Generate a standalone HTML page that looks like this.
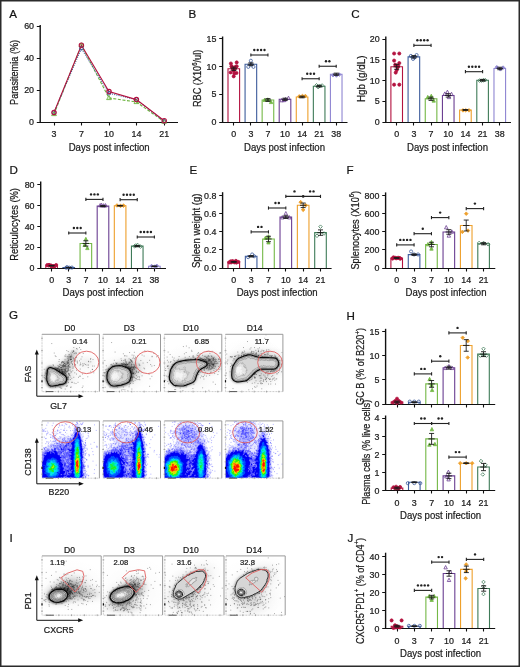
<!DOCTYPE html>
<html><head><meta charset="utf-8"><style>
html,body{margin:0;padding:0;background:#fff;width:520px;height:667px;overflow:hidden}
svg{display:block;font-family:"Liberation Sans",sans-serif;will-change:transform}
text{stroke:#1a1a1a;stroke-width:0.22px}
</style></head><body>
<svg width="520" height="667" viewBox="0 0 520 667">
<rect x='0.75' y='0.75' width='518.5' height='665.5' fill='#fff' stroke='#2b2b2b' stroke-width='1.5'/>
<text x='9.2' y='18.2' font-size='11.6' text-anchor='start' fill='#111'>A</text>
<text x='188.6' y='18.2' font-size='11.6' text-anchor='start' fill='#111'>B</text>
<text x='351.3' y='18.2' font-size='11.6' text-anchor='start' fill='#111'>C</text>
<text x='9.4' y='173.5' font-size='11.6' text-anchor='start' fill='#111'>D</text>
<text x='189.6' y='173.5' font-size='11.6' text-anchor='start' fill='#111'>E</text>
<text x='346.6' y='173.5' font-size='11.6' text-anchor='start' fill='#111'>F</text>
<text x='9.1' y='319.3' font-size='11.6' text-anchor='start' fill='#111'>G</text>
<text x='346.4' y='319.5' font-size='11.6' text-anchor='start' fill='#111'>H</text>
<text x='9.4' y='541.6' font-size='11.6' text-anchor='start' fill='#111'>I</text>
<text x='347.4' y='541.6' font-size='11.6' text-anchor='start' fill='#111'>J</text>
<line x1='40.2' y1='25' x2='40.2' y2='122.5' stroke='#111' stroke-width='1.4' />
<line x1='36.800000000000004' y1='122.5' x2='178' y2='122.5' stroke='#111' stroke-width='1.15' />
<text x='34.0' y='125.2' font-size='8.9' text-anchor='end' fill='#1a1a1a'>0</text>
<line x1='36.800000000000004' y1='90.5' x2='40.2' y2='90.5' stroke='#111' stroke-width='1.0' />
<text x='34.0' y='93.2' font-size='8.9' text-anchor='end' fill='#1a1a1a'>20</text>
<line x1='36.800000000000004' y1='58.5' x2='40.2' y2='58.5' stroke='#111' stroke-width='1.0' />
<text x='34.0' y='61.2' font-size='8.9' text-anchor='end' fill='#1a1a1a'>40</text>
<line x1='36.800000000000004' y1='26.5' x2='40.2' y2='26.5' stroke='#111' stroke-width='1.0' />
<text x='34.0' y='29.2' font-size='8.9' text-anchor='end' fill='#1a1a1a'>60</text>
<line x1='54.5' y1='122.5' x2='54.5' y2='125.5' stroke='#111' stroke-width='1.1' />
<text x='54' y='137.2' font-size='8.9' text-anchor='middle' fill='#1a1a1a'>3</text>
<line x1='81.5' y1='122.5' x2='81.5' y2='125.5' stroke='#111' stroke-width='1.1' />
<text x='81.4' y='137.2' font-size='8.9' text-anchor='middle' fill='#1a1a1a'>7</text>
<line x1='109.5' y1='122.5' x2='109.5' y2='125.5' stroke='#111' stroke-width='1.1' />
<text x='109' y='137.2' font-size='8.9' text-anchor='middle' fill='#1a1a1a'>10</text>
<line x1='136.5' y1='122.5' x2='136.5' y2='125.5' stroke='#111' stroke-width='1.1' />
<text x='136.4' y='137.2' font-size='8.9' text-anchor='middle' fill='#1a1a1a'>14</text>
<line x1='164.5' y1='122.5' x2='164.5' y2='125.5' stroke='#111' stroke-width='1.1' />
<text x='164.2' y='137.2' font-size='8.9' text-anchor='middle' fill='#1a1a1a'>21</text>
<path d='M54.00,114.00 L81.40,45.20 L109.00,98.00 L136.40,102.00 L164.20,121.68' fill='none' stroke='#6db33f' stroke-width='1.1' stroke-dasharray='3,1.6'/>
<path d='M54.00,112.40 L81.40,48.40 L109.00,93.20 L136.40,99.60 L164.20,121.36' fill='none' stroke='#3d5c9c' stroke-width='1.1' stroke-dasharray='1,1.2'/>
<path d='M54.00,112.40 L81.40,45.20 L109.00,91.60 L136.40,99.60 L164.20,120.72' fill='none' stroke='#b3123f' stroke-width='1.1' stroke-dasharray=''/>
<path d='M54,111.6 L56.4,115.6 L51.6,115.6 Z' fill='none' stroke='#6db33f' stroke-width='0.9'/>
<path d='M81.4,42.79999999999999 L83.80000000000001,46.79999999999999 L79.0,46.79999999999999 Z' fill='none' stroke='#6db33f' stroke-width='0.9'/>
<path d='M109,95.6 L111.4,99.6 L106.6,99.6 Z' fill='none' stroke='#6db33f' stroke-width='0.9'/>
<path d='M136.4,99.6 L138.8,103.6 L134.0,103.6 Z' fill='none' stroke='#6db33f' stroke-width='0.9'/>
<path d='M164.2,119.28 L166.6,123.28 L161.79999999999998,123.28 Z' fill='none' stroke='#6db33f' stroke-width='0.9'/>
<circle cx='54' cy='112.4' r='1.8' fill='none' stroke='#3d5c9c' stroke-width='0.9'/>
<circle cx='81.4' cy='48.39999999999999' r='1.8' fill='none' stroke='#3d5c9c' stroke-width='0.9'/>
<circle cx='109' cy='93.2' r='1.8' fill='none' stroke='#3d5c9c' stroke-width='0.9'/>
<circle cx='136.4' cy='99.6' r='1.8' fill='none' stroke='#3d5c9c' stroke-width='0.9'/>
<circle cx='164.2' cy='121.36' r='1.8' fill='none' stroke='#3d5c9c' stroke-width='0.9'/>
<circle cx='54' cy='112.4' r='2.2' fill='none' stroke='#b3123f' stroke-width='1.1'/>
<circle cx='81.4' cy='45.19999999999999' r='2.2' fill='none' stroke='#b3123f' stroke-width='1.1'/>
<circle cx='109' cy='91.6' r='2.2' fill='none' stroke='#b3123f' stroke-width='1.1'/>
<circle cx='136.4' cy='99.6' r='2.2' fill='none' stroke='#b3123f' stroke-width='1.1'/>
<circle cx='164.2' cy='120.72' r='2.2' fill='none' stroke='#b3123f' stroke-width='1.1'/>
<text transform='translate(14.4,72.4) rotate(-90)' x='0' y='0' font-size='10' text-anchor='middle' dominant-baseline='central' fill='#1a1a1a' textLength='65' lengthAdjust='spacingAndGlyphs'>Parasitemia (%)</text>
<text x='109.2' y='151' font-size='10.5' text-anchor='middle' fill='#1a1a1a' textLength='81' lengthAdjust='spacingAndGlyphs'>Days post infection</text>
<path d='M228.00,122.00 L228.00,68.75 L239.60,68.75 L239.60,122.00' fill='none' stroke='#b3123f' stroke-width='1.1'/>
<path d='M245.07,122.00 L245.07,64.24 L256.67,64.24 L256.67,122.00' fill='none' stroke='#3d5c9c' stroke-width='1.1'/>
<path d='M262.14,122.00 L262.14,100.00 L273.74,100.00 L273.74,122.00' fill='none' stroke='#74b846' stroke-width='1.1'/>
<path d='M279.21,122.00 L279.21,99.27 L290.81,99.27 L290.81,122.00' fill='none' stroke='#6b3f92' stroke-width='1.1'/>
<path d='M296.28,122.00 L296.28,96.99 L307.88,96.99 L307.88,122.00' fill='none' stroke='#eea02c' stroke-width='1.1'/>
<path d='M313.35,122.00 L313.35,86.24 L324.95,86.24 L324.95,122.00' fill='none' stroke='#3f7b58' stroke-width='1.1'/>
<path d='M330.42,122.00 L330.42,74.27 L342.02,74.27 L342.02,122.00' fill='none' stroke='#8f86d2' stroke-width='1.1'/>
<line x1='222.6' y1='36.5' x2='222.6' y2='122.5' stroke='#111' stroke-width='1.4' />
<line x1='219.2' y1='122.5' x2='347.5' y2='122.5' stroke='#111' stroke-width='1.15' />
<text x='216.4' y='125.2' font-size='8.9' text-anchor='end' fill='#1a1a1a'>0</text>
<line x1='219.2' y1='94.5' x2='222.6' y2='94.5' stroke='#111' stroke-width='1.0' />
<text x='216.4' y='97.35000000000001' font-size='8.9' text-anchor='end' fill='#1a1a1a'>5</text>
<line x1='219.2' y1='66.5' x2='222.6' y2='66.5' stroke='#111' stroke-width='1.0' />
<text x='216.4' y='69.5' font-size='8.9' text-anchor='end' fill='#1a1a1a'>10</text>
<line x1='219.2' y1='38.5' x2='222.6' y2='38.5' stroke='#111' stroke-width='1.0' />
<text x='216.4' y='41.64999999999999' font-size='8.9' text-anchor='end' fill='#1a1a1a'>15</text>
<line x1='233.5' y1='122.5' x2='233.5' y2='125.5' stroke='#111' stroke-width='1.1' />
<text x='233.8' y='137.2' font-size='8.9' text-anchor='middle' fill='#1a1a1a'>0</text>
<line x1='250.5' y1='122.5' x2='250.5' y2='125.5' stroke='#111' stroke-width='1.1' />
<text x='250.87' y='137.2' font-size='8.9' text-anchor='middle' fill='#1a1a1a'>3</text>
<line x1='267.5' y1='122.5' x2='267.5' y2='125.5' stroke='#111' stroke-width='1.1' />
<text x='267.94' y='137.2' font-size='8.9' text-anchor='middle' fill='#1a1a1a'>7</text>
<line x1='285.5' y1='122.5' x2='285.5' y2='125.5' stroke='#111' stroke-width='1.1' />
<text x='285.01' y='137.2' font-size='8.9' text-anchor='middle' fill='#1a1a1a'>10</text>
<line x1='302.5' y1='122.5' x2='302.5' y2='125.5' stroke='#111' stroke-width='1.1' />
<text x='302.08000000000004' y='137.2' font-size='8.9' text-anchor='middle' fill='#1a1a1a'>14</text>
<line x1='319.5' y1='122.5' x2='319.5' y2='125.5' stroke='#111' stroke-width='1.1' />
<text x='319.15' y='137.2' font-size='8.9' text-anchor='middle' fill='#1a1a1a'>21</text>
<line x1='336.5' y1='122.5' x2='336.5' y2='125.5' stroke='#111' stroke-width='1.1' />
<text x='336.22' y='137.2' font-size='8.9' text-anchor='middle' fill='#1a1a1a'>38</text>
<circle cx='230.90' cy='63.52' r='1.55' fill='#b3123f' stroke='#b3123f' stroke-width='0.8'/>
<circle cx='236.70' cy='62.40' r='1.55' fill='#b3123f' stroke='#b3123f' stroke-width='0.8'/>
<circle cx='231.50' cy='66.30' r='1.55' fill='#b3123f' stroke='#b3123f' stroke-width='0.8'/>
<circle cx='236.70' cy='66.30' r='1.55' fill='#b3123f' stroke='#b3123f' stroke-width='0.8'/>
<circle cx='233.00' cy='69.08' r='1.55' fill='#b3123f' stroke='#b3123f' stroke-width='0.8'/>
<circle cx='235.00' cy='68.53' r='1.55' fill='#b3123f' stroke='#b3123f' stroke-width='0.8'/>
<circle cx='233.80' cy='70.76' r='1.55' fill='#b3123f' stroke='#b3123f' stroke-width='0.8'/>
<circle cx='230.60' cy='72.43' r='1.55' fill='#b3123f' stroke='#b3123f' stroke-width='0.8'/>
<circle cx='236.50' cy='72.98' r='1.55' fill='#b3123f' stroke='#b3123f' stroke-width='0.8'/>
<circle cx='233.70' cy='76.33' r='1.55' fill='#b3123f' stroke='#b3123f' stroke-width='0.8'/>
<circle cx='232.00' cy='66.86' r='1.55' fill='#b3123f' stroke='#b3123f' stroke-width='0.8'/>
<circle cx='235.60' cy='66.86' r='1.55' fill='#b3123f' stroke='#b3123f' stroke-width='0.8'/>
<circle cx='234.30' cy='73.54' r='1.55' fill='#b3123f' stroke='#b3123f' stroke-width='0.8'/>
<line x1='233.8' y1='67.07979999999999' x2='233.8' y2='70.42179999999999' stroke='#1a1a1a' stroke-width='0.9' />
<line x1='231.3' y1='67.07979999999999' x2='236.3' y2='67.07979999999999' stroke='#1a1a1a' stroke-width='0.9' />
<line x1='231.3' y1='70.42179999999999' x2='236.3' y2='70.42179999999999' stroke='#1a1a1a' stroke-width='0.9' />
<line x1='230.60000000000002' y1='68.7508' x2='237.0' y2='68.7508' stroke='#1a1a1a' stroke-width='0.9' />
<circle cx='250.87' cy='60.73' r='1.55' fill='none' stroke='#3d5c9c' stroke-width='0.8'/>
<circle cx='248.27' cy='66.86' r='1.55' fill='none' stroke='#3d5c9c' stroke-width='0.8'/>
<circle cx='253.47' cy='66.86' r='1.55' fill='none' stroke='#3d5c9c' stroke-width='0.8'/>
<circle cx='251.07' cy='64.63' r='1.55' fill='none' stroke='#3d5c9c' stroke-width='0.8'/>
<line x1='250.87' y1='62.8466' x2='250.87' y2='65.63159999999999' stroke='#1a1a1a' stroke-width='0.9' />
<line x1='248.37' y1='62.8466' x2='253.37' y2='62.8466' stroke='#1a1a1a' stroke-width='0.9' />
<line x1='248.37' y1='65.63159999999999' x2='253.37' y2='65.63159999999999' stroke='#1a1a1a' stroke-width='0.9' />
<line x1='247.67000000000002' y1='64.23910000000001' x2='254.07' y2='64.23910000000001' stroke='#1a1a1a' stroke-width='0.9' />
<path d='M264.63,98.07 L266.33,101.44 L262.92,101.44 Z' fill='#74b846' stroke='#74b846' stroke-width='0.8'/>
<path d='M267.78,97.81 L269.49,101.18 L266.08,101.18 Z' fill='#74b846' stroke='#74b846' stroke-width='0.8'/>
<path d='M271.09,100.21 L272.80,103.58 L269.39,103.58 Z' fill='#74b846' stroke='#74b846' stroke-width='0.8'/>
<line x1='267.94' y1='98.606' x2='267.94' y2='101.39099999999999' stroke='#1a1a1a' stroke-width='0.9' />
<line x1='265.44' y1='98.606' x2='270.44' y2='98.606' stroke='#1a1a1a' stroke-width='0.9' />
<line x1='265.44' y1='101.39099999999999' x2='270.44' y2='101.39099999999999' stroke='#1a1a1a' stroke-width='0.9' />
<line x1='264.74' y1='99.99849999999999' x2='271.14' y2='99.99849999999999' stroke='#1a1a1a' stroke-width='0.9' />
<path d='M281.69,98.48 L283.40,101.85 L279.99,101.85 Z' fill='none' stroke='#6b3f92' stroke-width='0.8'/>
<path d='M283.89,98.31 L285.59,101.68 L282.18,101.68 Z' fill='none' stroke='#6b3f92' stroke-width='0.8'/>
<path d='M285.49,97.49 L287.19,100.86 L283.78,100.86 Z' fill='none' stroke='#6b3f92' stroke-width='0.8'/>
<path d='M288.51,96.15 L290.22,99.52 L286.81,99.52 Z' fill='none' stroke='#6b3f92' stroke-width='0.8'/>
<line x1='285.01' y1='98.1604' x2='285.01' y2='100.3884' stroke='#1a1a1a' stroke-width='0.9' />
<line x1='282.51' y1='98.1604' x2='287.51' y2='98.1604' stroke='#1a1a1a' stroke-width='0.9' />
<line x1='282.51' y1='100.3884' x2='287.51' y2='100.3884' stroke='#1a1a1a' stroke-width='0.9' />
<line x1='281.81' y1='99.2744' x2='288.21' y2='99.2744' stroke='#1a1a1a' stroke-width='0.9' />
<path d='M299.23,94.61 L301.01,96.40 L299.23,98.18 L297.44,96.40 Z' fill='#eea02c' stroke='#eea02c' stroke-width='0.8'/>
<path d='M302.43,94.17 L304.22,95.95 L302.43,97.73 L300.65,95.95 Z' fill='#eea02c' stroke='#eea02c' stroke-width='0.8'/>
<path d='M305.37,94.21 L307.15,95.99 L305.37,97.78 L303.59,95.99 Z' fill='#eea02c' stroke='#eea02c' stroke-width='0.8'/>
<line x1='302.08000000000004' y1='96.1552' x2='302.08000000000004' y2='97.8262' stroke='#1a1a1a' stroke-width='0.9' />
<line x1='299.58000000000004' y1='96.1552' x2='304.58000000000004' y2='96.1552' stroke='#1a1a1a' stroke-width='0.9' />
<line x1='299.58000000000004' y1='97.8262' x2='304.58000000000004' y2='97.8262' stroke='#1a1a1a' stroke-width='0.9' />
<line x1='298.88000000000005' y1='96.9907' x2='305.28000000000003' y2='96.9907' stroke='#1a1a1a' stroke-width='0.9' />
<path d='M316.50,83.49 L318.28,85.28 L316.50,87.06 L314.72,85.28 Z' fill='none' stroke='#3f7b58' stroke-width='0.8'/>
<path d='M318.13,85.37 L319.91,87.15 L318.13,88.93 L316.35,87.15 Z' fill='none' stroke='#3f7b58' stroke-width='0.8'/>
<path d='M319.55,84.03 L321.33,85.81 L319.55,87.59 L317.77,85.81 Z' fill='none' stroke='#3f7b58' stroke-width='0.8'/>
<path d='M322.11,83.70 L323.90,85.48 L322.11,87.27 L320.33,85.48 Z' fill='none' stroke='#3f7b58' stroke-width='0.8'/>
<line x1='319.15' y1='85.4051' x2='319.15' y2='87.0761' stroke='#1a1a1a' stroke-width='0.9' />
<line x1='316.65' y1='85.4051' x2='321.65' y2='85.4051' stroke='#1a1a1a' stroke-width='0.9' />
<line x1='316.65' y1='87.0761' x2='321.65' y2='87.0761' stroke='#1a1a1a' stroke-width='0.9' />
<line x1='315.95' y1='86.2406' x2='322.34999999999997' y2='86.2406' stroke='#1a1a1a' stroke-width='0.9' />
<path d='M333.01,73.48 L334.79,75.26 L333.01,77.05 L331.23,75.26 Z' fill='#8f86d2' stroke='#8f86d2' stroke-width='0.8'/>
<path d='M336.40,73.74 L338.18,75.53 L336.40,77.31 L334.62,75.53 Z' fill='#8f86d2' stroke='#8f86d2' stroke-width='0.8'/>
<path d='M339.26,72.76 L341.05,74.55 L339.26,76.33 L337.48,74.55 Z' fill='#8f86d2' stroke='#8f86d2' stroke-width='0.8'/>
<line x1='336.22' y1='73.1511' x2='336.22' y2='75.3791' stroke='#1a1a1a' stroke-width='0.9' />
<line x1='333.72' y1='73.1511' x2='338.72' y2='73.1511' stroke='#1a1a1a' stroke-width='0.9' />
<line x1='333.72' y1='75.3791' x2='338.72' y2='75.3791' stroke='#1a1a1a' stroke-width='0.9' />
<line x1='333.02000000000004' y1='74.26509999999999' x2='339.42' y2='74.26509999999999' stroke='#1a1a1a' stroke-width='0.9' />
<line x1='250.87' y1='55' x2='267.94' y2='55' stroke='#222' stroke-width='1.1' />
<line x1='250.87' y1='53.4' x2='250.87' y2='56.6' stroke='#222' stroke-width='1.1' />
<line x1='267.94' y1='53.4' x2='267.94' y2='56.6' stroke='#222' stroke-width='1.1' />
<circle cx='254.30' cy='50.00' r='1.2' fill='#222'/>
<circle cx='257.70' cy='50.00' r='1.2' fill='#222'/>
<circle cx='261.10' cy='50.00' r='1.2' fill='#222'/>
<circle cx='264.50' cy='50.00' r='1.2' fill='#222'/>
<line x1='302.08000000000004' y1='78.75' x2='319.15' y2='78.75' stroke='#222' stroke-width='1.1' />
<line x1='302.08000000000004' y1='77.15' x2='302.08000000000004' y2='80.35' stroke='#222' stroke-width='1.1' />
<line x1='319.15' y1='77.15' x2='319.15' y2='80.35' stroke='#222' stroke-width='1.1' />
<circle cx='307.22' cy='73.75' r='1.2' fill='#222'/>
<circle cx='310.62' cy='73.75' r='1.2' fill='#222'/>
<circle cx='314.02' cy='73.75' r='1.2' fill='#222'/>
<line x1='319.15' y1='66.25' x2='336.22' y2='66.25' stroke='#222' stroke-width='1.1' />
<line x1='319.15' y1='64.65' x2='319.15' y2='67.85' stroke='#222' stroke-width='1.1' />
<line x1='336.22' y1='64.65' x2='336.22' y2='67.85' stroke='#222' stroke-width='1.1' />
<circle cx='325.99' cy='61.25' r='1.2' fill='#222'/>
<circle cx='329.38' cy='61.25' r='1.2' fill='#222'/>
<text transform='translate(197.5,78.4) rotate(-90)' x='0' y='0' font-size='10' text-anchor='middle' dominant-baseline='central' fill='#1a1a1a' textLength='57.4' lengthAdjust='spacingAndGlyphs'>RBC (X10<tspan baseline-shift='super' font-size='6.5'>6</tspan>/ul)</text>
<text x='284.5' y='151' font-size='10.5' text-anchor='middle' fill='#1a1a1a' textLength='81' lengthAdjust='spacingAndGlyphs'>Days post infection</text>
<path d='M390.90,122.00 L390.90,66.80 L402.50,66.80 L402.50,122.00' fill='none' stroke='#b3123f' stroke-width='1.1'/>
<path d='M408.08,122.00 L408.08,56.84 L419.68,56.84 L419.68,122.00' fill='none' stroke='#3d5c9c' stroke-width='1.1'/>
<path d='M425.26,122.00 L425.26,98.76 L436.86,98.76 L436.86,122.00' fill='none' stroke='#74b846' stroke-width='1.1'/>
<path d='M442.44,122.00 L442.44,95.44 L454.04,95.44 L454.04,122.00' fill='none' stroke='#6b3f92' stroke-width='1.1'/>
<path d='M459.62,122.00 L459.62,109.97 L471.22,109.97 L471.22,122.00' fill='none' stroke='#eea02c' stroke-width='1.1'/>
<path d='M476.80,122.00 L476.80,80.29 L488.40,80.29 L488.40,122.00' fill='none' stroke='#3f7b58' stroke-width='1.1'/>
<path d='M493.98,122.00 L493.98,68.47 L505.58,68.47 L505.58,122.00' fill='none' stroke='#8f86d2' stroke-width='1.1'/>
<line x1='385.8' y1='36.5' x2='385.8' y2='122.5' stroke='#111' stroke-width='1.4' />
<line x1='382.40000000000003' y1='122.5' x2='511' y2='122.5' stroke='#111' stroke-width='1.15' />
<text x='379.6' y='125.2' font-size='8.9' text-anchor='end' fill='#1a1a1a'>0</text>
<line x1='382.40000000000003' y1='101.5' x2='385.8' y2='101.5' stroke='#111' stroke-width='1.0' />
<text x='379.6' y='104.45' font-size='8.9' text-anchor='end' fill='#1a1a1a'>5</text>
<line x1='382.40000000000003' y1='80.5' x2='385.8' y2='80.5' stroke='#111' stroke-width='1.0' />
<text x='379.6' y='83.7' font-size='8.9' text-anchor='end' fill='#1a1a1a'>10</text>
<line x1='382.40000000000003' y1='59.5' x2='385.8' y2='59.5' stroke='#111' stroke-width='1.0' />
<text x='379.6' y='62.949999999999996' font-size='8.9' text-anchor='end' fill='#1a1a1a'>15</text>
<line x1='382.40000000000003' y1='39.5' x2='385.8' y2='39.5' stroke='#111' stroke-width='1.0' />
<text x='379.6' y='42.2' font-size='8.9' text-anchor='end' fill='#1a1a1a'>20</text>
<line x1='396.5' y1='122.5' x2='396.5' y2='125.5' stroke='#111' stroke-width='1.1' />
<text x='396.7' y='137.2' font-size='8.9' text-anchor='middle' fill='#1a1a1a'>0</text>
<line x1='413.5' y1='122.5' x2='413.5' y2='125.5' stroke='#111' stroke-width='1.1' />
<text x='413.88' y='137.2' font-size='8.9' text-anchor='middle' fill='#1a1a1a'>3</text>
<line x1='431.5' y1='122.5' x2='431.5' y2='125.5' stroke='#111' stroke-width='1.1' />
<text x='431.06' y='137.2' font-size='8.9' text-anchor='middle' fill='#1a1a1a'>7</text>
<line x1='448.5' y1='122.5' x2='448.5' y2='125.5' stroke='#111' stroke-width='1.1' />
<text x='448.24' y='137.2' font-size='8.9' text-anchor='middle' fill='#1a1a1a'>10</text>
<line x1='465.5' y1='122.5' x2='465.5' y2='125.5' stroke='#111' stroke-width='1.1' />
<text x='465.41999999999996' y='137.2' font-size='8.9' text-anchor='middle' fill='#1a1a1a'>14</text>
<line x1='482.5' y1='122.5' x2='482.5' y2='125.5' stroke='#111' stroke-width='1.1' />
<text x='482.6' y='137.2' font-size='8.9' text-anchor='middle' fill='#1a1a1a'>21</text>
<line x1='499.5' y1='122.5' x2='499.5' y2='125.5' stroke='#111' stroke-width='1.1' />
<text x='499.78' y='137.2' font-size='8.9' text-anchor='middle' fill='#1a1a1a'>38</text>
<circle cx='394.10' cy='53.52' r='1.55' fill='#b3123f' stroke='#b3123f' stroke-width='0.8'/>
<circle cx='399.30' cy='53.52' r='1.55' fill='#b3123f' stroke='#b3123f' stroke-width='0.8'/>
<circle cx='394.10' cy='60.58' r='1.55' fill='#b3123f' stroke='#b3123f' stroke-width='0.8'/>
<circle cx='395.20' cy='64.73' r='1.55' fill='#b3123f' stroke='#b3123f' stroke-width='0.8'/>
<circle cx='399.30' cy='63.07' r='1.55' fill='#b3123f' stroke='#b3123f' stroke-width='0.8'/>
<circle cx='396.70' cy='65.97' r='1.55' fill='#b3123f' stroke='#b3123f' stroke-width='0.8'/>
<circle cx='397.70' cy='67.22' r='1.55' fill='#b3123f' stroke='#b3123f' stroke-width='0.8'/>
<circle cx='395.70' cy='72.61' r='1.55' fill='#b3123f' stroke='#b3123f' stroke-width='0.8'/>
<circle cx='394.10' cy='84.65' r='1.55' fill='#b3123f' stroke='#b3123f' stroke-width='0.8'/>
<circle cx='399.30' cy='84.65' r='1.55' fill='#b3123f' stroke='#b3123f' stroke-width='0.8'/>
<circle cx='396.70' cy='70.12' r='1.55' fill='#b3123f' stroke='#b3123f' stroke-width='0.8'/>
<circle cx='398.20' cy='65.56' r='1.55' fill='#b3123f' stroke='#b3123f' stroke-width='0.8'/>
<line x1='396.7' y1='64.315' x2='396.7' y2='69.29499999999999' stroke='#1a1a1a' stroke-width='0.9' />
<line x1='394.2' y1='64.315' x2='399.2' y2='64.315' stroke='#1a1a1a' stroke-width='0.9' />
<line x1='394.2' y1='69.29499999999999' x2='399.2' y2='69.29499999999999' stroke='#1a1a1a' stroke-width='0.9' />
<line x1='393.5' y1='66.80499999999999' x2='399.9' y2='66.80499999999999' stroke='#1a1a1a' stroke-width='0.9' />
<circle cx='410.85' cy='55.93' r='1.55' fill='none' stroke='#3d5c9c' stroke-width='0.8'/>
<circle cx='413.08' cy='58.92' r='1.55' fill='none' stroke='#3d5c9c' stroke-width='0.8'/>
<circle cx='414.29' cy='57.57' r='1.55' fill='none' stroke='#3d5c9c' stroke-width='0.8'/>
<circle cx='416.61' cy='55.04' r='1.55' fill='none' stroke='#3d5c9c' stroke-width='0.8'/>
<line x1='413.88' y1='55.599999999999994' x2='413.88' y2='58.09' stroke='#1a1a1a' stroke-width='0.9' />
<line x1='411.38' y1='55.599999999999994' x2='416.38' y2='55.599999999999994' stroke='#1a1a1a' stroke-width='0.9' />
<line x1='411.38' y1='58.09' x2='416.38' y2='58.09' stroke='#1a1a1a' stroke-width='0.9' />
<line x1='410.68' y1='56.845' x2='417.08' y2='56.845' stroke='#1a1a1a' stroke-width='0.9' />
<path d='M427.77,95.37 L429.48,98.74 L426.07,98.74 Z' fill='#74b846' stroke='#74b846' stroke-width='0.8'/>
<path d='M431.28,94.15 L432.99,97.51 L429.58,97.51 Z' fill='#74b846' stroke='#74b846' stroke-width='0.8'/>
<path d='M433.68,98.77 L435.39,102.14 L431.98,102.14 Z' fill='#74b846' stroke='#74b846' stroke-width='0.8'/>
<line x1='431.06' y1='97.1' x2='431.06' y2='100.42' stroke='#1a1a1a' stroke-width='0.9' />
<line x1='428.56' y1='97.1' x2='433.56' y2='97.1' stroke='#1a1a1a' stroke-width='0.9' />
<line x1='428.56' y1='100.42' x2='433.56' y2='100.42' stroke='#1a1a1a' stroke-width='0.9' />
<line x1='427.86' y1='98.75999999999999' x2='434.26' y2='98.75999999999999' stroke='#1a1a1a' stroke-width='0.9' />
<path d='M444.77,91.92 L446.47,95.29 L443.06,95.29 Z' fill='none' stroke='#6b3f92' stroke-width='0.8'/>
<path d='M447.42,90.15 L449.13,93.51 L445.72,93.51 Z' fill='none' stroke='#6b3f92' stroke-width='0.8'/>
<path d='M448.97,95.26 L450.67,98.63 L447.26,98.63 Z' fill='none' stroke='#6b3f92' stroke-width='0.8'/>
<path d='M451.52,92.25 L453.23,95.62 L449.82,95.62 Z' fill='none' stroke='#6b3f92' stroke-width='0.8'/>
<line x1='448.24' y1='93.78' x2='448.24' y2='97.1' stroke='#1a1a1a' stroke-width='0.9' />
<line x1='445.74' y1='93.78' x2='450.74' y2='93.78' stroke='#1a1a1a' stroke-width='0.9' />
<line x1='445.74' y1='97.1' x2='450.74' y2='97.1' stroke='#1a1a1a' stroke-width='0.9' />
<line x1='445.04' y1='95.44' x2='451.44' y2='95.44' stroke='#1a1a1a' stroke-width='0.9' />
<path d='M462.98,108.59 L464.76,110.37 L462.98,112.15 L461.20,110.37 Z' fill='#eea02c' stroke='#eea02c' stroke-width='0.8'/>
<path d='M465.70,108.47 L467.49,110.25 L465.70,112.03 L463.92,110.25 Z' fill='#eea02c' stroke='#eea02c' stroke-width='0.8'/>
<path d='M469.00,108.58 L470.79,110.37 L469.00,112.15 L467.22,110.37 Z' fill='#eea02c' stroke='#eea02c' stroke-width='0.8'/>
<line x1='465.41999999999996' y1='109.55' x2='465.41999999999996' y2='110.38' stroke='#1a1a1a' stroke-width='0.9' />
<line x1='462.91999999999996' y1='109.55' x2='467.91999999999996' y2='109.55' stroke='#1a1a1a' stroke-width='0.9' />
<line x1='462.91999999999996' y1='110.38' x2='467.91999999999996' y2='110.38' stroke='#1a1a1a' stroke-width='0.9' />
<line x1='462.21999999999997' y1='109.965' x2='468.61999999999995' y2='109.965' stroke='#1a1a1a' stroke-width='0.9' />
<path d='M479.43,78.77 L481.22,80.55 L479.43,82.33 L477.65,80.55 Z' fill='none' stroke='#3f7b58' stroke-width='0.8'/>
<path d='M481.50,78.85 L483.28,80.63 L481.50,82.42 L479.72,80.63 Z' fill='none' stroke='#3f7b58' stroke-width='0.8'/>
<path d='M483.49,78.32 L485.27,80.11 L483.49,81.89 L481.71,80.11 Z' fill='none' stroke='#3f7b58' stroke-width='0.8'/>
<path d='M485.31,78.38 L487.09,80.16 L485.31,81.95 L483.53,80.16 Z' fill='none' stroke='#3f7b58' stroke-width='0.8'/>
<line x1='482.6' y1='79.4625' x2='482.6' y2='81.12249999999999' stroke='#1a1a1a' stroke-width='0.9' />
<line x1='480.1' y1='79.4625' x2='485.1' y2='79.4625' stroke='#1a1a1a' stroke-width='0.9' />
<line x1='480.1' y1='81.12249999999999' x2='485.1' y2='81.12249999999999' stroke='#1a1a1a' stroke-width='0.9' />
<line x1='479.40000000000003' y1='80.29249999999999' x2='485.8' y2='80.29249999999999' stroke='#1a1a1a' stroke-width='0.9' />
<path d='M496.81,65.41 L498.59,67.19 L496.81,68.97 L495.02,67.19 Z' fill='#8f86d2' stroke='#8f86d2' stroke-width='0.8'/>
<path d='M500.33,67.56 L502.12,69.34 L500.33,71.12 L498.55,69.34 Z' fill='#8f86d2' stroke='#8f86d2' stroke-width='0.8'/>
<path d='M503.10,65.83 L504.88,67.62 L503.10,69.40 L501.32,67.62 Z' fill='#8f86d2' stroke='#8f86d2' stroke-width='0.8'/>
<line x1='499.78' y1='67.22' x2='499.78' y2='69.71' stroke='#1a1a1a' stroke-width='0.9' />
<line x1='497.28' y1='67.22' x2='502.28' y2='67.22' stroke='#1a1a1a' stroke-width='0.9' />
<line x1='497.28' y1='69.71' x2='502.28' y2='69.71' stroke='#1a1a1a' stroke-width='0.9' />
<line x1='496.58' y1='68.465' x2='502.97999999999996' y2='68.465' stroke='#1a1a1a' stroke-width='0.9' />
<line x1='413.88' y1='45.3' x2='431.06' y2='45.3' stroke='#222' stroke-width='1.1' />
<line x1='413.88' y1='43.699999999999996' x2='413.88' y2='46.9' stroke='#222' stroke-width='1.1' />
<line x1='431.06' y1='43.699999999999996' x2='431.06' y2='46.9' stroke='#222' stroke-width='1.1' />
<circle cx='417.37' cy='40.30' r='1.2' fill='#222'/>
<circle cx='420.77' cy='40.30' r='1.2' fill='#222'/>
<circle cx='424.17' cy='40.30' r='1.2' fill='#222'/>
<circle cx='427.57' cy='40.30' r='1.2' fill='#222'/>
<line x1='465.41999999999996' y1='71.7' x2='482.6' y2='71.7' stroke='#222' stroke-width='1.1' />
<line x1='465.41999999999996' y1='70.10000000000001' x2='465.41999999999996' y2='73.3' stroke='#222' stroke-width='1.1' />
<line x1='482.6' y1='70.10000000000001' x2='482.6' y2='73.3' stroke='#222' stroke-width='1.1' />
<circle cx='468.91' cy='66.70' r='1.2' fill='#222'/>
<circle cx='472.31' cy='66.70' r='1.2' fill='#222'/>
<circle cx='475.71' cy='66.70' r='1.2' fill='#222'/>
<circle cx='479.11' cy='66.70' r='1.2' fill='#222'/>
<text transform='translate(361,78.8) rotate(-90)' x='0' y='0' font-size='10' text-anchor='middle' dominant-baseline='central' fill='#1a1a1a' textLength='46.5' lengthAdjust='spacingAndGlyphs'>Hgb (g/dL)</text>
<text x='447.5' y='151' font-size='10.5' text-anchor='middle' fill='#1a1a1a' textLength='81' lengthAdjust='spacingAndGlyphs'>Days post infection</text>
<path d='M45.80,268.10 L45.80,265.70 L57.40,265.70 L57.40,268.10' fill='none' stroke='#b3123f' stroke-width='1.1'/>
<path d='M62.93,268.10 L62.93,267.58 L74.53,267.58 L74.53,268.10' fill='none' stroke='#3d5c9c' stroke-width='1.1'/>
<path d='M80.06,268.10 L80.06,243.44 L91.66,243.44 L91.66,268.10' fill='none' stroke='#74b846' stroke-width='1.1'/>
<path d='M97.19,268.10 L97.19,206.13 L108.79,206.13 L108.79,268.10' fill='none' stroke='#6b3f92' stroke-width='1.1'/>
<path d='M114.32,268.10 L114.32,205.71 L125.92,205.71 L125.92,268.10' fill='none' stroke='#eea02c' stroke-width='1.1'/>
<path d='M131.45,268.10 L131.45,246.16 L143.05,246.16 L143.05,268.10' fill='none' stroke='#3f7b58' stroke-width='1.1'/>
<path d='M148.58,268.10 L148.58,266.32 L160.18,266.32 L160.18,268.10' fill='none' stroke='#8f86d2' stroke-width='1.1'/>
<line x1='40.7' y1='181.5' x2='40.7' y2='268.5' stroke='#111' stroke-width='1.4' />
<line x1='37.300000000000004' y1='268.5' x2='166' y2='268.5' stroke='#111' stroke-width='1.15' />
<text x='34.5' y='271.3' font-size='8.9' text-anchor='end' fill='#1a1a1a'>0</text>
<line x1='37.300000000000004' y1='247.5' x2='40.7' y2='247.5' stroke='#111' stroke-width='1.0' />
<text x='34.5' y='250.4' font-size='8.9' text-anchor='end' fill='#1a1a1a'>20</text>
<line x1='37.300000000000004' y1='226.5' x2='40.7' y2='226.5' stroke='#111' stroke-width='1.0' />
<text x='34.5' y='229.5' font-size='8.9' text-anchor='end' fill='#1a1a1a'>40</text>
<line x1='37.300000000000004' y1='205.5' x2='40.7' y2='205.5' stroke='#111' stroke-width='1.0' />
<text x='34.5' y='208.60000000000002' font-size='8.9' text-anchor='end' fill='#1a1a1a'>60</text>
<line x1='37.300000000000004' y1='184.5' x2='40.7' y2='184.5' stroke='#111' stroke-width='1.0' />
<text x='34.5' y='187.70000000000002' font-size='8.9' text-anchor='end' fill='#1a1a1a'>80</text>
<line x1='51.5' y1='268.5' x2='51.5' y2='271.5' stroke='#111' stroke-width='1.1' />
<text x='51.6' y='283.3' font-size='8.9' text-anchor='middle' fill='#1a1a1a'>0</text>
<line x1='68.5' y1='268.5' x2='68.5' y2='271.5' stroke='#111' stroke-width='1.1' />
<text x='68.73' y='283.3' font-size='8.9' text-anchor='middle' fill='#1a1a1a'>3</text>
<line x1='85.5' y1='268.5' x2='85.5' y2='271.5' stroke='#111' stroke-width='1.1' />
<text x='85.86' y='283.3' font-size='8.9' text-anchor='middle' fill='#1a1a1a'>7</text>
<line x1='102.5' y1='268.5' x2='102.5' y2='271.5' stroke='#111' stroke-width='1.1' />
<text x='102.99000000000001' y='283.3' font-size='8.9' text-anchor='middle' fill='#1a1a1a'>10</text>
<line x1='120.5' y1='268.5' x2='120.5' y2='271.5' stroke='#111' stroke-width='1.1' />
<text x='120.12' y='283.3' font-size='8.9' text-anchor='middle' fill='#1a1a1a'>14</text>
<line x1='137.5' y1='268.5' x2='137.5' y2='271.5' stroke='#111' stroke-width='1.1' />
<text x='137.25' y='283.3' font-size='8.9' text-anchor='middle' fill='#1a1a1a'>21</text>
<line x1='154.5' y1='268.5' x2='154.5' y2='271.5' stroke='#111' stroke-width='1.1' />
<text x='154.38' y='283.3' font-size='8.9' text-anchor='middle' fill='#1a1a1a'>38</text>
<circle cx='47.20' cy='265.09' r='1.55' fill='#b3123f' stroke='#b3123f' stroke-width='0.8'/>
<circle cx='48.65' cy='265.53' r='1.55' fill='#b3123f' stroke='#b3123f' stroke-width='0.8'/>
<circle cx='49.04' cy='264.88' r='1.55' fill='#b3123f' stroke='#b3123f' stroke-width='0.8'/>
<circle cx='50.64' cy='265.46' r='1.55' fill='#b3123f' stroke='#b3123f' stroke-width='0.8'/>
<circle cx='51.16' cy='266.04' r='1.55' fill='#b3123f' stroke='#b3123f' stroke-width='0.8'/>
<circle cx='51.45' cy='265.76' r='1.55' fill='#b3123f' stroke='#b3123f' stroke-width='0.8'/>
<circle cx='53.04' cy='266.39' r='1.55' fill='#b3123f' stroke='#b3123f' stroke-width='0.8'/>
<circle cx='54.17' cy='266.05' r='1.55' fill='#b3123f' stroke='#b3123f' stroke-width='0.8'/>
<circle cx='54.39' cy='266.44' r='1.55' fill='#b3123f' stroke='#b3123f' stroke-width='0.8'/>
<circle cx='56.20' cy='264.99' r='1.55' fill='#b3123f' stroke='#b3123f' stroke-width='0.8'/>
<line x1='51.6' y1='265.38300000000004' x2='51.6' y2='266.01000000000005' stroke='#1a1a1a' stroke-width='0.9' />
<line x1='49.1' y1='265.38300000000004' x2='54.1' y2='265.38300000000004' stroke='#1a1a1a' stroke-width='0.9' />
<line x1='49.1' y1='266.01000000000005' x2='54.1' y2='266.01000000000005' stroke='#1a1a1a' stroke-width='0.9' />
<line x1='48.4' y1='265.6965' x2='54.800000000000004' y2='265.6965' stroke='#1a1a1a' stroke-width='0.9' />
<circle cx='66.28' cy='267.70' r='1.55' fill='none' stroke='#3d5c9c' stroke-width='0.8'/>
<circle cx='67.16' cy='267.16' r='1.55' fill='none' stroke='#3d5c9c' stroke-width='0.8'/>
<circle cx='69.35' cy='267.71' r='1.55' fill='none' stroke='#3d5c9c' stroke-width='0.8'/>
<circle cx='71.91' cy='267.57' r='1.55' fill='none' stroke='#3d5c9c' stroke-width='0.8'/>
<line x1='68.73' y1='267.36850000000004' x2='68.73' y2='267.78650000000005' stroke='#1a1a1a' stroke-width='0.9' />
<line x1='66.23' y1='267.36850000000004' x2='71.23' y2='267.36850000000004' stroke='#1a1a1a' stroke-width='0.9' />
<line x1='66.23' y1='267.78650000000005' x2='71.23' y2='267.78650000000005' stroke='#1a1a1a' stroke-width='0.9' />
<line x1='65.53' y1='267.57750000000004' x2='71.93' y2='267.57750000000004' stroke='#1a1a1a' stroke-width='0.9' />
<path d='M85.86,237.25 L87.56,240.62 L84.16,240.62 Z' fill='#74b846' stroke='#74b846' stroke-width='0.8'/>
<path d='M84.66,243.10 L86.36,246.47 L82.95,246.47 Z' fill='#74b846' stroke='#74b846' stroke-width='0.8'/>
<path d='M87.36,246.24 L89.06,249.61 L85.66,249.61 Z' fill='#74b846' stroke='#74b846' stroke-width='0.8'/>
<line x1='85.86' y1='240.82550000000003' x2='85.86' y2='246.05050000000003' stroke='#1a1a1a' stroke-width='0.9' />
<line x1='83.36' y1='240.82550000000003' x2='88.36' y2='240.82550000000003' stroke='#1a1a1a' stroke-width='0.9' />
<line x1='83.36' y1='246.05050000000003' x2='88.36' y2='246.05050000000003' stroke='#1a1a1a' stroke-width='0.9' />
<line x1='82.66' y1='243.43800000000002' x2='89.06' y2='243.43800000000002' stroke='#1a1a1a' stroke-width='0.9' />
<path d='M100.24,203.49 L101.95,206.86 L98.54,206.86 Z' fill='none' stroke='#6b3f92' stroke-width='0.8'/>
<path d='M101.61,203.29 L103.31,206.66 L99.90,206.66 Z' fill='none' stroke='#6b3f92' stroke-width='0.8'/>
<path d='M103.62,203.70 L105.33,207.07 L101.92,207.07 Z' fill='none' stroke='#6b3f92' stroke-width='0.8'/>
<path d='M105.50,203.59 L107.21,206.96 L103.80,206.96 Z' fill='none' stroke='#6b3f92' stroke-width='0.8'/>
<line x1='102.99000000000001' y1='205.60900000000004' x2='102.99000000000001' y2='206.65400000000002' stroke='#1a1a1a' stroke-width='0.9' />
<line x1='100.49000000000001' y1='205.60900000000004' x2='105.49000000000001' y2='205.60900000000004' stroke='#1a1a1a' stroke-width='0.9' />
<line x1='100.49000000000001' y1='206.65400000000002' x2='105.49000000000001' y2='206.65400000000002' stroke='#1a1a1a' stroke-width='0.9' />
<line x1='99.79' y1='206.13150000000002' x2='106.19000000000001' y2='206.13150000000002' stroke='#1a1a1a' stroke-width='0.9' />
<path d='M116.97,203.66 L118.75,205.45 L116.97,207.23 L115.19,205.45 Z' fill='#eea02c' stroke='#eea02c' stroke-width='0.8'/>
<path d='M120.53,204.11 L122.31,205.89 L120.53,207.68 L118.75,205.89 Z' fill='#eea02c' stroke='#eea02c' stroke-width='0.8'/>
<path d='M123.57,203.85 L125.35,205.63 L123.57,207.41 L121.78,205.63 Z' fill='#eea02c' stroke='#eea02c' stroke-width='0.8'/>
<line x1='120.12' y1='205.40000000000003' x2='120.12' y2='206.02700000000002' stroke='#1a1a1a' stroke-width='0.9' />
<line x1='117.62' y1='205.40000000000003' x2='122.62' y2='205.40000000000003' stroke='#1a1a1a' stroke-width='0.9' />
<line x1='117.62' y1='206.02700000000002' x2='122.62' y2='206.02700000000002' stroke='#1a1a1a' stroke-width='0.9' />
<line x1='116.92' y1='205.7135' x2='123.32000000000001' y2='205.7135' stroke='#1a1a1a' stroke-width='0.9' />
<path d='M134.55,244.47 L136.33,246.25 L134.55,248.04 L132.76,246.25 Z' fill='none' stroke='#3f7b58' stroke-width='0.8'/>
<path d='M135.90,243.64 L137.68,245.42 L135.90,247.20 L134.11,245.42 Z' fill='none' stroke='#3f7b58' stroke-width='0.8'/>
<path d='M137.72,243.27 L139.50,245.05 L137.72,246.84 L135.94,245.05 Z' fill='none' stroke='#3f7b58' stroke-width='0.8'/>
<path d='M140.57,244.81 L142.35,246.59 L140.57,248.37 L138.78,246.59 Z' fill='none' stroke='#3f7b58' stroke-width='0.8'/>
<line x1='137.25' y1='245.52800000000002' x2='137.25' y2='246.78200000000004' stroke='#1a1a1a' stroke-width='0.9' />
<line x1='134.75' y1='245.52800000000002' x2='139.75' y2='245.52800000000002' stroke='#1a1a1a' stroke-width='0.9' />
<line x1='134.75' y1='246.78200000000004' x2='139.75' y2='246.78200000000004' stroke='#1a1a1a' stroke-width='0.9' />
<line x1='134.05' y1='246.15500000000003' x2='140.45' y2='246.15500000000003' stroke='#1a1a1a' stroke-width='0.9' />
<path d='M151.56,264.23 L153.34,266.01 L151.56,267.79 L149.78,266.01 Z' fill='#8f86d2' stroke='#8f86d2' stroke-width='0.8'/>
<path d='M154.93,264.75 L156.71,266.54 L154.93,268.32 L153.15,266.54 Z' fill='#8f86d2' stroke='#8f86d2' stroke-width='0.8'/>
<path d='M156.86,264.10 L158.64,265.88 L156.86,267.66 L155.08,265.88 Z' fill='#8f86d2' stroke='#8f86d2' stroke-width='0.8'/>
<line x1='154.38' y1='266.01000000000005' x2='154.38' y2='266.637' stroke='#1a1a1a' stroke-width='0.9' />
<line x1='151.88' y1='266.01000000000005' x2='156.88' y2='266.01000000000005' stroke='#1a1a1a' stroke-width='0.9' />
<line x1='151.88' y1='266.637' x2='156.88' y2='266.637' stroke='#1a1a1a' stroke-width='0.9' />
<line x1='151.18' y1='266.3235' x2='157.57999999999998' y2='266.3235' stroke='#1a1a1a' stroke-width='0.9' />
<line x1='68.73' y1='233' x2='85.86' y2='233' stroke='#222' stroke-width='1.1' />
<line x1='68.73' y1='231.4' x2='68.73' y2='234.6' stroke='#222' stroke-width='1.1' />
<line x1='85.86' y1='231.4' x2='85.86' y2='234.6' stroke='#222' stroke-width='1.1' />
<circle cx='73.89' cy='228.00' r='1.2' fill='#222'/>
<circle cx='77.30' cy='228.00' r='1.2' fill='#222'/>
<circle cx='80.69' cy='228.00' r='1.2' fill='#222'/>
<line x1='85.86' y1='199.4' x2='102.99000000000001' y2='199.4' stroke='#222' stroke-width='1.1' />
<line x1='85.86' y1='197.8' x2='85.86' y2='201.0' stroke='#222' stroke-width='1.1' />
<line x1='102.99000000000001' y1='197.8' x2='102.99000000000001' y2='201.0' stroke='#222' stroke-width='1.1' />
<circle cx='91.03' cy='194.40' r='1.2' fill='#222'/>
<circle cx='94.43' cy='194.40' r='1.2' fill='#222'/>
<circle cx='97.83' cy='194.40' r='1.2' fill='#222'/>
<line x1='120.12' y1='199.7' x2='137.25' y2='199.7' stroke='#222' stroke-width='1.1' />
<line x1='120.12' y1='198.1' x2='120.12' y2='201.29999999999998' stroke='#222' stroke-width='1.1' />
<line x1='137.25' y1='198.1' x2='137.25' y2='201.29999999999998' stroke='#222' stroke-width='1.1' />
<circle cx='123.59' cy='194.70' r='1.2' fill='#222'/>
<circle cx='126.99' cy='194.70' r='1.2' fill='#222'/>
<circle cx='130.39' cy='194.70' r='1.2' fill='#222'/>
<circle cx='133.78' cy='194.70' r='1.2' fill='#222'/>
<line x1='137.25' y1='237' x2='154.38' y2='237' stroke='#222' stroke-width='1.1' />
<line x1='137.25' y1='235.4' x2='137.25' y2='238.6' stroke='#222' stroke-width='1.1' />
<line x1='154.38' y1='235.4' x2='154.38' y2='238.6' stroke='#222' stroke-width='1.1' />
<circle cx='140.72' cy='232.00' r='1.2' fill='#222'/>
<circle cx='144.12' cy='232.00' r='1.2' fill='#222'/>
<circle cx='147.52' cy='232.00' r='1.2' fill='#222'/>
<circle cx='150.91' cy='232.00' r='1.2' fill='#222'/>
<text transform='translate(14.6,224.4) rotate(-90)' x='0' y='0' font-size='10' text-anchor='middle' dominant-baseline='central' fill='#1a1a1a' textLength='72.7' lengthAdjust='spacingAndGlyphs'>Reticulocytes (%)</text>
<text x='103' y='296.0' font-size='10.5' text-anchor='middle' fill='#1a1a1a' textLength='81' lengthAdjust='spacingAndGlyphs'>Days post infection</text>
<path d='M228.00,268.10 L228.00,261.91 L239.60,261.91 L239.60,268.10' fill='none' stroke='#b3123f' stroke-width='1.1'/>
<path d='M245.34,268.10 L245.34,256.27 L256.94,256.27 L256.94,268.10' fill='none' stroke='#3d5c9c' stroke-width='1.1'/>
<path d='M262.68,268.10 L262.68,238.98 L274.28,238.98 L274.28,268.10' fill='none' stroke='#74b846' stroke-width='1.1'/>
<path d='M280.02,268.10 L280.02,217.14 L291.62,217.14 L291.62,268.10' fill='none' stroke='#6b3f92' stroke-width='1.1'/>
<path d='M297.36,268.10 L297.36,205.31 L308.96,205.31 L308.96,268.10' fill='none' stroke='#eea02c' stroke-width='1.1'/>
<path d='M314.70,268.10 L314.70,232.61 L326.30,232.61 L326.30,268.10' fill='none' stroke='#3f7b58' stroke-width='1.1'/>
<line x1='222.6' y1='192.2' x2='222.6' y2='268.5' stroke='#111' stroke-width='1.4' />
<line x1='219.2' y1='268.5' x2='331.6' y2='268.5' stroke='#111' stroke-width='1.15' />
<text x='216.4' y='271.3' font-size='8.9' text-anchor='end' fill='#1a1a1a'>0.0</text>
<line x1='219.2' y1='249.5' x2='222.6' y2='249.5' stroke='#111' stroke-width='1.0' />
<text x='216.4' y='253.10000000000002' font-size='8.9' text-anchor='end' fill='#1a1a1a'>0.2</text>
<line x1='219.2' y1='231.5' x2='222.6' y2='231.5' stroke='#111' stroke-width='1.0' />
<text x='216.4' y='234.9' font-size='8.9' text-anchor='end' fill='#1a1a1a'>0.4</text>
<line x1='219.2' y1='213.5' x2='222.6' y2='213.5' stroke='#111' stroke-width='1.0' />
<text x='216.4' y='216.70000000000002' font-size='8.9' text-anchor='end' fill='#1a1a1a'>0.6</text>
<line x1='219.2' y1='195.5' x2='222.6' y2='195.5' stroke='#111' stroke-width='1.0' />
<text x='216.4' y='198.5' font-size='8.9' text-anchor='end' fill='#1a1a1a'>0.8</text>
<line x1='233.5' y1='268.5' x2='233.5' y2='271.5' stroke='#111' stroke-width='1.1' />
<text x='233.8' y='283.3' font-size='8.9' text-anchor='middle' fill='#1a1a1a'>0</text>
<line x1='251.5' y1='268.5' x2='251.5' y2='271.5' stroke='#111' stroke-width='1.1' />
<text x='251.14000000000001' y='283.3' font-size='8.9' text-anchor='middle' fill='#1a1a1a'>3</text>
<line x1='268.5' y1='268.5' x2='268.5' y2='271.5' stroke='#111' stroke-width='1.1' />
<text x='268.48' y='283.3' font-size='8.9' text-anchor='middle' fill='#1a1a1a'>7</text>
<line x1='285.5' y1='268.5' x2='285.5' y2='271.5' stroke='#111' stroke-width='1.1' />
<text x='285.82' y='283.3' font-size='8.9' text-anchor='middle' fill='#1a1a1a'>10</text>
<line x1='303.5' y1='268.5' x2='303.5' y2='271.5' stroke='#111' stroke-width='1.1' />
<text x='303.16' y='283.3' font-size='8.9' text-anchor='middle' fill='#1a1a1a'>14</text>
<line x1='320.5' y1='268.5' x2='320.5' y2='271.5' stroke='#111' stroke-width='1.1' />
<text x='320.5' y='283.3' font-size='8.9' text-anchor='middle' fill='#1a1a1a'>21</text>
<circle cx='229.21' cy='262.44' r='1.55' fill='#b3123f' stroke='#b3123f' stroke-width='0.8'/>
<circle cx='230.56' cy='261.40' r='1.55' fill='#b3123f' stroke='#b3123f' stroke-width='0.8'/>
<circle cx='231.14' cy='262.44' r='1.55' fill='#b3123f' stroke='#b3123f' stroke-width='0.8'/>
<circle cx='232.14' cy='261.26' r='1.55' fill='#b3123f' stroke='#b3123f' stroke-width='0.8'/>
<circle cx='232.93' cy='261.29' r='1.55' fill='#b3123f' stroke='#b3123f' stroke-width='0.8'/>
<circle cx='234.44' cy='262.39' r='1.55' fill='#b3123f' stroke='#b3123f' stroke-width='0.8'/>
<circle cx='235.18' cy='261.83' r='1.55' fill='#b3123f' stroke='#b3123f' stroke-width='0.8'/>
<circle cx='235.92' cy='260.83' r='1.55' fill='#b3123f' stroke='#b3123f' stroke-width='0.8'/>
<circle cx='236.42' cy='262.60' r='1.55' fill='#b3123f' stroke='#b3123f' stroke-width='0.8'/>
<circle cx='238.33' cy='261.91' r='1.55' fill='#b3123f' stroke='#b3123f' stroke-width='0.8'/>
<line x1='233.8' y1='261.548' x2='233.8' y2='262.276' stroke='#1a1a1a' stroke-width='0.9' />
<line x1='231.3' y1='261.548' x2='236.3' y2='261.548' stroke='#1a1a1a' stroke-width='0.9' />
<line x1='231.3' y1='262.276' x2='236.3' y2='262.276' stroke='#1a1a1a' stroke-width='0.9' />
<line x1='230.60000000000002' y1='261.91200000000003' x2='237.0' y2='261.91200000000003' stroke='#1a1a1a' stroke-width='0.9' />
<circle cx='248.14' cy='257.18' r='1.55' fill='none' stroke='#3d5c9c' stroke-width='0.8'/>
<circle cx='252.14' cy='254.45' r='1.55' fill='none' stroke='#3d5c9c' stroke-width='0.8'/>
<circle cx='254.14' cy='256.27' r='1.55' fill='none' stroke='#3d5c9c' stroke-width='0.8'/>
<line x1='251.14000000000001' y1='255.54200000000003' x2='251.14000000000001' y2='256.99800000000005' stroke='#1a1a1a' stroke-width='0.9' />
<line x1='248.64000000000001' y1='255.54200000000003' x2='253.64000000000001' y2='255.54200000000003' stroke='#1a1a1a' stroke-width='0.9' />
<line x1='248.64000000000001' y1='256.99800000000005' x2='253.64000000000001' y2='256.99800000000005' stroke='#1a1a1a' stroke-width='0.9' />
<line x1='247.94000000000003' y1='256.27000000000004' x2='254.34' y2='256.27000000000004' stroke='#1a1a1a' stroke-width='0.9' />
<path d='M268.48,234.70 L270.19,238.07 L266.78,238.07 Z' fill='#74b846' stroke='#74b846' stroke-width='0.8'/>
<path d='M268.48,240.61 L270.19,243.98 L266.78,243.98 Z' fill='#74b846' stroke='#74b846' stroke-width='0.8'/>
<path d='M265.48,236.06 L267.19,239.43 L263.78,239.43 Z' fill='#74b846' stroke='#74b846' stroke-width='0.8'/>
<line x1='268.48' y1='236.25000000000003' x2='268.48' y2='241.71' stroke='#1a1a1a' stroke-width='0.9' />
<line x1='265.98' y1='236.25000000000003' x2='270.98' y2='236.25000000000003' stroke='#1a1a1a' stroke-width='0.9' />
<line x1='265.98' y1='241.71' x2='270.98' y2='241.71' stroke='#1a1a1a' stroke-width='0.9' />
<line x1='265.28000000000003' y1='238.98000000000002' x2='271.68' y2='238.98000000000002' stroke='#1a1a1a' stroke-width='0.9' />
<path d='M285.82,211.50 L287.52,214.86 L284.12,214.86 Z' fill='none' stroke='#6b3f92' stroke-width='0.8'/>
<path d='M282.32,215.59 L284.02,218.96 L280.62,218.96 Z' fill='none' stroke='#6b3f92' stroke-width='0.8'/>
<path d='M289.32,215.59 L291.02,218.96 L287.62,218.96 Z' fill='none' stroke='#6b3f92' stroke-width='0.8'/>
<line x1='285.82' y1='215.77500000000003' x2='285.82' y2='218.50500000000002' stroke='#1a1a1a' stroke-width='0.9' />
<line x1='283.32' y1='215.77500000000003' x2='288.32' y2='215.77500000000003' stroke='#1a1a1a' stroke-width='0.9' />
<line x1='283.32' y1='218.50500000000002' x2='288.32' y2='218.50500000000002' stroke='#1a1a1a' stroke-width='0.9' />
<line x1='282.62' y1='217.14000000000001' x2='289.02' y2='217.14000000000001' stroke='#1a1a1a' stroke-width='0.9' />
<path d='M300.66,200.34 L302.44,202.13 L300.66,203.91 L298.88,202.13 Z' fill='#eea02c' stroke='#eea02c' stroke-width='0.8'/>
<path d='M303.16,208.08 L304.94,209.86 L303.16,211.64 L301.38,209.86 Z' fill='#eea02c' stroke='#eea02c' stroke-width='0.8'/>
<path d='M305.66,203.53 L307.44,205.31 L305.66,207.09 L303.88,205.31 Z' fill='#eea02c' stroke='#eea02c' stroke-width='0.8'/>
<line x1='303.16' y1='203.03500000000003' x2='303.16' y2='207.58500000000004' stroke='#1a1a1a' stroke-width='0.9' />
<line x1='300.66' y1='203.03500000000003' x2='305.66' y2='203.03500000000003' stroke='#1a1a1a' stroke-width='0.9' />
<line x1='300.66' y1='207.58500000000004' x2='305.66' y2='207.58500000000004' stroke='#1a1a1a' stroke-width='0.9' />
<line x1='299.96000000000004' y1='205.31000000000003' x2='306.36' y2='205.31000000000003' stroke='#1a1a1a' stroke-width='0.9' />
<path d='M320.50,224.91 L322.28,226.70 L320.50,228.48 L318.72,226.70 Z' fill='none' stroke='#3f7b58' stroke-width='0.8'/>
<path d='M317.00,234.01 L318.78,235.80 L317.00,237.58 L315.22,235.80 Z' fill='none' stroke='#3f7b58' stroke-width='0.8'/>
<path d='M324.00,231.74 L325.78,233.52 L324.00,235.30 L322.22,233.52 Z' fill='none' stroke='#3f7b58' stroke-width='0.8'/>
<line x1='320.5' y1='229.88000000000002' x2='320.5' y2='235.34000000000003' stroke='#1a1a1a' stroke-width='0.9' />
<line x1='318.0' y1='229.88000000000002' x2='323.0' y2='229.88000000000002' stroke='#1a1a1a' stroke-width='0.9' />
<line x1='318.0' y1='235.34000000000003' x2='323.0' y2='235.34000000000003' stroke='#1a1a1a' stroke-width='0.9' />
<line x1='317.3' y1='232.61' x2='323.7' y2='232.61' stroke='#1a1a1a' stroke-width='0.9' />
<line x1='251.14000000000001' y1='231.9' x2='268.48' y2='231.9' stroke='#222' stroke-width='1.1' />
<line x1='251.14000000000001' y1='230.3' x2='251.14000000000001' y2='233.5' stroke='#222' stroke-width='1.1' />
<line x1='268.48' y1='230.3' x2='268.48' y2='233.5' stroke='#222' stroke-width='1.1' />
<circle cx='258.11' cy='226.90' r='1.2' fill='#222'/>
<circle cx='261.51' cy='226.90' r='1.2' fill='#222'/>
<line x1='268.48' y1='208' x2='285.82' y2='208' stroke='#222' stroke-width='1.1' />
<line x1='268.48' y1='206.4' x2='268.48' y2='209.6' stroke='#222' stroke-width='1.1' />
<line x1='285.82' y1='206.4' x2='285.82' y2='209.6' stroke='#222' stroke-width='1.1' />
<circle cx='275.45' cy='203.00' r='1.2' fill='#222'/>
<circle cx='278.85' cy='203.00' r='1.2' fill='#222'/>
<line x1='285.82' y1='196.4' x2='320.5' y2='196.4' stroke='#222' stroke-width='1.1' />
<line x1='285.82' y1='194.8' x2='285.82' y2='198.0' stroke='#222' stroke-width='1.1' />
<line x1='320.5' y1='194.8' x2='320.5' y2='198.0' stroke='#222' stroke-width='1.1' />
<circle cx='303.16' cy='196.4' r='1.3' fill='#222'/>
<circle cx='294.49' cy='191.40' r='1.2' fill='#222'/>
<circle cx='310.13' cy='191.40' r='1.2' fill='#222'/>
<circle cx='313.53' cy='191.40' r='1.2' fill='#222'/>
<text transform='translate(196,230.8) rotate(-90)' x='0' y='0' font-size='10' text-anchor='middle' dominant-baseline='central' fill='#1a1a1a' textLength='74.6' lengthAdjust='spacingAndGlyphs'>Spleen weight (g)</text>
<text x='277.2' y='296.0' font-size='10.5' text-anchor='middle' fill='#1a1a1a' textLength='81' lengthAdjust='spacingAndGlyphs'>Days post infection</text>
<path d='M390.90,268.10 L390.90,258.00 L402.50,258.00 L402.50,268.10' fill='none' stroke='#b3123f' stroke-width='1.1'/>
<path d='M408.28,268.10 L408.28,254.63 L419.88,254.63 L419.88,268.10' fill='none' stroke='#3d5c9c' stroke-width='1.1'/>
<path d='M425.66,268.10 L425.66,244.53 L437.26,244.53 L437.26,268.10' fill='none' stroke='#74b846' stroke-width='1.1'/>
<path d='M443.04,268.10 L443.04,231.97 L454.64,231.97 L454.64,268.10' fill='none' stroke='#6b3f92' stroke-width='1.1'/>
<path d='M460.42,268.10 L460.42,225.51 L472.02,225.51 L472.02,268.10' fill='none' stroke='#eea02c' stroke-width='1.1'/>
<path d='M477.80,268.10 L477.80,243.71 L489.40,243.71 L489.40,268.10' fill='none' stroke='#3f7b58' stroke-width='1.1'/>
<line x1='385.6' y1='192.4' x2='385.6' y2='268.5' stroke='#111' stroke-width='1.4' />
<line x1='382.20000000000005' y1='268.5' x2='495.3' y2='268.5' stroke='#111' stroke-width='1.15' />
<text x='379.40000000000003' y='271.3' font-size='8.9' text-anchor='end' fill='#1a1a1a'>0</text>
<line x1='382.20000000000005' y1='249.5' x2='385.6' y2='249.5' stroke='#111' stroke-width='1.0' />
<text x='379.40000000000003' y='253.10000000000002' font-size='8.9' text-anchor='end' fill='#1a1a1a'>200</text>
<line x1='382.20000000000005' y1='231.5' x2='385.6' y2='231.5' stroke='#111' stroke-width='1.0' />
<text x='379.40000000000003' y='234.9' font-size='8.9' text-anchor='end' fill='#1a1a1a'>400</text>
<line x1='382.20000000000005' y1='213.5' x2='385.6' y2='213.5' stroke='#111' stroke-width='1.0' />
<text x='379.40000000000003' y='216.70000000000002' font-size='8.9' text-anchor='end' fill='#1a1a1a'>600</text>
<line x1='382.20000000000005' y1='195.5' x2='385.6' y2='195.5' stroke='#111' stroke-width='1.0' />
<text x='379.40000000000003' y='198.5' font-size='8.9' text-anchor='end' fill='#1a1a1a'>800</text>
<line x1='396.5' y1='268.5' x2='396.5' y2='271.5' stroke='#111' stroke-width='1.1' />
<text x='396.7' y='283.3' font-size='8.9' text-anchor='middle' fill='#1a1a1a'>0</text>
<line x1='414.5' y1='268.5' x2='414.5' y2='271.5' stroke='#111' stroke-width='1.1' />
<text x='414.08' y='283.3' font-size='8.9' text-anchor='middle' fill='#1a1a1a'>3</text>
<line x1='431.5' y1='268.5' x2='431.5' y2='271.5' stroke='#111' stroke-width='1.1' />
<text x='431.46' y='283.3' font-size='8.9' text-anchor='middle' fill='#1a1a1a'>7</text>
<line x1='448.5' y1='268.5' x2='448.5' y2='271.5' stroke='#111' stroke-width='1.1' />
<text x='448.84' y='283.3' font-size='8.9' text-anchor='middle' fill='#1a1a1a'>10</text>
<line x1='466.5' y1='268.5' x2='466.5' y2='271.5' stroke='#111' stroke-width='1.1' />
<text x='466.21999999999997' y='283.3' font-size='8.9' text-anchor='middle' fill='#1a1a1a'>14</text>
<line x1='483.5' y1='268.5' x2='483.5' y2='271.5' stroke='#111' stroke-width='1.1' />
<text x='483.59999999999997' y='283.3' font-size='8.9' text-anchor='middle' fill='#1a1a1a'>21</text>
<circle cx='392.56' cy='258.58' r='1.55' fill='#b3123f' stroke='#b3123f' stroke-width='0.8'/>
<circle cx='393.44' cy='257.34' r='1.55' fill='#b3123f' stroke='#b3123f' stroke-width='0.8'/>
<circle cx='395.08' cy='257.74' r='1.55' fill='#b3123f' stroke='#b3123f' stroke-width='0.8'/>
<circle cx='396.19' cy='258.30' r='1.55' fill='#b3123f' stroke='#b3123f' stroke-width='0.8'/>
<circle cx='397.55' cy='257.95' r='1.55' fill='#b3123f' stroke='#b3123f' stroke-width='0.8'/>
<circle cx='398.75' cy='257.80' r='1.55' fill='#b3123f' stroke='#b3123f' stroke-width='0.8'/>
<circle cx='399.96' cy='258.20' r='1.55' fill='#b3123f' stroke='#b3123f' stroke-width='0.8'/>
<circle cx='400.29' cy='258.73' r='1.55' fill='#b3123f' stroke='#b3123f' stroke-width='0.8'/>
<line x1='396.7' y1='257.54400000000004' x2='396.7' y2='258.454' stroke='#1a1a1a' stroke-width='0.9' />
<line x1='394.2' y1='257.54400000000004' x2='399.2' y2='257.54400000000004' stroke='#1a1a1a' stroke-width='0.9' />
<line x1='394.2' y1='258.454' x2='399.2' y2='258.454' stroke='#1a1a1a' stroke-width='0.9' />
<line x1='393.5' y1='257.999' x2='399.9' y2='257.999' stroke='#1a1a1a' stroke-width='0.9' />
<circle cx='411.08' cy='251.45' r='1.55' fill='none' stroke='#3d5c9c' stroke-width='0.8'/>
<circle cx='414.08' cy='254.45' r='1.55' fill='none' stroke='#3d5c9c' stroke-width='0.8'/>
<circle cx='418.08' cy='254.45' r='1.55' fill='none' stroke='#3d5c9c' stroke-width='0.8'/>
<line x1='414.08' y1='253.90400000000002' x2='414.08' y2='255.36' stroke='#1a1a1a' stroke-width='0.9' />
<line x1='411.58' y1='253.90400000000002' x2='416.58' y2='253.90400000000002' stroke='#1a1a1a' stroke-width='0.9' />
<line x1='411.58' y1='255.36' x2='416.58' y2='255.36' stroke='#1a1a1a' stroke-width='0.9' />
<line x1='410.88' y1='254.63200000000003' x2='417.28' y2='254.63200000000003' stroke='#1a1a1a' stroke-width='0.9' />
<path d='M431.46,240.34 L433.16,243.71 L429.75,243.71 Z' fill='#74b846' stroke='#74b846' stroke-width='0.8'/>
<path d='M431.46,246.80 L433.16,250.17 L429.75,250.17 Z' fill='#74b846' stroke='#74b846' stroke-width='0.8'/>
<path d='M427.96,242.44 L429.66,245.80 L426.25,245.80 Z' fill='#74b846' stroke='#74b846' stroke-width='0.8'/>
<line x1='431.46' y1='242.25600000000003' x2='431.46' y2='246.806' stroke='#1a1a1a' stroke-width='0.9' />
<line x1='428.96' y1='242.25600000000003' x2='433.96' y2='242.25600000000003' stroke='#1a1a1a' stroke-width='0.9' />
<line x1='428.96' y1='246.806' x2='433.96' y2='246.806' stroke='#1a1a1a' stroke-width='0.9' />
<line x1='428.26' y1='244.53100000000003' x2='434.65999999999997' y2='244.53100000000003' stroke='#1a1a1a' stroke-width='0.9' />
<path d='M446.24,225.51 L447.94,228.88 L444.53,228.88 Z' fill='none' stroke='#6b3f92' stroke-width='0.8'/>
<path d='M448.84,233.79 L450.54,237.16 L447.13,237.16 Z' fill='none' stroke='#6b3f92' stroke-width='0.8'/>
<path d='M451.84,229.88 L453.54,233.25 L450.13,233.25 Z' fill='none' stroke='#6b3f92' stroke-width='0.8'/>
<line x1='448.84' y1='229.69800000000004' x2='448.84' y2='234.24800000000002' stroke='#1a1a1a' stroke-width='0.9' />
<line x1='446.34' y1='229.69800000000004' x2='451.34' y2='229.69800000000004' stroke='#1a1a1a' stroke-width='0.9' />
<line x1='446.34' y1='234.24800000000002' x2='451.34' y2='234.24800000000002' stroke='#1a1a1a' stroke-width='0.9' />
<line x1='445.64' y1='231.973' x2='452.03999999999996' y2='231.973' stroke='#1a1a1a' stroke-width='0.9' />
<path d='M466.22,211.90 L468.00,213.68 L466.22,215.46 L464.44,213.68 Z' fill='#eea02c' stroke='#eea02c' stroke-width='0.8'/>
<path d='M462.32,230.10 L464.10,231.88 L462.32,233.66 L460.54,231.88 Z' fill='#eea02c' stroke='#eea02c' stroke-width='0.8'/>
<path d='M468.02,228.83 L469.80,230.61 L468.02,232.39 L466.24,230.61 Z' fill='#eea02c' stroke='#eea02c' stroke-width='0.8'/>
<line x1='466.21999999999997' y1='220.05200000000002' x2='466.21999999999997' y2='230.97200000000004' stroke='#1a1a1a' stroke-width='0.9' />
<line x1='463.71999999999997' y1='220.05200000000002' x2='468.71999999999997' y2='220.05200000000002' stroke='#1a1a1a' stroke-width='0.9' />
<line x1='463.71999999999997' y1='230.97200000000004' x2='468.71999999999997' y2='230.97200000000004' stroke='#1a1a1a' stroke-width='0.9' />
<line x1='463.02' y1='225.51200000000003' x2='469.41999999999996' y2='225.51200000000003' stroke='#1a1a1a' stroke-width='0.9' />
<path d='M483.60,241.20 L485.38,242.98 L483.60,244.77 L481.82,242.98 Z' fill='none' stroke='#3f7b58' stroke-width='0.8'/>
<path d='M479.10,241.20 L480.88,242.98 L479.10,244.77 L477.32,242.98 Z' fill='none' stroke='#3f7b58' stroke-width='0.8'/>
<path d='M488.10,242.48 L489.88,244.26 L488.10,246.04 L486.32,244.26 Z' fill='none' stroke='#3f7b58' stroke-width='0.8'/>
<line x1='483.59999999999997' y1='242.62000000000003' x2='483.59999999999997' y2='244.80400000000003' stroke='#1a1a1a' stroke-width='0.9' />
<line x1='481.09999999999997' y1='242.62000000000003' x2='486.09999999999997' y2='242.62000000000003' stroke='#1a1a1a' stroke-width='0.9' />
<line x1='481.09999999999997' y1='244.80400000000003' x2='486.09999999999997' y2='244.80400000000003' stroke='#1a1a1a' stroke-width='0.9' />
<line x1='480.4' y1='243.71200000000002' x2='486.79999999999995' y2='243.71200000000002' stroke='#1a1a1a' stroke-width='0.9' />
<line x1='396.7' y1='244.9' x2='414.08' y2='244.9' stroke='#222' stroke-width='1.1' />
<line x1='396.7' y1='243.3' x2='396.7' y2='246.5' stroke='#222' stroke-width='1.1' />
<line x1='414.08' y1='243.3' x2='414.08' y2='246.5' stroke='#222' stroke-width='1.1' />
<circle cx='400.29' cy='239.90' r='1.2' fill='#222'/>
<circle cx='403.69' cy='239.90' r='1.2' fill='#222'/>
<circle cx='407.09' cy='239.90' r='1.2' fill='#222'/>
<circle cx='410.49' cy='239.90' r='1.2' fill='#222'/>
<line x1='414.08' y1='233.7' x2='431.46' y2='233.7' stroke='#222' stroke-width='1.1' />
<line x1='414.08' y1='232.1' x2='414.08' y2='235.29999999999998' stroke='#222' stroke-width='1.1' />
<line x1='431.46' y1='232.1' x2='431.46' y2='235.29999999999998' stroke='#222' stroke-width='1.1' />
<circle cx='422.77' cy='228.70' r='1.2' fill='#222'/>
<line x1='431.46' y1='217.6' x2='448.84' y2='217.6' stroke='#222' stroke-width='1.1' />
<line x1='431.46' y1='216.0' x2='431.46' y2='219.2' stroke='#222' stroke-width='1.1' />
<line x1='448.84' y1='216.0' x2='448.84' y2='219.2' stroke='#222' stroke-width='1.1' />
<circle cx='440.15' cy='212.60' r='1.2' fill='#222'/>
<line x1='466.21999999999997' y1='208.6' x2='483.59999999999997' y2='208.6' stroke='#222' stroke-width='1.1' />
<line x1='466.21999999999997' y1='207.0' x2='466.21999999999997' y2='210.2' stroke='#222' stroke-width='1.1' />
<line x1='483.59999999999997' y1='207.0' x2='483.59999999999997' y2='210.2' stroke='#222' stroke-width='1.1' />
<circle cx='474.91' cy='203.60' r='1.2' fill='#222'/>
<text transform='translate(355.4,230.2) rotate(-90)' x='0' y='0' font-size='10' text-anchor='middle' dominant-baseline='central' fill='#1a1a1a' textLength='78.8' lengthAdjust='spacingAndGlyphs'>Splenocytes (X10<tspan baseline-shift='super' font-size='6.5'>6</tspan>)</text>
<text x='446' y='296.0' font-size='10.5' text-anchor='middle' fill='#1a1a1a' textLength='81' lengthAdjust='spacingAndGlyphs'>Days post infection</text>
<path d='M391.20,404.00 L391.20,402.06 L402.80,402.06 L402.80,404.00' fill='none' stroke='#b3123f' stroke-width='1.1'/>
<path d='M408.50,404.00 L408.50,402.31 L420.10,402.31 L420.10,404.00' fill='none' stroke='#3d5c9c' stroke-width='1.1'/>
<path d='M425.80,404.00 L425.80,383.91 L437.40,383.91 L437.40,404.00' fill='none' stroke='#74b846' stroke-width='1.1'/>
<path d='M443.10,404.00 L443.10,367.70 L454.70,367.70 L454.70,404.00' fill='none' stroke='#6b3f92' stroke-width='1.1'/>
<path d='M460.40,404.00 L460.40,345.44 L472.00,345.44 L472.00,404.00' fill='none' stroke='#eea02c' stroke-width='1.1'/>
<path d='M477.70,404.00 L477.70,354.15 L489.30,354.15 L489.30,404.00' fill='none' stroke='#3f7b58' stroke-width='1.1'/>
<line x1='385.6' y1='328.8' x2='385.6' y2='404.5' stroke='#111' stroke-width='1.4' />
<line x1='382.20000000000005' y1='404.5' x2='495.2' y2='404.5' stroke='#111' stroke-width='1.15' />
<text x='379.40000000000003' y='407.2' font-size='8.9' text-anchor='end' fill='#1a1a1a'>0</text>
<line x1='382.20000000000005' y1='379.5' x2='385.6' y2='379.5' stroke='#111' stroke-width='1.0' />
<text x='379.40000000000003' y='383.0' font-size='8.9' text-anchor='end' fill='#1a1a1a'>5</text>
<line x1='382.20000000000005' y1='355.5' x2='385.6' y2='355.5' stroke='#111' stroke-width='1.0' />
<text x='379.40000000000003' y='358.8' font-size='8.9' text-anchor='end' fill='#1a1a1a'>10</text>
<line x1='382.20000000000005' y1='331.5' x2='385.6' y2='331.5' stroke='#111' stroke-width='1.0' />
<text x='379.40000000000003' y='334.59999999999997' font-size='8.9' text-anchor='end' fill='#1a1a1a'>15</text>
<line x1='397.5' y1='404.5' x2='397.5' y2='407.5' stroke='#111' stroke-width='1.1' />
<line x1='414.5' y1='404.5' x2='414.5' y2='407.5' stroke='#111' stroke-width='1.1' />
<line x1='431.5' y1='404.5' x2='431.5' y2='407.5' stroke='#111' stroke-width='1.1' />
<line x1='448.5' y1='404.5' x2='448.5' y2='407.5' stroke='#111' stroke-width='1.1' />
<line x1='466.5' y1='404.5' x2='466.5' y2='407.5' stroke='#111' stroke-width='1.1' />
<line x1='483.5' y1='404.5' x2='483.5' y2='407.5' stroke='#111' stroke-width='1.1' />
<circle cx='397.00' cy='398.68' r='1.55' fill='#b3123f' stroke='#b3123f' stroke-width='0.8'/>
<circle cx='393.00' cy='402.55' r='1.55' fill='#b3123f' stroke='#b3123f' stroke-width='0.8'/>
<circle cx='401.00' cy='402.55' r='1.55' fill='#b3123f' stroke='#b3123f' stroke-width='0.8'/>
<circle cx='397.00' cy='403.03' r='1.55' fill='#b3123f' stroke='#b3123f' stroke-width='0.8'/>
<circle cx='395.00' cy='401.10' r='1.55' fill='#b3123f' stroke='#b3123f' stroke-width='0.8'/>
<circle cx='399.00' cy='401.10' r='1.55' fill='#b3123f' stroke='#b3123f' stroke-width='0.8'/>
<line x1='397.0' y1='401.096' x2='397.0' y2='403.032' stroke='#1a1a1a' stroke-width='0.9' />
<line x1='394.5' y1='401.096' x2='399.5' y2='401.096' stroke='#1a1a1a' stroke-width='0.9' />
<line x1='394.5' y1='403.032' x2='399.5' y2='403.032' stroke='#1a1a1a' stroke-width='0.9' />
<line x1='393.8' y1='402.064' x2='400.2' y2='402.064' stroke='#1a1a1a' stroke-width='0.9' />
<circle cx='409.80' cy='401.58' r='1.55' fill='none' stroke='#3d5c9c' stroke-width='0.8'/>
<circle cx='414.30' cy='401.58' r='1.55' fill='none' stroke='#3d5c9c' stroke-width='0.8'/>
<circle cx='418.80' cy='401.58' r='1.55' fill='none' stroke='#3d5c9c' stroke-width='0.8'/>
<line x1='414.3' y1='401.822' x2='414.3' y2='402.79' stroke='#1a1a1a' stroke-width='0.9' />
<line x1='411.8' y1='401.822' x2='416.8' y2='401.822' stroke='#1a1a1a' stroke-width='0.9' />
<line x1='411.8' y1='402.79' x2='416.8' y2='402.79' stroke='#1a1a1a' stroke-width='0.9' />
<line x1='411.1' y1='402.306' x2='417.5' y2='402.306' stroke='#1a1a1a' stroke-width='0.9' />
<path d='M429.60,377.31 L431.31,380.68 L427.90,380.68 Z' fill='#74b846' stroke='#74b846' stroke-width='0.8'/>
<path d='M431.60,383.12 L433.31,386.49 L429.90,386.49 Z' fill='#74b846' stroke='#74b846' stroke-width='0.8'/>
<path d='M432.10,388.20 L433.81,391.57 L430.40,391.57 Z' fill='#74b846' stroke='#74b846' stroke-width='0.8'/>
<line x1='431.6' y1='380.526' x2='431.6' y2='387.302' stroke='#1a1a1a' stroke-width='0.9' />
<line x1='429.1' y1='380.526' x2='434.1' y2='380.526' stroke='#1a1a1a' stroke-width='0.9' />
<line x1='429.1' y1='387.302' x2='434.1' y2='387.302' stroke='#1a1a1a' stroke-width='0.9' />
<line x1='428.40000000000003' y1='383.914' x2='434.8' y2='383.914' stroke='#1a1a1a' stroke-width='0.9' />
<path d='M448.90,364.49 L450.60,367.85 L447.19,367.85 Z' fill='none' stroke='#6b3f92' stroke-width='0.8'/>
<path d='M445.20,366.18 L446.90,369.55 L443.50,369.55 Z' fill='none' stroke='#6b3f92' stroke-width='0.8'/>
<path d='M452.20,366.18 L453.90,369.55 L450.50,369.55 Z' fill='none' stroke='#6b3f92' stroke-width='0.8'/>
<line x1='448.9' y1='366.248' x2='448.9' y2='369.152' stroke='#1a1a1a' stroke-width='0.9' />
<line x1='446.4' y1='366.248' x2='451.4' y2='366.248' stroke='#1a1a1a' stroke-width='0.9' />
<line x1='446.4' y1='369.152' x2='451.4' y2='369.152' stroke='#1a1a1a' stroke-width='0.9' />
<line x1='445.7' y1='367.7' x2='452.09999999999997' y2='367.7' stroke='#1a1a1a' stroke-width='0.9' />
<path d='M462.70,335.91 L464.48,337.69 L462.70,339.47 L460.92,337.69 Z' fill='#eea02c' stroke='#eea02c' stroke-width='0.8'/>
<path d='M467.80,339.30 L469.58,341.08 L467.80,342.86 L466.02,341.08 Z' fill='#eea02c' stroke='#eea02c' stroke-width='0.8'/>
<path d='M467.70,355.75 L469.48,357.54 L467.70,359.32 L465.92,357.54 Z' fill='#eea02c' stroke='#eea02c' stroke-width='0.8'/>
<line x1='466.2' y1='339.628' x2='466.2' y2='351.244' stroke='#1a1a1a' stroke-width='0.9' />
<line x1='463.7' y1='339.628' x2='468.7' y2='339.628' stroke='#1a1a1a' stroke-width='0.9' />
<line x1='463.7' y1='351.244' x2='468.7' y2='351.244' stroke='#1a1a1a' stroke-width='0.9' />
<line x1='463.0' y1='345.436' x2='469.4' y2='345.436' stroke='#1a1a1a' stroke-width='0.9' />
<path d='M483.50,347.04 L485.28,348.82 L483.50,350.61 L481.72,348.82 Z' fill='none' stroke='#3f7b58' stroke-width='0.8'/>
<path d='M480.30,353.82 L482.08,355.60 L480.30,357.38 L478.52,355.60 Z' fill='none' stroke='#3f7b58' stroke-width='0.8'/>
<path d='M486.50,353.82 L488.28,355.60 L486.50,357.38 L484.72,355.60 Z' fill='none' stroke='#3f7b58' stroke-width='0.8'/>
<path d='M483.50,353.33 L485.28,355.12 L483.50,356.90 L481.72,355.12 Z' fill='none' stroke='#3f7b58' stroke-width='0.8'/>
<line x1='483.5' y1='351.728' x2='483.5' y2='356.568' stroke='#1a1a1a' stroke-width='0.9' />
<line x1='481.0' y1='351.728' x2='486.0' y2='351.728' stroke='#1a1a1a' stroke-width='0.9' />
<line x1='481.0' y1='356.568' x2='486.0' y2='356.568' stroke='#1a1a1a' stroke-width='0.9' />
<line x1='480.3' y1='354.148' x2='486.7' y2='354.148' stroke='#1a1a1a' stroke-width='0.9' />
<line x1='414.3' y1='373.9' x2='431.6' y2='373.9' stroke='#222' stroke-width='1.1' />
<line x1='414.3' y1='372.29999999999995' x2='414.3' y2='375.5' stroke='#222' stroke-width='1.1' />
<line x1='431.6' y1='372.29999999999995' x2='431.6' y2='375.5' stroke='#222' stroke-width='1.1' />
<circle cx='421.25' cy='368.90' r='1.2' fill='#222'/>
<circle cx='424.65' cy='368.90' r='1.2' fill='#222'/>
<line x1='431.6' y1='361.2' x2='448.9' y2='361.2' stroke='#222' stroke-width='1.1' />
<line x1='431.6' y1='359.59999999999997' x2='431.6' y2='362.8' stroke='#222' stroke-width='1.1' />
<line x1='448.9' y1='359.59999999999997' x2='448.9' y2='362.8' stroke='#222' stroke-width='1.1' />
<circle cx='440.25' cy='356.20' r='1.2' fill='#222'/>
<line x1='448.9' y1='332.9' x2='466.2' y2='332.9' stroke='#222' stroke-width='1.1' />
<line x1='448.9' y1='331.29999999999995' x2='448.9' y2='334.5' stroke='#222' stroke-width='1.1' />
<line x1='466.2' y1='331.29999999999995' x2='466.2' y2='334.5' stroke='#222' stroke-width='1.1' />
<circle cx='457.55' cy='327.90' r='1.2' fill='#222'/>
<path d='M391.20,490.80 L391.20,488.08 L402.80,488.08 L402.80,490.80' fill='none' stroke='#b3123f' stroke-width='1.1'/>
<path d='M408.50,490.80 L408.50,482.27 L420.10,482.27 L420.10,490.80' fill='none' stroke='#3d5c9c' stroke-width='1.1'/>
<path d='M425.80,490.80 L425.80,438.89 L437.40,438.89 L437.40,490.80' fill='none' stroke='#74b846' stroke-width='1.1'/>
<path d='M443.10,490.80 L443.10,475.92 L454.70,475.92 L454.70,490.80' fill='none' stroke='#6b3f92' stroke-width='1.1'/>
<path d='M460.40,490.80 L460.40,463.21 L472.00,463.21 L472.00,490.80' fill='none' stroke='#eea02c' stroke-width='1.1'/>
<path d='M477.70,490.80 L477.70,467.02 L489.30,467.02 L489.30,490.80' fill='none' stroke='#3f7b58' stroke-width='1.1'/>
<line x1='385.6' y1='415.5' x2='385.6' y2='490.5' stroke='#111' stroke-width='1.4' />
<line x1='382.20000000000005' y1='490.5' x2='495.2' y2='490.5' stroke='#111' stroke-width='1.15' />
<text x='379.40000000000003' y='494.0' font-size='8.9' text-anchor='end' fill='#1a1a1a'>0</text>
<line x1='382.20000000000005' y1='472.5' x2='385.6' y2='472.5' stroke='#111' stroke-width='1.0' />
<text x='379.40000000000003' y='475.85' font-size='8.9' text-anchor='end' fill='#1a1a1a'>1</text>
<line x1='382.20000000000005' y1='454.5' x2='385.6' y2='454.5' stroke='#111' stroke-width='1.0' />
<text x='379.40000000000003' y='457.7' font-size='8.9' text-anchor='end' fill='#1a1a1a'>2</text>
<line x1='382.20000000000005' y1='436.5' x2='385.6' y2='436.5' stroke='#111' stroke-width='1.0' />
<text x='379.40000000000003' y='439.55' font-size='8.9' text-anchor='end' fill='#1a1a1a'>3</text>
<line x1='382.20000000000005' y1='418.5' x2='385.6' y2='418.5' stroke='#111' stroke-width='1.0' />
<text x='379.40000000000003' y='421.40000000000003' font-size='8.9' text-anchor='end' fill='#1a1a1a'>4</text>
<line x1='397.5' y1='490.5' x2='397.5' y2='493.5' stroke='#111' stroke-width='1.1' />
<text x='397.0' y='506.0' font-size='8.9' text-anchor='middle' fill='#1a1a1a'>0</text>
<line x1='414.5' y1='490.5' x2='414.5' y2='493.5' stroke='#111' stroke-width='1.1' />
<text x='414.3' y='506.0' font-size='8.9' text-anchor='middle' fill='#1a1a1a'>3</text>
<line x1='431.5' y1='490.5' x2='431.5' y2='493.5' stroke='#111' stroke-width='1.1' />
<text x='431.6' y='506.0' font-size='8.9' text-anchor='middle' fill='#1a1a1a'>7</text>
<line x1='448.5' y1='490.5' x2='448.5' y2='493.5' stroke='#111' stroke-width='1.1' />
<text x='448.9' y='506.0' font-size='8.9' text-anchor='middle' fill='#1a1a1a'>10</text>
<line x1='466.5' y1='490.5' x2='466.5' y2='493.5' stroke='#111' stroke-width='1.1' />
<text x='466.2' y='506.0' font-size='8.9' text-anchor='middle' fill='#1a1a1a'>14</text>
<line x1='483.5' y1='490.5' x2='483.5' y2='493.5' stroke='#111' stroke-width='1.1' />
<text x='483.5' y='506.0' font-size='8.9' text-anchor='middle' fill='#1a1a1a'>21</text>
<circle cx='393.49' cy='487.29' r='1.55' fill='#b3123f' stroke='#b3123f' stroke-width='0.8'/>
<circle cx='395.27' cy='488.31' r='1.55' fill='#b3123f' stroke='#b3123f' stroke-width='0.8'/>
<circle cx='396.09' cy='486.69' r='1.55' fill='#b3123f' stroke='#b3123f' stroke-width='0.8'/>
<circle cx='397.68' cy='488.15' r='1.55' fill='#b3123f' stroke='#b3123f' stroke-width='0.8'/>
<circle cx='398.99' cy='488.27' r='1.55' fill='#b3123f' stroke='#b3123f' stroke-width='0.8'/>
<circle cx='400.10' cy='486.96' r='1.55' fill='#b3123f' stroke='#b3123f' stroke-width='0.8'/>
<line x1='397.0' y1='487.17' x2='397.0' y2='488.985' stroke='#1a1a1a' stroke-width='0.9' />
<line x1='394.5' y1='487.17' x2='399.5' y2='487.17' stroke='#1a1a1a' stroke-width='0.9' />
<line x1='394.5' y1='488.985' x2='399.5' y2='488.985' stroke='#1a1a1a' stroke-width='0.9' />
<line x1='393.8' y1='488.0775' x2='400.2' y2='488.0775' stroke='#1a1a1a' stroke-width='0.9' />
<circle cx='407.80' cy='483.18' r='1.55' fill='none' stroke='#3d5c9c' stroke-width='0.8'/>
<circle cx='414.30' cy='483.18' r='1.55' fill='none' stroke='#3d5c9c' stroke-width='0.8'/>
<circle cx='420.30' cy='483.18' r='1.55' fill='none' stroke='#3d5c9c' stroke-width='0.8'/>
<line x1='414.3' y1='481.9065' x2='414.3' y2='482.6325' stroke='#1a1a1a' stroke-width='0.9' />
<line x1='411.8' y1='481.9065' x2='416.8' y2='481.9065' stroke='#1a1a1a' stroke-width='0.9' />
<line x1='411.8' y1='482.6325' x2='416.8' y2='482.6325' stroke='#1a1a1a' stroke-width='0.9' />
<line x1='411.1' y1='482.2695' x2='417.5' y2='482.2695' stroke='#1a1a1a' stroke-width='0.9' />
<path d='M431.90,427.45 L433.61,430.82 L430.20,430.82 Z' fill='#74b846' stroke='#74b846' stroke-width='0.8'/>
<path d='M429.40,442.88 L431.11,446.24 L427.70,446.24 Z' fill='#74b846' stroke='#74b846' stroke-width='0.8'/>
<path d='M434.90,442.33 L436.61,445.70 L433.20,445.70 Z' fill='#74b846' stroke='#74b846' stroke-width='0.8'/>
<line x1='431.6' y1='433.446' x2='431.6' y2='444.336' stroke='#1a1a1a' stroke-width='0.9' />
<line x1='429.1' y1='433.446' x2='434.1' y2='433.446' stroke='#1a1a1a' stroke-width='0.9' />
<line x1='429.1' y1='444.336' x2='434.1' y2='444.336' stroke='#1a1a1a' stroke-width='0.9' />
<line x1='428.40000000000003' y1='438.891' x2='434.8' y2='438.891' stroke='#1a1a1a' stroke-width='0.9' />
<path d='M448.40,470.10 L450.10,473.47 L446.69,473.47 Z' fill='none' stroke='#6b3f92' stroke-width='0.8'/>
<path d='M446.40,474.64 L448.10,478.01 L444.69,478.01 Z' fill='none' stroke='#6b3f92' stroke-width='0.8'/>
<path d='M448.60,477.54 L450.30,480.91 L446.89,480.91 Z' fill='none' stroke='#6b3f92' stroke-width='0.8'/>
<line x1='448.9' y1='473.1945' x2='448.9' y2='478.6395' stroke='#1a1a1a' stroke-width='0.9' />
<line x1='446.4' y1='473.1945' x2='451.4' y2='473.1945' stroke='#1a1a1a' stroke-width='0.9' />
<line x1='446.4' y1='478.6395' x2='451.4' y2='478.6395' stroke='#1a1a1a' stroke-width='0.9' />
<line x1='445.7' y1='475.91700000000003' x2='452.09999999999997' y2='475.91700000000003' stroke='#1a1a1a' stroke-width='0.9' />
<path d='M460.20,461.43 L461.98,463.21 L460.20,464.99 L458.42,463.21 Z' fill='#eea02c' stroke='#eea02c' stroke-width='0.8'/>
<path d='M466.20,461.43 L467.98,463.21 L466.20,464.99 L464.42,463.21 Z' fill='#eea02c' stroke='#eea02c' stroke-width='0.8'/>
<path d='M472.20,461.43 L473.98,463.21 L472.20,464.99 L470.42,463.21 Z' fill='#eea02c' stroke='#eea02c' stroke-width='0.8'/>
<line x1='466.2' y1='462.849' x2='466.2' y2='463.575' stroke='#1a1a1a' stroke-width='0.9' />
<line x1='463.7' y1='462.849' x2='468.7' y2='462.849' stroke='#1a1a1a' stroke-width='0.9' />
<line x1='463.7' y1='463.575' x2='468.7' y2='463.575' stroke='#1a1a1a' stroke-width='0.9' />
<line x1='463.0' y1='463.212' x2='469.4' y2='463.212' stroke='#1a1a1a' stroke-width='0.9' />
<path d='M481.00,459.25 L482.78,461.03 L481.00,462.82 L479.22,461.03 Z' fill='none' stroke='#3f7b58' stroke-width='0.8'/>
<path d='M485.50,463.06 L487.28,464.85 L485.50,466.63 L483.72,464.85 Z' fill='none' stroke='#3f7b58' stroke-width='0.8'/>
<path d='M482.80,472.68 L484.58,474.47 L482.80,476.25 L481.02,474.47 Z' fill='none' stroke='#3f7b58' stroke-width='0.8'/>
<line x1='483.5' y1='463.3935' x2='483.5' y2='470.6535' stroke='#1a1a1a' stroke-width='0.9' />
<line x1='481.0' y1='463.3935' x2='486.0' y2='463.3935' stroke='#1a1a1a' stroke-width='0.9' />
<line x1='481.0' y1='470.6535' x2='486.0' y2='470.6535' stroke='#1a1a1a' stroke-width='0.9' />
<line x1='480.3' y1='467.0235' x2='486.7' y2='467.0235' stroke='#1a1a1a' stroke-width='0.9' />
<line x1='414.3' y1='423.5' x2='431.6' y2='423.5' stroke='#222' stroke-width='1.1' />
<line x1='414.3' y1='421.9' x2='414.3' y2='425.1' stroke='#222' stroke-width='1.1' />
<line x1='431.6' y1='421.9' x2='431.6' y2='425.1' stroke='#222' stroke-width='1.1' />
<circle cx='421.25' cy='418.50' r='1.2' fill='#222'/>
<circle cx='424.65' cy='418.50' r='1.2' fill='#222'/>
<line x1='431.6' y1='423.5' x2='448.9' y2='423.5' stroke='#222' stroke-width='1.1' />
<line x1='431.6' y1='421.9' x2='431.6' y2='425.1' stroke='#222' stroke-width='1.1' />
<line x1='448.9' y1='421.9' x2='448.9' y2='425.1' stroke='#222' stroke-width='1.1' />
<circle cx='438.55' cy='418.50' r='1.2' fill='#222'/>
<circle cx='441.95' cy='418.50' r='1.2' fill='#222'/>
<line x1='448.9' y1='457.1' x2='466.2' y2='457.1' stroke='#222' stroke-width='1.1' />
<line x1='448.9' y1='455.5' x2='448.9' y2='458.70000000000005' stroke='#222' stroke-width='1.1' />
<line x1='466.2' y1='455.5' x2='466.2' y2='458.70000000000005' stroke='#222' stroke-width='1.1' />
<circle cx='455.85' cy='452.10' r='1.2' fill='#222'/>
<circle cx='459.25' cy='452.10' r='1.2' fill='#222'/>
<text transform='translate(360.6,366.5) rotate(-90)' x='0' y='0' font-size='10' text-anchor='middle' dominant-baseline='central' fill='#1a1a1a' textLength='77' lengthAdjust='spacingAndGlyphs'>GC B (% of B220<tspan baseline-shift='super' font-size='6.5'>+</tspan>)</text>
<text transform='translate(366,452.3) rotate(-90)' x='0' y='0' font-size='10' text-anchor='middle' dominant-baseline='central' fill='#1a1a1a' textLength='105' lengthAdjust='spacingAndGlyphs'>Plasma cells (% live cells)</text>
<text x='440.6' y='519' font-size='10.5' text-anchor='middle' fill='#1a1a1a' textLength='81' lengthAdjust='spacingAndGlyphs'>Days post infection</text>
<path d='M391.20,628.90 L391.20,626.19 L402.80,626.19 L402.80,628.90' fill='none' stroke='#b3123f' stroke-width='1.1'/>
<path d='M408.54,628.90 L408.54,626.19 L420.14,626.19 L420.14,628.90' fill='none' stroke='#3d5c9c' stroke-width='1.1'/>
<path d='M425.88,628.90 L425.88,597.13 L437.48,597.13 L437.48,628.90' fill='none' stroke='#74b846' stroke-width='1.1'/>
<path d='M443.22,628.90 L443.22,573.49 L454.82,573.49 L454.82,628.90' fill='none' stroke='#6b3f92' stroke-width='1.1'/>
<path d='M460.56,628.90 L460.56,569.34 L472.16,569.34 L472.16,628.90' fill='none' stroke='#eea02c' stroke-width='1.1'/>
<path d='M477.90,628.90 L477.90,588.47 L489.50,588.47 L489.50,628.90' fill='none' stroke='#3f7b58' stroke-width='1.1'/>
<line x1='385.6' y1='552.7' x2='385.6' y2='628.5' stroke='#111' stroke-width='1.4' />
<line x1='382.20000000000005' y1='628.5' x2='495.2' y2='628.5' stroke='#111' stroke-width='1.15' />
<text x='379.40000000000003' y='632.1' font-size='8.9' text-anchor='end' fill='#1a1a1a'>0</text>
<line x1='382.20000000000005' y1='610.5' x2='385.6' y2='610.5' stroke='#111' stroke-width='1.0' />
<text x='379.40000000000003' y='614.0500000000001' font-size='8.9' text-anchor='end' fill='#1a1a1a'>10</text>
<line x1='382.20000000000005' y1='592.5' x2='385.6' y2='592.5' stroke='#111' stroke-width='1.0' />
<text x='379.40000000000003' y='596.0' font-size='8.9' text-anchor='end' fill='#1a1a1a'>20</text>
<line x1='382.20000000000005' y1='574.5' x2='385.6' y2='574.5' stroke='#111' stroke-width='1.0' />
<text x='379.40000000000003' y='577.95' font-size='8.9' text-anchor='end' fill='#1a1a1a'>30</text>
<line x1='382.20000000000005' y1='556.5' x2='385.6' y2='556.5' stroke='#111' stroke-width='1.0' />
<text x='379.40000000000003' y='559.9' font-size='8.9' text-anchor='end' fill='#1a1a1a'>40</text>
<line x1='397.5' y1='628.5' x2='397.5' y2='631.5' stroke='#111' stroke-width='1.1' />
<text x='397.0' y='644.1' font-size='8.9' text-anchor='middle' fill='#1a1a1a'>0</text>
<line x1='414.5' y1='628.5' x2='414.5' y2='631.5' stroke='#111' stroke-width='1.1' />
<text x='414.34' y='644.1' font-size='8.9' text-anchor='middle' fill='#1a1a1a'>3</text>
<line x1='431.5' y1='628.5' x2='431.5' y2='631.5' stroke='#111' stroke-width='1.1' />
<text x='431.68' y='644.1' font-size='8.9' text-anchor='middle' fill='#1a1a1a'>7</text>
<line x1='449.5' y1='628.5' x2='449.5' y2='631.5' stroke='#111' stroke-width='1.1' />
<text x='449.02' y='644.1' font-size='8.9' text-anchor='middle' fill='#1a1a1a'>10</text>
<line x1='466.5' y1='628.5' x2='466.5' y2='631.5' stroke='#111' stroke-width='1.1' />
<text x='466.36' y='644.1' font-size='8.9' text-anchor='middle' fill='#1a1a1a'>14</text>
<line x1='483.5' y1='628.5' x2='483.5' y2='631.5' stroke='#111' stroke-width='1.1' />
<text x='483.7' y='644.1' font-size='8.9' text-anchor='middle' fill='#1a1a1a'>21</text>
<circle cx='391.60' cy='620.42' r='1.55' fill='#b3123f' stroke='#b3123f' stroke-width='0.8'/>
<circle cx='401.60' cy='620.42' r='1.55' fill='#b3123f' stroke='#b3123f' stroke-width='0.8'/>
<circle cx='395.00' cy='625.29' r='1.55' fill='#b3123f' stroke='#b3123f' stroke-width='0.8'/>
<circle cx='398.30' cy='627.10' r='1.55' fill='#b3123f' stroke='#b3123f' stroke-width='0.8'/>
<circle cx='396.00' cy='627.46' r='1.55' fill='#b3123f' stroke='#b3123f' stroke-width='0.8'/>
<circle cx='393.50' cy='628.00' r='1.55' fill='#b3123f' stroke='#b3123f' stroke-width='0.8'/>
<circle cx='400.00' cy='627.46' r='1.55' fill='#b3123f' stroke='#b3123f' stroke-width='0.8'/>
<circle cx='397.00' cy='626.19' r='1.55' fill='#b3123f' stroke='#b3123f' stroke-width='0.8'/>
<line x1='397.0' y1='625.29' x2='397.0' y2='627.095' stroke='#1a1a1a' stroke-width='0.9' />
<line x1='394.5' y1='625.29' x2='399.5' y2='625.29' stroke='#1a1a1a' stroke-width='0.9' />
<line x1='394.5' y1='627.095' x2='399.5' y2='627.095' stroke='#1a1a1a' stroke-width='0.9' />
<line x1='393.8' y1='626.1925' x2='400.2' y2='626.1925' stroke='#1a1a1a' stroke-width='0.9' />
<circle cx='408.84' cy='625.83' r='1.55' fill='none' stroke='#3d5c9c' stroke-width='0.8'/>
<circle cx='414.34' cy='625.83' r='1.55' fill='none' stroke='#3d5c9c' stroke-width='0.8'/>
<circle cx='419.84' cy='625.83' r='1.55' fill='none' stroke='#3d5c9c' stroke-width='0.8'/>
<line x1='414.34' y1='625.8315' x2='414.34' y2='626.5535' stroke='#1a1a1a' stroke-width='0.9' />
<line x1='411.84' y1='625.8315' x2='416.84' y2='625.8315' stroke='#1a1a1a' stroke-width='0.9' />
<line x1='411.84' y1='626.5535' x2='416.84' y2='626.5535' stroke='#1a1a1a' stroke-width='0.9' />
<line x1='411.14' y1='626.1925' x2='417.53999999999996' y2='626.1925' stroke='#1a1a1a' stroke-width='0.9' />
<path d='M429.18,594.40 L430.88,597.77 L427.48,597.77 Z' fill='#74b846' stroke='#74b846' stroke-width='0.8'/>
<path d='M434.18,594.40 L435.88,597.77 L432.48,597.77 Z' fill='#74b846' stroke='#74b846' stroke-width='0.8'/>
<path d='M431.68,598.01 L433.38,601.38 L429.98,601.38 Z' fill='#74b846' stroke='#74b846' stroke-width='0.8'/>
<line x1='431.68' y1='595.327' x2='431.68' y2='598.937' stroke='#1a1a1a' stroke-width='0.9' />
<line x1='429.18' y1='595.327' x2='434.18' y2='595.327' stroke='#1a1a1a' stroke-width='0.9' />
<line x1='429.18' y1='598.937' x2='434.18' y2='598.937' stroke='#1a1a1a' stroke-width='0.9' />
<line x1='428.48' y1='597.132' x2='434.88' y2='597.132' stroke='#1a1a1a' stroke-width='0.9' />
<path d='M445.62,565.52 L447.32,568.89 L443.92,568.89 Z' fill='none' stroke='#6b3f92' stroke-width='0.8'/>
<path d='M450.32,570.04 L452.02,573.41 L448.62,573.41 Z' fill='none' stroke='#6b3f92' stroke-width='0.8'/>
<path d='M449.02,578.16 L450.72,581.53 L447.31,581.53 Z' fill='none' stroke='#6b3f92' stroke-width='0.8'/>
<line x1='449.02' y1='570.779' x2='449.02' y2='576.194' stroke='#1a1a1a' stroke-width='0.9' />
<line x1='446.52' y1='570.779' x2='451.52' y2='570.779' stroke='#1a1a1a' stroke-width='0.9' />
<line x1='446.52' y1='576.194' x2='451.52' y2='576.194' stroke='#1a1a1a' stroke-width='0.9' />
<line x1='445.82' y1='573.4865' x2='452.21999999999997' y2='573.4865' stroke='#1a1a1a' stroke-width='0.9' />
<path d='M466.16,562.68 L467.94,564.46 L466.16,566.24 L464.38,564.46 Z' fill='#eea02c' stroke='#eea02c' stroke-width='0.8'/>
<path d='M465.66,576.58 L467.44,578.36 L465.66,580.14 L463.88,578.36 Z' fill='#eea02c' stroke='#eea02c' stroke-width='0.8'/>
<path d='M466.16,569.36 L467.94,571.14 L466.16,572.92 L464.38,571.14 Z' fill='#eea02c' stroke='#eea02c' stroke-width='0.8'/>
<line x1='466.36' y1='566.086' x2='466.36' y2='572.584' stroke='#1a1a1a' stroke-width='0.9' />
<line x1='463.86' y1='566.086' x2='468.86' y2='566.086' stroke='#1a1a1a' stroke-width='0.9' />
<line x1='463.86' y1='572.584' x2='468.86' y2='572.584' stroke='#1a1a1a' stroke-width='0.9' />
<line x1='463.16' y1='569.335' x2='469.56' y2='569.335' stroke='#1a1a1a' stroke-width='0.9' />
<path d='M483.50,580.19 L485.28,581.97 L483.50,583.75 L481.72,581.97 Z' fill='none' stroke='#3f7b58' stroke-width='0.8'/>
<path d='M483.50,584.70 L485.28,586.48 L483.50,588.26 L481.72,586.48 Z' fill='none' stroke='#3f7b58' stroke-width='0.8'/>
<path d='M483.50,592.28 L485.28,594.06 L483.50,595.85 L481.72,594.06 Z' fill='none' stroke='#3f7b58' stroke-width='0.8'/>
<line x1='483.7' y1='585.7605' x2='483.7' y2='591.1754999999999' stroke='#1a1a1a' stroke-width='0.9' />
<line x1='481.2' y1='585.7605' x2='486.2' y2='585.7605' stroke='#1a1a1a' stroke-width='0.9' />
<line x1='481.2' y1='591.1754999999999' x2='486.2' y2='591.1754999999999' stroke='#1a1a1a' stroke-width='0.9' />
<line x1='480.5' y1='588.468' x2='486.9' y2='588.468' stroke='#1a1a1a' stroke-width='0.9' />
<line x1='414.34' y1='590.4' x2='431.68' y2='590.4' stroke='#222' stroke-width='1.1' />
<line x1='414.34' y1='588.8' x2='414.34' y2='592.0' stroke='#222' stroke-width='1.1' />
<line x1='431.68' y1='588.8' x2='431.68' y2='592.0' stroke='#222' stroke-width='1.1' />
<circle cx='417.91' cy='585.40' r='1.2' fill='#222'/>
<circle cx='421.31' cy='585.40' r='1.2' fill='#222'/>
<circle cx='424.71' cy='585.40' r='1.2' fill='#222'/>
<circle cx='428.11' cy='585.40' r='1.2' fill='#222'/>
<line x1='431.68' y1='562.1' x2='449.02' y2='562.1' stroke='#222' stroke-width='1.1' />
<line x1='431.68' y1='560.5' x2='431.68' y2='563.7' stroke='#222' stroke-width='1.1' />
<line x1='449.02' y1='560.5' x2='449.02' y2='563.7' stroke='#222' stroke-width='1.1' />
<circle cx='438.65' cy='557.10' r='1.2' fill='#222'/>
<circle cx='442.05' cy='557.10' r='1.2' fill='#222'/>
<line x1='466.36' y1='559.4' x2='483.7' y2='559.4' stroke='#222' stroke-width='1.1' />
<line x1='466.36' y1='557.8' x2='466.36' y2='561.0' stroke='#222' stroke-width='1.1' />
<line x1='483.7' y1='557.8' x2='483.7' y2='561.0' stroke='#222' stroke-width='1.1' />
<circle cx='475.03' cy='554.40' r='1.2' fill='#222'/>
<text transform='translate(360.3,591) rotate(-90)' x='0' y='0' font-size='10' text-anchor='middle' dominant-baseline='central' fill='#1a1a1a' textLength='106' lengthAdjust='spacingAndGlyphs'>CXCR5<tspan baseline-shift='super' font-size='6.5'>+</tspan>PD1<tspan baseline-shift='super' font-size='6.5'>+</tspan> (% of CD4<tspan baseline-shift='super' font-size='6.5'>+</tspan>)</text>
<text x='440.6' y='657' font-size='10.5' text-anchor='middle' fill='#1a1a1a' textLength='81' lengthAdjust='spacingAndGlyphs'>Days post infection</text>
<filter id='blr' x='-20%' y='-20%' width='140%' height='140%'><feGaussianBlur stdDeviation='0.9'/></filter>
<text x='69.7' y='331.0' font-size='8.6' text-anchor='middle' fill='#1a1a1a'>D0</text>
<text x='69.6' y='553.0' font-size='8.6' text-anchor='middle' fill='#1a1a1a'>D0</text>
<text x='129.2' y='331.0' font-size='8.6' text-anchor='middle' fill='#1a1a1a'>D3</text>
<text x='129.2' y='553.0' font-size='8.6' text-anchor='middle' fill='#1a1a1a'>D3</text>
<text x='190.8' y='331.0' font-size='8.6' text-anchor='middle' fill='#1a1a1a'>D10</text>
<text x='191.0' y='553.0' font-size='8.6' text-anchor='middle' fill='#1a1a1a'>D10</text>
<text x='254.6' y='331.0' font-size='8.6' text-anchor='middle' fill='#1a1a1a'>D14</text>
<text x='254.2' y='553.0' font-size='8.6' text-anchor='middle' fill='#1a1a1a'>D14</text>
<path d='M36.8,353 L36.8,396.2 L80,396.2' fill='none' stroke='#111' stroke-width='1'/>
<path d='M34.8,354.5 L36.8,349.5 L38.8,354.5 Z' fill='#111'/>
<path d='M78.5,394.2 L83.5,396.2 L78.5,398.2 Z' fill='#111'/>
<path d='M36.8,441.3 L36.8,483.8 L80.3,483.8' fill='none' stroke='#111' stroke-width='1'/>
<path d='M34.8,442.8 L36.8,437.8 L38.8,442.8 Z' fill='#111'/>
<path d='M78.8,481.8 L83.8,483.8 L78.8,485.8 Z' fill='#111'/>
<path d='M36.8,578.8 L36.8,620.3 L79.7,620.3' fill='none' stroke='#111' stroke-width='1'/>
<path d='M34.8,580.3 L36.8,575.3 L38.8,580.3 Z' fill='#111'/>
<path d='M78.2,618.3 L83.2,620.3 L78.2,622.3 Z' fill='#111'/>
<text transform='translate(27.9,374) rotate(-90)' x='0' y='0' font-size='8.8' text-anchor='middle' dominant-baseline='central' fill='#1a1a1a'>FAS</text>
<text x='58.5' y='408.5' font-size='8.8' text-anchor='middle' fill='#1a1a1a'>GL7</text>
<text transform='translate(27.7,462) rotate(-90)' x='0' y='0' font-size='8.8' text-anchor='middle' dominant-baseline='central' fill='#1a1a1a'>CD138</text>
<text x='58.8' y='495.4' font-size='8.8' text-anchor='middle' fill='#1a1a1a'>B220</text>
<text transform='translate(27.9,601) rotate(-90)' x='0' y='0' font-size='8.8' text-anchor='middle' dominant-baseline='central' fill='#1a1a1a'>PD1</text>
<text x='58.7' y='632.9' font-size='8.8' text-anchor='middle' fill='#1a1a1a'>CXCR5</text>
<clipPath id='c1'><rect x='42.0' y='334.3' width='57.4' height='57.3'/></clipPath>
<g clip-path='url(#c1)'>
<radialGradient id='h2'><stop offset='0.000' stop-color='#000' stop-opacity='0.280'/><stop offset='0.125' stop-color='#000' stop-opacity='0.263'/><stop offset='0.250' stop-color='#000' stop-opacity='0.219'/><stop offset='0.375' stop-color='#000' stop-opacity='0.160'/><stop offset='0.500' stop-color='#000' stop-opacity='0.101'/><stop offset='0.625' stop-color='#000' stop-opacity='0.055'/><stop offset='0.750' stop-color='#000' stop-opacity='0.026'/><stop offset='0.875' stop-color='#000' stop-opacity='0.010'/><stop offset='1.000' stop-color='#000' stop-opacity='0.004'/></radialGradient>
<ellipse transform='translate(57.0,376.3) rotate(0)' rx='22.5' ry='16.5' fill='url(#h2)'/>
<radialGradient id='h3'><stop offset='0.000' stop-color='#000' stop-opacity='0.285'/><stop offset='0.125' stop-color='#000' stop-opacity='0.268'/><stop offset='0.250' stop-color='#000' stop-opacity='0.223'/><stop offset='0.375' stop-color='#000' stop-opacity='0.163'/><stop offset='0.500' stop-color='#000' stop-opacity='0.103'/><stop offset='0.625' stop-color='#000' stop-opacity='0.056'/><stop offset='0.750' stop-color='#000' stop-opacity='0.026'/><stop offset='0.875' stop-color='#000' stop-opacity='0.011'/><stop offset='1.000' stop-color='#000' stop-opacity='0.004'/></radialGradient>
<ellipse transform='translate(63.0,369.3) rotate(-42)' rx='18.0' ry='10.5' fill='url(#h3)'/>
<radialGradient id='h4'><stop offset='0.000' stop-color='#000' stop-opacity='0.242'/><stop offset='0.125' stop-color='#000' stop-opacity='0.228'/><stop offset='0.250' stop-color='#000' stop-opacity='0.189'/><stop offset='0.375' stop-color='#000' stop-opacity='0.137'/><stop offset='0.500' stop-color='#000' stop-opacity='0.086'/><stop offset='0.625' stop-color='#000' stop-opacity='0.047'/><stop offset='0.750' stop-color='#000' stop-opacity='0.022'/><stop offset='0.875' stop-color='#000' stop-opacity='0.009'/><stop offset='1.000' stop-color='#000' stop-opacity='0.003'/></radialGradient>
<ellipse transform='translate(70.0,358.3) rotate(-52)' rx='18.0' ry='7.8' fill='url(#h4)'/>
<radialGradient id='h5'><stop offset='0.000' stop-color='#000' stop-opacity='0.028'/><stop offset='0.125' stop-color='#000' stop-opacity='0.026'/><stop offset='0.250' stop-color='#000' stop-opacity='0.021'/><stop offset='0.375' stop-color='#000' stop-opacity='0.015'/><stop offset='0.500' stop-color='#000' stop-opacity='0.009'/><stop offset='0.625' stop-color='#000' stop-opacity='0.005'/><stop offset='0.750' stop-color='#000' stop-opacity='0.002'/><stop offset='0.875' stop-color='#000' stop-opacity='0.001'/><stop offset='1.000' stop-color='#000' stop-opacity='0.000'/></radialGradient>
<ellipse transform='translate(67.0,370.3) rotate(0)' rx='39.0' ry='33.0' fill='url(#h5)'/>
<radialGradient id='h6'><stop offset='0.000' stop-color='#000' stop-opacity='0.055'/><stop offset='0.125' stop-color='#000' stop-opacity='0.051'/><stop offset='0.250' stop-color='#000' stop-opacity='0.042'/><stop offset='0.375' stop-color='#000' stop-opacity='0.029'/><stop offset='0.500' stop-color='#000' stop-opacity='0.018'/><stop offset='0.625' stop-color='#000' stop-opacity='0.010'/><stop offset='0.750' stop-color='#000' stop-opacity='0.004'/><stop offset='0.875' stop-color='#000' stop-opacity='0.002'/><stop offset='1.000' stop-color='#000' stop-opacity='0.001'/></radialGradient>
<ellipse transform='translate(87.0,362.3) rotate(0)' rx='18.0' ry='12.0' fill='url(#h6)'/>
<path transform='translate(42.0,334.3) scale(0.25)' d='M25 151h0M69 155h0M83 149h0M76 216h0M31 176h0M92 172h0M81 202h0M81 154h0M82 144h0M93 157h0M127 172h0M42 164h0M61 160h0M113 171h0M20 158h0M70 144h0M39 184h0M59 162h0M74 161h0M30 177h0M18 143h0M53 151h0M39 137h0M105 141h0M42 174h0M111 157h0M48 146h0M68 138h0M61 195h0M60 158h0M26 172h0M70 165h0M72 146h0M67 177h0M79 170h0M35 196h0M51 180h0M40 139h0M9 164h0M71 164h0M41 165h0M58 139h0M127 130h0M67 164h0M63 174h0M92 140h0M97 208h0M114 181h0M44 156h0M114 212h0M56 133h0M25 145h0M32 143h0M93 193h0M83 151h0M98 183h0M32 173h0M50 154h0M24 170h0M59 186h0M107 145h0M93 148h0M37 182h0M95 157h0M43 208h0M69 198h0M85 131h0M48 171h0M33 164h0M79 215h0M55 155h0M43 154h0M79 163h0M54 163h0M71 147h0M31 173h0M82 156h0M32 149h0M48 201h0M4 171h0M95 144h0M63 137h0M74 160h0M9 140h0M65 139h0M48 192h0M96 164h0M13 155h0M71 171h0M92 155h0M24 169h0M63 207h0M27 167h0M61 154h0M70 142h0M100 181h0M65 164h0M39 176h0M77 132h0M60 159h0M92 170h0M42 179h0M100 173h0M65 161h0M67 196h0M90 167h0M44 122h0M45 139h0M75 166h0M57 172h0M61 138h0M48 141h0M51 176h0M86 173h0M119 176h0M19 183h0M105 169h0M82 150h0M96 196h0M65 191h0M38 206h0M54 178h0M32 171h0M10 174h0M58 176h0M68 129h0M52 166h0M66 162h0M14 178h0M92 176h0M55 163h0M61 160h0M81 140h0M43 176h0M138 159h0M97 162h0M97 193h0M65 193h0M39 163h0M75 207h0M38 185h0M67 170h0M67 149h0M97 149h0M73 190h0M64 125h0M102 206h0M57 184h0M44 161h0M45 204h0M104 173h0M61 140h0M43 153h0M29 141h0M69 211h0M78 170h0M110 163h0M39 185h0M75 180h0M99 152h0M129 123h0M26 187h0M26 161h0M88 187h0M72 167h0M96 136h0M80 153h0M69 200h0M56 153h0M37 178h0M78 114h0M54 188h0M83 125h0M25 191h0M85 156h0M89 154h0M62 199h0M55 156h0M77 192h0M79 159h0M53 177h0M122 192h0M106 193h0M90 163h0M102 118h0M99 207h0M19 157h0M136 197h0M17 151h0M66 160h0M27 171h0M79 169h0M73 213h0M67 131h0M84 175h0M68 179h0M105 174h0M56 192h0M37 157h0M73 157h0M44 167h0M72 185h0M49 137h0M33 211h0M26 161h0M84 155h0M63 161h0M77 171h0M53 138h0M91 159h0M91 129h0M94 124h0M78 147h0M84 150h0M96 136h0M48 167h0M88 150h0M131 154h0M122 121h0M79 140h0M72 176h0M83 160h0M101 113h0M134 121h0M70 129h0M63 170h0M106 158h0M88 116h0M97 121h0M84 126h0M142 115h0M79 133h0M136 93h0M70 162h0M121 127h0M112 130h0M91 117h0M52 132h0M91 152h0M64 160h0M91 146h0M84 129h0M95 130h0M76 174h0M57 136h0M44 173h0M71 122h0M78 170h0M105 125h0M65 139h0M78 114h0M78 147h0M85 142h0M79 142h0M75 173h0M90 116h0M76 162h0M121 135h0M34 174h0M83 157h0M113 143h0M86 112h0M43 165h0M75 124h0M92 143h0M106 156h0M64 132h0M70 153h0M112 165h0M88 125h0M107 131h0M88 148h0M64 149h0M105 138h0M62 167h0M70 151h0M69 148h0M95 154h0M88 139h0M112 101h0M90 125h0M104 128h0M81 151h0M51 143h0M86 156h0M63 136h0M104 88h0M107 113h0M103 130h0M92 151h0M50 149h0M75 141h0M83 161h0M70 152h0M103 145h0M122 118h0M107 91h0M74 134h0M95 147h0M68 109h0M81 159h0M107 116h0M86 122h0M108 162h0M87 121h0M71 140h0M78 140h0M105 115h0M108 129h0M92 141h0M37 137h0M141 111h0M104 143h0M112 133h0M73 160h0M82 113h0M104 137h0M88 128h0M89 110h0M127 106h0M99 65h0M108 123h0M106 124h0M117 82h0M129 77h0M117 116h0M115 92h0M95 82h0M126 66h0M127 99h0M77 124h0M110 120h0M127 70h0M138 75h0M127 67h0M103 96h0M96 111h0M105 69h0M115 102h0M91 87h0M101 109h0M108 82h0M102 115h0M117 112h0M141 59h0M108 96h0M133 74h0M119 95h0M125 94h0M111 89h0M155 61h0M109 82h0M115 90h0M133 107h0M107 107h0M136 78h0M104 114h0M92 127h0M132 104h0M119 88h0M82 109h0M115 89h0M114 98h0M84 123h0M76 133h0M128 98h0M117 100h0M138 91h0M94 123h0M120 67h0M112 92h0M116 86h0M138 57h0M118 101h0M95 88h0M105 103h0M104 134h0M101 90h0M96 129h0M96 117h0M72 120h0M116 75h0M122 107h0M125 68h0M104 107h0M106 103h0M92 102h0M161 213h0M150 106h0M122 73h0M93 219h0M57 207h0M51 142h0M149 73h0M152 123h0M118 109h0M125 135h0M100 149h0M49 75h0M56 89h0M93 143h0M123 146h0M165 77h0M129 195h0M60 168h0M146 172h0M127 53h0M195 148h0M152 167h0M103 149h0M43 159h0M183 170h0M54 211h0M118 192h0M155 121h0M144 192h0M46 124h0M51 153h0M162 159h0M138 144h0M60 156h0M16 159h0M39 37h0M56 140h0M80 109h0M117 211h0M117 151h0M86 111h0M61 165h0M116 150h0M75 168h0M150 53h0M83 128h0M69 101h0M164 207h0M164 177h0M185 133h0M52 139h0M153 139h0M174 121h0M114 101h0M53 86h0M94 194h0M133 99h0M108 162h0M107 180h0M152 168h0M202 141h0M194 100h0M165 124h0M156 99h0M201 140h0M195 97h0M207 154h0M180 123h0M133 126h0M169 118h0M163 127h0M204 101h0M160 90h0M202 127h0M186 123h0M187 110h0M186 108h0M195 110h0M154 115h0M209 127h0M141 107h0M163 118h0' stroke='#000' stroke-opacity='0.6' stroke-width='2.2' stroke-linecap='square' fill='none'/>
<path d='M52.7,386.0L50.3,385.8L49.0,385.0L48.1,383.6L46.9,380.3L46.8,376.3L47.1,374.6L47.4,370.3L48.3,368.4L49.0,368.0L50.0,367.7L50.7,367.7L53.3,368.5L55.0,369.2L57.0,370.4L64.8,375.6L65.7,376.4L66.6,378.0L66.8,379.3L66.2,381.0L65.5,382.3L64.2,383.6L63.0,384.2L59.5,384.6L58.0,385.1L52.7,386.0Z' fill='none' stroke='#000' stroke-opacity='0.6' stroke-width='2.8' filter='url(#blr)'/>
<path d='M52.7,386.0L50.3,385.8L49.0,385.0L48.1,383.6L46.9,380.3L46.8,376.3L47.1,374.6L47.4,370.3L48.3,368.4L49.0,368.0L50.0,367.7L50.7,367.7L53.3,368.5L55.0,369.2L57.0,370.4L64.8,375.6L65.7,376.4L66.6,378.0L66.8,379.3L66.2,381.0L65.5,382.3L64.2,383.6L63.0,384.2L59.5,384.6L58.0,385.1L52.7,386.0Z' fill='#c0c0c0' stroke='#0a0a0a' stroke-width='1.2'/>
<path d='M54.7,384.7L52.7,384.9L51.0,384.6L49.7,383.8L48.6,382.0L48.1,379.6L47.8,376.6L48.2,375.0L48.2,374.0L48.7,370.6L49.2,369.6L50.0,369.0L50.7,369.0L52.0,369.2L54.7,370.2L57.7,372.4L58.7,372.8L59.3,373.5L60.2,374.0L60.7,374.6L61.3,374.7L62.1,375.3L63.0,375.7L64.5,377.0L65.2,378.0L65.5,379.3L65.1,380.6L63.3,382.7L61.7,383.3L60.0,383.4L58.7,383.9L55.7,384.3L54.7,384.7Z' fill='#cacaca' stroke='#444' stroke-width='0.45'/>
<path d='M52.7,383.7L51.7,383.4L50.2,382.6L49.7,381.6L49.4,380.0L48.9,379.0L49.2,375.3L49.6,374.3L49.7,372.9L50.0,372.6L49.6,372.0L50.0,371.8L50.3,371.0L52.3,371.0L55.0,371.9L55.7,372.7L57.0,373.2L57.8,374.0L58.3,374.1L59.3,375.4L60.4,375.6L62.0,376.8L62.8,378.0L63.7,378.4L64.0,379.0L64.0,379.6L63.7,379.9L62.9,379.6L63.3,380.6L63.2,381.0L62.3,381.6L61.3,381.8L60.3,381.4L59.3,382.1L58.3,382.4L57.3,383.0L56.0,382.6L55.0,383.4L53.3,383.4L52.7,383.7Z' fill='#d6d6d6' stroke='#666' stroke-width='0.4'/>
<path d='M54.0,382.7L52.7,382.6L52.3,381.7L52.0,381.6L51.6,381.6L51.6,382.0L51.3,382.2L50.7,381.6L50.3,380.6L50.3,379.6L49.8,378.3L49.8,377.6L50.1,376.6L50.6,376.0L50.4,374.0L51.2,373.3L51.3,372.6L51.7,372.3L54.7,373.6L54.8,374.0L56.3,375.2L57.2,375.3L57.3,375.6L56.9,376.0L56.9,376.3L57.9,376.6L57.4,378.0L58.7,377.8L59.3,378.3L59.3,378.6L58.7,378.9L58.0,379.5L55.7,380.3L56.0,381.0L55.8,381.3L55.0,381.5L54.0,382.7ZM57.3,381.1L57.0,381.0L57.1,380.3L57.7,380.0L58.5,380.0L58.5,380.3L58.1,380.6L57.3,381.1Z' fill='#e4e4e4' stroke='#888' stroke-width='0.35'/>
<path d='M53.3,381.1L53.0,381.0L53.2,380.6L53.0,380.0L52.0,380.1L51.4,379.3L51.3,378.6L50.6,378.3L50.6,377.0L51.2,376.3L51.1,375.6L51.3,375.3L52.7,375.2L54.0,375.6L55.3,375.3L55.5,375.6L55.3,376.1L54.9,376.3L54.9,377.0L55.7,377.0L56.0,377.3L55.6,378.3L56.0,379.0L55.7,379.4L55.3,378.9L55.0,378.8L54.9,379.3L55.3,379.6L55.1,380.0L54.3,380.1L54.0,380.7L53.3,381.1Z' fill='#f4f4f4'/>
</g>
<path d='M42.0,334.3 L99.4,334.3 L99.4,391.6' fill='none' stroke='#8f8f8f' stroke-width='0.9'/>
<path d='M42.0,334.3 L42.0,391.6 L99.4,391.6' fill='none' stroke='#b0b0b0' stroke-width='0.8' stroke-dasharray='0.8,0.7'/>
<line x1='41.1' y1='338.3' x2='42.9' y2='338.3' stroke='#777' stroke-width='0.6' />
<line x1='41.1' y1='350.625' x2='42.9' y2='350.625' stroke='#777' stroke-width='0.6' />
<line x1='41.1' y1='362.95' x2='42.9' y2='362.95' stroke='#777' stroke-width='0.6' />
<line x1='41.1' y1='375.275' x2='42.9' y2='375.275' stroke='#777' stroke-width='0.6' />
<line x1='41.1' y1='387.6' x2='42.9' y2='387.6' stroke='#777' stroke-width='0.6' />
<line x1='46.0' y1='390.70000000000005' x2='46.0' y2='392.5' stroke='#777' stroke-width='0.6' />
<line x1='58.35' y1='390.70000000000005' x2='58.35' y2='392.5' stroke='#777' stroke-width='0.6' />
<line x1='70.7' y1='390.70000000000005' x2='70.7' y2='392.5' stroke='#777' stroke-width='0.6' />
<line x1='83.05' y1='390.70000000000005' x2='83.05' y2='392.5' stroke='#777' stroke-width='0.6' />
<line x1='95.4' y1='390.70000000000005' x2='95.4' y2='392.5' stroke='#777' stroke-width='0.6' />
<line x1='42.0' y1='380.14' x2='42.0' y2='382.34' stroke='#111' stroke-width='1.2' />
<line x1='46.018' y1='391.6' x2='53.480000000000004' y2='391.6' stroke='#555' stroke-width='1.0' />
<clipPath id='c7'><rect x='103.1' y='334.3' width='57.4' height='57.3'/></clipPath>
<g clip-path='url(#c7)'>
<radialGradient id='h8'><stop offset='0.000' stop-color='#000' stop-opacity='0.217'/><stop offset='0.125' stop-color='#000' stop-opacity='0.204'/><stop offset='0.250' stop-color='#000' stop-opacity='0.169'/><stop offset='0.375' stop-color='#000' stop-opacity='0.122'/><stop offset='0.500' stop-color='#000' stop-opacity='0.076'/><stop offset='0.625' stop-color='#000' stop-opacity='0.041'/><stop offset='0.750' stop-color='#000' stop-opacity='0.019'/><stop offset='0.875' stop-color='#000' stop-opacity='0.008'/><stop offset='1.000' stop-color='#000' stop-opacity='0.003'/></radialGradient>
<ellipse transform='translate(119.1,375.3) rotate(0)' rx='25.5' ry='19.5' fill='url(#h8)'/>
<radialGradient id='h9'><stop offset='0.000' stop-color='#000' stop-opacity='0.501'/><stop offset='0.125' stop-color='#000' stop-opacity='0.477'/><stop offset='0.250' stop-color='#000' stop-opacity='0.409'/><stop offset='0.375' stop-color='#000' stop-opacity='0.309'/><stop offset='0.500' stop-color='#000' stop-opacity='0.202'/><stop offset='0.625' stop-color='#000' stop-opacity='0.113'/><stop offset='0.750' stop-color='#000' stop-opacity='0.054'/><stop offset='0.875' stop-color='#000' stop-opacity='0.022'/><stop offset='1.000' stop-color='#000' stop-opacity='0.008'/></radialGradient>
<ellipse transform='translate(126.1,371.3) rotate(-30)' rx='21.0' ry='15.0' fill='url(#h9)'/>
<radialGradient id='h10'><stop offset='0.000' stop-color='#000' stop-opacity='0.026'/><stop offset='0.125' stop-color='#000' stop-opacity='0.024'/><stop offset='0.250' stop-color='#000' stop-opacity='0.020'/><stop offset='0.375' stop-color='#000' stop-opacity='0.014'/><stop offset='0.500' stop-color='#000' stop-opacity='0.009'/><stop offset='0.625' stop-color='#000' stop-opacity='0.005'/><stop offset='0.750' stop-color='#000' stop-opacity='0.002'/><stop offset='0.875' stop-color='#000' stop-opacity='0.001'/><stop offset='1.000' stop-color='#000' stop-opacity='0.000'/></radialGradient>
<ellipse transform='translate(131.1,369.3) rotate(0)' rx='42.0' ry='33.0' fill='url(#h10)'/>
<radialGradient id='h11'><stop offset='0.000' stop-color='#000' stop-opacity='0.025'/><stop offset='0.125' stop-color='#000' stop-opacity='0.024'/><stop offset='0.250' stop-color='#000' stop-opacity='0.019'/><stop offset='0.375' stop-color='#000' stop-opacity='0.014'/><stop offset='0.500' stop-color='#000' stop-opacity='0.008'/><stop offset='0.625' stop-color='#000' stop-opacity='0.004'/><stop offset='0.750' stop-color='#000' stop-opacity='0.002'/><stop offset='0.875' stop-color='#000' stop-opacity='0.001'/><stop offset='1.000' stop-color='#000' stop-opacity='0.000'/></radialGradient>
<ellipse transform='translate(147.1,362.3) rotate(0)' rx='21.0' ry='18.0' fill='url(#h11)'/>
<path transform='translate(103.1,334.3) scale(0.25)' d='M37 134h0M85 142h0M89 145h0M53 137h0M76 189h0M122 136h0M100 152h0M88 147h0M87 222h0M35 140h0M97 176h0M8 212h0M53 133h0M49 142h0M5 155h0M60 129h0M120 196h0M52 151h0M23 192h0M61 178h0M93 164h0M71 189h0M64 156h0M16 192h0M81 129h0M81 144h0M110 196h0M115 109h0M87 176h0M8 153h0M15 150h0M27 146h0M74 198h0M37 124h0M109 186h0M72 176h0M76 153h0M90 162h0M76 182h0M16 148h0M147 124h0M114 171h0M116 142h0M39 153h0M13 183h0M28 211h0M94 173h0M95 167h0M114 185h0M137 171h0M82 120h0M76 148h0M52 132h0M53 182h0M25 197h0M81 173h0M75 137h0M50 185h0M36 139h0M80 171h0M108 133h0M67 128h0M74 127h0M45 164h0M56 147h0M53 175h0M54 130h0M44 177h0M77 148h0M108 197h0M32 191h0M112 158h0M50 167h0M52 170h0M89 192h0M27 151h0M91 114h0M66 170h0M73 161h0M109 186h0M62 179h0M5 167h0M97 167h0M132 147h0M61 132h0M40 143h0M17 162h0M83 105h0M3 153h0M22 138h0M69 162h0M67 143h0M55 166h0M100 158h0M22 198h0M24 155h0M50 158h0M66 165h0M53 117h0M132 136h0M43 201h0M86 177h0M44 166h0M75 192h0M49 159h0M51 158h0M119 156h0M53 118h0M122 188h0M39 159h0M48 162h0M102 155h0M7 105h0M65 168h0M80 221h0M83 190h0M53 157h0M15 140h0M92 165h0M79 174h0M25 161h0M67 186h0M126 139h0M68 192h0M23 168h0M49 150h0M51 157h0M76 173h0M95 184h0M32 166h0M41 179h0M99 226h0M89 121h0M111 112h0M13 166h0M31 139h0M99 167h0M31 122h0M75 167h0M62 198h0M38 193h0M115 135h0M63 156h0M46 187h0M58 211h0M72 139h0M9 142h0M34 193h0M20 155h0M98 191h0M113 120h0M105 146h0M3 189h0M78 148h0M87 184h0M44 132h0M92 184h0M93 123h0M128 120h0M84 148h0M71 132h0M95 159h0M115 129h0M78 166h0M79 133h0M125 97h0M100 117h0M88 100h0M72 142h0M117 143h0M79 190h0M68 190h0M83 185h0M140 152h0M118 184h0M72 165h0M93 170h0M110 154h0M95 87h0M55 175h0M126 131h0M119 143h0M70 150h0M75 142h0M99 133h0M93 166h0M101 155h0M82 190h0M35 152h0M163 135h0M116 180h0M89 130h0M106 143h0M109 102h0M86 86h0M53 139h0M90 150h0M96 151h0M107 130h0M84 168h0M105 149h0M117 178h0M111 103h0M20 169h0M88 136h0M93 132h0M103 130h0M116 190h0M68 153h0M115 150h0M86 117h0M64 147h0M68 182h0M116 158h0M54 131h0M129 176h0M133 134h0M89 131h0M102 153h0M88 135h0M110 102h0M128 132h0M103 162h0M121 157h0M76 117h0M70 138h0M109 134h0M101 168h0M85 183h0M51 162h0M103 112h0M75 172h0M60 155h0M90 159h0M121 157h0M57 183h0M97 121h0M89 120h0M47 138h0M72 177h0M100 171h0M128 102h0M80 142h0M108 115h0M113 132h0M44 154h0M83 132h0M129 156h0M89 171h0M122 131h0M77 183h0M50 157h0M86 162h0M98 121h0M74 139h0M124 152h0M41 147h0M73 148h0M112 106h0M19 158h0M99 142h0M70 160h0M57 129h0M106 190h0M71 195h0M104 117h0M110 145h0M122 132h0M88 132h0M55 136h0M107 137h0M57 161h0M81 181h0M144 119h0M106 113h0M95 127h0M127 125h0M94 168h0M93 117h0M74 162h0M97 174h0M78 119h0M142 151h0M69 146h0M116 130h0M85 137h0M52 178h0M50 182h0M80 166h0M147 182h0M72 98h0M130 112h0M82 120h0M124 123h0M90 130h0M67 155h0M109 136h0M67 146h0M67 183h0M58 131h0M77 143h0M98 144h0M127 159h0M93 114h0M130 95h0M50 184h0M88 151h0M140 85h0M96 172h0M64 169h0M70 152h0M65 155h0M81 156h0M130 116h0M61 172h0M79 163h0M115 107h0M83 115h0M117 171h0M77 143h0M133 165h0M69 164h0M88 86h0M98 150h0M79 134h0M56 115h0M115 133h0M89 122h0M80 149h0M107 166h0M75 176h0M124 130h0M127 129h0M121 132h0M92 131h0M94 121h0M54 157h0M85 154h0M78 135h0M86 144h0M107 137h0M72 136h0M85 175h0M134 152h0M86 154h0M67 138h0M23 140h0M33 120h0M98 170h0M100 146h0M42 160h0M76 120h0M98 138h0M89 170h0M96 151h0M115 108h0M104 210h0M56 179h0M69 129h0M74 165h0M94 154h0M116 149h0M117 140h0M87 120h0M129 133h0M92 127h0M118 134h0M100 141h0M105 154h0M82 158h0M88 141h0M105 202h0M81 145h0M90 139h0M124 139h0M90 159h0M117 155h0M47 138h0M79 141h0M134 148h0M103 147h0M51 177h0M76 122h0M71 125h0M54 148h0M51 175h0M76 174h0M75 177h0M89 103h0M105 137h0M108 139h0M113 124h0M35 170h0M74 131h0M96 135h0M51 114h0M89 178h0M74 161h0M111 170h0M82 133h0M104 98h0M119 173h0M74 105h0M78 125h0M80 171h0M109 170h0M104 122h0M101 136h0M63 156h0M60 177h0M99 121h0M102 154h0M108 158h0M70 157h0M111 138h0M133 177h0M89 155h0M101 131h0M81 178h0M102 169h0M36 162h0M75 133h0M166 138h0M122 158h0M147 146h0M123 168h0M87 123h0M81 115h0M93 170h0M120 153h0M77 160h0M101 159h0M164 87h0M95 122h0M80 151h0M123 139h0M110 151h0M86 148h0M72 173h0M101 170h0M87 161h0M89 137h0M119 171h0M88 122h0M72 163h0M125 173h0M128 184h0M74 195h0M97 135h0M73 117h0M97 133h0M108 145h0M117 113h0M53 209h0M81 211h0M123 84h0M115 219h0M184 160h0M144 169h0M145 174h0M81 78h0M116 83h0M89 107h0M120 120h0M143 181h0M119 96h0M74 223h0M106 73h0M80 155h0M94 144h0M186 208h0M34 33h0M205 125h0M188 178h0M145 123h0M92 109h0M125 72h0M89 153h0M195 127h0M48 71h0M57 142h0M114 104h0M195 168h0M94 185h0M155 152h0M122 91h0M13 126h0M114 119h0M136 181h0M45 104h0M55 204h0M52 135h0M156 166h0M41 116h0M60 191h0M107 110h0M220 85h0M186 104h0M196 88h0M190 121h0M151 105h0M214 90h0M130 91h0M177 113h0M196 90h0M203 76h0M156 83h0M160 115h0M167 66h0' stroke='#000' stroke-opacity='0.6' stroke-width='2.2' stroke-linecap='square' fill='none'/>
<path d='M114.8,386.0L113.1,385.9L111.4,385.5L110.1,384.4L107.9,381.3L107.0,378.3L107.1,375.3L107.3,373.3L108.5,370.6L109.6,369.3L112.4,366.9L114.8,366.1L116.8,365.8L119.8,365.6L122.1,366.0L125.4,367.2L127.8,368.3L129.3,369.6L130.3,371.3L130.9,373.0L131.2,374.6L130.9,377.0L130.4,378.6L129.8,380.3L128.8,382.0L126.1,383.5L121.1,385.1L114.8,386.0Z' fill='none' stroke='#000' stroke-opacity='0.6' stroke-width='2.8' filter='url(#blr)'/>
<path d='M114.8,386.0L113.1,385.9L111.4,385.5L110.1,384.4L107.9,381.3L107.0,378.3L107.1,375.3L107.3,373.3L108.5,370.6L109.6,369.3L112.4,366.9L114.8,366.1L116.8,365.8L119.8,365.6L122.1,366.0L125.4,367.2L127.8,368.3L129.3,369.6L130.3,371.3L130.9,373.0L131.2,374.6L130.9,377.0L130.4,378.6L129.8,380.3L128.8,382.0L126.1,383.5L121.1,385.1L114.8,386.0Z' fill='#c0c0c0' stroke='#0a0a0a' stroke-width='1.2'/>
<path d='M116.1,384.6L113.4,384.7L111.8,384.2L110.3,383.0L109.0,380.6L108.5,379.3L108.2,378.0L108.5,375.6L108.3,374.0L109.0,372.0L110.0,370.6L111.5,369.0L114.1,367.4L116.4,367.1L117.1,367.2L118.8,366.8L120.4,366.9L121.8,367.3L125.1,368.4L127.1,369.5L128.8,371.0L129.8,373.4L129.9,374.6L129.4,377.6L128.0,381.0L125.5,382.6L124.4,382.8L121.8,383.8L120.8,383.9L119.8,384.3L116.1,384.6Z' fill='#cacaca' stroke='#444' stroke-width='0.45'/>
<path d='M115.8,383.4L115.4,383.5L114.8,383.2L113.1,383.1L112.1,382.8L111.5,382.3L111.1,381.4L110.0,380.3L109.3,376.0L109.7,373.6L110.1,372.7L110.7,372.3L111.0,371.0L111.8,370.4L112.1,369.8L112.4,369.6L113.1,369.7L114.4,368.6L115.8,368.5L116.4,368.7L118.8,368.0L120.4,368.5L121.8,369.4L123.5,369.3L125.4,370.5L126.1,370.4L127.0,371.0L127.3,371.6L127.3,372.3L128.3,373.0L128.3,374.3L127.4,374.6L127.8,375.3L127.6,376.3L128.1,377.3L127.3,379.0L126.8,379.1L126.5,379.3L126.4,380.3L126.1,380.6L124.4,381.1L123.4,381.6L121.5,382.0L120.8,382.7L119.4,383.0L117.4,383.1L116.8,382.9L115.8,383.4Z' fill='#d6d6d6' stroke='#666' stroke-width='0.4'/>
<path d='M114.1,382.0L112.5,381.0L112.1,380.3L111.8,380.4L111.0,380.0L110.3,378.0L111.0,376.3L110.5,375.6L111.0,374.3L110.7,373.6L111.1,373.3L111.4,373.4L111.8,373.3L112.8,371.2L114.1,370.8L114.8,370.1L115.3,370.3L115.8,370.9L116.4,371.1L117.2,370.6L117.4,370.0L118.0,370.3L117.7,371.0L118.0,371.6L117.8,372.0L118.1,372.3L118.3,372.0L118.1,371.6L118.6,371.0L118.4,370.6L118.8,370.3L119.4,370.9L120.1,371.0L120.2,371.6L120.9,372.0L121.4,373.3L123.1,373.1L123.3,373.3L123.3,373.6L123.1,373.8L122.4,373.8L122.3,374.0L122.4,374.3L123.1,374.3L123.3,374.6L123.1,375.0L122.8,375.2L122.1,375.1L121.8,375.6L121.8,376.1L121.4,376.4L121.1,376.2L120.9,376.6L121.4,377.0L121.8,377.9L122.3,377.3L122.1,377.0L122.5,376.6L122.6,377.0L122.7,378.0L122.4,378.5L122.1,378.6L121.4,378.0L120.4,378.1L119.4,379.7L118.1,380.9L116.4,381.7L115.4,381.5L115.1,381.1L114.8,381.1L114.4,381.3L114.1,382.0Z' fill='#e4e4e4' stroke='#888' stroke-width='0.35'/>
<path d='M113.8,380.0L112.8,379.3L112.9,378.3L112.2,378.0L111.9,377.0L112.1,375.6L112.9,375.0L112.9,374.6L112.6,374.3L113.4,374.0L114.4,372.5L114.8,372.6L115.3,373.3L115.3,374.0L115.8,374.1L116.0,374.0L115.6,373.3L116.1,372.8L116.8,372.7L117.4,373.3L117.7,374.3L117.6,374.6L117.1,375.0L117.0,375.3L117.8,375.0L118.4,376.3L118.9,376.6L119.0,377.3L118.7,377.6L118.9,378.3L118.6,378.6L117.8,378.7L117.1,379.0L116.5,378.6L116.4,378.1L115.8,378.2L115.5,378.3L115.4,379.1L114.4,379.3L114.1,379.9L113.8,380.0ZM117.6,378.3L117.8,378.2L117.9,377.6L117.5,377.3L117.4,377.0L117.9,376.6L117.8,376.5L117.5,376.6L117.0,377.6L117.0,378.0L117.4,378.4L117.6,378.3Z' fill='#f4f4f4'/>
</g>
<path d='M103.1,334.3 L160.5,334.3 L160.5,391.6' fill='none' stroke='#8f8f8f' stroke-width='0.9'/>
<path d='M103.1,334.3 L103.1,391.6 L160.5,391.6' fill='none' stroke='#b0b0b0' stroke-width='0.8' stroke-dasharray='0.8,0.7'/>
<line x1='102.19999999999999' y1='338.3' x2='104.0' y2='338.3' stroke='#777' stroke-width='0.6' />
<line x1='102.19999999999999' y1='350.625' x2='104.0' y2='350.625' stroke='#777' stroke-width='0.6' />
<line x1='102.19999999999999' y1='362.95' x2='104.0' y2='362.95' stroke='#777' stroke-width='0.6' />
<line x1='102.19999999999999' y1='375.275' x2='104.0' y2='375.275' stroke='#777' stroke-width='0.6' />
<line x1='102.19999999999999' y1='387.6' x2='104.0' y2='387.6' stroke='#777' stroke-width='0.6' />
<line x1='107.1' y1='390.70000000000005' x2='107.1' y2='392.5' stroke='#777' stroke-width='0.6' />
<line x1='119.44999999999999' y1='390.70000000000005' x2='119.44999999999999' y2='392.5' stroke='#777' stroke-width='0.6' />
<line x1='131.79999999999998' y1='390.70000000000005' x2='131.79999999999998' y2='392.5' stroke='#777' stroke-width='0.6' />
<line x1='144.14999999999998' y1='390.70000000000005' x2='144.14999999999998' y2='392.5' stroke='#777' stroke-width='0.6' />
<line x1='156.5' y1='390.70000000000005' x2='156.5' y2='392.5' stroke='#777' stroke-width='0.6' />
<line x1='103.1' y1='380.14' x2='103.1' y2='382.34' stroke='#111' stroke-width='1.2' />
<line x1='107.118' y1='391.6' x2='114.58' y2='391.6' stroke='#555' stroke-width='1.0' />
<clipPath id='c12'><rect x='164.4' y='334.3' width='57.4' height='57.3'/></clipPath>
<g clip-path='url(#c12)'>
<radialGradient id='h13'><stop offset='0.000' stop-color='#000' stop-opacity='0.070'/><stop offset='0.125' stop-color='#000' stop-opacity='0.066'/><stop offset='0.250' stop-color='#000' stop-opacity='0.054'/><stop offset='0.375' stop-color='#000' stop-opacity='0.038'/><stop offset='0.500' stop-color='#000' stop-opacity='0.023'/><stop offset='0.625' stop-color='#000' stop-opacity='0.012'/><stop offset='0.750' stop-color='#000' stop-opacity='0.006'/><stop offset='0.875' stop-color='#000' stop-opacity='0.002'/><stop offset='1.000' stop-color='#000' stop-opacity='0.001'/></radialGradient>
<ellipse transform='translate(185.4,373.3) rotate(-15)' rx='39.0' ry='30.0' fill='url(#h13)'/>
<radialGradient id='h14'><stop offset='0.000' stop-color='#000' stop-opacity='0.171'/><stop offset='0.125' stop-color='#000' stop-opacity='0.161'/><stop offset='0.250' stop-color='#000' stop-opacity='0.132'/><stop offset='0.375' stop-color='#000' stop-opacity='0.095'/><stop offset='0.500' stop-color='#000' stop-opacity='0.059'/><stop offset='0.625' stop-color='#000' stop-opacity='0.032'/><stop offset='0.750' stop-color='#000' stop-opacity='0.015'/><stop offset='0.875' stop-color='#000' stop-opacity='0.006'/><stop offset='1.000' stop-color='#000' stop-opacity='0.002'/></radialGradient>
<ellipse transform='translate(188.4,362.3) rotate(-8)' rx='36.0' ry='9.0' fill='url(#h14)'/>
<radialGradient id='h15'><stop offset='0.000' stop-color='#000' stop-opacity='0.428'/><stop offset='0.125' stop-color='#000' stop-opacity='0.406'/><stop offset='0.250' stop-color='#000' stop-opacity='0.344'/><stop offset='0.375' stop-color='#000' stop-opacity='0.257'/><stop offset='0.500' stop-color='#000' stop-opacity='0.166'/><stop offset='0.625' stop-color='#000' stop-opacity='0.092'/><stop offset='0.750' stop-color='#000' stop-opacity='0.043'/><stop offset='0.875' stop-color='#000' stop-opacity='0.018'/><stop offset='1.000' stop-color='#000' stop-opacity='0.006'/></radialGradient>
<ellipse transform='translate(208.4,363.3) rotate(-5)' rx='21.0' ry='13.5' fill='url(#h15)'/>
<radialGradient id='h16'><stop offset='0.000' stop-color='#000' stop-opacity='0.018'/><stop offset='0.125' stop-color='#000' stop-opacity='0.017'/><stop offset='0.250' stop-color='#000' stop-opacity='0.014'/><stop offset='0.375' stop-color='#000' stop-opacity='0.010'/><stop offset='0.500' stop-color='#000' stop-opacity='0.006'/><stop offset='0.625' stop-color='#000' stop-opacity='0.003'/><stop offset='0.750' stop-color='#000' stop-opacity='0.001'/><stop offset='0.875' stop-color='#000' stop-opacity='0.001'/><stop offset='1.000' stop-color='#000' stop-opacity='0.000'/></radialGradient>
<ellipse transform='translate(194.4,370.3) rotate(0)' rx='48.0' ry='42.0' fill='url(#h16)'/>
<path transform='translate(164.4,334.3) scale(0.25)' d='M118 158h0M198 145h0M132 142h0M22 143h0M50 147h0M130 153h0M75 131h0M144 140h0M189 122h0M195 191h0M17 198h0M55 106h0M51 155h0M153 214h0M47 114h0M44 184h0M122 145h0M127 35h0M67 172h0M6 145h0M135 128h0M214 161h0M113 127h0M80 136h0M56 100h0M114 90h0M180 131h0M168 167h0M114 217h0M105 116h0M55 172h0M102 160h0M80 78h0M86 150h0M106 172h0M48 169h0M107 146h0M127 140h0M137 161h0M74 225h0M12 129h0M91 154h0M15 71h0M39 95h0M30 176h0M23 81h0M21 185h0M63 215h0M15 136h0M3 145h0M136 140h0M77 134h0M103 147h0M164 103h0M126 180h0M86 166h0M24 167h0M99 54h0M99 120h0M136 142h0M83 184h0M56 133h0M120 180h0M63 190h0M105 141h0M73 110h0M75 154h0M118 200h0M83 155h0M155 170h0M148 167h0M5 184h0M110 69h0M76 49h0M12 104h0M80 183h0M136 73h0M113 178h0M16 111h0M87 159h0M144 174h0M74 149h0M64 190h0M113 180h0M101 142h0M13 189h0M69 132h0M83 92h0M87 210h0M43 171h0M53 133h0M112 104h0M8 167h0M45 209h0M90 127h0M126 159h0M81 162h0M49 150h0M116 142h0M60 159h0M176 86h0M134 77h0M185 152h0M45 221h0M61 181h0M57 123h0M15 170h0M47 139h0M115 85h0M17 127h0M59 134h0M164 152h0M32 91h0M143 95h0M94 126h0M147 97h0M139 109h0M102 119h0M97 112h0M106 103h0M105 102h0M125 99h0M180 102h0M122 102h0M169 109h0M141 126h0M77 119h0M115 91h0M124 111h0M134 103h0M74 109h0M143 95h0M64 112h0M90 150h0M129 144h0M104 131h0M51 106h0M32 122h0M70 127h0M59 112h0M195 104h0M45 131h0M28 139h0M198 102h0M14 126h0M64 112h0M115 104h0M93 113h0M107 108h0M167 110h0M204 99h0M102 107h0M112 126h0M77 109h0M68 122h0M72 120h0M101 103h0M68 114h0M105 112h0M67 108h0M36 103h0M78 145h0M76 106h0M64 111h0M68 111h0M114 108h0M28 130h0M133 115h0M58 109h0M82 117h0M148 111h0M132 103h0M3 137h0M105 112h0M154 114h0M41 106h0M69 136h0M152 101h0M26 109h0M171 90h0M24 112h0M55 121h0M59 89h0M66 104h0M127 121h0M111 125h0M95 99h0M99 113h0M12 127h0M58 115h0M139 100h0M33 131h0M155 101h0M80 117h0M41 130h0M124 97h0M123 98h0M60 145h0M60 106h0M50 133h0M61 132h0M179 88h0M170 118h0M176 110h0M159 129h0M179 117h0M174 135h0M162 104h0M168 115h0M201 109h0M178 105h0M173 122h0M175 87h0M191 68h0M154 116h0M150 130h0M192 120h0M207 140h0M95 123h0M195 96h0M200 118h0M179 117h0M196 116h0M150 136h0M187 98h0M145 103h0M170 114h0M168 137h0M180 101h0M141 142h0M186 139h0M186 107h0M207 101h0M160 115h0M187 86h0M160 144h0M190 117h0M160 137h0M145 107h0M160 120h0M219 109h0M219 141h0M176 96h0M181 137h0M187 115h0M135 118h0M150 115h0M142 111h0M172 126h0M149 109h0M184 103h0M195 130h0M167 120h0M180 107h0M160 120h0M130 129h0M141 115h0M175 143h0M125 119h0M142 79h0M154 132h0M199 137h0M181 133h0M217 129h0M225 74h0M191 98h0M191 115h0M211 115h0M165 115h0M167 92h0M129 106h0M197 106h0M153 133h0M187 151h0M139 119h0M161 99h0M149 133h0M145 121h0M196 120h0M131 120h0M183 101h0M177 101h0M204 106h0M127 135h0M143 152h0M204 130h0M124 115h0M182 142h0M206 118h0M132 119h0M145 118h0M197 96h0M137 91h0M196 100h0M206 108h0M175 117h0M170 93h0M172 111h0M153 84h0M198 135h0M193 103h0M172 96h0M183 126h0M135 119h0M146 99h0M117 151h0M156 102h0M198 121h0M180 104h0M160 130h0M164 130h0M161 104h0M201 100h0M143 139h0M207 117h0M190 130h0M133 125h0M193 134h0M195 125h0M162 108h0M227 139h0M152 117h0M164 119h0M181 121h0M191 137h0M168 103h0M200 115h0M157 116h0M188 111h0M169 98h0M171 68h0M146 105h0M173 133h0M132 118h0M133 112h0M169 113h0M198 129h0M145 116h0M186 109h0M191 133h0M191 121h0M170 120h0M118 91h0M160 88h0M176 116h0M142 108h0M178 105h0M154 121h0M198 125h0M181 164h0M179 98h0M185 118h0M173 157h0M217 98h0M144 128h0M150 98h0M175 137h0M177 102h0M138 129h0M203 127h0M168 108h0M190 88h0M157 102h0M161 119h0M183 124h0M163 130h0M155 101h0M185 139h0M197 122h0M168 116h0M185 103h0M151 100h0M182 76h0M150 107h0M183 113h0M148 144h0M182 128h0M199 92h0M178 126h0M127 100h0M217 149h0M160 163h0M114 128h0M224 102h0M159 142h0M193 123h0M181 125h0M227 117h0M217 101h0M127 132h0M188 138h0M145 123h0M171 111h0M167 111h0M170 130h0M141 138h0M190 110h0M194 93h0M196 122h0M225 107h0M169 121h0M151 153h0M178 141h0M100 89h0M164 101h0M139 120h0M139 90h0M133 85h0M138 112h0M178 107h0M124 114h0M144 123h0M172 103h0M163 112h0M207 109h0M174 132h0M223 75h0M195 120h0M138 84h0M164 88h0M214 116h0M134 124h0M144 122h0M120 117h0M168 115h0M196 98h0M202 114h0M168 138h0M94 125h0M63 157h0M11 91h0M91 134h0M102 136h0M109 103h0M97 137h0M201 157h0M87 125h0M189 130h0M87 73h0M41 221h0M130 83h0M109 131h0M141 117h0M109 169h0M131 152h0M143 124h0M222 75h0M113 117h0M109 64h0M178 224h0M189 90h0M99 132h0M88 47h0M73 205h0M171 123h0M86 113h0M156 110h0M67 202h0M178 68h0M113 114h0M204 200h0M142 109h0M80 116h0M86 101h0M97 195h0M106 99h0M73 130h0M155 169h0M158 179h0M103 188h0M221 99h0M119 151h0M28 164h0M105 190h0' stroke='#000' stroke-opacity='0.6' stroke-width='2.2' stroke-linecap='square' fill='none'/>
<path d='M180.1,386.0L175.4,385.7L174.1,385.2L173.1,384.5L170.7,381.8L169.5,379.3L169.3,376.6L170.2,371.6L170.6,370.0L171.4,368.3L173.6,365.0L175.1,363.5L177.1,362.2L183.4,360.6L187.4,360.1L196.7,359.5L198.7,359.7L202.4,360.8L205.7,362.1L206.7,363.0L207.1,364.3L206.3,365.6L205.4,366.4L201.1,368.9L199.6,370.0L199.1,370.6L197.5,373.3L196.3,376.3L195.1,380.0L193.7,381.8L192.7,382.5L191.1,383.3L185.4,385.4L183.7,385.8L180.1,386.0Z' fill='none' stroke='#000' stroke-opacity='0.4' stroke-width='2.2' filter='url(#blr)'/>
<path d='M180.1,386.0L175.4,385.7L174.1,385.2L173.1,384.5L170.7,381.8L169.5,379.3L169.3,376.6L170.2,371.6L170.6,370.0L171.4,368.3L173.6,365.0L175.1,363.5L177.1,362.2L183.4,360.6L187.4,360.1L196.7,359.5L198.7,359.7L202.4,360.8L205.7,362.1L206.7,363.0L207.1,364.3L206.3,365.6L205.4,366.4L201.1,368.9L199.6,370.0L199.1,370.6L197.5,373.3L196.3,376.3L195.1,380.0L193.7,381.8L192.7,382.5L191.1,383.3L185.4,385.4L183.7,385.8L180.1,386.0Z' fill='#c0c0c0' stroke='#0a0a0a' stroke-width='1.2'/>
<path d='M182.7,384.7L178.1,384.9L175.4,384.4L174.1,383.9L173.1,382.9L170.9,380.0L170.7,377.3L170.7,375.0L171.9,369.6L174.1,366.3L175.4,364.8L177.4,363.5L180.1,362.6L181.1,362.5L182.1,362.1L184.7,361.6L188.4,361.5L189.4,361.2L191.1,361.2L192.7,360.9L195.7,361.0L197.4,360.7L198.7,360.9L202.4,362.0L204.9,363.3L205.3,364.3L204.7,365.3L203.7,365.8L202.4,366.9L199.4,368.5L197.7,370.3L195.9,374.0L195.2,376.0L194.7,376.6L194.6,378.0L194.1,378.6L193.8,379.6L193.1,380.6L191.3,382.0L189.8,382.6L185.1,384.4L184.1,384.3L182.7,384.7Z' fill='#cacaca' stroke='#444' stroke-width='0.45'/>
<path d='M181.7,383.7L178.4,383.7L177.7,383.2L177.1,383.3L175.7,383.0L175.1,382.6L174.1,382.3L173.1,380.6L172.5,380.3L172.4,380.0L172.5,379.3L171.7,378.0L172.3,372.6L172.7,372.0L172.8,371.3L173.4,369.5L173.9,368.6L175.1,367.6L175.4,367.7L175.7,368.3L175.9,368.0L175.5,367.0L175.7,366.5L176.7,365.9L178.1,364.6L179.4,364.4L179.9,364.0L181.1,364.0L184.4,363.1L185.7,363.6L187.4,362.7L188.1,362.7L188.7,362.9L190.1,362.8L190.7,362.5L195.7,362.7L197.4,362.2L198.1,362.7L199.3,362.6L200.1,363.2L201.1,363.1L202.5,364.0L202.6,364.3L201.9,364.6L201.4,365.4L201.1,365.7L200.3,365.6L200.1,366.0L200.0,366.6L198.1,368.0L197.4,368.7L196.5,369.0L196.3,369.6L195.5,370.3L195.1,372.3L194.0,373.0L193.8,373.6L194.1,374.0L194.2,374.6L194.1,375.0L193.0,376.0L193.4,376.7L192.5,378.0L192.4,379.2L191.7,380.0L189.7,380.8L188.7,381.5L186.7,381.8L186.1,382.4L185.1,382.2L184.7,382.7L183.4,383.2L182.7,382.8L182.4,382.9L182.1,383.6L181.7,383.7Z' fill='#d6d6d6' stroke='#666' stroke-width='0.4'/>
<path d='M184.4,368.1L183.6,368.0L183.5,367.6L184.4,366.9L185.5,367.3L185.4,367.9L184.7,367.9L184.4,368.1ZM181.1,382.1L179.1,382.1L177.7,381.8L177.6,381.3L177.7,380.6L177.4,380.5L176.7,381.3L176.1,381.1L175.4,381.2L175.4,380.1L174.0,379.6L173.3,378.0L173.4,377.0L173.0,376.0L173.4,375.3L173.9,375.3L174.1,375.0L173.7,374.9L173.4,375.2L173.3,375.0L173.4,373.7L173.8,373.3L173.7,372.6L174.3,372.0L174.2,371.0L175.0,370.3L175.4,369.3L176.4,369.1L177.1,369.4L178.7,368.2L179.5,368.3L179.6,368.6L179.0,369.0L179.0,369.3L179.4,369.8L180.1,370.1L181.1,369.3L182.1,369.8L182.4,369.3L183.1,369.3L183.7,370.1L184.4,369.8L185.4,368.7L185.6,370.0L185.1,370.3L185.1,371.0L187.1,371.3L187.1,371.7L186.5,372.0L186.2,372.6L186.2,373.0L186.7,373.2L187.1,374.5L188.1,374.1L188.2,374.3L188.1,375.2L187.4,375.4L186.9,376.0L187.0,378.0L186.8,378.3L186.4,378.3L185.9,378.0L185.4,378.0L185.0,378.6L184.3,379.0L184.4,380.2L185.1,380.4L185.7,380.0L186.0,380.6L185.4,380.9L184.7,380.8L184.1,381.2L183.7,380.8L183.1,380.7L182.7,380.0L182.4,380.1L182.2,380.3L182.4,380.8L182.9,381.0L182.7,381.3L181.7,381.6L181.1,382.1ZM185.3,372.3L184.9,372.0L184.7,371.1L183.9,371.0L183.8,371.3L184.0,372.3L185.1,372.4L185.3,372.3ZM188.7,373.3L188.1,373.5L187.8,373.3L188.2,372.6L188.1,372.0L188.4,371.8L189.5,373.0L188.7,373.3Z' fill='#e4e4e4' stroke='#888' stroke-width='0.35'/>
<path d='M181.7,379.4L180.7,379.3L180.2,378.6L179.3,378.3L179.4,377.8L178.3,377.3L177.4,377.3L177.5,378.3L177.1,378.7L176.8,377.6L176.1,377.8L175.9,377.6L175.5,377.0L175.8,376.0L175.7,375.3L175.0,375.3L175.7,374.8L176.0,373.0L176.4,372.2L177.4,372.1L178.1,372.4L178.7,372.3L179.6,373.0L179.7,373.6L180.7,373.2L182.1,372.1L182.5,372.6L182.0,373.0L181.8,373.6L183.1,373.8L183.4,374.2L183.7,374.3L184.4,373.6L185.1,374.3L184.4,374.7L183.7,374.3L183.4,374.4L182.3,375.6L183.1,375.9L183.5,376.3L182.4,376.6L182.2,377.3L181.4,377.9L181.1,377.6L180.7,377.7L180.7,378.3L181.4,378.0L182.1,378.9L182.0,379.3L181.7,379.4ZM184.4,377.0L184.3,376.6L184.7,375.9L185.4,375.9L185.7,376.3L185.4,376.7L184.4,377.0Z' fill='#f4f4f4'/>
</g>
<path d='M164.4,334.3 L221.8,334.3 L221.8,391.6' fill='none' stroke='#8f8f8f' stroke-width='0.9'/>
<path d='M164.4,334.3 L164.4,391.6 L221.8,391.6' fill='none' stroke='#b0b0b0' stroke-width='0.8' stroke-dasharray='0.8,0.7'/>
<line x1='163.5' y1='338.3' x2='165.3' y2='338.3' stroke='#777' stroke-width='0.6' />
<line x1='163.5' y1='350.625' x2='165.3' y2='350.625' stroke='#777' stroke-width='0.6' />
<line x1='163.5' y1='362.95' x2='165.3' y2='362.95' stroke='#777' stroke-width='0.6' />
<line x1='163.5' y1='375.275' x2='165.3' y2='375.275' stroke='#777' stroke-width='0.6' />
<line x1='163.5' y1='387.6' x2='165.3' y2='387.6' stroke='#777' stroke-width='0.6' />
<line x1='168.4' y1='390.70000000000005' x2='168.4' y2='392.5' stroke='#777' stroke-width='0.6' />
<line x1='180.75' y1='390.70000000000005' x2='180.75' y2='392.5' stroke='#777' stroke-width='0.6' />
<line x1='193.1' y1='390.70000000000005' x2='193.1' y2='392.5' stroke='#777' stroke-width='0.6' />
<line x1='205.45' y1='390.70000000000005' x2='205.45' y2='392.5' stroke='#777' stroke-width='0.6' />
<line x1='217.8' y1='390.70000000000005' x2='217.8' y2='392.5' stroke='#777' stroke-width='0.6' />
<line x1='164.4' y1='380.14' x2='164.4' y2='382.34' stroke='#111' stroke-width='1.2' />
<line x1='168.418' y1='391.6' x2='175.88' y2='391.6' stroke='#555' stroke-width='1.0' />
<clipPath id='c17'><rect x='225.5' y='334.3' width='57.4' height='57.3'/></clipPath>
<g clip-path='url(#c17)'>
<radialGradient id='h18'><stop offset='0.000' stop-color='#000' stop-opacity='0.080'/><stop offset='0.125' stop-color='#000' stop-opacity='0.075'/><stop offset='0.250' stop-color='#000' stop-opacity='0.061'/><stop offset='0.375' stop-color='#000' stop-opacity='0.043'/><stop offset='0.500' stop-color='#000' stop-opacity='0.027'/><stop offset='0.625' stop-color='#000' stop-opacity='0.014'/><stop offset='0.750' stop-color='#000' stop-opacity='0.007'/><stop offset='0.875' stop-color='#000' stop-opacity='0.003'/><stop offset='1.000' stop-color='#000' stop-opacity='0.001'/></radialGradient>
<ellipse transform='translate(249.5,366.3) rotate(-10)' rx='39.0' ry='30.0' fill='url(#h18)'/>
<radialGradient id='h19'><stop offset='0.000' stop-color='#000' stop-opacity='0.171'/><stop offset='0.125' stop-color='#000' stop-opacity='0.161'/><stop offset='0.250' stop-color='#000' stop-opacity='0.132'/><stop offset='0.375' stop-color='#000' stop-opacity='0.095'/><stop offset='0.500' stop-color='#000' stop-opacity='0.059'/><stop offset='0.625' stop-color='#000' stop-opacity='0.032'/><stop offset='0.750' stop-color='#000' stop-opacity='0.015'/><stop offset='0.875' stop-color='#000' stop-opacity='0.006'/><stop offset='1.000' stop-color='#000' stop-opacity='0.002'/></radialGradient>
<ellipse transform='translate(249.5,356.3) rotate(-8)' rx='36.0' ry='9.0' fill='url(#h19)'/>
<radialGradient id='h20'><stop offset='0.000' stop-color='#000' stop-opacity='0.265'/><stop offset='0.125' stop-color='#000' stop-opacity='0.249'/><stop offset='0.250' stop-color='#000' stop-opacity='0.207'/><stop offset='0.375' stop-color='#000' stop-opacity='0.151'/><stop offset='0.500' stop-color='#000' stop-opacity='0.095'/><stop offset='0.625' stop-color='#000' stop-opacity='0.052'/><stop offset='0.750' stop-color='#000' stop-opacity='0.024'/><stop offset='0.875' stop-color='#000' stop-opacity='0.010'/><stop offset='1.000' stop-color='#000' stop-opacity='0.003'/></radialGradient>
<ellipse transform='translate(269.5,363.8) rotate(0)' rx='24.0' ry='16.5' fill='url(#h20)'/>
<radialGradient id='h21'><stop offset='0.000' stop-color='#000' stop-opacity='0.096'/><stop offset='0.125' stop-color='#000' stop-opacity='0.090'/><stop offset='0.250' stop-color='#000' stop-opacity='0.074'/><stop offset='0.375' stop-color='#000' stop-opacity='0.052'/><stop offset='0.500' stop-color='#000' stop-opacity='0.032'/><stop offset='0.625' stop-color='#000' stop-opacity='0.017'/><stop offset='0.750' stop-color='#000' stop-opacity='0.008'/><stop offset='0.875' stop-color='#000' stop-opacity='0.003'/><stop offset='1.000' stop-color='#000' stop-opacity='0.001'/></radialGradient>
<ellipse transform='translate(260.5,376.3) rotate(0)' rx='24.0' ry='15.0' fill='url(#h21)'/>
<radialGradient id='h22'><stop offset='0.000' stop-color='#000' stop-opacity='0.018'/><stop offset='0.125' stop-color='#000' stop-opacity='0.017'/><stop offset='0.250' stop-color='#000' stop-opacity='0.014'/><stop offset='0.375' stop-color='#000' stop-opacity='0.010'/><stop offset='0.500' stop-color='#000' stop-opacity='0.006'/><stop offset='0.625' stop-color='#000' stop-opacity='0.003'/><stop offset='0.750' stop-color='#000' stop-opacity='0.001'/><stop offset='0.875' stop-color='#000' stop-opacity='0.001'/><stop offset='1.000' stop-color='#000' stop-opacity='0.000'/></radialGradient>
<ellipse transform='translate(255.5,368.3) rotate(0)' rx='48.0' ry='42.0' fill='url(#h22)'/>
<path transform='translate(225.5,334.3) scale(0.25)' d='M154 125h0M33 157h0M121 77h0M26 89h0M142 69h0M30 217h0M58 128h0M71 166h0M138 109h0M18 150h0M26 121h0M75 181h0M132 112h0M54 136h0M206 159h0M107 196h0M84 148h0M117 110h0M88 122h0M51 189h0M61 94h0M98 90h0M171 80h0M117 170h0M124 144h0M78 104h0M95 130h0M183 94h0M171 74h0M97 96h0M122 117h0M88 106h0M59 135h0M95 115h0M72 104h0M116 144h0M134 142h0M72 53h0M155 129h0M35 120h0M90 88h0M112 157h0M4 155h0M132 145h0M129 101h0M197 184h0M97 149h0M123 99h0M143 198h0M6 110h0M122 186h0M20 129h0M107 101h0M128 92h0M103 85h0M174 129h0M111 121h0M136 54h0M62 142h0M66 72h0M206 129h0M83 111h0M72 122h0M85 178h0M133 37h0M58 179h0M147 91h0M109 170h0M107 118h0M82 118h0M68 100h0M97 185h0M193 146h0M71 73h0M82 126h0M103 73h0M179 151h0M114 87h0M41 135h0M103 150h0M96 120h0M19 90h0M55 117h0M105 71h0M84 189h0M189 150h0M102 54h0M64 86h0M108 218h0M54 162h0M60 121h0M143 158h0M96 142h0M4 177h0M25 125h0M138 188h0M40 148h0M72 83h0M153 116h0M83 117h0M85 146h0M79 143h0M153 123h0M55 100h0M36 148h0M97 104h0M193 178h0M108 78h0M175 102h0M157 96h0M34 98h0M104 143h0M95 141h0M100 135h0M172 177h0M167 92h0M140 139h0M162 120h0M70 144h0M132 69h0M37 89h0M87 164h0M27 91h0M170 161h0M88 192h0M135 98h0M35 153h0M113 133h0M153 181h0M121 212h0M116 158h0M115 161h0M107 178h0M76 93h0M57 133h0M161 154h0M98 108h0M178 85h0M50 83h0M88 94h0M103 100h0M130 90h0M53 104h0M77 86h0M112 76h0M102 100h0M123 82h0M54 84h0M40 89h0M30 106h0M69 99h0M22 116h0M69 78h0M130 84h0M66 91h0M130 58h0M125 83h0M92 96h0M123 74h0M131 68h0M28 126h0M165 62h0M8 118h0M104 91h0M62 98h0M64 86h0M99 76h0M75 108h0M85 112h0M88 79h0M51 109h0M103 87h0M42 105h0M120 82h0M36 88h0M104 68h0M68 71h0M167 76h0M51 91h0M153 65h0M77 71h0M21 89h0M167 82h0M149 91h0M184 87h0M81 90h0M146 89h0M173 62h0M115 104h0M93 78h0M153 68h0M64 78h0M73 86h0M93 97h0M105 77h0M123 94h0M135 83h0M5 79h0M114 71h0M81 78h0M23 92h0M77 111h0M144 109h0M132 85h0M34 99h0M75 80h0M82 102h0M164 67h0M87 82h0M64 92h0M99 97h0M98 59h0M143 85h0M115 80h0M9 103h0M214 87h0M121 64h0M90 90h0M92 99h0M132 64h0M91 104h0M90 96h0M125 87h0M42 85h0M188 105h0M197 83h0M149 130h0M154 133h0M146 128h0M182 126h0M184 88h0M202 179h0M185 102h0M161 104h0M175 135h0M147 134h0M205 122h0M144 126h0M147 136h0M177 130h0M115 103h0M189 125h0M217 130h0M195 129h0M198 121h0M191 99h0M177 132h0M174 137h0M140 130h0M187 85h0M204 129h0M164 132h0M188 111h0M191 128h0M164 119h0M162 114h0M164 133h0M168 128h0M227 105h0M124 161h0M139 143h0M132 84h0M187 118h0M194 120h0M146 64h0M205 93h0M144 145h0M224 120h0M179 131h0M206 126h0M133 122h0M205 110h0M181 92h0M158 82h0M126 103h0M202 140h0M199 143h0M166 150h0M207 118h0M207 102h0M212 153h0M146 144h0M199 132h0M183 131h0M156 111h0M183 148h0M161 81h0M213 112h0M174 134h0M190 122h0M206 156h0M200 106h0M140 103h0M226 73h0M186 149h0M215 124h0M183 136h0M168 95h0M134 99h0M184 134h0M204 110h0M161 120h0M160 155h0M155 131h0M173 131h0M181 128h0M204 112h0M167 139h0M184 127h0M145 176h0M208 138h0M178 87h0M133 116h0M147 104h0M171 156h0M214 121h0M179 96h0M192 147h0M150 141h0M153 127h0M154 95h0M152 114h0M149 119h0M135 103h0M202 126h0M206 97h0M144 143h0M209 100h0M167 95h0M131 112h0M164 128h0M164 126h0M200 103h0M164 123h0M207 95h0M153 130h0M158 121h0M217 105h0M116 123h0M159 116h0M124 76h0M189 95h0M181 110h0M151 119h0M185 114h0M216 146h0M75 91h0M124 147h0M151 108h0M175 124h0M190 109h0M183 122h0M180 149h0M152 107h0M151 116h0M110 69h0M171 117h0M194 105h0M140 135h0M205 127h0M134 109h0M198 88h0M171 149h0M187 142h0M185 142h0M165 152h0M141 92h0M157 95h0M145 111h0M128 105h0M217 136h0M211 127h0M195 135h0M196 125h0M133 131h0M89 132h0M195 124h0M194 110h0M196 148h0M205 114h0M201 87h0M156 80h0M200 133h0M198 114h0M200 92h0M186 127h0M185 143h0M152 129h0M168 99h0M208 118h0M117 125h0M149 101h0M203 95h0M108 157h0M203 146h0M189 165h0M141 166h0M150 147h0M181 189h0M179 180h0M168 137h0M117 194h0M115 151h0M143 136h0M169 166h0M164 189h0M141 196h0M120 156h0M195 174h0M116 172h0M148 197h0M151 188h0M160 181h0M189 178h0M83 177h0M56 176h0M158 167h0M176 158h0M172 199h0M166 173h0M142 175h0M137 165h0M205 178h0M119 159h0M178 178h0M135 166h0M142 194h0M110 133h0M130 197h0M116 175h0M86 150h0M103 181h0M76 163h0M162 177h0M101 165h0M119 173h0M185 169h0M153 163h0M118 158h0M162 182h0M142 185h0M152 186h0M104 163h0M159 172h0M139 175h0M119 175h0M102 171h0M162 2h0M99 115h0M163 108h0M62 139h0M113 158h0M100 170h0M101 83h0M187 182h0M42 170h0M107 89h0M116 158h0M156 94h0M63 147h0M49 71h0M81 150h0M116 210h0M142 111h0M224 150h0M143 77h0M180 117h0M157 16h0M116 53h0M159 115h0M84 117h0M200 199h0M75 67h0M107 96h0M142 124h0M121 99h0M109 153h0M93 222h0M84 108h0M56 147h0M145 218h0M197 143h0M74 80h0M164 176h0M176 181h0M188 135h0M181 199h0M126 207h0M88 29h0M167 130h0M88 90h0M205 124h0' stroke='#000' stroke-opacity='0.6' stroke-width='2.2' stroke-linecap='square' fill='none'/>
<path d='M240.5,381.7L238.2,381.9L236.8,381.8L234.5,381.0L233.5,380.3L232.1,378.3L231.7,375.3L232.0,370.0L232.4,368.0L232.9,366.3L234.8,363.0L237.1,359.6L238.8,358.2L244.8,355.8L247.2,355.1L248.5,354.8L249.8,354.9L251.2,355.0L257.5,357.0L259.1,357.3L261.5,357.6L264.2,357.3L269.2,357.7L273.2,357.8L275.2,358.1L276.7,359.0L278.0,360.6L278.8,363.0L278.6,364.6L277.7,366.6L275.8,368.5L273.5,369.2L261.5,369.2L259.8,369.5L257.5,370.6L254.3,373.0L251.0,376.6L247.5,379.9L245.5,380.8L240.5,381.7Z' fill='none' stroke='#000' stroke-opacity='0.4' stroke-width='2.2' filter='url(#blr)'/>
<path d='M240.5,381.7L238.2,381.9L236.8,381.8L234.5,381.0L233.5,380.3L232.1,378.3L231.7,375.3L232.0,370.0L232.4,368.0L232.9,366.3L234.8,363.0L237.1,359.6L238.8,358.2L244.8,355.8L247.2,355.1L248.5,354.8L249.8,354.9L251.2,355.0L257.5,357.0L259.1,357.3L261.5,357.6L264.2,357.3L269.2,357.7L273.2,357.8L275.2,358.1L276.7,359.0L278.0,360.6L278.8,363.0L278.6,364.6L277.7,366.6L275.8,368.5L273.5,369.2L261.5,369.2L259.8,369.5L257.5,370.6L254.3,373.0L251.0,376.6L247.5,379.9L245.5,380.8L240.5,381.7Z' fill='#c0c0c0' stroke='#0a0a0a' stroke-width='1.2'/>
<path d='M238.8,380.7L236.8,380.7L235.8,380.4L234.1,379.3L233.2,377.6L232.9,376.0L233.1,375.0L232.9,374.0L233.2,372.6L233.2,371.0L233.6,368.0L235.3,364.3L237.2,361.9L238.0,360.3L240.2,358.8L241.8,358.5L246.8,356.4L250.2,356.0L252.2,356.8L253.5,356.8L254.4,357.3L257.2,357.9L258.8,358.7L259.8,358.5L261.2,358.8L262.2,358.5L264.2,358.5L265.5,358.9L266.5,358.6L268.5,358.6L269.5,359.0L274.2,359.1L276.2,360.3L276.7,361.0L277.4,362.6L277.5,364.0L276.8,365.7L275.8,366.9L274.8,367.7L273.5,368.1L272.5,367.9L267.8,368.2L266.2,367.9L262.5,367.8L259.5,368.3L256.8,369.6L255.8,370.4L255.2,370.7L250.6,375.0L250.2,375.8L247.5,378.6L244.5,379.9L242.5,380.0L241.2,380.5L238.8,380.7Z' fill='#cacaca' stroke='#444' stroke-width='0.45'/>
<path d='M238.8,379.4L237.5,379.3L236.8,378.8L235.5,378.6L235.3,378.0L234.4,377.0L234.0,373.3L234.4,372.3L234.2,370.6L234.5,369.0L235.2,367.0L236.0,366.0L236.2,365.0L238.5,362.3L238.8,361.3L239.8,360.6L240.8,360.6L244.5,358.9L245.2,359.1L246.8,358.6L247.6,357.6L248.2,357.4L248.8,357.7L249.8,357.7L250.5,358.6L251.5,358.2L252.2,358.6L252.8,358.4L254.2,358.8L255.5,359.6L256.2,359.3L256.8,359.9L257.8,359.7L258.5,360.4L259.5,360.0L260.2,360.3L261.5,359.9L265.2,360.4L266.2,360.0L267.5,360.5L268.2,360.4L268.8,361.0L270.1,360.3L270.8,360.3L271.5,361.0L272.1,360.3L272.5,360.2L273.5,360.6L274.2,360.6L274.8,361.5L275.5,361.5L275.8,361.8L276.0,363.6L275.5,365.0L274.2,366.4L273.2,366.5L271.5,366.2L270.5,366.4L270.0,366.3L269.5,365.8L268.5,366.3L267.5,366.2L266.8,366.5L265.5,366.0L264.6,366.0L263.8,365.5L263.5,365.5L263.1,366.0L262.2,366.3L261.2,365.8L259.8,366.6L258.8,366.3L258.5,367.3L257.2,367.4L256.2,368.4L255.5,368.8L254.5,369.0L254.2,369.7L253.5,370.1L252.8,370.1L252.7,371.0L252.5,371.3L251.9,372.0L250.8,372.5L250.4,373.6L248.9,374.6L248.2,376.0L247.5,376.1L246.2,377.7L244.8,378.2L244.5,378.0L242.8,378.7L241.8,378.6L238.8,379.4Z' fill='#d6d6d6' stroke='#666' stroke-width='0.4'/>
<path d='M237.5,377.7L236.8,377.3L236.6,377.0L236.7,375.6L236.5,375.4L236.2,375.6L235.9,375.3L235.8,374.6L235.2,374.4L235.0,374.0L234.9,373.6L235.4,373.0L235.7,370.0L236.0,369.0L235.9,368.0L236.6,366.6L237.7,366.0L237.7,365.0L238.5,364.2L238.8,364.4L239.2,364.2L239.6,363.6L239.8,363.0L240.2,362.9L241.5,363.4L241.8,364.2L242.2,364.2L242.4,364.0L242.0,362.6L242.2,362.3L242.5,362.2L243.2,363.6L243.2,364.3L243.8,363.8L244.2,364.6L245.2,364.9L245.7,366.6L246.1,367.0L246.2,367.3L245.8,367.9L245.5,367.9L245.2,367.0L244.5,366.6L244.7,366.0L244.5,365.8L243.5,365.6L243.3,366.0L244.8,367.8L245.5,368.1L246.2,368.2L246.5,368.5L246.5,369.6L246.0,370.3L246.2,370.6L246.5,370.6L247.2,369.8L247.5,370.0L246.8,370.8L246.2,371.0L245.9,371.3L245.9,371.6L246.5,372.0L246.6,372.3L246.2,372.8L245.8,372.9L245.8,373.3L245.1,374.0L245.0,374.3L245.2,375.0L244.8,375.5L243.8,375.8L243.8,374.8L243.4,374.0L242.8,373.9L242.8,374.2L243.4,374.6L243.1,375.0L243.0,375.6L242.6,375.6L242.2,374.9L241.2,375.7L239.9,376.0L239.5,376.6L237.8,376.8L237.7,377.0L238.0,377.3L237.8,377.6L237.5,377.7Z' fill='#e4e4e4' stroke='#888' stroke-width='0.35'/>
<path d='M240.5,374.7L240.2,374.5L239.8,373.3L240.1,372.6L239.8,372.0L239.5,372.2L239.2,373.0L238.2,373.7L237.2,373.3L236.9,373.0L236.8,372.2L236.1,371.6L236.2,370.0L236.8,369.0L236.4,368.0L237.2,367.0L238.2,366.4L239.2,366.7L239.8,367.3L240.5,366.5L240.8,366.3L241.1,367.0L241.9,368.0L241.7,368.6L240.7,369.0L240.2,369.6L241.5,370.0L242.4,370.6L242.1,371.0L242.1,371.6L241.8,372.0L241.2,371.8L241.0,372.0L241.1,372.3L242.0,373.0L242.1,373.3L242.0,373.6L241.2,374.0L240.5,374.7ZM243.5,373.1L243.2,373.2L242.7,373.0L242.7,371.6L243.2,371.9L243.6,372.6L243.5,373.1Z' fill='#f4f4f4'/>
</g>
<path d='M225.5,334.3 L282.9,334.3 L282.9,391.6' fill='none' stroke='#8f8f8f' stroke-width='0.9'/>
<path d='M225.5,334.3 L225.5,391.6 L282.9,391.6' fill='none' stroke='#b0b0b0' stroke-width='0.8' stroke-dasharray='0.8,0.7'/>
<line x1='224.6' y1='338.3' x2='226.4' y2='338.3' stroke='#777' stroke-width='0.6' />
<line x1='224.6' y1='350.625' x2='226.4' y2='350.625' stroke='#777' stroke-width='0.6' />
<line x1='224.6' y1='362.95' x2='226.4' y2='362.95' stroke='#777' stroke-width='0.6' />
<line x1='224.6' y1='375.275' x2='226.4' y2='375.275' stroke='#777' stroke-width='0.6' />
<line x1='224.6' y1='387.6' x2='226.4' y2='387.6' stroke='#777' stroke-width='0.6' />
<line x1='229.5' y1='390.70000000000005' x2='229.5' y2='392.5' stroke='#777' stroke-width='0.6' />
<line x1='241.85' y1='390.70000000000005' x2='241.85' y2='392.5' stroke='#777' stroke-width='0.6' />
<line x1='254.2' y1='390.70000000000005' x2='254.2' y2='392.5' stroke='#777' stroke-width='0.6' />
<line x1='266.55' y1='390.70000000000005' x2='266.55' y2='392.5' stroke='#777' stroke-width='0.6' />
<line x1='278.9' y1='390.70000000000005' x2='278.9' y2='392.5' stroke='#777' stroke-width='0.6' />
<line x1='225.5' y1='380.14' x2='225.5' y2='382.34' stroke='#111' stroke-width='1.2' />
<line x1='229.518' y1='391.6' x2='236.98' y2='391.6' stroke='#555' stroke-width='1.0' />
<ellipse cx='86.5' cy='362.4' rx='12.3' ry='11.2' fill='none' stroke='#e06060' stroke-width='0.9'/>
<ellipse cx='147.7' cy='362.4' rx='12.3' ry='11.2' fill='none' stroke='#e06060' stroke-width='0.9'/>
<ellipse cx='208.6' cy='362.4' rx='12.3' ry='11.2' fill='none' stroke='#e06060' stroke-width='0.9'/>
<ellipse cx='270.0' cy='362.4' rx='12.3' ry='11.2' fill='none' stroke='#e06060' stroke-width='0.9'/>
<clipPath id='c23'><rect x='42.0' y='420.9' width='57.4' height='57.3'/></clipPath>
<g clip-path='url(#c23)'>
<path d='M85.7,477.6L79.0,477.9L52.7,477.9L42.0,477.8L41.7,477.6L41.8,454.9L42.0,448.7L43.0,448.3L44.0,447.4L46.7,446.7L47.6,445.2L47.4,444.2L48.0,443.8L48.7,444.5L49.3,444.3L50.0,444.6L50.8,444.2L51.1,443.9L50.7,442.9L51.3,441.9L52.3,442.3L53.0,442.2L53.3,441.9L53.3,440.9L54.2,440.2L54.7,439.4L56.7,439.6L57.0,440.9L57.8,441.2L57.7,440.1L58.0,439.8L58.7,440.1L59.0,439.9L58.7,439.3L57.0,439.2L56.9,437.9L57.5,437.2L58.3,437.7L59.3,437.1L60.3,437.2L60.4,437.9L61.0,438.4L61.7,437.4L62.7,437.2L62.8,436.9L62.5,436.2L62.7,435.7L63.7,436.7L64.0,436.8L65.3,435.3L65.7,435.3L66.2,435.9L66.3,437.0L67.0,437.1L67.5,436.6L67.3,435.6L67.5,434.9L68.3,434.5L68.7,434.9L68.8,436.2L70.0,436.3L70.2,435.2L69.8,434.6L69.8,433.9L71.0,433.0L71.7,433.5L72.0,433.4L73.3,432.3L73.4,431.2L72.8,430.6L74.0,428.6L74.3,428.6L73.7,428.3L73.6,427.9L74.7,426.9L75.3,424.3L75.7,424.2L76.3,424.5L76.6,424.2L76.1,423.6L77.3,422.9L78.0,423.3L79.4,425.6L80.3,427.6L80.2,428.6L80.6,428.9L80.4,429.9L81.4,430.9L80.9,431.9L81.5,432.6L81.0,433.6L82.0,433.8L82.2,434.9L82.7,435.2L82.4,435.9L82.8,438.2L83.9,439.6L82.9,440.2L84.3,441.9L83.6,443.2L84.5,444.6L84.1,445.2L84.7,445.9L84.6,446.9L84.3,447.2L85.0,447.5L85.2,448.2L84.9,449.9L85.0,450.6L84.3,452.2L85.1,453.9L85.3,456.2L84.8,457.2L84.9,458.2L84.6,459.9L84.8,460.2L84.8,461.2L85.3,461.9L85.3,462.9L84.9,463.6L85.5,464.9L85.2,465.6L85.3,466.9L85.0,467.6L85.3,467.6L85.5,468.2L85.0,468.9L84.9,469.9L85.0,470.6L85.7,471.2L85.9,471.9L85.5,473.9L85.0,474.2L84.9,474.6L85.0,475.1L85.3,475.1L85.7,474.2L86.1,474.9L85.8,475.6L85.9,477.6L85.7,477.6ZM56.0,434.3L55.5,433.9L55.5,432.6L57.0,432.0L57.3,432.2L57.3,432.6L56.5,433.2L57.1,433.6L56.7,433.6L56.0,434.3ZM66.7,434.6L65.7,434.6L65.8,433.9L66.7,433.2L67.7,432.9L67.3,434.0L66.7,434.6ZM62.7,435.4L60.7,434.9L60.4,434.6L61.0,434.1L61.7,434.8L63.0,433.8L63.2,434.6L62.7,435.4ZM54.3,439.4L53.7,439.5L52.7,438.8L52.5,438.6L52.7,437.6L52.3,436.6L51.8,436.6L53.0,436.5L54.0,436.9L55.7,435.8L56.7,436.1L56.7,437.2L56.2,436.6L55.7,436.6L55.0,437.6L56.2,437.9L55.3,439.1L54.7,438.8L54.3,439.4Z' fill='#0000ff' fill-opacity='0.1'/>
<path d='M84.3,477.6L78.7,477.9L62.0,477.6L52.7,477.9L42.0,477.8L41.8,477.6L41.9,457.6L42.0,456.1L42.3,456.3L42.7,455.9L42.0,455.8L41.9,455.6L41.9,452.6L42.0,452.1L43.0,452.1L43.5,451.6L43.2,450.2L43.8,450.2L44.3,451.3L45.7,449.4L46.3,449.6L47.0,450.4L47.4,449.9L47.3,449.6L46.7,449.4L46.3,448.6L45.6,448.6L45.5,448.2L46.0,447.9L46.3,447.9L46.7,448.4L47.7,448.7L48.3,448.0L49.0,448.0L49.8,448.9L49.8,449.2L49.7,449.5L49.3,449.0L49.0,449.2L48.7,449.6L48.9,449.9L49.3,450.1L50.0,449.7L50.7,450.1L50.8,448.9L50.4,447.6L49.7,446.9L50.0,446.6L50.7,446.7L51.3,447.6L52.7,447.2L52.9,446.9L52.4,445.9L52.7,445.0L53.7,444.8L55.7,444.9L56.1,444.2L55.7,443.6L55.8,442.6L56.3,441.8L57.2,442.2L57.1,442.9L57.3,443.1L59.3,442.9L61.0,444.0L61.9,443.6L60.6,441.9L61.7,441.5L62.7,441.6L63.0,441.2L63.2,439.9L63.7,439.3L64.0,439.3L64.4,439.6L64.6,439.9L64.5,440.9L65.3,441.6L65.6,441.6L64.7,439.9L65.3,439.7L66.0,440.3L66.7,440.4L66.9,440.2L66.8,439.2L67.0,439.1L68.1,439.6L68.2,440.6L67.7,440.9L68.7,441.2L68.8,439.9L68.4,439.2L68.7,438.4L69.3,438.4L70.3,437.5L71.7,438.3L72.0,438.3L71.8,437.2L72.3,437.3L72.5,436.9L71.8,435.9L72.0,435.6L72.7,435.9L73.3,435.9L74.1,435.2L74.2,434.9L73.7,434.2L74.5,433.2L74.2,431.6L75.5,429.9L75.3,428.9L75.6,427.2L77.0,426.3L77.6,426.6L77.4,427.2L77.7,427.9L78.0,428.2L78.3,428.0L78.5,428.2L78.5,428.6L77.7,429.0L77.7,429.7L79.3,429.8L79.9,430.9L79.8,432.6L80.6,434.6L80.3,435.6L81.2,436.6L81.4,437.9L81.0,438.6L82.0,439.6L82.3,440.9L82.4,441.6L81.8,442.6L82.5,444.9L83.2,445.9L83.0,447.9L84.0,448.9L83.5,449.9L83.5,451.9L82.6,453.2L82.7,453.6L83.3,453.3L83.7,453.7L83.8,454.2L83.2,454.9L84.1,457.2L83.2,458.9L84.1,460.6L83.5,462.2L84.5,464.6L83.7,465.9L84.2,467.2L84.2,468.2L83.8,468.9L84.2,469.9L84.0,470.8L83.3,471.2L83.5,472.2L83.3,472.9L84.1,473.9L84.3,474.9L83.9,476.2L84.3,477.6Z' fill='#0000ff' fill-opacity='0.2'/>
<path d='M82.7,477.6L77.3,477.9L70.0,477.6L63.0,477.7L62.0,477.5L61.0,477.7L52.7,477.8L42.0,477.8L41.8,477.6L41.9,457.6L42.0,456.9L42.8,456.9L43.2,455.9L43.0,455.4L42.0,455.4L42.0,454.0L43.3,454.7L44.1,454.6L43.5,453.9L43.6,453.6L45.0,452.3L46.0,453.0L46.3,453.0L46.8,451.9L47.3,451.4L48.0,451.7L48.7,451.6L48.3,450.9L47.5,450.9L48.0,450.2L49.3,450.7L50.0,450.5L51.0,450.7L51.4,450.2L51.3,449.2L51.7,449.0L52.3,449.2L52.7,449.9L53.5,449.9L53.7,449.1L54.3,448.8L54.7,447.9L55.3,447.9L55.7,447.6L55.7,446.6L56.0,446.2L57.0,446.4L57.7,447.5L58.7,448.2L59.0,447.9L59.3,448.2L59.2,449.2L59.7,449.5L60.1,449.2L60.3,448.6L59.8,447.6L59.9,447.2L58.7,446.2L60.0,445.6L61.0,445.6L61.3,445.3L61.5,444.6L62.0,444.4L62.7,444.9L62.3,445.9L61.4,446.2L61.4,446.6L61.5,447.6L62.0,448.1L62.9,446.2L65.9,444.6L65.9,442.6L66.3,442.2L66.6,441.2L67.2,441.6L66.7,442.2L66.9,443.2L67.7,443.4L68.3,441.9L69.2,441.6L69.4,440.2L69.7,439.9L70.7,438.9L71.7,439.0L72.3,438.7L74.0,436.4L74.5,435.2L74.4,434.2L75.1,433.2L75.6,431.6L76.0,431.4L77.0,432.0L76.7,431.0L76.1,430.2L77.0,429.6L79.0,431.9L78.8,432.9L79.4,433.2L79.9,434.2L79.9,435.2L80.9,437.9L80.8,438.9L81.5,439.9L81.5,442.6L82.1,444.6L82.0,445.6L82.5,446.2L82.4,447.9L83.1,448.9L82.9,451.9L82.4,452.9L82.3,453.6L82.8,456.2L83.6,457.2L82.7,458.9L82.9,459.9L82.3,461.2L82.8,461.9L82.9,462.6L82.3,463.6L83.3,464.2L83.4,464.6L83.2,465.2L82.5,465.9L83.3,466.4L83.6,467.9L82.9,469.9L83.1,470.6L82.8,471.2L83.1,472.2L82.9,473.2L83.5,473.9L83.8,475.2L83.1,476.2L82.9,477.6L82.7,477.6ZM68.2,448.6L67.9,447.9L68.8,446.6L68.3,446.2L67.8,446.6L67.4,447.6L67.6,448.2L68.2,448.6ZM70.3,447.9L70.7,447.6L71.3,447.8L71.8,447.2L71.3,446.5L71.0,446.6L70.7,447.5L69.9,447.2L69.7,447.9L70.0,448.2L70.3,447.9ZM57.9,451.2L58.0,450.2L56.9,450.2L56.6,449.6L56.7,448.6L56.3,448.1L55.9,448.6L55.8,449.9L57.3,451.4L57.7,451.5L57.9,451.2ZM65.4,452.9L66.4,451.9L68.7,450.6L68.6,450.2L67.7,450.1L67.3,450.7L66.3,450.6L65.3,451.3L64.3,450.9L64.2,451.2L64.8,451.9L64.8,452.6L65.4,452.9ZM60.9,456.6L62.7,455.0L64.0,455.0L64.6,454.6L63.7,453.7L62.9,453.9L62.7,453.6L63.0,453.2L63.7,452.9L63.0,452.2L63.0,451.6L62.7,451.2L62.4,451.6L62.4,451.9L61.7,452.6L61.8,453.6L61.3,454.9L60.3,455.3L60.1,455.9L60.3,456.7L60.9,456.6ZM68.4,455.2L68.5,453.9L68.0,453.6L67.3,454.9L67.7,455.2L68.4,455.2ZM64.4,456.9L65.7,456.2L65.6,455.6L66.3,454.6L65.2,454.6L65.3,455.2L64.0,455.6L63.7,456.2L63.7,456.9L64.4,456.9ZM64.2,460.6L65.0,459.5L65.2,457.9L64.7,457.9L63.9,458.6L63.7,459.8L63.7,459.2L62.6,458.6L62.4,457.6L62.7,457.2L62.6,456.9L62.3,456.8L62.2,457.6L61.3,458.2L61.4,458.6L62.2,459.6L62.7,459.8L63.3,459.7L63.7,460.5L64.2,460.6ZM67.1,459.2L69.0,458.2L69.3,457.9L69.0,457.2L68.7,457.0L67.7,457.7L66.7,457.5L66.3,457.7L66.0,458.9L66.7,459.3L67.1,459.2ZM67.5,466.2L67.3,465.2L67.7,464.5L68.3,464.4L69.7,463.6L69.3,463.0L69.0,463.0L68.6,463.6L67.7,463.5L67.3,463.8L67.0,463.6L66.4,461.2L67.3,461.0L67.7,461.5L68.1,460.9L67.9,459.9L67.3,459.6L66.7,460.1L65.3,460.3L65.1,460.9L65.8,462.2L65.8,463.2L66.5,465.9L67.5,466.2ZM70.0,462.6L70.2,462.2L70.0,461.6L70.7,460.9L70.3,460.5L69.7,460.7L69.3,461.2L69.4,462.2L70.0,462.6ZM71.1,472.9L70.3,471.5L68.5,472.6L69.0,473.0L71.1,472.9Z' fill='#0000ff' fill-opacity='0.3'/>
<path d='M82.3,477.6L80.7,477.4L79.3,477.8L75.3,477.8L71.9,477.6L72.0,477.2L71.3,476.9L70.7,476.8L69.3,477.5L69.0,476.9L67.3,477.2L66.6,476.9L66.8,476.2L67.7,475.6L68.0,474.6L68.3,474.6L68.5,475.2L69.0,475.6L70.3,475.0L71.0,475.0L71.0,474.8L69.7,474.8L69.0,474.2L68.3,474.1L68.2,473.6L68.7,473.2L70.3,473.5L71.5,473.2L71.7,472.9L71.5,471.6L72.3,471.1L72.5,470.6L72.3,469.2L71.3,469.9L71.0,471.1L70.7,471.1L70.3,470.6L70.3,469.5L71.0,468.2L70.7,467.6L71.3,466.1L71.9,465.6L70.6,464.9L70.2,464.2L70.5,463.9L70.2,463.2L71.7,462.9L71.7,462.5L70.6,461.9L70.7,461.6L71.7,461.4L71.9,460.6L71.7,460.2L71.0,460.2L70.7,459.6L70.8,457.9L71.4,456.9L70.4,456.2L70.3,455.7L69.7,455.7L69.5,455.2L69.7,454.9L70.0,454.8L70.7,455.3L71.8,454.6L72.0,453.9L71.7,453.4L71.0,452.7L70.1,452.6L71.0,451.9L71.7,452.1L72.0,451.8L72.0,451.2L71.7,451.0L69.6,451.2L69.0,450.0L67.1,449.2L69.0,449.1L70.3,449.9L71.6,449.2L71.5,448.2L72.3,447.2L72.3,446.8L72.0,446.2L72.4,445.9L72.0,445.0L71.0,443.9L71.1,443.6L71.6,442.6L72.7,441.9L73.6,440.6L73.3,440.0L72.7,439.6L72.8,438.9L73.0,438.2L73.7,437.7L74.7,437.8L74.8,437.6L74.3,436.2L74.9,435.2L74.8,434.2L76.0,431.9L77.4,432.9L77.5,432.2L77.2,431.2L77.7,430.9L78.5,431.9L78.4,433.2L79.3,434.6L80.5,437.6L80.4,438.9L81.0,439.9L81.2,442.6L81.8,444.6L81.5,445.6L82.0,446.5L81.7,447.2L82.7,449.2L82.5,449.9L82.1,450.2L82.1,451.6L82.5,452.2L82.1,453.6L82.5,456.6L83.1,457.2L82.0,458.2L81.4,459.2L82.1,460.2L81.9,461.6L82.5,462.6L82.1,463.6L82.3,464.6L82.0,465.9L82.8,467.9L82.1,469.6L82.7,472.2L82.1,474.2L82.3,474.7L83.0,474.4L83.5,475.2L82.1,476.6L82.0,476.9L82.5,477.6L82.3,477.6ZM69.0,444.1L68.3,444.2L68.1,443.9L68.6,442.2L69.3,442.1L69.8,442.6L69.2,443.2L69.0,444.1ZM67.0,446.6L64.2,446.6L65.1,445.6L66.0,445.2L66.8,445.6L67.0,446.6ZM63.7,450.0L62.7,449.6L62.0,449.9L61.0,449.7L60.9,448.2L61.3,448.1L61.7,448.4L62.7,449.5L63.3,448.6L63.7,448.5L63.7,450.0ZM63.7,477.6L62.8,477.6L62.0,477.1L61.0,477.7L60.1,477.6L60.0,477.3L58.7,477.7L41.9,477.6L42.0,475.5L42.3,474.6L42.0,472.2L42.5,471.9L42.5,471.6L42.0,471.7L41.9,470.9L41.9,465.9L42.0,464.9L42.3,464.6L41.9,463.9L42.0,462.0L42.7,461.4L43.1,461.2L43.7,459.2L43.7,457.9L44.5,456.9L44.6,456.2L43.7,455.6L43.6,455.2L44.3,455.1L45.3,455.5L46.7,454.2L46.5,453.6L46.9,452.9L47.0,452.2L47.3,452.0L47.9,452.2L48.0,452.6L47.6,452.9L47.7,453.2L48.2,452.2L49.1,451.9L49.5,451.2L50.0,451.1L50.5,451.6L50.2,452.2L50.5,452.9L50.4,453.6L50.6,453.9L51.2,453.9L51.3,453.6L50.9,452.9L51.3,452.2L51.3,451.5L52.3,452.1L52.7,452.7L53.3,452.4L53.8,452.9L54.2,454.2L54.7,454.3L54.4,452.2L53.7,452.0L53.3,450.9L53.7,450.8L54.3,451.1L54.6,450.9L54.5,449.6L55.3,448.6L55.4,450.6L55.7,450.9L56.7,451.2L56.8,451.6L56.5,451.9L56.7,452.2L57.3,452.5L57.7,452.9L57.7,453.2L57.3,454.2L59.0,455.6L59.7,455.1L59.7,456.2L60.3,457.1L61.7,456.8L61.7,457.2L61.0,458.0L59.9,458.2L60.7,459.2L61.0,460.0L61.3,460.2L62.0,460.0L62.5,460.2L61.0,460.7L60.5,461.2L61.1,462.2L62.2,462.9L62.3,463.7L63.3,464.6L62.7,465.6L62.7,466.4L62.2,466.9L62.4,467.2L63.6,467.6L64.0,468.9L63.3,469.7L62.7,469.9L63.0,470.6L65.3,471.2L64.8,473.2L64.0,473.6L63.6,474.2L64.0,475.2L65.3,475.2L66.0,474.9L65.6,474.2L66.0,473.4L66.3,473.1L66.9,473.6L66.3,475.7L65.0,476.5L64.7,476.3L63.3,476.8L63.2,477.2L63.7,477.6ZM64.7,466.6L64.3,466.6L64.0,465.6L64.1,464.6L64.7,464.3L65.7,464.4L65.9,464.9L65.7,465.2L64.7,465.3L64.5,465.6L64.8,466.2L64.7,466.6ZM69.0,468.8L68.7,468.6L68.9,468.2L69.7,467.6L70.5,467.6L70.3,468.3L69.3,468.4L69.0,468.8ZM68.7,472.0L67.0,471.3L66.3,470.5L67.3,469.9L68.3,470.6L69.0,469.9L69.3,470.1L69.2,471.6L68.7,472.0ZM62.2,474.9L62.0,474.2L61.7,474.1L60.5,474.6L60.7,475.2L62.2,474.9Z' fill='#0000f4'/>
<path d='M79.7,477.6L77.7,477.8L74.8,477.6L74.7,476.9L73.9,476.9L73.7,476.6L74.5,474.6L73.8,474.2L73.0,472.6L73.1,471.9L73.8,470.9L73.3,468.9L73.8,468.2L73.2,467.2L73.5,466.6L73.0,465.2L73.7,464.9L73.9,463.6L73.4,461.6L73.7,460.6L73.0,459.2L73.8,457.9L73.3,456.2L73.9,453.9L73.3,453.2L74.6,450.6L74.0,448.2L74.3,447.2L73.7,444.6L74.1,443.9L74.6,442.2L74.4,441.2L74.5,439.6L75.9,438.2L76.1,436.9L76.8,436.2L76.5,435.6L77.3,435.3L78.7,435.7L78.7,436.6L78.0,437.2L77.9,438.2L79.1,438.2L79.3,439.5L79.9,439.9L80.2,440.6L79.7,442.2L80.2,443.2L79.6,445.2L80.2,446.2L80.7,448.2L80.1,449.6L80.9,450.9L80.8,452.6L80.2,452.9L80.2,453.2L80.7,454.2L80.6,455.2L81.4,456.6L81.3,457.9L80.8,458.9L80.6,460.2L80.8,461.9L81.2,462.9L81.2,466.9L80.9,467.9L81.4,468.9L80.5,471.6L80.6,472.9L81.1,473.2L80.9,474.2L81.1,474.9L80.0,476.6L79.7,477.6ZM55.0,477.6L47.7,477.6L47.4,477.2L48.0,476.2L47.7,475.9L46.6,475.6L46.4,474.2L44.7,473.7L44.3,473.3L44.2,472.2L45.0,472.5L45.6,472.2L44.7,471.1L44.2,469.9L44.3,469.2L45.0,468.7L44.6,467.9L44.5,467.2L45.2,466.2L44.3,465.4L43.7,465.7L43.3,465.6L43.2,465.2L43.7,464.8L45.0,465.2L45.3,465.6L45.8,465.6L46.4,461.2L47.8,459.6L47.7,458.6L48.0,458.4L49.0,459.6L49.3,459.7L49.6,459.2L49.4,458.9L49.7,458.6L50.3,459.2L51.3,458.1L52.7,457.4L53.3,457.5L54.7,458.5L56.3,458.8L57.0,460.2L57.7,460.8L58.3,460.7L58.3,461.1L57.7,461.3L57.0,461.9L57.0,462.5L57.3,462.6L58.7,462.0L59.3,462.2L58.8,462.9L59.3,463.9L58.9,464.2L58.8,464.6L59.0,464.9L59.7,464.9L60.1,465.2L59.3,466.2L59.6,467.2L60.9,467.9L60.9,468.2L59.9,468.6L59.8,468.9L60.3,470.2L59.7,470.9L59.7,471.6L60.1,472.6L59.3,473.8L58.7,474.0L58.9,475.2L58.7,475.6L57.7,475.6L57.9,476.6L57.7,476.9L57.2,476.6L57.0,475.8L56.7,475.7L56.3,475.9L56.5,476.9L55.0,477.6ZM58.7,473.6L58.0,472.2L57.3,472.3L57.3,472.8L58.3,473.9L58.7,473.6Z' fill='#0050ff'/>
<path d='M79.3,477.6L75.1,477.6L75.3,476.6L74.3,475.9L74.9,475.2L74.8,474.2L73.6,472.6L73.7,472.0L74.7,471.5L74.8,470.9L74.2,470.2L73.9,469.2L74.3,468.6L74.0,467.2L74.0,465.9L74.3,465.6L74.5,464.6L74.1,462.2L74.5,461.2L74.2,459.9L74.4,458.2L74.3,456.9L73.9,456.2L74.1,455.6L74.7,455.1L74.8,454.2L74.3,453.2L74.9,450.6L74.4,448.2L75.1,447.2L75.0,446.6L75.4,445.9L74.7,444.6L75.0,443.2L75.7,442.6L75.0,441.7L74.9,441.2L75.3,440.6L76.0,441.2L76.3,440.9L76.0,440.4L75.3,440.1L75.3,439.5L75.7,439.3L77.0,439.6L77.7,438.8L78.6,438.9L78.3,439.6L79.2,440.6L78.6,441.9L79.0,442.6L78.6,443.2L79.3,444.0L79.2,445.6L79.7,446.6L79.4,447.6L79.7,448.6L79.5,449.6L80.2,450.6L80.3,451.2L79.7,451.8L79.7,453.2L80.2,454.6L80.0,455.2L80.1,456.6L80.8,457.6L80.3,458.6L80.2,460.2L80.5,461.6L80.3,462.9L80.9,464.9L80.2,467.2L80.7,469.2L80.1,471.2L80.0,472.6L79.3,473.2L79.8,473.9L80.0,474.9L79.3,477.6ZM53.3,477.6L52.1,477.6L52.3,476.6L52.0,476.3L51.7,476.2L51.0,476.6L49.7,476.0L49.4,475.6L50.0,473.6L50.0,473.0L49.3,473.7L48.0,472.7L46.7,472.5L46.0,471.2L46.7,469.9L46.3,469.6L45.6,469.6L46.0,468.6L46.7,468.2L46.6,467.6L46.9,467.2L47.7,467.2L48.4,466.6L47.0,465.9L46.4,464.2L46.8,462.9L47.7,462.1L48.3,462.7L48.7,462.3L50.0,462.2L50.2,461.9L49.3,460.6L49.7,460.3L50.7,460.3L51.3,459.3L52.0,460.7L53.3,459.4L55.6,460.2L55.4,460.6L55.7,462.0L56.3,462.1L56.7,463.3L57.7,463.4L58.1,463.9L58.4,465.2L57.7,465.6L58.8,466.9L58.8,467.2L57.7,468.2L57.7,468.6L58.3,469.1L58.7,469.9L58.7,471.2L56.6,472.2L56.5,472.6L57.5,473.6L57.5,473.9L56.7,473.8L56.4,474.9L55.7,475.5L54.7,475.4L52.8,475.9L52.3,476.6L52.4,476.9L53.3,477.3L53.5,477.6L53.3,477.6Z' fill='#00a8ff'/>
<path d='M79.0,477.6L76.5,477.6L76.7,476.6L77.3,476.0L77.5,475.6L77.3,475.4L77.1,475.6L76.7,476.5L76.0,476.2L75.3,475.3L75.0,472.2L75.2,470.6L74.5,469.9L74.6,468.6L74.4,467.6L74.9,464.6L74.6,463.6L74.8,462.6L74.5,460.2L74.9,458.2L74.8,456.2L75.2,455.6L75.2,453.9L74.7,452.6L75.2,450.2L74.8,448.2L75.4,447.6L75.6,446.6L76.0,446.2L75.5,444.2L76.1,443.6L76.3,442.5L77.7,442.2L78.2,442.6L77.8,444.2L78.7,444.6L78.9,444.9L78.3,445.7L77.3,445.4L77.0,446.6L77.3,446.7L78.0,446.1L78.3,446.1L78.9,446.9L79.4,450.2L79.3,453.6L79.9,454.6L79.7,456.9L80.3,457.6L79.8,460.2L80.2,461.6L80.0,462.9L80.6,465.2L79.8,467.2L80.2,470.2L79.7,471.2L79.9,472.2L78.8,473.6L79.3,473.9L79.5,474.6L79.3,474.9L78.7,474.7L78.6,474.9L79.3,475.6L79.3,476.2L78.7,476.9L79.0,477.6ZM52.0,475.4L50.3,474.9L50.1,474.6L50.4,473.6L50.3,472.1L49.7,472.2L49.0,472.9L48.2,471.9L48.3,471.2L48.0,470.2L48.3,469.2L47.6,468.2L48.3,467.2L49.3,466.7L50.0,465.9L49.1,465.6L47.8,464.2L47.8,463.9L49.0,462.9L50.8,462.6L51.0,462.2L50.9,461.2L51.3,461.1L52.3,461.4L52.7,462.7L54.7,462.4L55.8,463.9L55.7,465.2L56.7,465.3L57.7,466.9L57.3,467.4L56.3,467.9L57.0,469.2L56.9,469.6L56.1,469.9L56.7,470.5L57.3,470.6L57.6,470.9L57.5,471.2L57.0,471.6L55.3,471.7L54.7,472.4L54.1,472.6L53.8,473.9L53.0,474.3L52.3,474.1L52.0,475.4Z' fill='#00e8e8'/>
<path d='M76.3,475.9L75.7,475.3L75.4,474.2L75.6,473.2L75.3,472.6L75.4,470.6L74.7,467.9L75.1,466.6L74.8,465.6L75.2,463.9L75.1,463.2L75.2,462.6L74.7,460.2L75.4,458.2L75.2,457.6L75.8,456.9L75.3,456.6L75.7,455.6L75.2,452.6L76.2,451.9L76.0,451.6L75.7,451.7L75.4,451.2L75.7,450.6L76.1,450.6L76.3,450.2L75.3,449.7L75.2,448.9L75.3,448.4L76.0,448.5L76.7,447.9L75.9,447.2L76.0,446.8L76.3,446.7L77.0,447.2L78.0,446.6L78.3,446.6L78.7,447.6L78.3,448.6L79.0,449.9L79.1,452.9L78.9,453.6L78.0,454.2L78.7,454.7L79.3,454.4L79.5,454.6L79.4,457.2L79.8,458.9L79.4,460.2L79.9,461.2L79.6,462.2L80.3,464.9L79.6,466.6L79.6,468.2L79.3,469.2L79.5,470.2L79.0,470.0L78.8,470.2L79.6,472.2L78.7,473.2L78.5,474.2L78.0,474.8L77.3,474.9L76.3,475.9ZM53.3,472.6L51.0,472.1L50.7,471.8L49.0,471.4L48.9,470.9L49.6,470.6L49.6,470.2L48.8,469.6L48.6,468.9L48.1,468.2L48.7,467.4L49.0,467.6L49.3,468.3L50.1,468.2L50.2,467.9L49.8,466.9L50.0,466.6L51.0,466.5L51.3,466.2L51.7,464.9L51.0,463.7L50.4,463.2L51.3,463.1L51.7,462.7L52.7,463.2L54.5,462.9L54.8,463.6L54.7,464.0L54.0,464.2L54.1,464.6L55.0,465.7L56.0,465.8L56.8,466.6L56.3,467.2L55.7,467.3L55.0,468.2L54.3,468.4L54.3,469.2L53.8,469.9L54.2,471.6L53.3,472.6ZM49.7,465.2L49.3,465.3L48.6,464.2L49.3,463.4L50.0,463.6L49.6,464.6L49.7,465.2ZM55.3,470.3L54.4,469.2L54.4,468.9L55.0,468.2L55.7,468.4L56.1,468.9L55.3,470.3ZM78.0,477.6L77.2,477.6L77.0,477.2L78.0,475.1L78.8,475.6L78.9,475.9L78.1,476.6L78.2,477.6L78.0,477.6Z' fill='#00f080'/>
<path d='M78.0,474.3L77.4,474.2L77.8,473.6L77.3,472.7L76.0,474.1L75.7,474.0L75.8,473.2L75.6,472.6L75.5,470.2L75.1,468.2L75.4,467.2L75.0,465.6L75.6,463.9L74.9,460.2L75.5,459.6L75.4,458.9L75.9,458.2L75.9,457.6L76.2,456.9L75.7,454.2L75.8,452.9L76.3,452.1L77.3,451.9L78.0,451.2L77.7,451.0L76.7,451.0L76.5,449.6L76.3,449.3L75.9,449.2L76.9,448.9L77.3,447.6L78.0,447.1L78.4,447.6L77.7,448.6L78.5,449.2L78.7,449.9L78.5,452.2L78.8,453.2L78.3,453.7L77.5,453.9L78.6,455.6L79.2,455.9L79.1,456.6L78.4,457.6L79.5,458.2L79.4,459.6L79.0,460.2L79.6,461.2L79.2,462.2L80.0,464.9L79.3,466.6L79.4,468.2L78.9,468.9L78.5,470.2L79.4,472.2L78.2,473.6L78.0,474.3ZM53.3,472.1L52.5,471.9L52.4,471.6L52.6,471.2L52.4,470.9L51.0,470.1L49.7,469.9L49.1,469.2L49.3,468.7L50.3,468.6L51.4,467.9L51.1,466.9L52.0,465.8L52.7,466.2L52.2,464.6L53.0,464.0L54.6,465.6L54.5,466.6L54.7,467.6L53.9,468.2L53.7,469.2L53.3,469.6L53.0,468.9L52.0,468.8L51.6,469.2L52.3,469.9L53.3,469.9L53.2,470.6L53.8,471.2L53.3,472.1Z' fill='#30f000'/>
<path d='M78.3,473.0L77.9,472.9L77.7,472.2L78.1,471.9L77.7,471.8L77.0,472.1L76.7,473.0L76.3,473.2L76.0,472.9L76.0,471.9L75.7,471.2L75.7,469.2L75.4,468.6L75.8,467.6L75.2,465.6L75.9,463.9L75.6,461.9L75.1,460.6L75.2,460.2L75.8,459.9L76.5,457.9L76.6,456.2L76.3,455.2L76.7,454.2L77.0,453.9L77.3,454.6L78.0,455.0L78.6,456.2L78.0,456.6L77.1,456.6L76.9,457.6L77.3,458.0L79.0,458.1L79.3,458.6L79.1,459.6L78.5,460.2L79.2,461.2L78.9,462.2L79.0,463.2L79.5,463.9L78.6,464.9L79.1,465.9L78.9,467.2L79.2,467.9L78.6,468.9L78.3,470.2L78.4,471.6L79.0,472.2L78.3,473.0ZM53.0,468.3L52.7,468.5L52.0,468.2L52.1,467.9L51.4,466.9L51.7,466.5L52.7,466.7L53.0,466.5L53.3,465.9L53.0,465.2L53.3,465.1L54.3,465.9L53.7,467.8L53.0,468.3Z' fill='#b8f000'/>
<path d='M78.0,471.4L76.3,471.5L75.9,471.2L76.0,469.9L76.3,469.2L75.8,468.2L76.3,467.6L75.5,465.6L76.0,464.9L76.1,463.9L75.8,462.9L76.1,461.9L75.5,461.2L75.3,460.6L77.3,458.5L77.8,458.6L77.8,459.2L77.6,459.6L78.2,460.6L78.9,461.2L78.6,461.9L78.8,463.9L78.3,464.9L78.9,465.9L78.6,467.2L78.8,467.9L78.2,469.2L78.3,470.9L78.0,471.4Z' fill='#ffd000'/>
<path d='M77.7,471.3L76.3,471.2L76.1,470.9L76.2,469.9L76.9,469.2L76.7,468.8L76.0,468.6L76.0,468.2L76.3,468.0L77.0,468.3L77.2,467.9L75.9,465.9L76.2,463.9L75.9,462.6L76.4,461.9L75.5,460.9L75.7,460.5L76.3,461.2L76.7,461.0L76.7,460.2L77.3,459.8L78.0,460.9L78.5,461.2L78.5,463.6L78.1,464.6L78.2,465.2L78.7,466.2L78.4,467.9L77.7,469.2L78.1,470.9L77.7,471.3Z' fill='#ff8000'/>
<path d='M78.0,467.9L77.6,467.9L77.8,467.2L77.7,466.4L76.7,466.5L76.1,465.6L76.4,463.9L76.0,462.6L76.9,461.2L77.0,460.2L77.3,460.0L78.2,461.9L78.0,462.6L77.3,462.4L77.1,462.6L77.3,463.4L78.0,463.3L78.2,463.6L77.8,464.2L78.5,466.6L78.0,467.9Z' fill='#ff1000'/>
<path transform='translate(42.0,420.9) scale(0.25)' d='M73 48h0M103 158h0M113 172h0M173 180h0M52 98h0M107 161h0M174 101h0M91 29h0M16 105h0M113 87h0M171 95h0M131 59h0M35 128h0M114 180h0M84 123h0M103 131h0M109 226h0M170 166h0M100 139h0M110 142h0M67 115h0M101 134h0M88 78h0M112 209h0M92 117h0M184 178h0M80 17h0M84 121h0M28 85h0M9 65h0M38 113h0M50 91h0M15 91h0M47 95h0M92 136h0M16 70h0M219 105h0M101 129h0M94 81h0M98 203h0M114 116h0M81 77h0M75 144h0M71 130h0M118 113h0M117 124h0M10 143h0M114 39h0M210 16h0M112 146h0M53 82h0M113 207h0M81 166h0M119 79h0M16 130h0M112 145h0M185 31h0M95 227h0M0 130h0M108 183h0M84 96h0M126 68h0M101 155h0M10 112h0M43 121h0M116 103h0M89 20h0M61 126h0M90 74h0M59 16h0M102 82h0M105 110h0M172 227h0M1 141h0M50 111h0M138 24h0M102 90h0M152 30h0M88 143h0M217 177h0M5 126h0M87 109h0M95 116h0M174 46h0M82 122h0M2 41h0M164 136h0M127 45h0M22 112h0M163 182h0M28 104h0M107 207h0M67 100h0M65 97h0M68 40h0M15 116h0M163 172h0M15 129h0M118 131h0M101 181h0M10 112h0M8 34h0M94 226h0M125 15h0M155 39h0M138 6h0M101 93h0M44 50h0M51 114h0M132 16h0M131 48h0M97 171h0M118 106h0M112 172h0M135 17h0M170 185h0M172 182h0M108 226h0M146 33h0M172 198h0M186 220h0M205 135h0M115 227h0M174 78h0M25 117h0M149 53h0M48 101h0M43 69h0M107 225h0M175 226h0M174 87h0M81 86h0M107 63h0M104 186h0M162 11h0M93 124h0M81 148h0M105 98h0M99 15h0M167 181h0M129 23h0M111 82h0M109 209h0M94 170h0M109 124h0M89 115h0M112 28h0M130 55h0M50 68h0M18 56h0M173 206h0M92 196h0M123 81h0M131 66h0M26 116h0M124 69h0M106 183h0M94 123h0M112 197h0M84 80h0M69 135h0M179 156h0M111 112h0M138 39h0M115 101h0M54 76h0M145 27h0M81 140h0M113 180h0M60 99h0M96 199h0M209 210h0M107 226h0M75 67h0M80 162h0M100 205h0M93 113h0M12 128h0M102 218h0M180 218h0M98 183h0M177 129h0M63 51h0M109 217h0M172 191h0M85 140h0M165 210h0M11 125h0M46 99h0M111 127h0M173 164h0M49 82h0M97 222h0M164 228h0M160 14h0M91 212h0M15 30h0M128 58h0M177 71h0M166 188h0M131 39h0M163 65h0M75 95h0M86 130h0M114 163h0M165 175h0M165 133h0M25 126h0M110 176h0M101 113h0M79 105h0M70 47h0M38 100h0M107 136h0M112 126h0M108 79h0M21 123h0M89 69h0M9 132h0M73 102h0M101 197h0M72 71h0M50 134h0M116 76h0M43 118h0M97 93h0M118 131h0M181 69h0M102 71h0M106 152h0M169 183h0M86 158h0M95 179h0M121 197h0M1 177h0M147 28h0M170 106h0M21 125h0M72 94h0M99 227h0M91 169h0M71 63h0M92 71h0M142 49h0M85 144h0M41 115h0M168 123h0M171 111h0M65 89h0M107 195h0M141 5h0M110 21h0M167 181h0M166 127h0M166 178h0M41 97h0M77 128h0M79 139h0M93 184h0M78 127h0M41 19h0M136 34h0M83 147h0M86 55h0M14 121h0M113 206h0M184 48h0M8 132h0M50 69h0M48 131h0M65 125h0M174 121h0M81 90h0M18 84h0M66 72h0M156 70h0M64 111h0M86 97h0M21 118h0M80 54h0M7 40h0M174 132h0M110 135h0M159 79h0M35 93h0M164 7h0M88 213h0M166 104h0M134 24h0M90 37h0M107 72h0M158 15h0M45 9h0M53 112h0M114 70h0M54 100h0M86 161h0M60 125h0M95 196h0M78 128h0M110 194h0M106 193h0M18 124h0M83 103h0M16 129h0M86 144h0M100 127h0M98 94h0M99 164h0M174 212h0M48 130h0M116 135h0M180 213h0M108 176h0M141 48h0M80 126h0M115 151h0M16 107h0M131 33h0M82 73h0M34 80h0M84 169h0M94 197h0M106 96h0M113 97h0M35 104h0M149 45h0M160 82h0M75 94h0M102 152h0M65 125h0M82 87h0M177 216h0M96 13h0M124 79h0M130 66h0M117 181h0M190 137h0M58 71h0M46 63h0M46 81h0M142 9h0M164 180h0M4 140h0M187 218h0M119 133h0M129 30h0M19 17h0M79 165h0M151 3h0M78 137h0M24 8h0M188 140h0M170 96h0M14 42h0M71 89h0M217 38h0M12 120h0M98 207h0M35 66h0M35 65h0M31 114h0M166 226h0M40 115h0M90 136h0M32 54h0M174 98h0M169 148h0M63 36h0M102 158h0M118 59h0M51 112h0M108 218h0M88 145h0M106 72h0M104 207h0M97 179h0M124 58h0M87 87h0M7 40h0M41 46h0M118 203h0M163 119h0M114 153h0M91 67h0M187 134h0M158 35h0M51 73h0M91 215h0M60 77h0M2 35h0M112 127h0M173 222h0M61 74h0M162 171h0M107 210h0M122 17h0M107 136h0M105 146h0M88 181h0M25 100h0M7 107h0M173 197h0M107 25h0M43 35h0M117 143h0M15 71h0M113 185h0M75 108h0M163 82h0M41 119h0M94 127h0M159 78h0M199 110h0M111 173h0M114 85h0M36 56h0M105 135h0M15 130h0M54 58h0M165 125h0M79 126h0M98 157h0M4 135h0M116 133h0M91 171h0M103 186h0M70 123h0M19 127h0M168 200h0M100 145h0M88 149h0M101 220h0M48 116h0M185 51h0M133 27h0M98 135h0M76 151h0M175 225h0M40 95h0M42 116h0M72 125h0M100 179h0M16 125h0M166 92h0M71 20h0M69 139h0M100 106h0M87 107h0M143 12h0M92 192h0M162 180h0M83 74h0M187 64h0M162 196h0M42 59h0M84 186h0M117 167h0M127 50h0M99 38h0M21 116h0M107 209h0M79 90h0M4 135h0M204 161h0M91 152h0M23 84h0M112 204h0M0 123h0M62 100h0M116 68h0M85 154h0M151 45h0M106 113h0M130 63h0M153 60h0M114 201h0M75 129h0M115 189h0M42 122h0M156 56h0M185 59h0M151 0h0M173 86h0M91 146h0M180 110h0M61 133h0M85 71h0M177 202h0M111 194h0M85 119h0M162 215h0M117 78h0M101 167h0M95 81h0M98 207h0M123 8h0M81 83h0M108 149h0M78 120h0M48 49h0M168 180h0M121 55h0M75 45h0M94 46h0M111 119h0M70 16h0M137 35h0M43 63h0M181 115h0M108 138h0M166 111h0M110 151h0M73 125h0M18 120h0M170 101h0M100 98h0M41 82h0M74 123h0M210 195h0M104 126h0M93 110h0M104 185h0M89 168h0M102 169h0M203 123h0M8 41h0M165 61h0M60 90h0M185 184h0M168 128h0M97 203h0M140 36h0M82 226h0M92 150h0M61 40h0M164 165h0M76 34h0M100 88h0M104 164h0M51 125h0M101 215h0M80 117h0M10 145h0M80 140h0M110 168h0M176 97h0M26 90h0M83 153h0M38 102h0M177 154h0M89 109h0M116 226h0M5 161h0M81 17h0M57 17h0M179 156h0M161 152h0M175 119h0M86 37h0M98 163h0M55 79h0M98 130h0M85 97h0M164 148h0M78 88h0M162 178h0M85 134h0M164 142h0M16 129h0M153 50h0M108 168h0M155 10h0M78 160h0M91 105h0M76 64h0M37 122h0M173 133h0M109 104h0M152 15h0M49 106h0M173 150h0M171 212h0M51 58h0M100 218h0M164 52h0M133 41h0M66 26h0M62 90h0M106 131h0M117 114h0M103 182h0M92 144h0M130 67h0M159 76h0M74 105h0M91 169h0M34 99h0M19 51h0M24 46h0M62 40h0M92 118h0M100 109h0M209 86h0M133 37h0M93 142h0M65 124h0M119 179h0M52 59h0M108 118h0M57 110h0M166 215h0M69 114h0M75 216h0M135 35h0M118 83h0M171 218h0M70 100h0M121 100h0M100 140h0M96 217h0M93 208h0M70 87h0M175 223h0M107 171h0M112 123h0M76 217h0M52 42h0M184 184h0M73 95h0M57 53h0M175 108h0M137 14h0M100 64h0M120 84h0M117 123h0M86 121h0M13 106h0M110 141h0M73 132h0M114 148h0M75 101h0M136 31h0M96 203h0M97 158h0M95 84h0M72 138h0M54 111h0M221 104h0M88 38h0M16 126h0M114 158h0M23 51h0M64 131h0M91 140h0M56 89h0M84 159h0M106 178h0M50 110h0M166 183h0M69 83h0M143 24h0M9 110h0M195 93h0M10 115h0M48 64h0M165 211h0M89 106h0M91 133h0M95 169h0M174 91h0M100 188h0M76 99h0M72 106h0M169 212h0M89 58h0M76 112h0M21 41h0M105 155h0M119 113h0M81 153h0M91 145h0M106 182h0M93 139h0M82 227h0M119 201h0M114 151h0M97 196h0M71 79h0M93 216h0M219 101h0M162 156h0M129 45h0M106 171h0M93 11h0M123 38h0M85 224h0M173 138h0M67 106h0M76 164h0M62 105h0M113 72h0M51 135h0M170 190h0' stroke='#0000ff' stroke-opacity='0.6' stroke-width='2.0' stroke-linecap='square' fill='none'/>
</g>
<path d='M42.0,420.9 L99.4,420.9 L99.4,478.2' fill='none' stroke='#8f8f8f' stroke-width='0.9'/>
<path d='M42.0,420.9 L42.0,478.2 L99.4,478.2' fill='none' stroke='#b0b0b0' stroke-width='0.8' stroke-dasharray='0.8,0.7'/>
<line x1='41.1' y1='424.9' x2='42.9' y2='424.9' stroke='#777' stroke-width='0.6' />
<line x1='41.1' y1='437.22499999999997' x2='42.9' y2='437.22499999999997' stroke='#777' stroke-width='0.6' />
<line x1='41.1' y1='449.54999999999995' x2='42.9' y2='449.54999999999995' stroke='#777' stroke-width='0.6' />
<line x1='41.1' y1='461.875' x2='42.9' y2='461.875' stroke='#777' stroke-width='0.6' />
<line x1='41.1' y1='474.2' x2='42.9' y2='474.2' stroke='#777' stroke-width='0.6' />
<line x1='46.0' y1='477.3' x2='46.0' y2='479.09999999999997' stroke='#777' stroke-width='0.6' />
<line x1='58.35' y1='477.3' x2='58.35' y2='479.09999999999997' stroke='#777' stroke-width='0.6' />
<line x1='70.7' y1='477.3' x2='70.7' y2='479.09999999999997' stroke='#777' stroke-width='0.6' />
<line x1='83.05' y1='477.3' x2='83.05' y2='479.09999999999997' stroke='#777' stroke-width='0.6' />
<line x1='95.4' y1='477.3' x2='95.4' y2='479.09999999999997' stroke='#777' stroke-width='0.6' />
<line x1='42.0' y1='466.74' x2='42.0' y2='468.94' stroke='#111' stroke-width='1.2' />
<line x1='46.018' y1='478.2' x2='53.480000000000004' y2='478.2' stroke='#555' stroke-width='1.0' />
<clipPath id='c24'><rect x='103.1' y='420.9' width='57.4' height='57.3'/></clipPath>
<g clip-path='url(#c24)'>
<path d='M145.8,477.6L140.4,477.9L112.8,477.9L103.1,477.8L102.9,477.6L102.9,456.6L103.1,451.3L103.1,451.6L103.8,451.9L104.3,450.9L104.2,449.9L104.4,449.7L105.8,449.8L106.8,448.5L107.4,448.5L108.1,449.0L108.4,448.8L110.1,447.6L110.1,446.6L110.4,446.5L110.8,447.1L111.1,447.0L111.4,446.6L110.7,445.6L111.7,444.2L111.5,443.6L111.8,443.4L113.1,443.6L113.8,444.9L113.8,443.9L113.5,443.6L114.2,442.6L114.0,441.9L114.4,441.0L115.1,440.7L115.3,440.2L115.3,439.9L114.8,439.7L113.8,440.9L112.4,440.7L110.9,438.6L110.8,438.2L112.1,437.3L112.6,437.2L112.8,435.6L112.1,434.9L111.4,435.2L111.1,436.5L110.1,435.8L109.4,436.0L109.1,436.9L109.5,437.2L109.4,438.3L108.8,437.4L108.1,437.3L107.6,436.9L108.1,435.8L110.8,434.2L110.4,433.8L109.8,434.2L109.1,434.0L108.4,434.2L108.0,433.9L108.0,433.6L108.4,433.1L109.1,433.1L110.1,432.2L111.1,430.7L111.4,430.6L112.3,431.9L113.8,431.7L114.8,431.9L115.0,431.6L114.6,430.6L114.8,430.3L115.7,430.2L115.1,429.9L114.8,430.2L114.5,429.9L114.6,429.6L115.4,429.4L116.4,428.8L117.0,428.9L117.4,429.4L118.2,427.6L119.1,427.0L119.4,427.1L119.6,427.6L119.1,428.0L119.1,428.5L120.1,428.1L120.6,428.6L120.8,429.6L121.4,429.8L122.0,429.6L121.9,428.2L121.4,427.6L121.4,427.2L122.1,427.1L122.8,427.9L122.8,429.2L123.1,429.3L124.1,429.0L126.4,429.9L127.1,429.4L127.4,429.4L127.7,429.6L127.8,430.6L128.4,431.2L127.8,432.2L128.8,432.5L129.1,432.2L129.0,431.6L129.8,431.1L130.1,431.2L130.0,431.6L129.2,432.2L129.8,432.9L130.1,432.8L130.9,432.2L130.9,431.2L130.1,430.9L129.1,429.6L128.0,429.6L128.1,428.8L127.1,429.0L126.1,428.0L125.4,427.9L124.7,427.2L123.9,426.9L123.8,426.2L124.8,426.2L125.8,427.8L127.4,427.4L128.4,427.7L128.7,427.9L128.5,428.6L129.4,428.9L130.4,429.8L131.4,429.8L131.7,430.6L133.3,431.2L134.9,430.2L134.8,429.6L134.2,429.2L134.9,428.9L135.0,427.6L136.1,426.6L136.4,425.9L137.2,425.6L137.3,423.2L137.8,422.7L138.4,422.8L139.0,422.6L139.1,421.8L139.5,421.6L140.4,423.9L140.4,424.7L141.2,426.2L141.1,427.2L142.9,431.2L143.0,433.9L144.1,436.6L143.5,437.9L144.7,439.6L144.3,440.2L144.8,440.9L144.5,441.6L145.7,442.6L145.5,443.9L146.6,444.6L145.8,445.9L146.4,446.6L146.0,447.6L146.4,449.2L145.7,450.6L145.8,451.2L146.3,451.9L146.1,452.3L145.4,452.4L145.2,452.9L146.3,453.6L146.5,454.6L146.8,454.9L146.5,456.6L147.0,458.6L146.8,459.9L146.3,460.6L146.4,463.2L147.2,469.2L146.3,470.6L146.7,471.2L146.4,471.9L147.1,472.6L147.2,473.9L146.6,476.2L145.8,477.6ZM110.4,441.4L109.9,440.9L109.0,440.6L109.1,439.6L110.4,439.6L110.8,440.9L110.4,441.4ZM113.3,446.6L113.4,445.8L112.1,445.9L111.9,446.2L112.4,446.8L113.3,446.6Z' fill='#0000ff' fill-opacity='0.1'/>
<path d='M144.8,477.6L137.8,477.9L129.4,477.6L112.8,477.8L103.0,477.6L103.1,453.1L104.8,452.5L105.8,452.4L106.4,451.3L107.4,451.3L109.1,450.2L110.4,450.6L111.8,450.4L112.0,449.9L111.4,449.6L111.8,449.5L112.4,448.7L113.8,448.5L114.0,448.2L113.8,447.7L113.4,447.6L113.5,447.2L114.1,446.8L116.1,446.9L117.8,446.2L117.7,444.9L118.1,444.6L118.7,444.9L119.1,445.6L119.8,445.0L120.1,445.8L120.4,445.9L120.7,444.9L121.7,444.2L121.7,442.6L122.1,442.0L122.8,441.7L123.1,442.8L124.4,442.1L125.1,442.2L125.3,441.6L124.6,441.2L124.7,440.9L125.4,441.0L125.8,440.2L126.8,439.6L128.5,439.6L128.1,440.1L127.4,440.1L126.8,440.6L126.3,441.6L126.3,442.2L125.9,442.6L127.1,443.6L127.5,443.6L127.1,442.6L127.8,441.9L128.1,440.7L130.4,441.4L130.9,440.6L130.2,440.2L129.8,439.4L129.0,439.2L129.0,438.9L130.8,437.9L131.7,437.9L132.1,437.2L133.0,437.6L132.9,438.6L133.4,438.8L133.7,438.2L133.4,437.6L133.8,437.4L134.4,437.6L135.2,436.9L135.3,436.2L136.1,436.0L135.3,434.9L134.8,433.6L135.1,433.0L136.1,432.9L136.5,432.6L135.5,431.6L135.7,429.9L136.7,429.2L136.8,428.2L138.2,427.9L138.8,426.9L139.4,426.5L140.0,426.9L141.0,428.6L141.6,430.2L142.1,432.2L141.7,433.6L142.4,434.2L142.9,436.2L143.0,438.6L142.5,438.9L142.8,439.3L143.6,439.6L143.9,440.9L143.4,441.2L143.3,441.9L143.8,442.6L143.9,443.2L144.5,443.9L144.7,444.6L144.5,445.2L145.0,446.2L144.7,447.6L145.7,448.9L145.4,449.4L144.9,449.9L145.0,452.2L144.3,453.6L144.4,454.1L145.0,454.2L145.1,454.6L144.8,454.9L145.0,456.6L145.7,457.9L145.1,458.6L144.9,459.6L145.8,462.6L145.6,463.9L145.1,464.9L144.5,465.2L145.1,466.6L145.1,467.6L144.4,468.2L145.0,469.9L145.1,470.9L145.4,471.2L144.9,472.9L145.4,473.9L145.1,474.6L145.9,476.6L145.8,477.0L144.8,477.6ZM132.1,439.6L131.8,438.7L130.6,438.9L130.5,439.2L131.1,439.8L132.1,439.6ZM119.4,444.3L119.1,444.2L119.4,443.6L119.3,442.9L119.8,442.5L120.4,442.6L120.5,443.2L119.4,444.3ZM128.5,459.2L130.2,458.2L130.1,458.0L129.5,457.9L129.1,458.2L128.1,458.3L127.9,458.6L128.1,459.2L128.5,459.2ZM130.0,460.9L130.1,459.9L129.4,459.8L128.8,460.2L128.8,460.6L129.8,461.0L130.0,460.9Z' fill='#0000ff' fill-opacity='0.2'/>
<path d='M144.4,477.6L140.4,477.8L130.1,477.7L129.7,477.6L129.4,476.9L128.1,476.7L127.8,476.9L128.7,477.6L112.8,477.8L103.0,477.6L103.0,470.2L103.2,469.2L102.9,463.9L103.3,462.6L103.0,461.2L103.1,460.7L103.8,460.9L104.1,460.6L103.8,460.0L103.1,460.0L103.1,455.9L104.1,455.6L104.3,454.6L104.8,454.4L106.1,452.7L106.4,452.7L106.8,453.6L107.5,453.9L108.1,453.2L107.8,452.6L108.8,451.3L109.1,451.4L109.5,452.2L110.4,452.4L111.2,451.2L112.1,450.7L112.8,449.7L114.1,449.4L114.8,448.7L116.1,449.0L117.6,448.9L117.8,449.2L117.6,449.6L116.8,450.1L116.1,450.2L117.1,450.6L118.1,450.0L119.1,450.7L119.4,450.6L119.8,449.6L119.5,448.6L119.8,448.3L120.8,448.7L121.0,448.6L121.1,446.6L123.1,446.1L124.1,444.8L124.8,445.6L126.1,445.0L126.1,444.6L125.6,443.9L126.1,443.5L127.4,444.5L127.8,445.2L127.8,445.7L127.4,446.2L126.8,445.6L126.4,445.7L126.3,446.9L125.8,447.4L125.3,447.2L125.1,446.4L124.8,446.3L124.5,446.6L124.5,447.2L123.9,447.9L123.9,448.6L124.1,448.9L124.8,449.0L125.0,449.6L124.8,449.9L124.4,449.9L123.8,448.9L122.8,449.0L122.4,448.3L122.1,448.4L122.1,449.1L123.4,450.6L124.0,451.9L123.9,452.2L123.4,452.3L122.4,451.6L122.2,451.9L122.4,453.2L122.1,453.6L122.5,453.2L123.4,453.1L123.7,453.6L122.8,454.2L122.7,454.6L123.4,454.7L125.1,454.3L125.7,454.6L126.6,456.9L126.9,458.6L128.0,460.2L127.8,460.7L126.8,460.9L126.5,461.2L127.3,461.9L127.1,463.4L125.4,463.1L125.7,464.6L124.8,465.2L124.6,465.6L125.4,467.8L126.9,468.9L126.7,469.6L125.9,470.2L126.4,470.6L127.4,470.2L128.4,470.5L129.1,471.7L130.0,471.2L129.8,470.3L128.8,470.4L128.7,468.9L130.1,467.1L131.4,466.9L130.9,465.6L130.3,465.2L130.3,464.2L129.7,463.2L129.4,462.9L128.3,462.6L128.1,462.2L128.8,461.6L129.4,461.9L130.1,461.6L131.1,460.4L131.4,461.2L130.7,462.9L131.6,462.6L131.9,461.6L132.0,459.6L132.3,458.9L131.9,457.6L131.3,456.9L131.4,456.2L130.4,455.8L130.4,454.9L131.2,453.6L130.8,453.2L130.9,452.6L130.5,451.6L131.1,451.1L132.4,452.0L132.8,451.9L132.9,450.9L132.1,450.7L131.4,450.0L130.4,450.5L130.1,449.9L130.6,448.6L130.1,448.4L129.3,448.9L129.7,450.2L130.3,450.6L129.2,452.2L129.6,453.2L129.4,453.5L128.4,452.6L127.9,451.6L128.1,451.0L129.1,451.2L129.3,450.9L129.2,450.6L128.4,450.4L127.8,449.6L126.1,450.2L125.3,449.6L126.1,449.0L127.4,449.5L127.8,448.9L127.4,447.9L128.1,447.0L130.2,446.6L130.8,446.2L132.1,446.9L132.4,446.7L132.8,445.6L132.6,445.2L132.1,445.0L130.8,445.2L130.5,444.9L130.8,444.1L132.1,443.9L132.3,443.6L131.0,441.6L131.8,440.5L132.8,439.9L133.4,440.2L133.7,440.6L132.9,441.2L133.1,441.8L133.8,441.8L135.0,440.9L134.3,439.6L134.4,438.9L135.1,437.6L136.5,435.9L135.5,433.6L136.8,433.2L137.0,432.9L136.6,431.9L136.8,431.6L137.1,431.6L138.4,432.8L138.4,431.2L137.8,430.6L138.4,429.2L139.1,429.0L139.7,429.2L139.8,430.3L140.1,430.5L140.8,430.3L141.2,430.6L141.3,431.6L140.6,431.9L141.1,432.6L141.3,433.9L142.2,436.2L142.0,438.9L142.5,439.9L142.8,441.9L143.3,442.6L143.3,443.6L143.8,444.2L143.7,445.2L144.3,445.9L143.8,447.1L143.4,446.9L144.1,447.7L144.4,448.5L145.1,448.9L145.0,449.2L144.4,449.6L144.6,452.2L143.8,453.6L144.0,454.9L144.5,455.9L144.9,457.6L144.4,459.6L144.6,460.9L144.2,462.2L144.4,462.4L145.1,462.2L145.3,462.6L145.1,463.0L144.3,463.6L144.5,464.2L144.0,464.9L144.8,466.9L144.0,468.2L144.6,469.9L144.2,470.9L144.9,471.9L144.2,472.9L145.2,475.9L144.4,476.6L144.4,477.6ZM124.8,453.1L124.4,452.9L124.4,451.9L125.1,450.9L125.8,450.9L126.2,451.2L126.1,451.9L125.0,452.6L124.8,453.1ZM124.6,457.9L125.1,456.9L124.1,455.6L123.7,455.9L123.7,457.6L124.1,458.1L124.4,458.2L124.6,457.9ZM128.1,466.7L126.1,465.9L126.1,465.6L127.1,464.7L127.8,465.2L128.1,465.1L128.4,464.3L129.1,464.4L129.7,464.9L129.5,465.6L128.8,466.0L128.1,466.7ZM126.9,472.6L127.4,471.9L126.8,471.1L126.4,471.3L126.1,472.2L126.4,472.8L126.9,472.6ZM129.2,472.6L129.1,472.1L128.1,471.7L127.5,472.2L127.8,472.7L128.8,472.8L129.2,472.6ZM125.0,474.2L126.1,473.9L126.2,473.6L125.8,473.3L124.4,473.7L124.4,474.5L125.0,474.2Z' fill='#0000ff' fill-opacity='0.3'/>
<path d='M142.8,477.6L137.8,477.8L133.1,477.6L132.7,476.9L131.8,476.4L131.1,476.3L131.0,475.9L133.0,474.2L132.4,473.0L131.4,472.2L131.3,471.9L132.1,471.4L132.4,470.9L132.4,470.6L131.8,470.2L131.8,469.9L132.4,469.3L133.1,469.1L133.3,469.9L134.0,470.2L134.1,470.7L134.5,470.6L134.6,469.9L132.7,468.2L132.7,467.9L133.1,467.4L134.1,467.5L134.3,467.2L134.1,467.0L133.4,466.6L132.1,466.7L131.6,466.2L132.8,465.9L133.5,464.9L133.1,463.2L132.4,463.1L132.1,462.6L132.1,462.2L132.8,461.6L132.8,460.9L133.1,460.7L133.4,461.1L133.8,462.2L134.4,462.4L134.6,462.2L134.2,461.2L134.4,460.2L134.2,459.9L133.1,460.5L132.3,459.9L132.6,459.2L133.7,458.9L132.4,457.9L132.4,457.5L133.2,456.9L132.7,455.6L132.5,453.9L132.7,453.6L134.1,453.1L134.2,452.6L133.2,451.6L133.1,450.6L132.3,450.2L132.4,449.7L133.1,449.9L133.9,449.2L132.8,449.1L132.3,447.9L133.4,447.9L133.8,447.6L133.1,446.6L133.7,445.6L133.4,444.9L133.0,444.6L132.5,442.9L131.6,441.9L132.0,440.9L132.5,440.6L132.6,440.9L132.2,441.6L132.5,441.9L133.6,442.2L134.1,443.2L134.5,442.9L134.7,442.6L134.4,441.9L135.2,441.6L135.6,440.2L135.2,439.6L135.5,439.2L135.1,439.3L134.9,438.6L136.0,437.2L136.6,436.2L136.8,435.3L137.1,434.9L136.4,433.9L137.2,433.2L137.4,432.6L138.2,433.6L139.0,433.6L138.7,431.9L139.4,431.4L139.8,431.4L140.8,432.9L141.2,435.2L141.8,436.9L141.6,438.6L143.7,445.9L142.6,446.9L142.8,447.3L143.8,448.1L143.8,449.9L143.1,449.9L142.8,450.2L143.1,450.8L143.8,450.9L144.2,451.9L144.2,452.2L143.3,453.2L144.0,455.9L143.8,456.4L143.3,456.6L143.4,456.9L144.1,456.7L144.3,457.2L144.3,458.9L144.0,459.6L144.2,460.9L143.8,462.2L144.1,463.2L143.8,464.4L143.3,464.9L144.1,466.2L143.6,466.9L143.9,467.2L143.8,468.6L144.3,469.6L144.1,470.0L143.4,470.2L144.5,471.9L143.7,472.2L143.5,472.6L144.0,473.6L143.8,474.2L144.4,474.9L144.6,475.6L143.8,477.0L142.8,477.6ZM131.8,448.8L130.4,448.0L129.1,448.1L128.8,447.9L129.1,447.7L129.8,447.9L131.1,446.9L131.4,447.0L132.1,447.6L131.8,448.8ZM120.1,451.0L119.8,450.9L120.4,449.7L122.1,449.9L120.1,451.0ZM122.4,477.6L105.4,477.6L105.1,477.6L105.1,476.9L103.9,475.9L103.8,474.9L103.3,474.9L103.5,473.9L103.1,472.7L103.7,472.2L103.6,471.9L103.1,471.8L103.1,469.9L103.5,469.2L103.5,468.6L104.1,468.3L104.2,467.9L103.8,467.7L103.4,468.5L103.1,468.5L103.1,467.4L103.4,467.2L103.1,466.6L103.0,463.6L103.1,463.1L103.6,462.9L103.7,462.6L103.1,461.5L104.6,460.9L104.5,459.9L103.8,459.2L103.9,458.9L105.0,457.9L104.8,456.5L105.9,455.9L105.8,454.5L106.8,454.2L107.4,454.4L107.8,454.3L108.6,453.6L108.8,452.5L109.4,452.6L109.6,452.9L109.1,453.6L109.4,454.2L109.8,454.4L110.8,453.9L110.6,452.9L111.4,452.0L112.1,452.8L112.8,452.9L114.1,452.4L114.3,451.6L114.8,451.5L115.4,452.9L115.8,453.1L116.1,452.9L115.8,451.9L116.1,451.6L116.8,452.3L117.4,452.3L117.5,452.9L117.2,453.9L119.1,453.8L119.8,454.8L120.2,454.2L119.0,452.9L119.1,452.6L119.8,452.5L120.4,451.9L120.7,452.2L120.6,452.6L120.0,452.9L121.3,453.2L121.8,454.2L121.1,454.5L120.4,455.3L119.6,455.6L120.0,457.2L120.8,457.8L121.1,457.6L121.1,456.5L121.8,455.9L122.1,455.9L121.9,457.6L121.3,458.2L121.8,458.9L122.7,457.6L122.7,456.9L123.1,456.7L123.3,456.9L123.3,457.9L124.1,458.8L124.1,459.5L123.1,458.9L122.2,459.2L122.1,459.6L123.5,460.9L123.8,462.0L125.2,462.2L125.3,462.6L124.6,463.2L124.9,464.2L124.1,464.6L123.3,463.9L122.7,462.6L122.1,462.2L122.1,461.2L121.8,461.0L121.2,461.2L120.9,462.2L121.4,463.2L122.8,464.2L123.0,464.9L122.1,465.4L121.9,465.9L122.4,466.3L123.4,466.1L124.3,467.2L124.4,467.6L123.7,468.9L123.5,470.2L123.8,471.6L124.1,471.8L125.8,471.0L125.9,471.2L125.5,472.9L124.1,472.7L123.6,473.2L123.9,474.2L123.3,474.9L123.4,475.3L124.4,475.3L124.7,475.6L124.7,476.2L124.4,476.4L123.4,476.0L123.1,476.2L122.4,477.6ZM130.1,469.6L129.4,469.7L129.1,469.2L129.8,468.3L130.4,468.9L130.4,469.3L130.1,469.6ZM128.8,474.7L127.8,474.6L127.5,473.6L127.8,473.2L130.1,473.4L130.1,473.9L129.8,473.9L129.4,473.6L128.8,474.7ZM126.8,476.2L126.0,475.6L126.1,474.7L126.9,474.9L126.8,476.2ZM132.1,477.6L130.0,477.6L130.0,476.9L129.8,476.4L130.1,476.3L130.4,476.6L130.3,476.9L130.8,477.3L131.4,477.1L132.1,477.4L132.1,477.6Z' fill='#0000f4'/>
<path d='M139.8,436.6L139.4,436.7L138.4,435.7L138.5,435.2L138.8,435.1L139.3,435.2L139.8,436.6ZM142.1,477.6L136.8,477.7L135.8,477.3L135.4,476.6L135.7,475.6L135.2,474.2L135.8,472.9L135.0,471.9L135.6,469.9L135.0,468.9L134.9,468.2L135.2,467.2L134.6,465.6L134.9,464.6L134.7,463.6L135.5,462.9L134.8,460.9L135.7,458.2L135.2,456.9L135.1,452.6L134.8,451.9L135.8,450.9L135.4,448.2L136.0,446.2L135.9,442.9L136.4,441.9L136.6,440.2L137.2,439.6L136.8,438.6L137.8,437.2L139.8,437.6L140.1,438.9L140.9,439.6L140.4,440.6L141.4,441.6L141.1,443.8L141.4,444.3L142.1,444.6L141.9,445.2L141.2,445.6L141.4,447.4L141.9,448.2L141.8,448.9L142.8,451.9L142.5,453.2L142.7,455.6L142.0,456.2L142.9,458.2L142.3,459.9L142.6,461.2L142.3,461.9L142.8,462.9L142.2,464.9L142.9,465.9L142.5,467.2L142.8,468.2L142.4,469.3L141.5,469.9L142.8,470.9L142.6,471.9L142.0,472.9L142.8,474.2L141.8,475.9L142.3,477.6L142.1,477.6ZM114.8,477.6L113.8,476.9L113.5,477.6L112.5,477.6L111.8,476.7L110.4,476.2L110.0,476.2L110.1,477.5L109.6,477.6L109.3,476.9L109.6,476.2L108.9,475.2L108.1,474.9L108.4,474.4L109.1,474.4L109.1,473.6L108.4,473.3L107.4,473.9L106.8,473.9L107.3,472.9L106.6,471.9L106.4,470.2L106.7,469.6L106.6,468.6L106.2,465.6L105.6,463.9L106.5,463.2L107.6,460.2L108.3,459.6L108.4,458.6L110.1,458.1L111.4,456.1L112.6,456.2L112.8,457.1L112.8,456.2L113.4,455.8L116.1,458.4L116.6,457.9L116.5,457.2L116.8,456.8L118.1,458.5L118.8,458.8L118.4,459.6L118.5,460.2L118.8,460.7L119.8,461.2L119.1,462.2L119.4,462.3L119.8,461.8L120.2,462.2L120.2,462.6L119.8,463.2L120.3,463.9L120.3,464.9L120.4,465.2L120.8,464.7L121.4,464.9L121.1,465.8L120.3,466.9L120.4,467.4L121.1,467.8L121.5,468.9L121.4,469.3L120.5,469.9L120.3,470.9L120.6,471.6L120.2,472.6L119.6,473.2L119.4,473.8L118.3,473.6L118.4,474.9L118.1,475.1L117.1,474.7L116.2,476.2L115.1,476.5L114.8,477.6Z' fill='#0050ff'/>
<path d='M138.1,439.6L137.8,439.1L138.4,438.0L139.4,438.5L139.6,438.9L139.4,439.3L138.4,439.3L138.1,439.6ZM140.8,477.6L136.6,477.6L136.8,476.2L136.1,474.6L136.3,471.2L135.6,466.2L136.0,463.9L135.4,460.6L136.1,457.9L135.7,457.2L135.9,455.9L135.7,455.2L135.9,453.2L136.8,451.9L136.4,449.9L136.6,448.9L136.0,447.9L136.5,446.9L136.9,445.2L137.5,444.2L136.9,443.2L136.9,441.9L137.1,441.6L137.8,442.1L137.9,441.6L139.4,440.2L139.8,440.2L140.1,441.4L140.9,441.9L140.7,443.6L140.8,444.6L140.6,445.6L141.0,446.2L141.3,448.9L142.1,451.2L141.4,452.2L141.4,452.7L142.0,452.9L142.1,453.6L141.6,455.2L141.6,456.6L141.1,457.6L141.4,458.7L141.8,459.2L141.5,460.9L142.2,462.9L142.1,463.9L141.4,465.6L142.2,466.2L142.1,468.6L141.1,469.9L142.1,471.2L141.3,473.9L141.7,474.9L141.3,475.9L141.1,477.6L140.8,477.6ZM114.4,474.6L114.1,474.8L113.4,474.3L112.1,474.8L111.4,474.5L110.6,473.9L109.4,472.2L110.1,471.6L110.1,470.8L109.5,470.6L109.1,471.1L108.7,470.6L107.8,470.3L107.7,469.9L108.4,468.7L109.1,468.6L109.1,468.2L107.8,467.9L107.3,467.2L107.4,466.7L108.2,466.2L107.7,464.6L108.4,463.9L108.0,463.6L107.9,462.9L108.7,461.6L108.8,460.7L109.9,461.9L110.1,462.5L111.0,462.2L110.4,461.7L110.3,461.2L111.0,459.6L111.4,459.2L113.5,459.6L113.6,459.9L112.9,460.6L113.1,460.9L113.5,460.9L115.4,459.3L116.1,459.6L116.4,460.9L118.6,463.6L118.5,464.2L119.5,464.9L119.0,465.9L119.3,467.6L119.1,467.9L118.7,467.9L118.7,468.2L119.1,468.5L119.1,469.2L118.1,469.3L117.6,470.6L117.9,471.2L117.6,471.9L117.8,472.7L117.4,473.0L116.9,471.6L116.4,471.6L115.9,472.2L116.2,473.2L115.8,473.6L114.8,473.3L114.4,473.6L114.4,474.6ZM118.3,465.6L118.3,464.6L117.8,464.2L117.4,464.4L117.4,465.6L117.8,465.9L118.3,465.6Z' fill='#00a8ff'/>
<path d='M140.4,477.6L136.8,477.6L137.5,476.2L136.6,474.6L137.2,473.6L137.2,472.2L136.7,471.6L136.5,470.6L136.2,468.2L136.5,467.2L136.1,465.9L136.3,462.9L136.1,461.2L136.8,460.8L137.1,460.2L137.0,459.9L136.1,459.3L136.6,457.9L136.1,456.6L136.9,455.2L136.6,453.9L137.4,451.6L137.0,449.6L137.4,448.2L136.7,447.9L136.6,447.6L137.5,446.9L137.1,446.2L137.3,445.2L137.9,444.6L137.5,443.2L137.8,443.0L138.8,442.8L139.8,442.1L140.4,442.2L140.3,443.2L140.5,444.2L139.8,445.0L139.5,445.9L139.8,446.4L140.8,447.1L140.8,448.9L141.6,450.9L141.1,451.7L141.0,452.6L140.5,453.2L141.7,453.9L141.3,455.2L141.4,456.2L140.9,457.6L141.1,458.6L140.9,459.2L141.5,459.9L141.2,460.9L141.8,463.6L141.1,465.6L141.7,466.6L141.8,468.2L141.8,468.6L140.8,469.6L141.1,470.6L141.8,471.2L141.8,471.6L140.8,473.9L141.1,475.1L140.7,475.9L139.8,476.2L140.1,476.8L140.8,476.8L140.7,477.6L140.4,477.6ZM112.1,474.2L110.7,473.2L110.3,472.2L110.4,470.6L109.8,469.9L109.9,468.6L109.1,467.8L108.1,467.7L107.8,467.2L108.8,466.6L109.4,465.6L109.1,463.5L109.8,463.5L111.1,462.9L111.8,462.0L112.6,461.9L113.4,461.4L115.1,462.6L116.1,462.5L117.6,462.9L117.7,463.2L116.8,464.5L116.1,464.2L115.6,464.6L116.8,464.7L117.1,465.2L117.4,466.6L117.8,467.2L117.8,467.5L117.1,467.7L116.9,468.2L117.8,468.6L118.0,468.9L116.8,470.6L116.4,470.8L115.8,470.4L115.4,470.7L115.3,471.2L115.5,471.9L115.1,472.8L113.8,472.9L113.0,472.2L112.7,471.6L111.8,471.1L111.0,471.6L111.0,471.9L112.3,472.9L112.8,473.9L112.1,474.2Z' fill='#00e8e8'/>
<path d='M139.8,475.4L138.8,474.9L137.4,474.9L137.2,474.6L137.5,473.9L137.5,472.2L136.6,470.2L136.5,468.2L137.0,467.2L136.4,465.9L136.6,462.2L137.2,461.6L137.2,459.9L136.8,459.2L136.9,457.9L136.5,456.6L137.6,455.2L137.1,453.9L137.2,452.6L137.7,451.6L137.3,449.6L137.9,448.9L139.1,446.1L140.3,447.9L140.0,448.6L140.1,449.2L138.6,450.9L138.6,451.2L139.4,451.7L139.9,450.9L140.8,450.6L141.0,450.9L140.5,451.2L140.5,451.6L140.8,452.2L140.2,453.2L141.3,454.2L141.0,455.2L141.1,456.3L140.1,457.1L140.0,457.6L140.8,458.2L140.5,459.9L141.1,460.0L141.2,460.2L141.0,460.9L141.3,461.9L141.1,462.3L140.4,462.6L141.0,462.9L141.4,463.9L140.9,465.6L141.5,466.6L141.6,467.9L140.6,469.2L140.6,470.9L141.4,471.2L141.5,471.6L140.4,473.9L140.5,474.6L139.8,475.4ZM114.8,472.4L113.8,472.3L112.6,470.9L112.5,470.6L113.2,469.9L113.1,469.4L110.4,469.8L110.2,469.6L110.3,468.6L109.4,467.7L108.4,467.2L109.8,466.7L110.1,466.2L109.8,465.2L110.0,464.2L110.4,463.7L111.8,464.1L111.9,463.9L111.6,462.9L112.1,462.4L112.8,462.4L113.4,462.2L115.1,463.3L116.1,463.0L116.4,463.2L116.1,463.8L114.4,463.6L114.3,463.9L114.7,464.6L114.7,465.6L115.0,466.2L115.2,466.2L115.8,465.4L116.9,465.6L116.9,466.2L116.1,466.9L116.1,467.2L116.5,467.6L116.8,468.7L117.2,468.9L117.1,469.2L115.8,469.3L115.2,469.6L114.7,470.9L115.1,471.9L114.8,472.4ZM139.4,477.6L138.8,477.2L138.4,477.6L137.1,477.6L138.4,475.6L139.2,476.2L139.7,477.6L139.4,477.6Z' fill='#00f080'/>
<path d='M138.1,450.6L137.8,450.3L137.6,449.6L138.2,449.2L138.3,448.6L138.8,448.1L139.8,447.8L139.5,449.6L138.1,450.6ZM139.8,475.0L139.3,474.9L138.8,474.0L138.1,474.1L137.8,473.6L137.6,472.9L138.0,471.9L136.8,469.9L136.8,468.2L137.4,466.9L136.6,465.9L136.6,463.2L137.5,461.6L137.1,458.9L137.2,457.9L136.7,456.9L137.1,456.3L137.8,456.3L138.1,455.9L138.1,455.2L137.6,454.6L137.5,452.9L138.1,451.5L138.4,451.5L139.4,452.0L140.4,452.1L140.4,452.5L139.9,453.2L141.0,454.6L140.8,456.1L139.5,457.6L140.6,458.6L140.2,460.2L140.8,460.4L141.0,461.6L140.9,461.9L140.2,462.2L140.2,462.6L140.9,463.2L141.1,463.9L140.7,465.6L141.3,466.6L141.3,467.6L141.3,467.9L140.6,468.6L140.4,470.2L139.9,470.9L140.7,472.6L140.4,473.1L139.4,473.6L140.1,474.2L139.8,475.0ZM112.1,467.3L111.8,467.3L111.4,466.6L111.7,465.2L110.8,465.2L110.5,464.9L110.4,464.1L111.1,464.2L111.8,464.7L112.3,464.6L112.7,465.9L112.5,466.9L112.1,467.3ZM114.4,470.1L113.8,469.9L113.4,469.2L112.8,468.7L112.1,469.4L110.8,469.4L110.6,468.9L111.8,467.8L113.0,467.6L113.4,467.0L114.4,466.3L115.6,466.9L115.7,468.2L116.1,468.6L115.1,469.0L114.9,468.2L113.8,467.9L113.5,468.6L114.6,469.6L114.4,470.1Z' fill='#30f000'/>
<path d='M137.8,457.7L137.1,457.2L137.1,456.9L138.1,456.5L138.8,455.2L138.1,454.8L137.9,453.9L138.1,453.5L139.4,452.9L139.8,453.9L139.6,454.6L140.4,454.8L140.4,455.8L139.4,457.2L137.8,457.7ZM138.8,473.6L138.1,473.5L137.8,472.9L138.7,471.9L138.6,471.6L137.1,469.9L137.4,469.2L137.0,468.6L137.7,467.2L137.5,466.6L136.8,465.9L137.1,463.9L136.9,463.2L137.8,461.9L137.4,458.9L137.8,458.1L138.4,458.5L139.4,458.1L140.1,458.6L139.9,460.6L140.6,461.2L140.6,461.6L140.1,461.9L140.0,462.6L140.8,463.9L140.6,465.6L141.0,466.6L141.0,467.6L140.5,468.2L140.0,469.2L140.0,470.2L139.5,470.9L140.2,471.9L140.3,472.6L138.8,473.6Z' fill='#b8f000'/>
<path d='M139.1,457.0L138.2,456.9L139.1,455.6L139.8,455.2L140.1,455.6L139.1,457.0ZM138.8,470.9L138.1,470.6L137.7,469.9L137.5,468.2L137.9,467.2L137.7,466.6L137.1,465.9L137.6,463.9L137.1,463.2L137.4,462.9L138.1,463.2L138.3,462.9L138.1,462.1L138.8,461.6L138.1,461.3L137.8,460.9L137.8,458.8L138.1,458.8L138.4,459.1L139.4,458.4L139.9,458.9L139.5,460.9L139.9,461.6L139.8,463.6L140.4,463.8L140.7,464.2L140.4,465.6L140.8,466.9L140.1,468.7L139.3,469.6L139.5,470.2L138.8,470.9ZM138.8,473.2L138.1,473.1L138.1,472.7L138.8,472.4L139.1,471.5L139.4,471.4L140.1,472.2L138.8,473.2Z' fill='#ffd000'/>
<path d='M138.8,461.0L138.0,460.9L138.0,459.9L138.1,459.6L138.8,459.5L138.9,458.9L139.4,458.7L139.6,458.9L139.5,460.2L138.8,461.0ZM138.8,470.6L138.4,470.6L137.9,469.9L137.8,468.6L138.1,467.6L137.9,466.6L137.4,465.9L137.9,463.6L138.6,462.9L138.2,462.2L139.4,461.5L139.7,462.6L139.5,463.6L140.5,464.2L140.3,465.6L140.6,466.9L140.0,468.2L139.8,468.5L139.4,468.5L139.3,469.2L138.8,469.6L139.1,470.2L138.8,470.6Z' fill='#ff8000'/>
<path d='M138.4,469.9L138.1,469.7L137.9,468.9L138.4,467.9L138.0,466.6L137.6,465.9L137.8,465.2L138.7,464.9L138.8,464.6L138.2,464.2L138.1,463.9L138.8,462.9L138.4,462.2L139.1,461.9L139.5,462.2L139.2,463.2L139.4,463.9L140.1,464.1L140.4,464.5L140.1,465.6L140.3,466.9L139.8,468.0L139.1,468.2L139.2,468.9L138.4,469.9Z' fill='#ff1000'/>
<path transform='translate(103.1,420.9) scale(0.25)' d='M0 218h0M91 19h0M127 7h0M156 32h0M90 119h0M103 114h0M62 50h0M119 142h0M81 126h0M115 166h0M18 119h0M4 157h0M96 147h0M165 86h0M113 204h0M159 66h0M108 129h0M15 100h0M116 25h0M88 125h0M80 105h0M92 114h0M168 14h0M111 141h0M125 88h0M0 184h0M43 26h0M125 199h0M99 203h0M89 158h0M102 85h0M54 124h0M95 222h0M76 101h0M116 23h0M65 76h0M40 46h0M74 121h0M67 30h0M89 123h0M186 91h0M120 130h0M26 105h0M38 56h0M94 224h0M8 48h0M132 59h0M107 54h0M164 138h0M59 120h0M106 141h0M85 157h0M88 104h0M124 59h0M72 16h0M56 108h0M93 35h0M36 116h0M97 123h0M73 125h0M2 73h0M98 48h0M25 73h0M64 43h0M66 53h0M122 64h0M109 40h0M88 111h0M165 5h0M71 66h0M103 86h0M111 136h0M149 25h0M115 198h0M67 103h0M96 141h0M76 117h0M78 132h0M69 9h0M173 40h0M7 146h0M0 49h0M106 179h0M26 19h0M83 222h0M87 153h0M32 104h0M51 33h0M143 41h0M90 98h0M174 203h0M18 72h0M57 104h0M87 176h0M161 35h0M50 9h0M125 79h0M68 23h0M121 174h0M69 59h0M168 147h0M4 58h0M164 73h0M84 112h0M8 83h0M93 139h0M85 135h0M95 214h0M159 38h0M49 94h0M109 15h0M152 15h0M162 225h0M13 126h0M25 21h0M126 28h0M178 173h0M198 65h0M99 209h0M75 1h0M58 23h0M73 97h0M11 21h0M80 98h0M41 53h0M158 54h0M73 210h0M44 107h0M140 50h0M96 155h0M207 56h0M15 49h0M125 25h0M35 49h0M106 11h0M90 195h0M112 110h0M155 72h0M61 122h0M117 75h0M114 169h0M109 97h0M137 36h0M96 170h0M81 89h0M102 130h0M129 40h0M109 14h0M172 93h0M187 227h0M178 133h0M163 82h0M126 88h0M173 52h0M45 59h0M25 119h0M176 137h0M43 70h0M99 169h0M90 192h0M114 213h0M204 124h0M37 48h0M162 74h0M165 123h0M89 213h0M91 45h0M89 154h0M173 55h0M66 27h0M149 22h0M167 124h0M86 55h0M133 46h0M97 173h0M112 213h0M83 150h0M12 94h0M108 87h0M105 220h0M102 117h0M166 84h0M42 74h0M112 185h0M102 169h0M99 69h0M98 168h0M165 191h0M99 138h0M112 155h0M166 151h0M80 87h0M98 8h0M13 131h0M115 119h0M131 52h0M118 114h0M79 182h0M84 128h0M143 6h0M31 70h0M116 93h0M150 26h0M125 45h0M128 72h0M88 211h0M166 203h0M119 62h0M74 103h0M0 161h0M84 21h0M113 4h0M102 71h0M87 88h0M62 89h0M114 112h0M114 129h0M74 61h0M110 126h0M50 17h0M222 22h0M38 41h0M77 87h0M87 55h0M110 214h0M160 77h0M87 150h0M92 168h0M31 125h0M115 214h0M3 139h0M96 106h0M74 84h0M154 54h0M167 185h0M1 44h0M85 26h0M98 79h0M175 99h0M168 66h0M88 174h0M22 60h0M95 47h0M119 177h0M167 199h0M123 31h0M19 34h0M39 113h0M109 30h0M112 145h0M163 134h0M91 162h0M86 113h0M31 118h0M110 59h0M76 138h0M94 166h0M105 128h0M82 109h0M42 108h0M77 70h0M4 157h0M2 77h0M106 96h0M1 162h0M170 160h0M86 216h0M22 65h0M96 25h0M102 124h0M97 172h0M111 197h0M51 111h0M166 168h0M60 15h0M157 56h0M117 213h0M92 196h0M52 90h0M174 178h0M205 118h0M171 200h0M33 25h0M161 227h0M48 13h0M113 210h0M170 143h0M93 169h0M128 56h0M101 138h0M96 194h0M110 138h0M111 176h0M170 121h0M157 66h0M182 145h0M49 91h0M11 127h0M8 226h0M117 161h0M6 223h0M116 174h0M118 104h0M167 148h0M73 34h0M162 66h0M10 130h0M117 117h0M90 34h0M180 134h0M21 110h0M104 161h0M44 17h0M12 21h0M76 97h0M88 100h0M50 115h0M69 125h0M147 8h0M152 14h0M147 13h0M90 161h0M75 115h0M227 135h0M84 161h0M88 135h0M93 181h0M94 79h0M140 37h0M85 159h0M18 123h0M54 58h0M95 166h0M103 75h0M167 202h0M47 121h0M97 114h0M166 155h0M12 97h0M91 75h0M89 18h0M55 80h0M104 109h0M86 182h0M5 43h0M86 86h0M76 125h0M93 70h0M72 163h0M119 66h0M83 113h0M131 57h0M114 174h0M77 148h0M42 26h0M23 37h0M34 98h0M116 77h0M166 183h0M104 114h0M90 113h0M106 136h0M128 77h0M82 176h0M148 37h0M53 118h0M118 106h0M36 119h0M75 53h0M96 166h0M72 96h0M71 125h0M35 67h0M178 143h0M116 120h0M215 135h0M96 151h0M142 27h0M94 139h0M173 164h0M113 84h0M30 19h0M191 213h0M99 99h0M50 51h0M11 122h0M93 56h0M55 36h0M169 136h0M130 56h0M90 216h0M106 92h0M99 151h0M3 153h0M114 104h0M163 226h0M191 75h0M72 165h0M126 42h0M121 34h0M68 102h0M75 167h0M66 114h0M129 55h0M72 146h0M33 121h0M5 129h0M51 51h0M74 163h0M98 167h0M87 119h0M83 175h0M75 45h0M58 132h0M108 154h0M170 112h0M165 116h0M78 101h0M81 68h0M38 71h0M104 227h0M34 120h0M163 136h0M86 209h0M117 119h0M89 37h0M169 217h0M168 154h0M126 78h0M6 123h0M169 173h0M77 90h0M117 51h0M3 227h0M172 217h0M93 180h0M0 184h0M80 45h0M91 188h0M81 129h0M57 132h0M106 206h0M88 87h0M92 179h0M67 139h0M116 168h0M110 44h0M146 19h0M75 164h0M98 116h0M153 36h0M44 81h0M28 99h0M114 93h0M77 118h0M30 92h0M84 201h0M99 204h0M124 86h0M168 148h0M104 174h0M99 174h0M157 65h0M95 113h0M91 45h0M160 68h0M113 226h0M89 215h0M116 200h0M116 176h0M63 80h0M105 109h0M56 115h0M86 185h0M7 224h0M7 98h0M151 22h0M132 43h0M168 159h0M10 136h0M98 169h0M92 197h0M130 66h0M108 198h0M49 119h0M110 162h0M124 195h0M167 167h0M83 110h0M86 42h0M98 101h0M79 37h0M106 178h0M14 106h0M166 30h0M83 157h0M105 180h0M170 17h0M101 22h0M32 102h0M102 117h0M148 17h0M171 178h0M68 65h0M112 93h0M42 90h0M122 107h0M92 59h0M64 18h0M166 183h0M61 67h0M118 173h0M79 180h0M51 58h0M44 71h0M34 93h0M89 200h0M158 37h0M39 76h0M167 158h0M43 117h0M167 128h0M85 86h0M109 15h0M167 205h0M54 37h0M120 177h0M22 129h0M84 202h0M90 156h0M94 167h0M188 46h0M97 170h0M164 155h0M41 112h0M93 70h0M109 58h0M181 134h0M131 64h0M100 84h0M86 199h0M114 46h0M166 92h0M66 70h0M163 97h0M115 217h0M152 35h0M60 125h0M94 74h0M85 101h0M162 22h0M79 89h0M72 112h0M81 40h0M111 80h0M37 42h0M40 116h0M122 50h0M157 18h0M111 113h0M112 102h0M99 219h0M167 187h0M159 86h0M164 87h0M174 95h0M67 101h0M73 29h0M92 201h0M167 122h0M224 145h0M48 64h0M49 59h0M115 186h0M7 128h0M170 173h0M78 136h0M29 57h0M49 19h0M111 204h0M14 55h0M126 80h0M85 60h0M9 66h0M0 112h0M115 160h0M111 201h0M72 210h0M8 141h0M73 129h0M3 153h0M77 30h0M49 23h0M118 228h0M106 89h0M56 63h0M63 29h0M90 180h0M51 20h0M113 178h0M31 77h0M93 225h0M114 170h0M105 225h0M82 143h0M100 140h0M60 118h0M10 67h0M83 32h0M174 215h0M35 126h0M168 189h0M188 107h0M103 123h0M164 199h0M159 83h0M69 117h0M75 150h0M125 197h0M24 22h0M107 80h0M112 177h0M84 212h0M164 201h0M90 164h0M84 112h0M127 83h0M65 28h0M84 222h0M38 35h0M166 213h0M68 79h0M40 90h0M107 93h0M79 134h0M60 20h0M107 132h0M108 131h0M49 111h0M105 46h0M130 8h0M0 21h0M4 54h0M73 112h0M166 108h0M62 122h0M55 86h0M51 72h0M94 153h0M35 107h0M174 145h0M114 113h0M23 93h0M74 109h0M85 214h0M91 145h0M159 39h0M131 60h0M93 85h0M106 227h0M58 46h0M30 44h0M121 177h0M119 59h0M59 120h0M33 116h0M127 11h0M13 56h0M130 45h0M59 130h0M9 59h0M91 221h0M64 121h0M104 87h0M110 177h0M90 188h0M49 35h0M44 105h0M95 106h0M68 112h0M118 129h0M108 155h0M102 122h0M114 200h0M17 62h0M189 183h0M117 141h0M5 178h0M116 51h0M170 129h0M108 215h0M83 151h0M119 211h0M3 157h0M169 206h0M136 17h0M165 35h0M119 49h0M101 83h0M79 96h0M67 1h0M165 183h0M111 212h0M91 105h0M92 106h0M30 76h0M58 68h0M62 96h0M100 154h0M52 55h0M63 139h0M112 183h0M153 35h0M111 151h0M96 145h0M73 125h0M80 128h0M100 96h0M165 163h0M116 130h0M59 79h0M111 53h0M166 122h0M78 116h0M72 69h0M65 115h0M58 107h0M7 227h0M102 123h0M164 61h0M168 133h0M97 54h0M75 33h0M122 161h0' stroke='#0000ff' stroke-opacity='0.6' stroke-width='2.0' stroke-linecap='square' fill='none'/>
</g>
<path d='M103.1,420.9 L160.5,420.9 L160.5,478.2' fill='none' stroke='#8f8f8f' stroke-width='0.9'/>
<path d='M103.1,420.9 L103.1,478.2 L160.5,478.2' fill='none' stroke='#b0b0b0' stroke-width='0.8' stroke-dasharray='0.8,0.7'/>
<line x1='102.19999999999999' y1='424.9' x2='104.0' y2='424.9' stroke='#777' stroke-width='0.6' />
<line x1='102.19999999999999' y1='437.22499999999997' x2='104.0' y2='437.22499999999997' stroke='#777' stroke-width='0.6' />
<line x1='102.19999999999999' y1='449.54999999999995' x2='104.0' y2='449.54999999999995' stroke='#777' stroke-width='0.6' />
<line x1='102.19999999999999' y1='461.875' x2='104.0' y2='461.875' stroke='#777' stroke-width='0.6' />
<line x1='102.19999999999999' y1='474.2' x2='104.0' y2='474.2' stroke='#777' stroke-width='0.6' />
<line x1='107.1' y1='477.3' x2='107.1' y2='479.09999999999997' stroke='#777' stroke-width='0.6' />
<line x1='119.44999999999999' y1='477.3' x2='119.44999999999999' y2='479.09999999999997' stroke='#777' stroke-width='0.6' />
<line x1='131.79999999999998' y1='477.3' x2='131.79999999999998' y2='479.09999999999997' stroke='#777' stroke-width='0.6' />
<line x1='144.14999999999998' y1='477.3' x2='144.14999999999998' y2='479.09999999999997' stroke='#777' stroke-width='0.6' />
<line x1='156.5' y1='477.3' x2='156.5' y2='479.09999999999997' stroke='#777' stroke-width='0.6' />
<line x1='103.1' y1='466.74' x2='103.1' y2='468.94' stroke='#111' stroke-width='1.2' />
<line x1='107.118' y1='478.2' x2='114.58' y2='478.2' stroke='#555' stroke-width='1.0' />
<clipPath id='c25'><rect x='164.4' y='420.9' width='57.4' height='57.3'/></clipPath>
<g clip-path='url(#c25)'>
<path d='M208.7,477.6L203.1,477.9L172.4,477.9L164.4,477.8L164.1,477.6L164.3,452.6L164.7,452.2L165.1,451.0L166.9,450.2L167.0,448.9L167.4,448.9L168.1,449.5L168.4,449.3L168.4,447.8L169.1,448.2L169.6,447.6L170.7,447.1L171.7,448.0L172.5,447.9L174.1,445.9L174.3,445.2L174.1,445.0L173.4,445.4L172.8,445.2L172.6,444.2L172.7,443.7L173.7,443.4L174.4,444.9L174.7,445.0L175.0,444.9L175.1,443.4L175.4,443.3L176.4,443.5L177.0,443.2L176.2,442.2L175.9,441.2L176.2,440.6L175.9,439.9L176.7,438.9L176.5,437.9L175.1,437.7L173.7,438.3L173.4,438.2L173.2,437.6L173.4,436.6L173.7,436.2L176.1,434.7L176.4,434.1L177.7,433.9L177.8,433.2L176.7,433.2L176.3,433.9L175.7,434.2L174.9,433.9L174.1,435.2L173.7,435.2L173.3,434.6L173.7,432.9L174.7,432.3L174.4,431.6L174.7,430.5L175.7,430.0L176.4,430.5L177.1,430.2L176.4,428.8L175.7,428.7L175.6,429.6L175.4,429.7L175.0,429.6L174.9,428.9L175.4,428.4L175.7,427.3L176.3,426.9L176.1,425.7L177.1,424.9L177.7,425.1L178.1,424.9L178.2,424.2L179.1,423.2L178.9,422.6L179.1,422.3L180.1,422.5L180.7,422.1L181.4,422.9L182.4,423.2L183.4,421.9L182.6,420.9L183.7,420.9L184.1,421.4L184.4,421.4L185.6,420.9L186.3,420.9L186.4,421.7L185.4,421.4L184.7,422.9L185.1,423.2L186.1,422.7L186.7,421.9L187.6,421.9L187.8,420.9L189.0,420.9L188.1,421.9L189.1,423.7L190.1,423.4L190.1,423.0L189.3,422.6L189.7,422.3L190.1,422.3L190.4,421.8L191.7,422.5L192.4,423.5L193.4,423.0L194.2,423.2L194.6,424.6L194.5,425.6L195.7,426.5L196.1,426.6L196.9,425.6L197.7,425.0L198.4,425.2L198.7,426.2L198.4,426.6L197.7,426.7L197.6,427.2L198.0,427.6L199.4,427.7L200.1,428.3L201.6,428.6L201.5,430.2L202.1,430.6L201.8,431.2L202.1,431.7L203.1,431.5L203.5,431.9L203.4,432.2L202.6,432.9L203.1,433.4L203.1,433.9L202.1,434.2L202.0,434.9L203.1,436.3L203.4,436.3L203.5,434.6L204.8,434.6L204.8,435.6L203.7,437.6L203.7,438.9L204.4,439.1L205.1,438.6L205.9,439.2L205.7,439.8L205.1,440.0L205.0,440.6L206.2,443.2L205.9,444.2L206.5,445.2L206.7,446.3L207.2,446.9L207.2,447.9L206.6,448.6L207.1,449.1L207.5,448.9L208.3,449.9L208.8,451.9L208.7,453.2L208.4,453.6L209.4,454.1L209.9,455.2L209.3,457.6L209.6,459.6L209.2,460.2L209.6,460.9L209.8,462.2L209.5,462.9L209.7,465.6L208.9,467.2L209.7,467.6L209.7,467.9L209.4,469.0L208.7,468.7L208.6,469.2L208.8,469.9L209.8,470.9L209.8,471.2L208.7,472.2L209.6,473.2L209.6,474.9L208.7,476.9L208.7,477.6ZM196.1,425.0L195.7,425.1L195.0,424.6L195.1,424.2L196.4,423.6L197.2,423.9L196.4,424.4L196.1,425.0Z' fill='#0000ff' fill-opacity='0.1'/>
<path d='M207.1,477.6L202.7,477.8L172.4,477.9L164.4,477.8L164.2,477.6L164.2,457.6L164.4,454.1L165.0,452.9L165.6,452.9L166.1,453.4L166.5,453.2L167.1,452.2L168.0,451.6L168.1,451.0L169.1,450.2L171.1,451.2L172.1,450.8L173.1,450.8L174.0,449.6L174.4,449.3L175.1,450.1L175.7,450.4L175.9,449.6L175.3,448.9L175.7,448.4L177.1,448.4L177.7,448.0L178.7,448.4L179.1,448.2L179.1,447.6L179.1,447.9L179.4,448.1L181.1,448.1L181.7,447.5L182.1,448.0L182.6,448.2L182.5,448.9L183.4,449.6L184.4,448.8L184.7,449.3L186.1,450.2L187.4,450.0L188.1,449.5L189.4,450.2L190.1,449.9L191.1,450.9L191.4,452.2L191.8,452.2L191.5,453.2L191.1,453.6L190.7,453.4L190.9,452.6L190.1,452.2L189.7,452.9L189.7,454.0L190.1,454.4L190.7,454.1L192.1,454.3L192.7,453.7L193.4,454.0L193.7,453.2L193.4,452.8L192.7,453.1L192.1,452.2L193.4,452.1L193.8,451.2L193.9,449.9L193.1,449.4L192.9,448.6L194.2,448.2L194.0,447.6L194.4,447.0L194.7,447.0L195.4,448.2L196.1,447.7L195.6,446.2L194.8,445.2L194.7,443.9L194.4,443.6L193.6,444.2L193.4,445.1L193.1,445.1L192.8,444.9L192.8,443.6L192.4,443.0L190.7,443.5L190.2,443.2L189.1,441.8L188.7,442.1L188.8,442.9L189.6,443.6L189.4,443.9L188.5,443.6L188.1,443.0L187.7,442.9L187.5,444.2L187.7,445.1L188.3,445.2L189.4,446.4L190.2,446.2L190.4,445.2L191.4,445.7L192.1,445.0L192.3,445.2L190.1,447.7L187.7,447.9L187.7,447.2L186.7,446.3L186.5,447.2L186.9,447.9L186.9,448.2L185.7,448.1L184.7,448.6L184.8,446.9L185.3,446.2L185.7,445.9L186.7,446.2L187.0,445.6L186.9,445.2L186.4,444.9L185.7,445.0L185.2,445.9L184.7,446.0L183.7,445.6L182.7,444.4L181.6,443.9L181.4,443.6L182.1,442.5L182.9,442.6L183.1,443.3L183.7,443.7L184.4,443.8L184.8,443.6L183.7,443.1L183.2,442.6L183.2,441.9L182.4,441.6L182.6,440.6L182.4,440.1L181.6,440.2L181.3,440.6L182.4,441.6L182.0,441.9L181.1,442.1L180.6,441.6L180.7,440.6L180.3,440.2L181.2,439.2L181.0,438.6L181.3,437.6L180.1,437.8L179.1,438.4L178.9,437.9L179.2,436.9L180.0,436.2L180.5,434.9L179.4,432.7L178.4,432.5L178.4,432.2L179.1,431.7L180.1,431.9L180.3,432.2L181.1,432.4L181.5,432.2L182.2,431.2L180.4,429.6L179.8,429.9L180.8,430.9L180.4,431.4L180.1,431.5L179.1,430.6L179.6,429.9L179.2,428.9L179.4,428.6L180.1,428.5L180.1,427.6L181.1,428.1L181.6,427.9L181.7,426.5L182.1,426.3L182.8,427.9L183.4,428.3L183.9,427.9L183.8,426.9L184.1,425.9L184.7,426.6L186.1,426.4L186.4,427.2L186.0,428.2L186.1,428.9L187.4,428.1L187.7,428.9L188.4,429.0L188.5,428.2L187.5,427.9L187.7,427.1L186.5,426.9L187.6,425.9L187.4,425.4L186.8,425.2L187.4,424.8L188.1,425.2L188.7,425.1L189.7,424.3L190.1,424.3L190.7,424.9L190.7,425.6L190.4,426.3L189.7,426.3L189.5,426.9L189.7,427.2L191.4,427.3L192.1,427.8L192.4,427.7L192.7,427.2L192.0,426.9L192.1,425.5L193.7,428.3L194.1,428.5L195.7,427.7L196.1,427.9L195.4,428.4L194.9,429.2L193.7,429.5L193.0,430.2L194.1,431.7L194.0,430.9L194.4,430.5L195.6,431.2L195.2,431.9L195.4,432.9L195.7,433.0L196.2,432.6L196.3,431.2L197.7,431.4L198.3,431.9L198.4,432.2L197.7,432.5L197.5,433.2L196.9,433.9L196.9,434.6L196.1,435.2L196.3,436.2L196.9,436.6L197.3,437.6L196.7,437.7L195.4,437.1L194.7,436.1L194.4,436.4L194.3,437.2L195.4,438.1L196.7,438.4L197.1,438.4L197.4,437.6L199.1,438.0L199.7,438.8L200.7,439.2L199.4,440.2L200.7,441.3L201.1,441.2L201.0,440.6L201.3,440.2L200.8,439.6L201.7,439.0L201.9,439.6L201.4,440.2L202.1,440.5L203.4,442.4L204.6,442.9L204.3,443.9L203.4,444.3L203.3,444.6L203.7,445.7L204.4,446.0L205.4,446.9L205.6,448.6L206.3,449.2L206.1,449.9L205.6,449.9L205.4,450.2L206.1,450.9L206.6,450.9L206.6,452.9L206.2,453.6L207.0,453.9L207.1,454.5L208.0,455.2L208.8,456.6L208.4,457.7L207.6,458.2L207.4,459.6L208.0,460.6L207.8,461.6L208.4,463.2L208.3,463.9L208.5,464.6L207.8,465.9L208.0,466.9L207.6,469.2L208.0,470.2L207.0,472.2L207.4,472.9L207.5,473.9L208.8,475.2L207.2,476.9L207.4,477.6L207.1,477.6ZM190.2,434.9L191.5,434.6L191.4,433.9L190.4,433.9L189.7,434.2L189.6,434.9L190.2,434.9ZM199.1,437.0L198.1,436.2L198.3,435.9L199.2,435.9L199.2,434.6L200.4,434.2L200.5,435.6L199.9,436.6L199.1,437.0ZM191.2,441.9L191.1,441.2L191.9,440.6L191.9,440.2L191.4,439.9L192.0,438.9L191.7,437.9L190.7,438.4L190.7,439.6L189.9,439.9L190.7,441.2L190.4,441.9L190.7,442.1L191.2,441.9ZM180.4,444.3L180.1,444.5L179.6,444.2L179.7,443.2L180.1,442.8L180.8,443.9L180.4,444.3ZM178.4,447.3L177.7,447.2L178.4,446.8L178.7,446.1L179.6,446.2L179.4,446.8L178.4,447.3ZM188.2,452.2L189.1,451.2L189.7,451.6L189.8,450.9L189.4,450.5L189.1,450.7L188.1,450.4L187.7,450.6L187.6,451.9L188.2,452.2Z' fill='#0000ff' fill-opacity='0.2'/>
<path d='M188.1,440.3L187.4,439.4L185.4,439.1L185.3,438.6L187.0,436.9L188.4,436.1L188.4,435.2L188.1,435.0L187.1,435.4L185.7,434.7L183.5,434.6L183.3,434.2L183.4,433.6L182.2,432.9L182.4,432.4L183.1,432.9L183.4,432.5L183.6,431.9L183.0,430.9L183.3,430.6L184.3,430.6L184.6,431.2L185.1,431.6L186.1,431.3L186.7,431.6L186.6,430.2L187.1,429.8L188.7,430.2L189.6,430.9L189.7,431.7L187.9,431.9L187.4,433.9L186.7,434.2L187.1,434.6L188.1,434.2L188.7,433.3L189.6,433.6L189.1,434.9L190.0,435.9L189.3,437.9L188.7,438.1L187.7,437.7L187.4,437.9L187.4,438.2L188.1,438.4L188.7,439.2L188.1,440.3ZM185.6,433.6L186.0,433.2L185.7,432.5L185.4,432.4L184.5,432.9L185.1,433.6L185.6,433.6ZM206.1,477.6L202.7,477.8L194.1,477.6L164.4,477.7L164.2,477.6L164.2,468.9L164.4,456.7L164.8,456.6L165.1,455.7L166.0,455.6L166.4,454.3L167.4,453.9L168.1,453.1L169.1,453.7L169.7,453.4L170.1,452.6L169.4,452.8L169.1,451.9L169.4,451.5L170.4,452.0L171.7,451.9L172.4,451.5L173.7,451.3L174.4,450.3L174.6,450.9L175.1,451.1L176.1,451.3L176.7,450.9L177.4,451.5L177.2,450.6L177.8,449.6L177.7,448.9L178.1,448.9L178.3,450.2L178.7,450.6L180.5,449.9L180.4,449.4L179.1,449.2L180.1,448.6L181.7,450.2L181.4,450.6L180.1,450.7L179.4,451.3L178.4,451.6L178.4,452.2L178.7,452.8L179.1,452.9L180.4,451.7L181.4,451.4L182.1,450.6L181.9,450.2L182.4,449.8L183.4,451.1L184.7,450.8L185.5,451.2L184.6,451.9L184.1,453.2L184.7,454.2L185.9,453.6L186.1,452.0L186.7,451.7L187.0,452.2L186.9,452.9L187.5,453.6L187.4,454.7L189.1,454.3L189.2,454.9L188.4,455.6L187.1,455.4L186.5,456.2L186.7,457.2L187.1,457.2L187.4,456.4L188.4,456.0L189.1,456.4L190.4,456.4L192.0,455.2L193.4,454.7L194.1,453.8L195.2,454.6L195.1,455.0L195.4,454.9L195.5,454.2L196.3,452.9L195.1,451.9L195.7,451.1L196.1,451.3L196.5,451.2L196.1,450.9L196.9,449.9L196.9,448.2L196.6,447.6L197.6,446.9L197.5,445.9L198.1,445.8L198.6,444.9L199.1,445.0L199.4,444.6L199.6,443.6L199.4,443.1L198.4,443.9L197.9,443.6L198.3,442.9L198.3,442.2L197.6,441.2L198.1,440.2L198.4,440.3L198.9,440.9L198.7,441.9L199.1,442.2L199.7,442.5L200.1,441.5L200.6,441.9L200.5,442.9L200.8,443.9L201.7,444.0L202.4,443.4L202.9,443.9L203.1,445.9L205.1,447.8L204.6,449.2L205.9,451.9L205.7,453.8L206.6,454.9L207.6,455.6L207.6,457.2L206.7,457.9L207.1,458.9L206.9,459.9L207.3,460.6L206.4,461.6L207.5,463.2L206.3,464.6L206.2,465.9L206.7,466.6L206.5,467.2L207.0,468.6L206.5,470.6L206.6,471.6L206.0,472.9L207.2,474.6L205.7,476.6L206.1,477.6ZM193.7,458.6L194.1,457.6L193.7,457.0L192.7,456.5L191.4,457.5L190.7,457.5L190.3,457.9L191.7,458.2L192.4,457.3L192.7,457.4L193.4,457.9L193.7,458.6ZM188.6,458.6L188.8,457.9L189.3,457.6L189.4,457.2L187.7,457.5L187.2,457.9L188.1,458.6L188.6,458.6ZM192.4,466.6L192.5,465.9L191.7,465.3L191.1,465.4L190.9,465.9L191.1,466.2L191.7,466.8L192.4,466.6ZM191.2,469.6L191.1,467.9L190.4,468.2L190.3,468.6L190.7,469.6L191.1,469.9L191.2,469.6ZM192.6,470.6L193.7,470.3L194.2,468.9L193.7,468.8L193.1,469.9L192.3,470.2L192.2,470.6L192.6,470.6ZM189.2,476.2L189.6,475.6L189.4,475.2L188.7,475.1L188.4,475.6L188.4,476.5L189.2,476.2Z' fill='#0000ff' fill-opacity='0.3'/>
<path d='M205.4,477.6L202.7,477.8L195.1,477.7L194.2,477.6L194.1,477.0L193.7,477.6L193.1,477.6L189.7,477.6L188.7,477.3L188.4,477.6L185.1,477.7L164.4,477.7L164.2,468.9L164.5,462.6L164.4,457.0L166.1,457.5L166.4,457.3L165.4,456.6L165.7,456.2L166.4,456.2L166.9,454.9L168.1,454.4L169.1,454.5L169.7,454.3L170.1,454.5L170.4,454.2L170.1,453.9L170.2,453.6L171.1,452.4L172.7,452.9L173.1,452.2L174.1,452.3L174.6,451.6L175.1,451.5L175.3,451.9L175.2,452.6L175.7,453.3L177.7,452.2L178.7,453.2L179.4,453.6L179.8,454.6L180.7,454.9L181.1,454.6L180.5,453.9L180.8,453.2L181.4,452.9L181.8,453.6L182.4,453.6L182.8,453.2L182.7,451.9L183.5,451.9L183.9,453.9L183.6,454.9L184.7,454.9L185.7,454.2L186.5,454.6L186.5,455.2L186.1,455.9L186.2,457.2L185.7,457.9L186.1,458.7L186.7,458.4L188.4,459.2L188.9,458.9L189.4,458.1L189.9,458.6L189.4,460.7L189.1,460.9L188.4,460.4L188.1,460.5L187.6,460.9L187.4,462.2L186.4,462.6L186.5,463.6L187.4,463.9L187.5,464.6L185.9,466.9L186.6,467.6L186.0,468.2L186.4,468.8L187.1,468.0L188.7,468.2L189.4,467.7L189.9,467.9L190.0,468.9L188.7,470.1L188.4,470.2L188.1,469.9L188.1,469.2L187.4,469.7L187.0,470.6L185.8,471.9L186.4,472.8L187.7,473.1L188.4,472.6L187.3,472.2L187.1,471.9L187.4,471.3L188.7,471.6L189.4,471.0L190.1,471.2L190.7,470.6L192.1,471.6L191.7,472.1L190.5,472.6L190.1,474.7L188.7,474.9L188.3,475.2L187.7,476.7L187.4,476.9L188.7,477.2L189.1,476.6L190.4,475.9L190.7,475.4L191.4,475.5L191.7,475.2L191.8,473.9L192.4,473.5L193.1,473.8L193.4,473.6L192.7,472.6L192.7,472.2L193.4,471.2L194.1,471.5L194.4,471.2L194.1,470.6L194.9,468.2L194.7,467.9L193.4,468.4L193.1,469.2L192.7,469.6L191.7,469.4L191.7,468.6L192.4,467.6L192.8,467.6L192.1,467.7L191.9,467.2L192.4,467.2L193.1,466.4L193.4,466.5L193.7,465.6L193.4,465.2L192.5,465.2L192.5,464.2L191.1,463.2L190.7,463.2L190.1,464.4L188.9,464.6L188.8,463.9L189.7,462.7L191.1,461.8L191.5,461.9L191.7,463.0L192.4,463.2L193.4,463.0L193.6,462.6L193.4,462.2L192.7,462.2L192.4,461.9L192.1,460.6L193.7,459.1L194.4,458.1L195.8,457.9L195.6,457.2L194.5,456.9L196.6,453.6L196.6,452.9L196.1,452.2L196.2,451.9L197.1,451.5L197.7,450.4L198.5,449.9L198.4,449.4L197.3,449.2L198.1,446.4L198.8,445.6L199.4,445.4L200.1,444.1L200.4,444.5L201.3,444.6L200.7,445.0L200.7,445.3L201.4,445.3L202.4,444.9L202.5,445.9L202.9,446.6L202.6,447.2L203.3,447.9L203.3,448.2L203.0,448.6L204.3,449.6L204.7,451.0L205.5,452.2L205.4,453.6L206.7,455.9L206.5,457.2L206.1,457.4L205.4,457.1L204.9,457.2L206.7,458.8L206.4,459.9L206.6,460.6L205.7,461.6L207.0,463.2L206.7,463.7L206.1,463.9L205.8,464.6L206.0,466.6L205.7,467.2L206.3,467.9L206.5,469.2L206.1,470.5L206.0,471.9L205.6,472.6L206.0,474.2L205.8,474.9L205.2,475.6L205.4,477.6ZM193.4,461.6L195.1,460.9L195.5,461.2L195.4,460.9L195.1,460.9L194.4,460.0L193.7,461.2L193.0,461.2L193.4,461.6ZM191.1,466.9L190.7,467.1L189.5,466.2L189.4,465.2L190.1,464.8L190.4,464.9L190.6,465.2L190.5,466.2L191.1,466.9ZM186.9,476.2L186.4,475.2L186.4,474.6L185.7,473.5L185.4,473.5L184.7,474.0L184.7,474.5L185.7,474.7L186.4,475.2L186.4,476.4L186.9,476.2ZM195.1,476.2L195.7,475.6L195.4,474.8L195.1,474.6L194.4,475.0L194.0,475.6L194.1,476.2L195.1,476.2Z' fill='#0000f4'/>
<path d='M204.1,477.6L198.5,477.6L198.5,476.9L198.2,476.6L198.2,475.6L197.4,474.6L197.7,473.3L198.3,472.9L197.5,471.9L197.1,470.9L197.4,470.0L198.1,469.8L198.3,469.2L198.1,469.1L197.7,469.7L197.4,469.9L196.8,468.6L196.8,467.2L197.3,466.6L196.7,465.9L196.8,464.9L196.4,463.2L196.7,462.8L197.2,462.9L197.2,462.6L196.9,461.6L197.1,461.2L197.0,459.6L197.5,458.9L197.5,457.6L197.9,456.2L197.7,453.9L198.1,453.4L199.1,453.7L199.5,453.6L199.2,452.9L200.1,450.6L201.1,451.2L201.5,450.9L201.6,450.6L200.4,449.6L201.1,449.2L202.4,449.9L202.6,450.2L202.4,451.4L203.4,451.9L202.7,452.1L202.5,452.9L203.4,454.9L203.7,455.3L204.4,455.1L204.6,455.2L204.7,455.9L204.1,457.2L204.8,458.2L204.6,459.2L205.2,460.2L204.2,462.2L204.4,462.8L204.9,462.9L205.1,463.2L204.7,465.2L204.8,466.6L204.1,468.2L204.6,469.9L204.3,470.6L204.5,471.6L204.2,472.6L205.0,473.6L205.0,474.2L204.1,474.9L202.8,476.6L203.4,477.0L204.2,476.9L204.1,477.6ZM179.4,477.6L178.1,477.6L177.4,477.2L176.4,477.7L172.4,477.7L171.1,477.4L170.4,477.7L168.6,477.6L167.4,476.6L165.4,476.6L165.4,475.6L164.4,475.3L164.4,474.7L165.1,474.3L165.4,474.4L165.7,474.9L166.4,474.6L166.8,473.9L166.7,473.5L166.4,473.4L165.4,473.7L164.8,473.2L164.5,472.6L165.2,471.2L164.4,470.3L164.3,468.6L164.4,468.1L165.1,467.6L164.4,464.9L165.7,462.6L166.0,461.2L165.4,460.6L165.5,460.2L165.7,460.0L166.2,461.2L166.7,461.2L167.7,460.2L168.4,460.0L168.8,458.6L168.7,457.6L170.1,457.2L171.7,456.1L172.1,456.0L173.1,456.7L173.7,456.0L174.7,455.7L176.1,456.3L177.1,455.8L178.0,455.9L178.1,456.9L178.4,457.2L179.4,457.1L179.5,458.2L180.7,459.2L180.6,460.2L181.2,460.9L181.2,461.6L182.1,461.9L183.6,463.2L183.5,464.2L182.9,464.9L182.8,466.6L183.3,467.9L182.7,470.2L183.2,470.9L182.4,471.9L182.4,472.6L182.1,473.3L181.1,473.5L180.8,473.9L181.1,474.3L182.4,474.3L182.7,474.9L182.1,475.4L181.4,475.5L180.3,475.2L179.7,477.6L179.4,477.6Z' fill='#0050ff'/>
<path d='M203.1,477.6L202.3,477.6L201.7,477.1L200.7,477.0L200.2,477.2L200.1,477.6L199.5,477.6L199.0,475.2L199.5,474.2L198.8,473.2L198.6,472.2L198.0,471.6L198.0,470.9L198.9,469.2L199.0,468.6L198.7,468.1L197.7,468.3L197.3,467.6L198.3,466.9L198.3,466.6L197.4,465.6L197.4,465.2L197.5,464.2L198.5,463.2L198.5,462.9L197.9,462.2L198.0,461.2L197.8,459.9L198.4,458.6L198.6,455.6L199.6,455.2L200.4,453.8L201.4,453.3L202.4,453.9L203.1,455.2L203.1,455.9L202.5,456.9L203.2,457.6L203.7,460.6L204.2,461.2L203.6,462.6L204.2,464.2L203.8,465.6L204.0,466.2L203.6,468.6L203.9,469.9L203.7,470.2L202.7,470.4L202.3,470.9L203.1,471.6L202.5,472.2L202.9,472.9L202.7,473.6L203.3,474.2L203.3,475.2L203.1,475.6L202.4,475.8L202.3,476.6L203.1,477.6ZM176.4,477.6L175.7,476.9L175.4,477.0L175.1,477.6L171.8,477.6L170.7,475.1L170.3,475.2L170.1,476.9L169.4,477.1L168.7,476.2L167.8,475.6L167.9,475.2L167.2,474.6L167.1,473.2L165.7,472.6L165.9,472.2L165.7,471.0L166.5,470.2L167.1,468.6L166.6,467.9L166.7,467.2L166.1,466.7L165.8,465.9L166.0,465.2L165.6,464.2L165.9,463.6L167.4,462.6L167.1,462.3L167.1,461.9L168.1,461.1L169.1,461.7L169.4,461.6L169.1,460.9L169.4,460.3L170.1,460.5L170.5,460.2L170.4,459.6L169.7,459.8L169.4,459.6L169.4,459.2L169.7,458.9L170.4,459.5L171.4,458.4L172.7,458.6L173.7,457.7L174.1,458.3L174.7,458.8L175.4,458.5L175.7,458.6L176.1,458.0L176.7,458.7L177.4,458.7L178.4,459.3L180.2,461.2L179.7,461.9L179.9,462.2L181.3,462.6L181.3,463.2L182.1,464.2L182.3,465.9L181.6,466.6L181.5,467.2L181.0,467.9L181.9,468.9L181.8,469.6L181.4,469.6L181.1,469.3L180.6,469.6L181.5,471.2L181.7,472.6L180.4,473.1L180.1,474.2L179.2,475.2L178.7,477.2L178.4,477.3L177.7,476.7L177.1,476.6L176.4,477.6Z' fill='#00a8ff'/>
<path d='M200.7,474.3L200.4,474.5L199.9,474.2L199.8,473.6L200.5,473.2L200.4,472.6L199.7,473.2L199.4,473.3L199.2,472.9L199.3,472.2L200.1,471.2L199.0,470.6L199.1,469.8L199.8,468.9L199.8,468.6L198.8,467.2L198.6,464.6L199.0,463.9L199.0,462.9L198.5,462.2L198.6,460.6L199.8,458.2L199.3,457.6L199.2,456.9L199.5,456.2L200.1,455.9L200.1,454.9L201.1,453.9L201.7,454.8L202.4,454.8L202.8,455.2L202.8,455.9L202.1,456.9L202.5,458.2L203.1,458.9L202.4,459.9L202.9,460.9L202.8,461.6L203.1,462.2L203.3,464.9L203.0,465.6L203.3,466.2L203.4,467.6L203.2,469.6L202.4,470.0L201.8,470.9L202.1,471.6L202.0,472.2L201.5,473.6L200.7,474.3ZM201.1,458.2L201.3,457.6L200.7,456.3L200.2,456.9L200.2,458.2L200.7,458.4L201.1,458.2ZM174.1,477.6L173.7,477.6L173.4,477.0L173.1,477.0L172.9,477.6L172.2,477.6L171.3,475.2L170.7,474.8L169.9,475.2L169.7,476.4L169.4,476.3L168.9,474.9L168.7,472.6L167.7,471.9L167.5,470.9L167.8,469.9L167.4,469.2L167.9,468.2L167.3,466.2L167.4,465.4L166.6,464.9L166.4,463.9L166.7,463.5L168.4,464.0L168.9,463.9L169.1,463.6L168.4,462.9L168.4,462.3L169.7,462.0L170.1,460.9L171.1,460.4L171.4,460.7L172.1,460.8L172.5,459.9L171.4,459.6L171.3,459.2L171.7,458.9L172.7,459.0L173.4,458.6L175.1,459.6L176.4,459.8L177.7,459.6L178.4,459.9L178.4,460.6L178.0,460.6L178.7,460.5L179.3,460.9L179.3,461.2L178.4,461.8L178.1,462.2L178.1,462.6L179.1,463.6L179.7,463.3L180.4,463.9L181.4,463.9L181.6,464.2L181.4,465.0L180.4,464.9L180.1,465.2L180.1,467.6L180.9,468.6L180.1,469.2L180.2,469.9L179.8,470.9L180.7,471.2L180.7,471.6L180.0,472.2L180.0,472.9L179.4,474.2L178.4,474.7L178.1,475.5L177.1,475.6L176.4,476.6L175.4,476.5L174.1,477.6Z' fill='#00e8e8'/>
<path d='M199.7,461.0L199.3,460.6L199.9,458.9L200.1,458.7L201.2,458.9L201.1,459.6L199.7,461.0ZM176.1,476.3L173.4,476.4L172.9,476.2L172.7,475.9L172.4,476.5L172.1,476.4L171.6,475.2L171.1,474.7L170.4,474.6L169.7,474.8L169.4,474.6L169.1,472.6L168.1,472.0L167.9,471.6L168.0,470.9L168.3,470.6L167.8,469.2L168.2,468.6L168.0,467.2L168.6,466.6L167.8,465.9L168.0,464.9L167.3,464.6L167.7,464.1L168.1,464.6L168.7,464.6L170.2,463.6L170.1,463.0L169.4,463.2L168.9,462.9L168.9,462.6L169.7,462.5L170.2,461.9L170.3,461.2L170.7,461.0L172.4,461.1L173.1,460.2L173.1,459.2L173.4,459.2L173.9,459.6L173.2,460.6L173.7,460.9L174.7,460.1L175.7,460.0L176.3,460.2L176.7,461.0L177.4,460.9L177.1,460.9L176.9,460.2L177.4,460.1L177.4,460.9L178.2,461.2L177.9,462.6L178.5,463.9L179.7,465.2L179.5,466.2L180.1,468.6L179.7,469.2L179.4,471.0L179.1,471.3L178.4,471.2L178.3,471.6L179.3,472.9L178.1,473.2L178.2,474.2L177.4,475.2L176.5,475.6L176.1,476.3ZM202.4,461.0L201.4,461.2L200.9,460.6L200.9,460.2L201.7,459.9L202.5,460.6L202.4,461.0ZM202.7,469.4L202.1,469.1L201.5,469.2L201.9,468.6L201.7,468.4L200.1,468.2L199.8,467.2L200.1,466.2L199.0,465.2L199.4,464.4L200.1,465.2L201.4,464.7L201.7,464.2L201.4,463.9L200.7,463.9L200.4,463.3L199.7,463.7L199.4,463.2L199.4,462.2L199.7,461.8L201.1,461.3L201.4,462.3L201.7,462.5L202.4,462.2L202.7,462.6L202.4,463.6L202.8,464.6L202.9,464.9L202.4,465.6L202.8,466.2L201.8,466.9L202.8,468.6L202.7,469.4ZM201.4,470.6L200.7,470.4L199.7,470.7L199.4,469.9L199.7,469.6L201.4,469.6L201.6,470.2L201.4,470.6Z' fill='#00f080'/>
<path d='M174.1,475.6L173.7,475.8L171.4,474.5L169.9,474.2L169.4,472.9L169.7,472.4L170.5,472.2L170.1,472.2L169.4,471.5L168.7,472.0L168.4,471.9L168.2,471.6L168.4,471.2L169.1,471.1L169.1,470.9L168.1,469.2L168.4,468.9L169.1,469.1L169.6,468.9L169.4,468.4L168.4,468.3L168.4,467.5L169.3,467.2L168.7,466.1L168.0,465.6L168.1,465.2L169.1,464.9L170.4,463.7L170.3,462.6L171.1,461.8L172.4,461.5L173.1,461.0L174.1,461.1L174.7,460.7L175.1,461.1L175.7,460.5L176.4,461.3L177.9,461.6L177.4,462.6L177.9,463.2L177.1,464.0L177.4,464.3L178.4,464.2L179.4,465.5L179.2,467.2L179.6,468.6L179.1,470.8L178.1,471.0L177.5,471.9L177.7,472.4L178.4,472.2L178.7,472.6L177.7,472.7L177.4,473.1L176.7,472.6L176.2,472.9L176.4,473.4L176.7,473.6L177.4,473.3L177.6,473.6L177.2,474.9L175.4,475.4L175.4,474.2L175.1,474.0L174.3,474.6L174.1,475.6ZM200.7,467.9L200.4,467.9L200.2,467.2L200.3,465.6L201.4,465.5L201.7,464.9L201.7,465.8L201.3,465.9L200.7,467.9Z' fill='#30f000'/>
<path d='M173.7,474.7L172.4,474.6L172.2,474.2L173.1,474.0L173.2,473.6L172.4,473.0L172.1,473.4L171.1,473.6L170.4,473.2L171.1,472.2L170.0,471.6L168.7,469.6L169.7,469.5L169.9,468.6L169.4,467.9L169.7,467.2L169.2,466.6L169.1,465.8L168.4,465.6L170.1,465.1L170.7,465.6L171.1,465.5L171.2,464.6L170.4,464.2L170.8,463.6L170.7,462.8L171.4,462.6L172.7,463.0L172.9,461.9L173.4,461.6L174.1,461.7L175.4,462.5L176.4,462.5L176.9,462.9L177.1,463.2L176.3,464.2L177.1,465.8L177.4,465.9L177.9,465.2L177.6,464.6L178.1,464.4L178.4,464.6L178.1,465.2L178.9,465.9L177.7,466.0L177.5,466.9L177.7,467.3L178.7,467.7L179.1,468.6L178.8,470.2L177.0,470.9L177.0,472.2L176.0,472.9L176.3,473.9L176.1,474.2L175.1,473.8L173.7,474.7Z' fill='#b8f000'/>
<path d='M174.4,473.9L173.7,474.0L172.8,472.9L172.6,472.2L171.7,472.1L170.4,471.3L169.4,470.2L170.2,469.6L170.4,468.6L169.4,466.1L169.7,465.6L170.1,465.5L171.1,466.2L171.3,465.9L171.7,464.6L171.1,463.9L171.4,463.4L172.1,463.2L173.1,463.9L173.4,463.3L174.1,463.5L174.6,463.9L174.7,465.0L175.7,464.5L176.1,464.7L177.6,467.6L177.1,468.6L178.1,469.6L177.7,470.2L177.1,470.4L176.1,471.3L174.9,470.9L175.1,471.6L176.5,471.9L175.7,472.8L175.1,472.7L173.4,470.9L173.1,471.2L172.9,471.9L173.1,472.2L173.7,472.8L174.9,473.2L175.0,473.6L174.4,473.9Z' fill='#ffd000'/>
<path d='M174.4,471.6L173.4,470.7L173.0,470.9L172.7,471.7L172.1,471.8L170.7,470.9L170.1,470.7L169.8,470.2L170.7,469.2L170.7,468.2L169.6,466.2L170.1,465.9L170.7,466.3L171.1,467.2L171.4,467.0L171.9,464.9L171.8,463.9L172.1,463.6L172.4,463.6L173.1,464.3L173.7,464.2L173.7,463.8L174.1,463.9L174.4,464.6L173.9,465.6L174.1,465.9L174.4,465.9L175.4,465.0L176.1,465.1L177.3,467.6L176.7,468.5L175.4,468.3L175.3,469.2L174.7,469.9L175.1,470.1L175.7,469.3L177.4,469.2L177.8,469.6L177.7,469.9L175.7,471.0L175.1,470.4L174.7,470.5L174.4,471.6Z' fill='#ff8000'/>
<path d='M172.1,465.9L172.4,464.0L173.1,464.6L174.1,464.6L173.7,465.5L173.1,465.4L172.1,465.9ZM172.4,471.6L171.4,470.3L170.5,469.9L171.0,469.6L171.0,467.6L172.1,466.3L173.4,466.8L173.7,466.3L174.4,466.1L175.4,465.3L176.1,465.4L177.2,467.6L177.1,467.9L176.4,468.3L175.4,467.7L174.7,469.1L174.2,468.6L174.1,467.6L173.7,467.3L173.4,467.9L174.4,469.2L174.4,470.6L174.1,471.0L173.4,470.5L172.4,471.6ZM176.4,470.3L175.5,470.2L175.7,469.6L177.4,469.6L176.4,470.3Z' fill='#ff1000'/>
<path transform='translate(164.4,420.9) scale(0.25)' d='M154 91h0M97 171h0M114 93h0M82 213h0M148 15h0M184 205h0M147 57h0M88 32h0M9 125h0M35 41h0M73 97h0M50 122h0M41 41h0M65 121h0M118 101h0M144 42h0M127 99h0M47 103h0M169 172h0M140 49h0M105 40h0M159 79h0M54 105h0M82 85h0M108 142h0M96 47h0M97 80h0M141 46h0M183 72h0M42 61h0M7 139h0M53 121h0M130 111h0M115 53h0M108 47h0M189 78h0M104 172h0M166 118h0M108 193h0M52 123h0M167 65h0M108 114h0M107 213h0M96 78h0M40 98h0M16 130h0M180 192h0M173 176h0M125 32h0M48 91h0M43 39h0M121 5h0M117 144h0M28 99h0M98 25h0M161 83h0M144 75h0M132 23h0M156 113h0M114 65h0M170 148h0M10 133h0M109 90h0M41 4h0M96 104h0M104 31h0M80 142h0M64 44h0M99 199h0M187 205h0M77 26h0M72 57h0M102 162h0M178 132h0M161 102h0M223 132h0M115 153h0M142 46h0M98 50h0M50 114h0M19 119h0M82 45h0M127 134h0M91 147h0M103 94h0M74 122h0M172 186h0M124 26h0M23 133h0M120 24h0M37 66h0M125 104h0M134 88h0M76 118h0M171 72h0M176 161h0M72 71h0M22 118h0M98 8h0M74 35h0M102 107h0M73 128h0M147 49h0M152 19h0M95 129h0M105 151h0M89 144h0M107 78h0M140 97h0M83 52h0M33 60h0M196 46h0M77 49h0M119 195h0M119 44h0M161 39h0M69 77h0M99 43h0M139 50h0M163 146h0M107 57h0M66 47h0M110 64h0M94 73h0M51 74h0M7 121h0M79 66h0M179 170h0M81 98h0M76 51h0M145 36h0M98 43h0M115 152h0M154 77h0M46 50h0M101 126h0M22 102h0M133 62h0M152 61h0M117 211h0M104 128h0M107 75h0M109 38h0M38 103h0M88 38h0M112 15h0M116 202h0M96 39h0M104 162h0M92 187h0M129 131h0M47 113h0M95 60h0M170 119h0M110 45h0M123 34h0M65 125h0M26 104h0M118 65h0M99 199h0M131 79h0M88 53h0M27 124h0M69 4h0M85 102h0M68 29h0M102 129h0M112 67h0M90 140h0M108 161h0M32 63h0M104 60h0M49 123h0M95 225h0M73 109h0M185 149h0M107 107h0M57 128h0M124 216h0M127 67h0M106 82h0M133 70h0M96 95h0M193 183h0M39 46h0M137 66h0M88 23h0M113 179h0M86 64h0M108 113h0M170 120h0M97 200h0M61 56h0M100 166h0M118 162h0M172 214h0M163 112h0M10 120h0M52 84h0M113 30h0M70 124h0M24 67h0M69 108h0M130 41h0M110 189h0M107 157h0M67 74h0M2 90h0M94 174h0M166 147h0M164 108h0M54 49h0M57 22h0M163 146h0M66 118h0M92 145h0M33 50h0M110 38h0M45 108h0M84 100h0M80 65h0M24 43h0M59 70h0M93 147h0M19 115h0M107 189h0M174 135h0M105 74h0M132 88h0M184 225h0M225 35h0M123 35h0M124 83h0M31 116h0M75 51h0M90 207h0M162 76h0M64 107h0M88 206h0M120 159h0M68 126h0M105 71h0M101 161h0M20 129h0M141 48h0M73 41h0M94 139h0M70 92h0M5 46h0M89 64h0M26 92h0M160 114h0M150 28h0M48 49h0M56 69h0M120 16h0M102 185h0M165 121h0M85 10h0M41 71h0M167 173h0M146 18h0M132 14h0M15 111h0M83 58h0M98 61h0M190 182h0M109 40h0M0 168h0M91 205h0M93 54h0M108 193h0M184 176h0M24 48h0M138 61h0M2 103h0M98 136h0M79 34h0M96 148h0M173 219h0M70 119h0M1 166h0M180 171h0M98 128h0M64 51h0M55 10h0M122 55h0M88 37h0M119 147h0M42 121h0M101 184h0M175 84h0M189 173h0M178 84h0M72 31h0M178 143h0M158 109h0M26 37h0M106 186h0M178 126h0M114 115h0M59 128h0M89 145h0M18 94h0M137 10h0M106 198h0M121 146h0M134 85h0M69 94h0M178 188h0M130 62h0M53 74h0M172 174h0M44 103h0M19 118h0M45 4h0M184 211h0M107 127h0M178 159h0M113 177h0M96 84h0M174 224h0M122 141h0M149 63h0M176 189h0M62 15h0M187 120h0M79 6h0M86 71h0M102 103h0M85 87h0M117 39h0M67 15h0M120 134h0M68 118h0M135 46h0M147 97h0M32 127h0M110 152h0M115 133h0M191 115h0M70 68h0M25 39h0M109 87h0M83 34h0M67 65h0M162 80h0M79 33h0M49 60h0M107 32h0M111 150h0M136 40h0M181 151h0M94 2h0M47 86h0M168 139h0M37 84h0M169 162h0M185 196h0M94 66h0M69 97h0M202 201h0M113 5h0M157 105h0M106 208h0M176 214h0M58 54h0M111 209h0M169 108h0M10 124h0M109 135h0M15 93h0M93 168h0M48 129h0M43 95h0M122 135h0M145 10h0M46 53h0M64 50h0M116 136h0M172 161h0M27 97h0M54 96h0M19 59h0M40 15h0M16 127h0M169 226h0M93 67h0M101 73h0M43 120h0M58 36h0M85 17h0M125 136h0M47 118h0M117 148h0M173 163h0M170 167h0M65 122h0M44 44h0M91 182h0M76 48h0M173 203h0M102 138h0M22 127h0M85 71h0M52 33h0M34 76h0M137 69h0M78 24h0M39 4h0M77 20h0M71 36h0M88 216h0M129 56h0M114 179h0M143 71h0M91 188h0M26 67h0M73 27h0M108 90h0M64 38h0M112 157h0M174 161h0M221 137h0M127 53h0M94 129h0M105 39h0M91 100h0M82 133h0M70 94h0M5 140h0M55 15h0M107 142h0M111 38h0M181 11h0M130 76h0M102 148h0M107 58h0M137 83h0M0 143h0M197 66h0M51 69h0M3 145h0M59 20h0M90 170h0M142 44h0M57 91h0M117 92h0M115 143h0M86 63h0M122 42h0M173 164h0M131 84h0M100 218h0M92 24h0M90 189h0M50 43h0M107 8h0M104 188h0M110 109h0M60 116h0M67 101h0M108 21h0M107 145h0M55 65h0M132 107h0M111 144h0M32 114h0M115 104h0M166 146h0M71 38h0M190 22h0M28 68h0M155 18h0M97 62h0M132 106h0M77 29h0M113 101h0M173 183h0M129 24h0M3 27h0M86 134h0M97 145h0M111 122h0M91 45h0M132 5h0M71 123h0M134 65h0M86 16h0M81 134h0M33 6h0M79 80h0M145 89h0M71 65h0M70 65h0M168 88h0M50 118h0M9 98h0M102 216h0M171 173h0M112 220h0M24 90h0M109 172h0M104 48h0M32 111h0M16 116h0M36 110h0M122 160h0M180 148h0M167 151h0M119 228h0M154 56h0M100 19h0M90 149h0M112 62h0M105 124h0M94 196h0M44 48h0M109 45h0M168 182h0M95 38h0M106 190h0M120 141h0M119 69h0M172 80h0M115 141h0M151 92h0M88 27h0M58 47h0M113 219h0M137 80h0M159 84h0M157 54h0M188 87h0M124 199h0M84 30h0M222 127h0M73 89h0M95 185h0M67 35h0M110 62h0M91 28h0M47 29h0M74 20h0M90 6h0M123 49h0M105 163h0M79 98h0M172 201h0M191 103h0M45 31h0M132 76h0M103 98h0M49 47h0M102 164h0M42 116h0M106 159h0M106 101h0M118 61h0M181 206h0M59 124h0M29 115h0M84 87h0M140 43h0M178 178h0M80 65h0M64 126h0M174 224h0M154 90h0M106 115h0M113 176h0M131 53h0M134 68h0M107 193h0M63 109h0M171 132h0M91 92h0M102 138h0M144 76h0M99 64h0M126 10h0M136 116h0M103 135h0M98 42h0M95 130h0M177 153h0M91 45h0M33 122h0M110 66h0M187 157h0M101 157h0M108 139h0M57 107h0M113 109h0M62 83h0M10 121h0M90 24h0M47 123h0M60 32h0M124 99h0M47 128h0M63 76h0M122 85h0M192 198h0M175 223h0M181 217h0M68 109h0M92 121h0M64 134h0M143 32h0M171 153h0M102 121h0M172 172h0M115 67h0M112 52h0M181 174h0M52 31h0M124 71h0M210 49h0M63 5h0M172 180h0M90 141h0M121 110h0M135 40h0M179 123h0M105 82h0M82 31h0M65 115h0M123 137h0M119 96h0M102 120h0M98 200h0M121 57h0M94 143h0M55 69h0M118 138h0M116 20h0M171 157h0M183 108h0M121 56h0M109 147h0M79 131h0M139 33h0M11 124h0M86 63h0M98 176h0M169 209h0M64 52h0M95 142h0M103 69h0M112 138h0M89 108h0M57 125h0M98 223h0M113 19h0M101 50h0M177 156h0M167 181h0M111 159h0M98 25h0M84 18h0M136 19h0M76 107h0M22 118h0M51 43h0M80 33h0M37 124h0M77 23h0M129 40h0M17 122h0M96 29h0M172 185h0M120 115h0M80 58h0M119 61h0M165 58h0M55 116h0M98 187h0M140 89h0M62 127h0M31 22h0M173 134h0M91 203h0M95 40h0M127 74h0M73 61h0M19 123h0M157 72h0M42 120h0M37 49h0M124 11h0M101 177h0M175 151h0M30 51h0M107 137h0M104 1h0M70 71h0M123 65h0M72 126h0M172 223h0M81 55h0M89 80h0M65 8h0M130 118h0M74 72h0M97 83h0M110 174h0M62 49h0M81 59h0M145 87h0M201 59h0M125 160h0M180 10h0M121 47h0M123 66h0M118 9h0M103 198h0M77 110h0M117 117h0M43 44h0M107 176h0M106 7h0M172 228h0M106 159h0M179 147h0M23 70h0M84 78h0M94 138h0M96 224h0M47 40h0M29 41h0M68 119h0M90 115h0M85 216h0M87 18h0M88 223h0M172 138h0M172 109h0M120 219h0M47 127h0M185 140h0M100 182h0M170 138h0M78 84h0M51 108h0M102 146h0M110 165h0M15 52h0M57 86h0M141 10h0M176 132h0M95 187h0M112 30h0M34 58h0M41 114h0M102 160h0M160 95h0M99 161h0M119 128h0M112 174h0M47 125h0M114 147h0M151 20h0M168 207h0M59 32h0M47 34h0M74 70h0M91 186h0M150 91h0M113 54h0M126 85h0M159 102h0M39 122h0M188 65h0' stroke='#0000ff' stroke-opacity='0.6' stroke-width='2.0' stroke-linecap='square' fill='none'/>
</g>
<path d='M164.4,420.9 L221.8,420.9 L221.8,478.2' fill='none' stroke='#8f8f8f' stroke-width='0.9'/>
<path d='M164.4,420.9 L164.4,478.2 L221.8,478.2' fill='none' stroke='#b0b0b0' stroke-width='0.8' stroke-dasharray='0.8,0.7'/>
<line x1='163.5' y1='424.9' x2='165.3' y2='424.9' stroke='#777' stroke-width='0.6' />
<line x1='163.5' y1='437.22499999999997' x2='165.3' y2='437.22499999999997' stroke='#777' stroke-width='0.6' />
<line x1='163.5' y1='449.54999999999995' x2='165.3' y2='449.54999999999995' stroke='#777' stroke-width='0.6' />
<line x1='163.5' y1='461.875' x2='165.3' y2='461.875' stroke='#777' stroke-width='0.6' />
<line x1='163.5' y1='474.2' x2='165.3' y2='474.2' stroke='#777' stroke-width='0.6' />
<line x1='168.4' y1='477.3' x2='168.4' y2='479.09999999999997' stroke='#777' stroke-width='0.6' />
<line x1='180.75' y1='477.3' x2='180.75' y2='479.09999999999997' stroke='#777' stroke-width='0.6' />
<line x1='193.1' y1='477.3' x2='193.1' y2='479.09999999999997' stroke='#777' stroke-width='0.6' />
<line x1='205.45' y1='477.3' x2='205.45' y2='479.09999999999997' stroke='#777' stroke-width='0.6' />
<line x1='217.8' y1='477.3' x2='217.8' y2='479.09999999999997' stroke='#777' stroke-width='0.6' />
<line x1='164.4' y1='466.74' x2='164.4' y2='468.94' stroke='#111' stroke-width='1.2' />
<line x1='168.418' y1='478.2' x2='175.88' y2='478.2' stroke='#555' stroke-width='1.0' />
<clipPath id='c26'><rect x='225.5' y='420.9' width='57.4' height='57.3'/></clipPath>
<g clip-path='url(#c26)'>
<path d='M271.2,477.6L265.2,477.9L248.8,477.7L236.2,477.9L225.5,477.8L225.2,477.6L225.4,451.9L225.5,451.6L226.2,452.0L226.6,451.9L226.7,451.6L226.3,450.9L226.4,450.2L226.8,449.9L227.8,450.1L228.1,449.9L228.2,448.7L228.8,448.6L229.8,449.3L230.1,448.2L230.8,447.8L230.9,446.9L232.4,445.9L232.5,444.4L234.2,446.4L234.8,445.9L234.8,445.5L233.9,445.2L234.0,444.2L234.9,443.6L234.9,442.9L233.6,442.6L234.5,441.5L234.7,440.6L233.5,440.1L232.9,439.2L234.0,438.2L234.1,437.9L233.9,436.2L232.5,434.9L232.8,434.4L233.3,434.6L233.5,434.2L232.9,433.6L232.9,432.2L233.3,431.2L232.4,430.2L233.5,428.7L235.2,428.5L235.3,428.2L234.5,427.2L235.5,426.2L235.1,425.6L236.0,424.6L236.5,423.2L238.2,422.9L237.8,423.6L238.2,424.1L241.1,422.9L241.3,421.9L242.2,421.7L242.8,421.9L243.2,423.1L243.5,423.3L244.5,422.3L245.2,422.8L246.5,421.0L247.2,421.4L247.8,423.1L248.2,423.2L248.5,421.9L248.0,420.9L249.0,420.9L249.2,421.2L249.9,421.2L250.5,421.8L251.2,421.9L251.5,422.6L252.8,423.5L253.2,422.8L254.6,423.2L255.2,424.2L255.8,424.6L256.3,426.9L257.1,427.6L257.5,429.0L257.8,429.1L258.2,428.6L259.5,428.2L259.3,429.6L259.8,430.0L260.2,429.8L260.5,428.9L261.8,428.9L262.8,428.4L264.2,429.7L264.8,429.6L265.1,429.9L264.8,430.6L265.0,431.2L266.4,432.6L266.5,433.5L267.2,433.6L267.6,434.2L267.3,435.2L267.7,435.9L267.8,437.6L268.2,438.2L267.5,438.9L268.2,439.6L268.2,440.9L268.8,441.9L269.0,443.6L268.7,444.6L270.4,445.9L270.4,446.2L269.8,446.9L271.2,448.0L272.2,450.6L271.8,451.6L271.2,451.2L270.8,451.6L272.4,452.9L272.2,453.5L271.9,453.6L272.3,454.2L272.4,454.9L272.0,455.6L272.0,456.9L271.5,457.2L272.4,458.6L272.0,459.9L272.6,461.2L272.6,462.9L272.5,463.5L272.2,463.1L271.8,463.6L271.9,465.2L272.5,466.2L271.8,467.2L272.6,468.9L272.3,469.6L272.5,470.2L272.3,471.9L271.8,472.8L271.5,473.1L270.8,472.8L270.5,473.2L270.8,473.9L271.2,474.0L271.8,473.1L272.5,473.9L272.5,474.3L271.8,474.5L271.6,474.9L271.8,476.2L271.2,477.6ZM237.8,426.9L237.8,425.6L238.2,424.9L237.8,424.6L237.2,424.7L236.3,425.9L237.5,427.2L237.8,426.9ZM253.5,427.2L254.2,425.9L255.2,426.4L255.5,426.2L255.2,425.6L254.5,425.5L253.8,426.2L253.2,426.3L253.0,426.9L253.2,427.3L253.5,427.2Z' fill='#0000ff' fill-opacity='0.1'/>
<path d='M246.5,424.9L245.2,425.2L244.4,424.2L244.8,424.1L245.5,424.4L246.2,424.4L246.5,424.6L246.5,424.9ZM270.2,477.6L262.5,477.9L252.2,477.8L248.8,477.4L247.5,477.8L236.2,477.9L225.5,477.8L225.3,477.6L225.3,459.2L225.5,455.5L226.0,454.9L225.5,455.1L225.5,453.8L226.2,453.1L227.2,453.1L227.5,452.9L227.7,452.2L228.5,451.1L230.2,450.9L230.5,451.2L230.3,451.6L230.6,451.9L232.8,448.2L233.5,448.0L234.5,448.4L235.5,447.3L235.8,447.4L236.2,447.8L237.2,448.0L237.5,447.9L238.2,446.9L238.8,447.4L239.5,447.1L239.8,446.9L239.5,446.3L238.8,446.4L238.1,445.9L238.0,444.6L237.6,444.2L237.5,443.8L238.2,444.1L239.2,443.1L240.1,442.9L239.9,443.9L239.1,444.6L239.8,445.9L240.2,445.9L241.0,445.2L241.4,443.9L242.3,443.2L242.2,442.5L241.2,442.3L240.5,440.2L239.0,438.6L239.3,437.2L239.2,436.6L239.1,436.9L238.0,437.6L237.5,437.6L237.8,436.9L237.2,435.9L237.5,435.0L238.5,434.8L239.5,435.4L239.7,435.2L239.3,434.6L239.5,431.9L238.8,431.0L238.3,431.2L238.2,431.9L238.9,433.2L237.5,434.7L237.1,434.2L237.4,433.2L237.2,432.7L236.5,433.0L235.9,432.9L236.5,432.2L237.2,432.5L237.4,431.9L237.2,430.9L238.7,430.2L238.6,429.2L239.2,428.6L239.7,428.9L239.3,429.9L240.9,431.2L241.0,430.9L240.9,429.6L240.2,428.2L241.0,427.2L240.3,426.6L240.5,426.1L241.5,426.2L241.8,427.1L242.8,426.2L243.2,425.1L243.9,425.6L243.8,426.6L244.8,427.2L245.4,426.9L245.8,425.9L246.2,425.9L246.4,426.2L246.0,426.9L246.2,427.7L247.0,427.6L247.1,426.6L247.5,426.3L248.1,426.6L248.5,427.3L250.8,427.5L251.3,427.9L251.0,428.6L251.5,429.3L252.9,429.2L252.9,430.2L253.3,430.9L252.9,431.6L253.0,431.9L254.2,431.9L254.6,432.2L254.2,432.9L254.5,433.6L254.2,433.8L253.5,434.0L252.5,433.2L251.6,433.9L252.5,434.6L253.5,434.5L253.8,434.9L253.8,435.6L252.8,435.9L253.5,436.3L253.8,437.2L254.6,437.9L254.1,438.9L254.2,439.5L255.8,440.1L256.2,440.6L255.5,440.7L253.8,440.1L253.5,440.2L253.2,441.1L252.2,441.7L251.1,441.2L250.1,441.2L249.9,441.6L250.7,442.2L249.0,444.6L249.2,445.1L249.6,445.2L249.5,445.6L248.9,445.6L248.8,446.2L247.3,447.2L247.0,447.9L247.3,448.6L247.0,448.9L247.0,449.2L247.8,450.2L248.8,449.9L249.2,450.2L250.5,450.2L250.8,450.5L250.6,451.2L251.2,452.6L251.8,452.6L252.2,452.0L252.7,452.6L252.5,453.6L253.3,454.6L253.5,455.6L253.8,455.9L253.5,457.0L254.0,456.9L253.9,455.9L254.6,454.6L254.0,453.9L254.1,451.9L254.8,451.7L255.4,452.2L255.5,453.2L255.8,453.2L256.0,452.9L256.0,452.2L256.3,451.9L255.8,450.9L255.9,450.2L257.1,448.6L257.3,447.6L257.0,446.9L257.8,446.2L258.0,444.9L257.6,444.2L258.2,443.6L257.9,442.2L257.5,441.6L257.6,440.6L258.9,438.9L258.6,438.6L258.7,437.9L259.2,437.8L259.5,438.3L259.8,438.3L260.3,437.9L259.4,436.6L260.8,435.6L260.3,434.6L260.5,434.0L261.5,433.6L262.0,432.6L263.2,431.8L263.4,432.2L263.4,433.2L263.9,433.2L264.5,432.8L265.0,433.2L264.7,434.2L264.8,434.6L266.1,434.6L266.5,435.9L265.5,436.5L265.3,436.9L265.8,437.1L266.2,437.6L266.4,438.6L266.1,439.6L267.2,439.9L267.5,440.2L267.6,441.9L268.3,443.2L268.2,443.7L267.2,443.6L267.1,443.9L268.8,445.3L268.8,446.9L269.4,447.6L269.1,448.2L269.8,449.2L270.1,450.2L270.5,450.6L270.1,451.9L270.6,452.6L270.2,455.2L270.6,456.2L270.5,457.6L270.7,458.6L270.1,459.9L270.5,460.3L271.2,459.9L271.5,460.6L270.7,462.6L271.1,463.2L271.2,465.2L270.9,465.9L271.1,466.6L270.4,469.2L270.6,469.9L270.0,472.6L270.4,474.6L270.3,475.9L269.8,476.9L270.2,477.6ZM249.4,442.9L249.2,442.3L248.7,442.2L248.5,441.9L248.7,441.2L247.7,440.9L247.5,442.1L249.2,443.1L249.4,442.9ZM247.0,445.9L247.2,445.5L248.2,445.5L248.5,445.2L247.2,443.1L246.8,443.2L247.2,444.2L246.5,445.6L247.0,445.9ZM243.8,447.2L243.5,446.5L241.8,446.6L241.9,446.9L242.5,447.1L243.5,447.4L243.8,447.2ZM249.2,449.3L248.5,449.2L247.9,448.6L248.5,447.3L249.2,447.6L249.6,448.9L249.2,449.3Z' fill='#0000ff' fill-opacity='0.2'/>
<path d='M245.8,438.0L245.5,438.1L244.9,437.2L245.2,436.8L246.2,436.5L246.3,436.2L246.2,435.7L245.2,435.7L244.3,434.9L243.2,435.0L242.5,434.4L241.8,434.7L241.3,434.2L241.6,433.6L241.4,432.9L242.2,432.2L242.5,431.5L243.2,431.4L243.7,431.6L243.4,432.6L243.8,432.8L244.7,432.2L244.8,430.6L244.3,429.9L244.5,429.2L244.1,429.9L242.8,430.8L242.2,430.6L242.1,430.2L243.2,429.2L243.3,428.9L242.6,427.9L243.2,427.2L243.8,428.9L244.8,429.1L246.8,428.2L247.3,428.9L246.5,429.7L245.8,429.6L245.6,429.9L245.8,430.2L247.5,430.0L247.8,430.3L247.9,430.6L247.5,431.1L245.3,430.9L245.6,431.6L246.2,432.1L247.8,432.1L248.6,433.6L248.5,434.6L248.2,434.9L247.7,434.6L247.2,433.0L246.8,433.2L246.3,434.9L247.3,435.2L247.6,435.9L247.6,436.9L245.8,438.0ZM268.5,477.6L262.5,477.9L256.2,477.7L255.2,477.4L254.2,477.7L251.8,477.7L250.4,477.6L249.5,476.4L248.5,476.9L248.3,477.6L247.5,477.7L225.5,477.8L225.3,477.6L225.4,459.2L225.5,457.5L226.0,457.2L225.7,456.6L226.2,455.9L226.8,455.8L227.4,454.2L228.2,453.7L228.8,453.7L229.5,454.6L229.8,454.3L230.0,453.9L229.2,453.2L229.0,452.6L229.8,452.2L230.8,452.4L232.3,450.9L232.1,450.2L232.5,449.6L232.8,449.6L233.2,450.1L234.8,450.7L235.2,449.4L235.8,449.7L237.2,449.7L237.5,449.9L237.0,450.9L237.2,451.2L237.9,450.9L238.1,450.6L237.9,449.9L238.2,449.2L238.3,448.9L238.8,448.8L239.3,449.2L239.4,450.2L240.0,450.6L240.2,450.9L239.9,449.9L240.2,449.5L241.1,449.9L241.5,450.8L241.8,450.8L242.5,449.9L242.3,448.9L243.2,448.2L245.1,449.6L243.9,451.2L244.2,452.1L244.7,451.9L245.8,450.6L245.9,449.9L246.5,449.7L247.2,449.9L247.4,450.6L247.2,450.8L246.1,450.9L245.9,451.9L246.2,452.5L246.8,452.7L247.8,453.7L249.5,453.9L249.7,454.2L249.7,454.9L249.2,455.3L248.8,456.6L249.5,457.0L250.8,457.1L251.2,456.9L251.0,455.9L251.2,455.6L252.0,456.2L251.5,457.2L252.2,457.5L252.8,457.3L254.0,457.6L254.0,459.2L254.5,459.3L255.3,458.6L255.4,457.6L255.2,456.6L254.7,456.2L254.7,455.6L255.2,455.1L255.8,455.3L256.5,455.0L256.7,454.2L257.5,452.9L257.3,451.6L257.8,451.2L257.6,449.9L258.5,448.9L258.6,447.9L257.9,447.2L257.9,446.9L258.6,446.2L259.1,443.6L260.1,441.9L260.0,441.2L259.5,440.6L259.6,440.2L260.2,440.0L260.8,440.7L261.2,440.6L260.8,439.8L260.2,439.6L259.9,438.9L261.5,437.5L263.2,437.9L263.6,437.6L263.5,437.3L262.5,436.9L262.5,435.9L261.9,434.9L263.2,434.7L264.4,435.6L264.7,436.6L264.5,437.2L265.8,438.6L265.5,439.6L265.8,440.0L266.8,440.1L267.1,440.6L267.0,441.6L267.9,442.9L267.6,443.2L266.7,443.2L266.5,443.6L268.3,445.6L268.1,446.9L268.8,447.6L268.4,448.6L269.3,449.2L269.6,450.9L269.4,452.2L269.9,452.9L269.8,455.6L269.5,456.2L270.4,458.6L269.5,459.9L270.4,461.9L270.1,462.9L270.4,463.6L269.5,465.6L269.7,467.2L270.1,467.9L269.5,473.9L269.8,474.9L269.7,475.9L269.7,476.2L268.5,477.6ZM249.8,440.7L249.5,440.9L247.4,439.6L248.2,438.7L248.8,438.4L249.1,438.6L248.5,439.2L248.9,439.9L250.0,440.6L249.8,440.7ZM250.4,460.9L250.7,460.2L250.5,459.7L250.2,459.5L249.4,459.9L249.5,460.7L250.2,461.1L250.4,460.9ZM253.6,465.6L254.3,464.6L254.5,463.6L255.2,463.0L255.5,462.2L255.2,461.6L254.6,462.6L254.4,463.6L253.8,463.8L253.5,463.6L254.0,462.6L253.5,462.1L253.0,462.2L252.5,463.2L252.7,463.9L252.6,465.2L253.6,465.6Z' fill='#0000ff' fill-opacity='0.3'/>
<path d='M263.8,436.9L263.2,436.9L262.9,436.6L262.8,435.1L263.8,435.6L264.1,436.6L263.8,436.9ZM268.2,477.6L262.5,477.8L256.2,477.6L255.8,477.6L255.5,477.0L254.5,477.2L254.4,477.6L253.8,477.6L253.9,477.2L253.5,476.7L253.1,476.9L252.8,477.6L252.2,477.6L251.4,477.6L251.3,476.9L251.5,476.4L252.5,475.9L252.8,475.4L253.2,475.4L253.8,476.0L254.5,475.9L255.0,474.6L254.5,473.9L254.9,472.6L254.5,472.2L253.8,472.6L253.5,473.5L252.2,473.2L252.0,472.9L252.3,472.2L252.3,471.2L252.8,470.6L252.8,468.9L252.2,467.2L252.5,467.0L255.3,466.9L254.4,468.9L254.8,469.1L256.8,467.1L257.2,466.2L256.9,465.2L256.4,464.9L256.7,463.9L256.2,463.8L255.2,464.3L255.0,463.9L256.2,461.6L256.5,461.5L257.5,461.9L257.7,461.2L257.2,460.3L256.8,460.2L256.2,461.4L255.5,461.1L255.2,460.9L255.1,460.6L255.4,460.2L255.1,459.6L255.6,458.9L255.8,457.8L256.8,457.2L256.5,456.7L255.8,456.4L255.7,455.9L256.2,455.8L256.8,456.5L257.8,456.2L258.3,454.6L258.1,453.2L259.1,452.2L258.5,451.9L258.2,450.6L259.1,449.2L259.6,447.9L259.1,446.9L259.3,444.6L259.6,443.2L260.3,442.6L260.5,441.6L261.6,440.9L261.5,439.6L260.4,438.9L261.2,438.5L262.8,439.3L263.4,438.9L263.8,437.9L264.2,437.7L265.3,438.9L265.3,439.9L266.0,440.6L265.7,441.2L267.2,442.6L267.2,442.9L266.5,442.9L266.2,443.2L266.2,444.2L266.8,444.5L267.9,445.6L267.8,446.9L268.3,447.9L267.9,448.6L268.9,449.6L268.8,450.2L269.0,450.9L268.6,451.9L269.5,454.6L268.9,456.9L269.8,458.9L269.0,459.9L269.6,460.9L269.9,461.9L269.0,463.9L269.4,464.9L269.1,465.6L269.2,467.2L269.7,467.9L269.3,469.9L269.5,471.6L269.1,472.6L269.3,475.9L269.2,476.3L268.5,476.4L268.4,477.6L268.2,477.6ZM247.8,477.6L236.2,477.8L225.3,477.6L225.3,468.2L225.5,467.3L225.9,466.9L225.5,466.5L225.4,465.9L225.5,461.9L225.7,461.2L225.5,458.9L225.5,458.7L226.1,458.6L225.8,457.9L226.5,457.7L227.0,456.9L227.8,454.5L228.5,454.3L229.5,454.9L230.2,454.2L230.5,453.2L231.5,452.1L232.8,451.7L233.6,451.9L233.3,452.6L233.8,453.2L233.9,452.2L235.2,451.2L235.8,450.2L237.0,450.2L236.6,450.9L236.8,451.2L237.5,451.4L238.6,450.9L238.5,449.8L238.8,450.0L239.0,450.9L240.2,451.6L240.8,451.4L241.5,451.6L242.8,450.3L243.5,450.0L243.9,450.2L243.5,451.2L243.5,453.2L242.7,454.2L242.9,454.6L243.4,454.9L243.8,454.7L244.4,453.9L244.8,452.6L245.5,452.4L245.8,453.0L246.9,453.2L247.8,455.2L248.5,455.5L248.4,456.6L248.7,456.9L252.2,458.4L251.2,459.7L250.2,458.9L250.3,458.2L249.8,457.8L249.5,458.2L250.1,458.9L249.0,459.9L250.5,462.9L249.7,463.9L250.1,464.9L249.8,465.4L249.0,465.2L248.7,466.6L249.2,466.8L249.8,465.8L250.3,466.6L249.3,467.2L249.8,467.9L249.5,468.5L249.2,468.5L248.8,467.6L248.0,467.9L247.9,468.6L248.2,469.1L248.8,469.5L249.1,469.9L248.2,470.6L248.2,470.9L247.7,471.2L248.2,472.0L248.8,471.9L248.6,470.9L249.2,470.7L249.3,470.2L249.9,470.2L250.2,470.6L250.0,471.6L251.1,473.2L250.3,473.9L249.8,474.8L249.5,475.0L248.8,474.8L248.2,475.2L248.8,476.2L248.5,476.5L247.8,476.3L247.5,476.5L247.5,476.9L248.1,477.6L247.8,477.6ZM247.2,456.9L247.2,456.5L246.1,455.9L246.4,454.9L245.1,454.9L245.0,455.2L245.8,456.7L246.8,457.1L247.2,456.9ZM251.8,465.4L251.3,465.2L250.9,464.6L251.0,463.9L251.5,463.6L251.8,463.6L252.2,464.2L252.2,464.9L251.8,465.4ZM254.9,471.6L255.9,470.9L255.2,470.3L254.4,470.9L254.9,471.6ZM256.9,474.6L257.5,473.2L257.2,472.6L256.8,472.4L256.4,473.2L256.8,474.7L256.9,474.6ZM251.8,475.7L250.8,475.7L250.6,474.9L250.8,474.6L251.8,474.6L252.5,474.2L252.8,474.6L252.6,475.2L251.8,475.7Z' fill='#0000f4'/>
<path d='M267.5,477.6L262.5,477.8L259.4,477.6L259.4,476.6L258.5,475.9L258.8,474.9L258.7,473.6L259.2,472.9L258.8,471.9L259.3,470.6L259.2,468.2L258.8,467.2L259.2,464.9L258.8,464.2L259.9,461.9L259.8,461.4L259.5,461.3L259.2,462.8L258.6,462.2L258.6,460.9L259.1,459.9L258.5,457.9L259.2,456.9L259.0,456.2L260.0,453.9L259.4,453.2L260.4,451.2L260.3,450.2L259.8,449.6L260.5,447.6L260.4,446.9L262.0,444.9L261.8,443.2L262.6,442.2L263.5,441.8L264.2,441.9L264.0,442.6L264.4,443.9L264.5,445.6L265.8,445.6L266.2,446.6L266.8,447.2L266.7,450.2L267.8,452.9L267.8,453.2L267.2,453.9L267.8,455.2L267.6,455.9L267.7,457.6L267.4,458.2L267.7,460.9L267.3,462.6L268.1,463.6L267.7,465.2L268.4,466.6L268.2,467.0L267.5,467.1L267.3,467.6L267.7,468.9L267.3,469.6L267.4,469.9L268.2,470.2L268.3,470.6L268.2,471.2L267.7,471.9L267.9,473.6L267.0,474.2L267.3,474.9L267.4,476.2L267.2,476.9L267.7,477.6L267.5,477.6ZM242.5,477.6L241.8,477.6L241.5,476.7L241.1,476.9L241.0,477.6L240.2,477.7L230.6,477.6L230.4,477.2L229.5,476.8L229.2,476.2L229.4,475.2L229.2,474.7L228.1,474.2L227.9,473.6L228.1,472.9L226.6,470.2L227.2,468.6L226.9,468.2L227.3,467.2L227.2,466.1L228.2,465.9L228.4,465.6L227.8,464.6L228.2,463.6L227.3,462.9L227.9,461.9L227.5,460.9L228.2,460.1L229.2,460.0L230.3,458.9L229.9,458.2L230.9,457.6L231.0,457.2L230.5,457.1L230.5,456.6L232.2,456.6L232.4,456.2L232.2,455.2L233.8,454.1L236.2,454.7L236.5,454.6L236.8,453.7L237.8,453.6L238.5,453.2L239.3,453.2L239.8,453.6L239.9,454.9L240.2,455.4L240.8,456.0L241.4,455.9L241.8,455.5L242.6,455.6L242.9,455.9L242.2,456.6L242.2,457.2L243.8,458.2L244.4,458.2L244.6,458.6L244.5,458.9L244.9,459.6L244.8,460.9L245.5,461.6L245.7,462.9L245.5,463.4L244.8,463.5L244.7,463.9L245.5,463.7L246.1,464.2L245.8,464.6L244.8,465.0L244.8,465.2L245.2,465.7L245.3,466.9L245.9,467.6L244.9,467.9L245.1,469.2L244.3,470.6L245.2,472.2L245.2,472.9L244.2,474.6L242.8,475.6L243.0,476.2L242.5,477.6ZM244.1,460.6L243.9,458.9L243.5,458.7L242.8,458.9L242.5,459.2L242.5,459.6L243.8,460.8L244.1,460.6Z' fill='#0050ff'/>
<path d='M265.8,477.6L264.8,477.7L264.2,477.3L264.0,477.6L262.8,477.7L261.6,477.6L261.5,477.1L260.2,476.3L260.0,475.9L260.2,475.6L261.1,475.2L261.1,474.9L260.6,473.9L260.0,473.6L260.6,472.6L259.7,470.6L260.6,469.6L259.7,468.9L259.4,467.2L259.7,466.2L259.6,463.9L260.3,461.6L259.7,460.2L259.6,457.6L260.3,456.2L260.3,455.9L259.8,455.2L260.7,453.2L260.3,452.2L260.9,451.6L260.8,450.2L261.1,449.2L262.1,448.2L262.8,446.3L263.2,446.1L264.5,446.3L265.5,446.2L265.8,446.9L266.0,447.2L265.1,448.2L265.2,449.2L265.9,450.2L266.2,451.3L266.8,451.6L266.2,451.9L265.8,452.6L266.3,453.2L266.0,453.6L266.2,454.2L267.2,454.9L267.0,455.9L267.2,457.2L266.8,457.4L266.2,456.8L265.8,456.9L265.7,457.2L266.4,457.6L266.8,458.1L266.7,459.2L267.4,461.2L266.3,462.6L267.2,463.3L267.4,463.9L267.1,465.6L267.2,466.6L266.8,467.6L267.2,468.6L266.5,469.6L266.3,471.2L267.0,473.2L265.4,474.9L266.2,476.9L266.2,477.4L265.8,477.6ZM238.8,477.6L235.8,477.7L234.8,477.3L234.2,477.6L233.1,477.6L232.8,476.4L232.2,477.6L231.5,477.6L231.7,477.2L231.4,476.2L232.1,475.6L232.0,475.2L231.2,474.8L230.5,475.2L230.0,474.9L230.1,474.6L230.9,474.2L230.8,473.9L230.2,473.5L229.7,472.6L229.6,471.9L229.8,471.2L229.4,470.9L229.4,469.9L228.8,469.2L229.1,467.9L228.5,466.9L229.2,466.2L229.0,465.9L229.1,465.6L229.9,464.9L229.8,464.5L229.2,464.2L229.0,463.9L228.9,461.6L230.1,461.2L230.2,460.2L231.2,458.3L232.2,457.7L232.8,456.7L233.5,456.6L233.8,456.2L233.6,455.2L233.8,455.1L234.2,456.1L235.2,455.1L236.5,455.3L237.2,455.0L237.8,456.1L238.1,454.9L238.5,454.6L238.8,454.8L239.9,456.6L239.2,458.6L239.8,459.0L240.5,458.8L241.2,457.3L241.5,457.2L242.1,457.9L241.5,459.9L242.5,460.2L242.2,461.2L242.5,461.7L243.2,461.8L243.4,462.6L243.5,463.5L243.4,463.2L242.5,462.9L242.2,463.2L242.8,463.9L242.8,464.6L244.2,465.9L242.7,467.9L242.8,468.3L243.2,468.4L243.5,467.9L243.9,467.9L244.3,468.2L244.5,468.9L244.2,469.4L243.2,469.4L242.6,469.9L242.6,470.2L243.5,471.2L242.0,472.9L242.2,473.4L243.2,473.8L243.2,474.2L242.6,474.6L241.8,475.8L241.1,476.2L239.2,476.5L239.1,477.2L238.8,477.6Z' fill='#00a8ff'/>
<path d='M265.2,477.6L264.8,477.6L264.8,476.9L264.2,476.5L263.8,476.6L263.3,477.6L261.9,477.6L261.8,476.5L260.8,476.2L260.7,475.9L261.5,475.5L261.8,474.6L260.9,473.2L261.0,472.6L260.3,470.6L261.1,469.6L261.0,469.2L260.1,468.9L260.0,468.2L260.3,467.6L259.9,466.9L260.6,465.9L260.1,465.2L259.9,464.2L260.8,461.2L260.1,460.2L260.2,459.2L259.9,457.9L260.2,457.3L261.1,456.6L260.4,454.9L260.8,454.1L261.8,453.7L262.3,452.2L261.4,451.2L261.2,450.6L262.2,449.6L262.2,448.9L263.5,447.7L263.8,447.7L264.6,448.6L265.5,450.4L265.7,451.9L265.2,453.9L266.4,455.2L266.6,456.2L265.5,456.8L265.3,457.2L265.9,457.9L265.8,458.9L266.5,459.9L267.0,461.2L265.8,462.6L266.7,463.9L266.4,464.9L266.7,466.9L266.5,467.9L266.7,468.6L266.2,469.2L265.8,471.2L266.5,473.2L265.1,474.9L265.4,476.2L264.9,477.2L265.2,477.6ZM235.5,457.5L234.2,457.2L234.1,456.9L235.5,455.7L235.7,455.9L235.5,457.5ZM236.5,477.6L235.5,477.6L234.8,476.8L234.4,476.9L234.0,477.6L233.7,477.6L233.3,475.2L232.2,474.6L231.8,473.9L230.6,473.2L230.0,472.2L230.2,471.6L231.2,471.2L230.5,469.6L231.0,468.6L230.5,467.9L229.5,467.6L229.1,467.2L230.1,466.6L230.0,465.6L230.4,463.6L229.5,462.9L229.5,462.6L230.2,462.1L231.5,462.7L231.8,462.6L231.7,461.2L232.8,460.2L232.7,459.6L232.2,459.3L231.5,460.2L231.1,460.2L230.9,459.9L231.2,459.2L231.9,458.9L233.2,457.5L233.8,457.2L234.5,457.9L235.8,457.6L236.5,458.7L236.8,458.4L237.2,456.9L237.8,456.7L238.9,457.2L238.5,458.9L239.8,459.7L240.8,459.6L241.2,460.7L241.8,461.2L242.0,461.9L241.7,463.6L243.2,465.6L242.9,466.9L242.2,467.9L242.6,469.2L242.0,470.2L242.7,470.9L242.7,471.2L241.2,473.4L240.5,474.1L239.8,474.2L239.3,474.6L238.8,475.5L237.5,475.4L237.0,475.6L236.8,477.6L236.5,477.6Z' fill='#00e8e8'/>
<path d='M262.8,451.0L262.1,450.6L262.1,450.2L262.5,449.8L262.8,449.8L263.5,450.3L263.5,450.7L262.8,451.0ZM262.5,477.6L262.3,477.2L262.4,475.9L262.0,475.2L262.3,474.2L261.6,473.6L261.6,472.6L260.8,471.6L260.6,470.9L261.4,469.2L260.4,468.6L260.8,467.6L260.2,466.9L261.0,465.9L260.3,464.9L260.2,464.2L260.5,462.4L261.2,461.6L260.5,460.2L260.7,459.2L260.3,458.2L261.5,456.8L261.1,455.9L261.0,454.6L261.8,454.2L262.3,452.9L262.8,452.2L263.2,452.0L264.1,451.9L264.8,451.0L265.2,451.1L265.3,452.9L264.6,454.2L264.8,454.7L265.6,454.9L265.9,455.9L265.9,456.2L265.0,457.2L265.6,457.9L265.6,459.2L266.2,459.9L266.4,461.6L265.6,462.6L266.2,463.9L265.8,465.6L266.3,466.9L266.4,468.6L265.8,469.2L265.3,470.9L266.1,473.2L264.7,474.9L264.8,476.1L264.2,475.9L264.2,475.4L263.2,475.6L262.9,475.9L263.1,476.9L262.8,477.6L262.5,477.6ZM235.8,477.2L234.8,476.0L233.8,476.3L234.0,475.2L232.5,474.4L231.8,473.3L231.3,473.2L231.1,472.6L230.4,472.2L230.4,471.9L231.2,471.7L231.6,471.2L231.4,469.6L231.8,469.3L232.5,469.7L232.6,469.6L230.9,467.9L231.3,466.9L231.3,466.2L231.2,465.9L230.5,465.6L230.3,464.6L231.0,463.2L232.1,462.6L232.1,461.6L233.2,460.2L233.2,459.2L232.7,458.6L233.0,458.2L233.8,457.9L234.5,458.5L235.5,458.0L236.2,458.9L236.8,459.0L237.4,457.2L237.8,457.1L238.3,457.6L237.8,458.6L237.9,458.9L240.3,460.6L240.4,460.9L239.8,461.9L240.1,463.2L241.1,463.6L241.5,465.2L242.2,465.2L242.4,465.6L242.2,466.5L241.1,467.2L242.2,468.5L242.2,469.2L241.8,469.7L240.9,469.9L240.9,470.2L241.5,471.1L242.0,470.9L242.2,471.2L241.2,472.7L240.8,472.7L240.5,472.3L239.8,472.7L239.1,472.6L239.2,473.0L239.8,473.2L239.9,473.6L239.5,473.9L238.8,473.4L237.8,473.4L238.7,474.2L238.7,474.9L238.5,475.2L237.5,475.1L236.8,475.4L235.8,477.2Z' fill='#00f080'/>
<path d='M263.5,475.1L263.0,474.9L263.0,474.6L262.1,473.6L261.8,471.9L260.9,471.2L260.9,470.6L261.6,469.2L261.0,468.2L260.8,466.9L261.2,465.9L260.4,464.2L260.8,463.6L261.5,464.5L261.8,464.0L261.5,463.5L260.8,463.5L260.6,462.9L260.8,462.2L261.6,461.9L261.2,460.2L261.6,459.2L261.3,458.9L261.8,458.2L261.3,457.6L261.8,456.9L261.5,455.6L262.0,454.9L262.5,453.1L263.2,452.5L263.5,452.5L263.3,453.2L263.4,453.9L264.7,455.6L265.5,455.9L265.6,456.2L264.4,457.2L265.3,457.9L265.4,459.6L266.1,460.2L266.0,461.6L265.4,462.6L265.8,463.9L265.6,465.2L266.0,468.2L265.1,470.6L265.6,473.2L265.2,473.8L264.0,473.9L263.6,474.2L263.8,474.9L263.5,475.1ZM235.8,476.3L235.5,476.4L234.7,475.2L234.8,474.6L234.3,473.9L233.7,473.9L233.5,474.5L232.5,473.9L232.3,472.6L231.6,471.9L232.0,470.9L231.9,470.2L232.8,469.9L232.9,469.6L231.2,467.9L231.5,466.2L231.2,465.5L230.5,464.9L230.8,464.0L232.4,462.6L232.2,461.9L233.5,460.3L233.8,459.2L234.5,459.2L235.2,458.3L235.5,458.3L236.2,459.3L238.2,459.4L239.9,460.9L239.5,461.9L239.7,463.2L240.8,463.9L241.1,465.2L242.0,465.9L240.5,467.2L241.2,469.2L241.5,468.8L241.8,468.9L241.7,469.2L240.8,469.4L240.5,470.2L240.5,471.6L239.8,472.3L238.8,472.0L238.5,473.0L237.5,473.0L237.4,473.6L238.3,474.2L238.4,474.9L236.5,475.2L235.8,476.3Z' fill='#30f000'/>
<path d='M263.2,474.0L262.6,473.6L262.1,472.2L262.4,471.6L262.2,471.2L261.5,471.3L261.1,470.9L261.9,469.2L261.3,467.9L261.3,466.9L261.5,466.2L261.4,465.2L262.0,463.9L261.8,463.5L260.8,462.9L260.8,462.6L261.2,462.4L261.8,462.8L262.3,462.2L261.6,460.9L262.1,459.2L262.0,458.6L262.2,458.1L262.8,458.2L263.1,457.9L263.5,456.9L262.5,456.9L262.2,456.6L262.5,454.3L262.8,454.2L263.0,454.6L263.8,455.0L265.1,456.2L264.2,457.0L264.0,457.6L265.2,458.2L265.1,459.6L265.8,460.6L265.5,461.5L264.8,461.6L265.1,461.9L265.4,463.9L265.2,466.6L265.6,467.9L264.9,470.9L265.2,471.9L264.5,473.1L263.2,474.0ZM237.5,474.6L236.8,474.8L236.2,473.9L235.5,474.1L233.8,473.2L233.7,472.9L234.2,471.6L233.9,470.9L233.2,470.9L232.8,472.2L232.5,472.1L232.1,471.6L232.4,470.6L233.2,469.6L231.7,467.9L231.8,467.0L232.2,466.9L231.6,465.6L231.7,465.2L232.6,464.9L232.0,463.9L232.8,462.6L232.5,461.9L233.7,460.6L234.2,459.5L234.8,459.6L235.7,460.6L235.5,461.4L234.8,460.9L234.4,462.2L235.2,462.4L235.8,463.0L236.2,462.5L236.2,461.9L237.5,461.7L238.2,461.0L238.5,461.0L239.1,461.6L239.4,462.6L237.8,462.8L237.7,463.2L238.2,463.1L238.8,463.7L239.5,463.5L240.5,464.2L240.8,464.6L240.6,465.6L241.4,465.9L241.4,466.2L240.2,466.9L240.5,468.6L240.2,469.9L239.2,470.5L239.0,471.2L238.4,471.9L238.2,472.6L237.5,472.6L237.2,473.0L237.0,473.6L237.5,474.6Z' fill='#b8f000'/>
<path d='M263.2,472.9L262.5,472.6L262.3,472.2L262.5,471.2L261.5,470.6L261.8,470.0L262.6,469.6L262.5,469.0L261.5,467.9L261.7,466.9L262.0,466.6L261.6,465.6L262.2,463.9L262.0,463.2L262.7,462.2L262.0,460.9L262.2,459.6L262.8,459.0L264.5,459.2L265.6,460.6L265.5,460.9L264.5,461.1L264.3,461.6L264.8,462.3L265.2,463.9L265.2,465.8L264.6,466.6L264.8,467.2L264.5,467.9L265.1,468.9L264.7,471.2L264.5,471.7L263.5,471.9L263.4,472.6L263.2,472.9ZM235.5,473.4L234.2,473.0L234.6,471.9L234.4,470.9L233.5,470.2L233.3,469.2L232.1,467.9L233.4,467.6L233.0,466.9L233.6,465.9L233.3,465.6L233.6,464.9L232.8,464.2L232.7,463.2L233.8,462.7L234.8,462.5L235.2,462.6L235.8,463.4L236.2,463.3L236.8,462.2L237.5,462.1L238.5,461.6L238.6,462.2L237.5,462.6L237.0,463.6L237.2,463.8L238.2,463.4L238.4,463.6L239.1,464.6L239.8,464.8L239.8,465.6L240.6,466.2L239.8,466.6L239.7,467.2L240.1,468.2L239.5,468.9L239.9,469.6L239.2,470.2L238.7,471.2L238.2,471.7L237.8,471.7L237.1,471.2L237.4,472.2L236.8,473.1L235.9,472.9L235.1,471.9L235.1,472.6L235.8,472.9L235.5,473.4Z' fill='#ffd000'/>
<path d='M263.2,472.3L262.8,472.6L262.5,472.3L262.8,471.6L262.1,470.6L262.1,470.2L263.0,469.9L263.1,469.6L261.7,467.9L261.8,467.1L262.1,466.9L262.8,467.2L263.1,466.9L261.8,465.6L262.3,464.2L262.3,463.2L263.0,462.6L262.3,460.9L262.4,459.9L262.5,459.5L263.2,459.4L264.5,459.9L265.2,460.6L264.2,461.0L263.3,460.9L264.7,462.6L265.0,463.9L264.8,464.6L265.1,465.6L264.4,466.6L264.5,467.3L264.2,467.6L263.8,467.3L263.4,468.2L263.8,468.5L264.8,468.6L264.9,469.2L264.5,471.2L263.5,471.7L263.2,472.3ZM236.8,472.7L236.2,472.7L234.8,471.4L232.8,468.2L233.8,467.6L233.2,466.9L233.7,466.2L233.7,465.6L234.0,465.2L233.7,464.6L233.1,464.2L232.9,463.6L233.1,463.2L234.2,462.8L235.2,462.8L235.5,463.5L236.5,463.9L236.5,464.6L236.8,464.7L238.2,463.6L238.6,463.9L238.8,464.9L239.5,465.2L238.9,465.6L239.6,466.2L239.4,467.2L239.0,467.9L238.2,468.0L237.8,468.6L238.8,468.7L239.5,469.6L238.2,471.4L236.8,471.1L236.7,471.6L237.0,472.2L236.8,472.7Z' fill='#ff8000'/>
<path d='M264.2,466.8L262.8,466.5L262.0,465.6L262.2,465.2L262.8,465.8L263.0,465.6L262.8,465.1L262.5,465.1L262.4,464.6L262.6,463.2L263.2,462.9L263.3,462.6L262.7,461.6L262.6,460.6L262.7,459.9L263.2,459.6L264.3,460.2L264.2,460.5L263.5,460.4L262.9,460.9L264.5,462.6L264.9,463.6L264.5,464.6L264.9,465.6L264.2,466.8ZM236.5,472.6L234.9,471.2L233.2,468.6L233.3,468.2L233.8,467.9L234.1,467.2L233.4,466.9L234.2,465.7L234.5,465.6L235.2,465.9L235.4,466.6L235.8,466.7L236.2,465.9L235.5,464.9L235.5,464.3L235.8,464.0L236.8,465.0L237.5,464.2L238.2,463.8L238.6,465.6L239.3,466.2L239.4,466.9L238.8,467.6L237.8,467.4L237.5,468.0L236.9,467.6L236.5,467.6L236.1,467.9L236.1,468.2L236.5,468.7L237.2,468.7L237.8,469.1L238.7,468.9L239.1,469.6L238.2,471.1L237.2,470.8L236.7,470.9L236.4,471.6L236.8,472.2L236.5,472.6ZM263.2,471.6L262.8,471.4L262.6,470.6L263.2,470.2L263.9,469.2L263.8,468.9L264.5,468.7L264.8,468.9L264.4,470.9L264.2,471.3L263.2,471.6Z' fill='#ff1000'/>
<path transform='translate(225.5,420.9) scale(0.25)' d='M82 127h0M10 15h0M120 166h0M1 111h0M139 65h0M121 64h0M100 68h0M101 154h0M117 45h0M68 27h0M46 88h0M82 21h0M69 10h0M113 199h0M66 42h0M110 156h0M104 81h0M54 46h0M114 169h0M101 25h0M116 158h0M32 30h0M31 119h0M125 94h0M103 188h0M105 110h0M102 206h0M83 46h0M68 70h0M69 117h0M30 76h0M11 35h0M97 3h0M95 220h0M100 110h0M69 30h0M72 45h0M138 22h0M89 127h0M15 133h0M185 216h0M112 181h0M107 31h0M74 116h0M67 0h0M166 90h0M0 92h0M101 17h0M77 4h0M46 45h0M90 121h0M101 16h0M92 31h0M72 38h0M105 21h0M102 38h0M48 110h0M180 174h0M103 69h0M106 145h0M49 58h0M135 98h0M184 99h0M48 101h0M125 145h0M158 47h0M46 10h0M115 129h0M84 128h0M182 205h0M125 39h0M178 208h0M47 14h0M160 43h0M33 81h0M58 97h0M75 34h0M73 67h0M210 175h0M191 14h0M98 30h0M69 101h0M30 101h0M84 27h0M103 46h0M64 63h0M180 87h0M129 79h0M131 13h0M96 88h0M133 111h0M41 118h0M99 108h0M112 90h0M15 119h0M126 132h0M171 112h0M78 17h0M40 38h0M106 126h0M132 75h0M41 23h0M93 30h0M97 144h0M117 168h0M108 140h0M18 128h0M104 143h0M80 16h0M105 156h0M46 42h0M91 77h0M13 128h0M16 73h0M89 120h0M14 127h0M125 21h0M127 163h0M86 73h0M115 125h0M100 123h0M45 15h0M99 83h0M180 173h0M111 132h0M160 69h0M26 106h0M121 13h0M83 127h0M97 123h0M116 111h0M96 198h0M94 45h0M76 89h0M226 173h0M94 118h0M124 1h0M30 15h0M53 112h0M32 110h0M29 123h0M34 111h0M46 60h0M170 88h0M27 47h0M74 128h0M10 131h0M114 221h0M138 16h0M114 139h0M95 15h0M126 142h0M107 79h0M115 65h0M53 49h0M102 198h0M86 102h0M35 1h0M180 109h0M91 36h0M92 205h0M53 99h0M117 153h0M34 128h0M173 71h0M119 179h0M117 25h0M99 194h0M176 119h0M176 52h0M155 32h0M110 49h0M201 130h0M156 16h0M109 37h0M65 52h0M127 208h0M168 71h0M107 130h0M70 87h0M102 131h0M121 143h0M65 107h0M50 61h0M60 28h0M6 58h0M83 31h0M78 13h0M68 39h0M39 121h0M117 86h0M133 75h0M82 10h0M51 110h0M107 180h0M107 192h0M187 225h0M93 15h0M63 65h0M177 105h0M193 126h0M108 132h0M117 129h0M182 79h0M99 198h0M200 104h0M172 62h0M81 118h0M47 72h0M177 148h0M129 123h0M25 70h0M121 141h0M126 120h0M48 95h0M99 201h0M158 70h0M33 106h0M51 61h0M153 51h0M84 64h0M51 114h0M185 205h0M104 182h0M111 65h0M72 6h0M58 72h0M170 102h0M192 76h0M85 65h0M93 48h0M118 180h0M91 46h0M44 32h0M189 219h0M124 119h0M62 5h0M19 38h0M62 43h0M123 34h0M116 73h0M184 185h0M184 50h0M51 41h0M114 136h0M118 4h0M16 50h0M125 120h0M54 44h0M23 121h0M118 79h0M78 89h0M80 98h0M65 52h0M101 179h0M172 101h0M51 9h0M44 56h0M178 124h0M115 23h0M149 10h0M70 62h0M107 154h0M87 22h0M84 91h0M92 32h0M178 114h0M68 45h0M97 161h0M117 150h0M22 19h0M63 104h0M73 69h0M31 123h0M179 203h0M146 68h0M82 101h0M177 218h0M39 57h0M104 144h0M173 92h0M112 138h0M116 85h0M39 59h0M131 30h0M167 86h0M109 9h0M74 27h0M105 60h0M119 182h0M75 28h0M103 30h0M182 100h0M89 122h0M78 92h0M75 56h0M75 109h0M116 156h0M80 136h0M172 23h0M77 70h0M19 58h0M27 41h0M51 6h0M59 28h0M134 57h0M35 64h0M114 160h0M65 6h0M19 44h0M58 91h0M84 96h0M57 76h0M104 100h0M116 209h0M125 129h0M61 26h0M190 189h0M15 96h0M96 130h0M58 95h0M7 46h0M111 64h0M177 136h0M138 8h0M125 141h0M153 65h0M6 140h0M128 100h0M104 54h0M219 132h0M130 90h0M73 35h0M192 165h0M137 58h0M3 72h0M60 82h0M104 135h0M99 204h0M62 61h0M107 50h0M86 143h0M58 79h0M98 149h0M3 135h0M73 93h0M93 192h0M95 114h0M44 3h0M166 54h0M82 61h0M98 123h0M70 33h0M18 117h0M62 106h0M137 71h0M177 125h0M39 36h0M78 107h0M51 115h0M116 31h0M104 6h0M115 218h0M38 41h0M38 110h0M62 62h0M115 147h0M140 43h0M104 200h0M178 130h0M215 189h0M112 7h0M105 31h0M146 50h0M61 119h0M100 30h0M18 122h0M100 151h0M81 8h0M167 52h0M173 104h0M79 100h0M128 134h0M83 105h0M119 199h0M38 106h0M180 89h0M111 66h0M175 120h0M192 195h0M32 122h0M212 138h0M106 36h0M81 106h0M112 217h0M73 91h0M25 55h0M98 133h0M81 38h0M55 117h0M68 40h0M75 91h0M95 219h0M73 133h0M58 118h0M172 81h0M1 95h0M70 0h0M25 70h0M173 38h0M177 146h0M102 4h0M91 135h0M134 84h0M140 70h0M40 63h0M108 64h0M100 3h0M85 28h0M100 50h0M110 162h0M189 154h0M52 13h0M81 53h0M105 211h0M3 134h0M96 62h0M73 49h0M181 124h0M57 39h0M115 211h0M62 121h0M92 116h0M130 101h0M91 64h0M209 122h0M1 147h0M135 90h0M180 68h0M93 217h0M177 176h0M112 42h0M113 49h0M133 127h0M120 162h0M138 69h0M25 101h0M174 76h0M107 38h0M107 7h0M116 50h0M180 189h0M122 81h0M93 122h0M112 170h0M15 134h0M77 30h0M101 42h0M127 162h0M67 120h0M64 118h0M82 67h0M103 206h0M167 16h0M93 194h0M113 181h0M70 41h0M100 182h0M117 179h0M72 85h0M82 85h0M100 98h0M98 226h0M40 77h0M117 10h0M157 54h0M19 120h0M65 31h0M196 203h0M130 109h0M215 136h0M140 82h0M101 201h0M17 108h0M164 82h0M156 54h0M77 97h0M98 89h0M144 14h0M126 141h0M105 209h0M17 39h0M114 36h0M98 103h0M168 86h0M21 131h0M179 154h0M176 55h0M72 130h0M123 32h0M174 98h0M147 59h0M34 116h0M96 78h0M81 65h0M188 141h0M177 222h0M150 57h0M10 104h0M65 101h0M110 37h0M110 219h0M19 99h0M70 76h0M46 15h0M121 117h0M96 88h0M30 116h0M42 106h0M116 140h0M71 71h0M183 150h0M122 87h0M125 85h0M67 49h0M88 88h0M98 190h0M183 218h0M12 121h0M122 81h0M87 86h0M63 56h0M86 19h0M177 117h0M110 46h0M87 73h0M184 91h0M82 121h0M23 64h0M169 40h0M88 49h0M109 95h0M57 109h0M88 98h0M137 78h0M80 48h0M186 192h0M101 71h0M93 59h0M150 47h0M72 84h0M189 162h0M97 72h0M92 53h0M72 15h0M112 136h0M53 93h0M157 25h0M130 132h0M187 141h0M119 190h0M19 106h0M71 40h0M90 119h0M127 129h0M183 142h0M87 154h0M113 2h0M100 39h0M95 191h0M82 110h0M103 204h0M84 45h0M141 27h0M54 27h0M20 68h0M177 110h0M47 121h0M99 186h0M39 119h0M99 158h0M196 186h0M121 88h0M40 3h0M138 84h0M206 211h0M78 74h0M107 130h0M127 117h0M74 94h0M199 131h0M70 40h0M78 52h0M54 52h0M52 43h0M35 74h0M121 188h0M73 41h0M154 22h0M78 122h0M110 172h0M67 31h0M54 95h0M176 212h0M107 196h0M167 80h0M132 81h0M178 212h0M144 72h0M78 82h0M76 91h0M126 211h0M95 221h0M54 97h0M38 62h0M176 198h0M45 53h0M126 131h0M54 37h0M36 39h0M66 53h0M202 114h0M173 69h0M84 97h0M171 46h0M39 30h0M143 44h0M80 59h0M167 72h0M181 190h0M104 199h0M67 24h0M102 127h0M86 85h0M100 31h0M103 69h0M137 62h0M2 151h0M15 112h0M179 148h0M103 212h0M177 202h0M100 194h0M185 186h0M118 104h0M46 23h0M181 123h0M36 6h0M81 121h0M104 148h0M179 158h0M57 119h0M184 114h0M125 65h0M121 90h0M101 139h0M0 142h0M80 7h0M111 16h0M81 52h0M89 125h0M104 23h0M116 29h0M96 222h0M51 94h0M93 137h0M135 106h0M117 85h0M100 191h0M163 72h0M34 82h0M179 86h0M65 23h0M117 179h0M72 15h0M107 159h0M181 223h0M38 117h0M141 75h0M62 30h0M21 60h0M53 96h0M56 79h0M108 70h0M117 184h0M77 107h0M187 108h0M118 156h0M104 44h0M65 33h0M178 133h0M102 144h0M152 70h0M43 84h0M22 86h0M107 46h0M93 68h0M142 43h0M93 88h0M63 95h0M91 103h0M121 128h0M113 170h0M58 73h0M158 42h0M81 92h0M99 12h0M59 33h0M106 97h0M72 93h0M149 47h0' stroke='#0000ff' stroke-opacity='0.6' stroke-width='2.0' stroke-linecap='square' fill='none'/>
</g>
<path d='M225.5,420.9 L282.9,420.9 L282.9,478.2' fill='none' stroke='#8f8f8f' stroke-width='0.9'/>
<path d='M225.5,420.9 L225.5,478.2 L282.9,478.2' fill='none' stroke='#b0b0b0' stroke-width='0.8' stroke-dasharray='0.8,0.7'/>
<line x1='224.6' y1='424.9' x2='226.4' y2='424.9' stroke='#777' stroke-width='0.6' />
<line x1='224.6' y1='437.22499999999997' x2='226.4' y2='437.22499999999997' stroke='#777' stroke-width='0.6' />
<line x1='224.6' y1='449.54999999999995' x2='226.4' y2='449.54999999999995' stroke='#777' stroke-width='0.6' />
<line x1='224.6' y1='461.875' x2='226.4' y2='461.875' stroke='#777' stroke-width='0.6' />
<line x1='224.6' y1='474.2' x2='226.4' y2='474.2' stroke='#777' stroke-width='0.6' />
<line x1='229.5' y1='477.3' x2='229.5' y2='479.09999999999997' stroke='#777' stroke-width='0.6' />
<line x1='241.85' y1='477.3' x2='241.85' y2='479.09999999999997' stroke='#777' stroke-width='0.6' />
<line x1='254.2' y1='477.3' x2='254.2' y2='479.09999999999997' stroke='#777' stroke-width='0.6' />
<line x1='266.55' y1='477.3' x2='266.55' y2='479.09999999999997' stroke='#777' stroke-width='0.6' />
<line x1='278.9' y1='477.3' x2='278.9' y2='479.09999999999997' stroke='#777' stroke-width='0.6' />
<line x1='225.5' y1='466.74' x2='225.5' y2='468.94' stroke='#111' stroke-width='1.2' />
<line x1='229.518' y1='478.2' x2='236.98' y2='478.2' stroke='#555' stroke-width='1.0' />
<ellipse cx='65.4' cy='432.3' rx='12.3' ry='10.6' fill='none' stroke='#e06060' stroke-width='0.9'/>
<ellipse cx='126.3' cy='432.3' rx='12.3' ry='10.6' fill='none' stroke='#e06060' stroke-width='0.9'/>
<ellipse cx='187.5' cy='432.3' rx='12.3' ry='10.6' fill='none' stroke='#e06060' stroke-width='0.9'/>
<ellipse cx='245.0' cy='432.3' rx='12.3' ry='10.6' fill='none' stroke='#e06060' stroke-width='0.9'/>
<clipPath id='c27'><rect x='42.0' y='555.9' width='59.2' height='59.3'/></clipPath>
<g clip-path='url(#c27)'>
<radialGradient id='h28'><stop offset='0.000' stop-color='#000' stop-opacity='0.357'/><stop offset='0.125' stop-color='#000' stop-opacity='0.338'/><stop offset='0.250' stop-color='#000' stop-opacity='0.284'/><stop offset='0.375' stop-color='#000' stop-opacity='0.209'/><stop offset='0.500' stop-color='#000' stop-opacity='0.134'/><stop offset='0.625' stop-color='#000' stop-opacity='0.073'/><stop offset='0.750' stop-color='#000' stop-opacity='0.035'/><stop offset='0.875' stop-color='#000' stop-opacity='0.014'/><stop offset='1.000' stop-color='#000' stop-opacity='0.005'/></radialGradient>
<ellipse transform='translate(59.0,594.9) rotate(-10)' rx='21.0' ry='13.5' fill='url(#h28)'/>
<radialGradient id='h29'><stop offset='0.000' stop-color='#000' stop-opacity='0.392'/><stop offset='0.125' stop-color='#000' stop-opacity='0.371'/><stop offset='0.250' stop-color='#000' stop-opacity='0.313'/><stop offset='0.375' stop-color='#000' stop-opacity='0.232'/><stop offset='0.500' stop-color='#000' stop-opacity='0.149'/><stop offset='0.625' stop-color='#000' stop-opacity='0.082'/><stop offset='0.750' stop-color='#000' stop-opacity='0.039'/><stop offset='0.875' stop-color='#000' stop-opacity='0.016'/><stop offset='1.000' stop-color='#000' stop-opacity='0.006'/></radialGradient>
<ellipse transform='translate(66.0,589.9) rotate(-20)' rx='24.0' ry='15.0' fill='url(#h29)'/>
<radialGradient id='h30'><stop offset='0.000' stop-color='#000' stop-opacity='0.157'/><stop offset='0.125' stop-color='#000' stop-opacity='0.147'/><stop offset='0.250' stop-color='#000' stop-opacity='0.121'/><stop offset='0.375' stop-color='#000' stop-opacity='0.087'/><stop offset='0.500' stop-color='#000' stop-opacity='0.054'/><stop offset='0.625' stop-color='#000' stop-opacity='0.029'/><stop offset='0.750' stop-color='#000' stop-opacity='0.013'/><stop offset='0.875' stop-color='#000' stop-opacity='0.005'/><stop offset='1.000' stop-color='#000' stop-opacity='0.002'/></radialGradient>
<ellipse transform='translate(72.0,587.9) rotate(-10)' rx='30.0' ry='21.0' fill='url(#h30)'/>
<radialGradient id='h31'><stop offset='0.000' stop-color='#000' stop-opacity='0.180'/><stop offset='0.125' stop-color='#000' stop-opacity='0.169'/><stop offset='0.250' stop-color='#000' stop-opacity='0.139'/><stop offset='0.375' stop-color='#000' stop-opacity='0.100'/><stop offset='0.500' stop-color='#000' stop-opacity='0.063'/><stop offset='0.625' stop-color='#000' stop-opacity='0.034'/><stop offset='0.750' stop-color='#000' stop-opacity='0.016'/><stop offset='0.875' stop-color='#000' stop-opacity='0.006'/><stop offset='1.000' stop-color='#000' stop-opacity='0.002'/></radialGradient>
<ellipse transform='translate(84.0,593.9) rotate(0)' rx='30.0' ry='12.0' fill='url(#h31)'/>
<radialGradient id='h32'><stop offset='0.000' stop-color='#000' stop-opacity='0.021'/><stop offset='0.125' stop-color='#000' stop-opacity='0.020'/><stop offset='0.250' stop-color='#000' stop-opacity='0.016'/><stop offset='0.375' stop-color='#000' stop-opacity='0.011'/><stop offset='0.500' stop-color='#000' stop-opacity='0.007'/><stop offset='0.625' stop-color='#000' stop-opacity='0.004'/><stop offset='0.750' stop-color='#000' stop-opacity='0.002'/><stop offset='0.875' stop-color='#000' stop-opacity='0.001'/><stop offset='1.000' stop-color='#000' stop-opacity='0.000'/></radialGradient>
<ellipse transform='translate(70.0,589.9) rotate(0)' rx='51.0' ry='39.0' fill='url(#h32)'/>
<path transform='translate(42.0,555.9) scale(0.25)' d='M59 150h0M46 182h0M68 162h0M67 155h0M70 180h0M45 142h0M41 164h0M42 135h0M74 152h0M65 184h0M53 186h0M49 183h0M88 153h0M70 155h0M89 164h0M71 131h0M20 167h0M71 161h0M79 151h0M75 143h0M78 151h0M64 142h0M41 163h0M16 174h0M92 162h0M93 136h0M76 141h0M74 149h0M74 138h0M87 147h0M110 116h0M45 150h0M75 154h0M44 159h0M75 156h0M70 172h0M117 147h0M72 147h0M28 175h0M66 165h0M80 160h0M72 161h0M95 158h0M27 172h0M79 158h0M69 138h0M45 169h0M58 192h0M58 171h0M69 153h0M15 183h0M74 173h0M29 201h0M61 130h0M16 163h0M95 146h0M79 153h0M73 138h0M104 203h0M88 182h0M101 159h0M83 143h0M62 160h0M43 131h0M106 111h0M56 158h0M93 137h0M105 130h0M66 150h0M67 171h0M34 161h0M25 156h0M102 154h0M38 134h0M65 159h0M48 156h0M66 157h0M76 167h0M76 158h0M47 154h0M40 157h0M106 154h0M55 193h0M94 131h0M67 172h0M103 135h0M19 155h0M62 163h0M71 178h0M89 145h0M65 153h0M51 179h0M88 133h0M93 198h0M83 156h0M91 149h0M28 195h0M86 137h0M47 151h0M59 150h0M50 150h0M117 147h0M85 142h0M103 174h0M70 173h0M76 158h0M99 161h0M53 165h0M136 117h0M81 147h0M77 167h0M95 121h0M82 179h0M37 146h0M66 162h0M44 144h0M99 151h0M71 166h0M9 179h0M24 169h0M71 145h0M56 151h0M66 167h0M8 176h0M39 166h0M101 137h0M64 165h0M52 154h0M107 121h0M44 152h0M79 178h0M70 145h0M47 179h0M105 135h0M112 139h0M111 147h0M97 145h0M150 117h0M66 163h0M68 178h0M105 153h0M116 140h0M90 150h0M72 156h0M105 125h0M86 131h0M131 147h0M114 112h0M93 127h0M90 128h0M68 155h0M115 154h0M54 140h0M83 179h0M26 160h0M119 138h0M70 161h0M72 164h0M82 152h0M123 123h0M97 122h0M107 180h0M115 146h0M91 73h0M79 179h0M103 137h0M120 114h0M57 131h0M132 162h0M102 162h0M43 134h0M65 129h0M102 147h0M134 114h0M97 155h0M74 134h0M114 112h0M85 100h0M84 136h0M81 116h0M111 134h0M85 138h0M92 163h0M77 130h0M87 73h0M50 132h0M102 106h0M78 132h0M119 132h0M84 124h0M57 159h0M126 133h0M103 120h0M107 143h0M87 180h0M136 143h0M69 117h0M146 145h0M86 107h0M141 132h0M84 182h0M38 126h0M71 166h0M90 161h0M73 144h0M75 128h0M100 140h0M96 137h0M115 171h0M80 128h0M111 129h0M119 114h0M77 178h0M126 123h0M65 140h0M139 120h0M99 129h0M70 110h0M85 150h0M56 128h0M114 161h0M107 170h0M148 148h0M78 169h0M158 129h0M113 141h0M83 119h0M87 165h0M162 127h0M106 109h0M117 101h0M142 118h0M105 128h0M97 110h0M117 130h0M106 114h0M111 110h0M79 140h0M69 157h0M103 137h0M92 126h0M62 145h0M74 142h0M114 152h0M99 160h0M86 142h0M83 114h0M100 132h0M63 142h0M128 120h0M87 160h0M64 165h0M13 176h0M161 103h0M52 130h0M103 131h0M74 160h0M36 121h0M85 112h0M123 163h0M107 114h0M68 151h0M84 151h0M137 134h0M80 150h0M110 102h0M80 121h0M95 102h0M76 111h0M146 135h0M35 150h0M99 124h0M131 148h0M103 153h0M113 142h0M156 140h0M73 146h0M131 172h0M89 139h0M73 122h0M111 149h0M152 143h0M123 153h0M121 124h0M65 156h0M47 148h0M101 133h0M117 110h0M109 139h0M142 124h0M58 149h0M111 151h0M66 177h0M57 137h0M111 158h0M109 107h0M79 105h0M89 129h0M101 107h0M115 141h0M98 160h0M112 99h0M122 136h0M102 131h0M148 130h0M51 169h0M85 160h0M87 153h0M57 123h0M53 127h0M121 149h0M71 170h0M110 143h0M105 131h0M112 99h0M146 126h0M156 102h0M57 124h0M129 141h0M109 167h0M118 130h0M85 129h0M123 149h0M126 117h0M69 138h0M69 144h0M166 139h0M92 118h0M80 191h0M153 122h0M151 94h0M76 104h0M150 86h0M72 112h0M128 183h0M173 178h0M103 123h0M125 121h0M60 127h0M97 183h0M149 147h0M149 150h0M140 123h0M145 108h0M117 173h0M157 155h0M89 130h0M78 140h0M98 96h0M76 165h0M162 84h0M123 124h0M119 148h0M65 97h0M108 155h0M125 188h0M82 89h0M126 127h0M88 38h0M103 161h0M78 135h0M83 177h0M171 107h0M90 131h0M59 151h0M162 101h0M95 143h0M129 136h0M115 143h0M96 88h0M141 150h0M119 78h0M178 140h0M66 141h0M162 102h0M128 129h0M178 195h0M59 115h0M140 110h0M165 95h0M119 122h0M152 104h0M195 98h0M94 116h0M192 121h0M80 158h0M118 142h0M176 134h0M107 162h0M193 55h0M106 149h0M79 131h0M112 96h0M101 136h0M80 136h0M216 102h0M105 90h0M61 95h0M114 149h0M110 171h0M159 104h0M147 142h0M129 68h0M140 145h0M82 147h0M79 153h0M131 161h0M87 107h0M87 114h0M176 80h0M162 121h0M129 117h0M114 169h0M120 171h0M159 190h0M103 100h0M121 172h0M96 76h0M94 103h0M88 97h0M52 153h0M139 97h0M141 125h0M105 140h0M99 171h0M103 73h0M164 146h0M111 144h0M108 148h0M121 102h0M89 165h0M48 105h0M115 123h0M34 152h0M108 134h0M65 118h0M86 118h0M197 151h0M134 185h0M190 154h0M179 164h0M176 122h0M229 146h0M119 166h0M101 138h0M203 159h0M161 169h0M161 156h0M167 175h0M213 161h0M197 131h0M112 173h0M166 134h0M116 132h0M80 109h0M182 154h0M191 149h0M120 118h0M165 173h0M155 149h0M94 165h0M162 161h0M192 170h0M114 168h0M137 146h0M110 158h0M171 162h0M207 158h0M228 123h0M168 131h0M130 126h0M177 165h0M136 157h0M151 163h0M204 137h0M111 149h0M150 151h0M129 138h0M155 153h0M197 163h0M160 134h0M211 135h0M183 182h0M109 162h0M173 165h0M168 139h0M195 130h0M160 159h0M203 158h0M212 147h0M174 131h0M127 156h0M141 160h0M173 132h0M126 167h0M167 179h0M221 117h0M202 182h0M106 128h0M186 165h0M100 152h0M131 160h0M144 176h0M179 163h0M152 157h0M191 162h0M202 95h0M168 162h0M187 170h0M173 143h0M145 133h0M122 151h0M69 125h0M72 88h0M105 214h0M122 122h0M33 104h0M132 119h0M73 111h0M56 64h0M88 165h0M157 169h0M64 181h0M126 163h0M218 123h0M119 214h0M54 149h0M97 21h0M169 174h0M106 194h0M137 106h0M174 107h0M38 78h0M105 115h0M112 164h0M102 121h0M70 86h0M202 116h0M177 98h0M17 66h0M145 197h0M29 186h0M74 126h0M10 152h0M197 162h0M183 163h0M87 177h0M16 90h0M164 192h0M141 87h0' stroke='#000' stroke-opacity='0.6' stroke-width='2.2' stroke-linecap='square' fill='none'/>
<path d='M58.3,602.3L55.3,602.2L54.0,601.9L52.3,601.2L51.7,600.6L50.7,600.2L49.7,598.9L49.3,597.9L49.2,596.6L49.5,594.6L50.3,593.1L51.0,592.7L51.9,591.6L53.0,591.2L53.7,590.4L55.3,589.8L57.3,589.3L60.3,589.2L63.7,589.9L66.4,591.6L67.3,593.5L67.5,594.2L67.3,596.2L66.7,597.9L64.0,600.4L62.0,601.4L58.3,602.3Z' fill='none' stroke='#000' stroke-opacity='0.6' stroke-width='2.6' filter='url(#blr)'/>
<path d='M58.3,602.3L55.3,602.2L54.0,601.9L52.3,601.2L51.7,600.6L50.7,600.2L49.7,598.9L49.3,597.9L49.2,596.6L49.5,594.6L50.3,593.1L51.0,592.7L51.9,591.6L53.0,591.2L53.7,590.4L55.3,589.8L57.3,589.3L60.3,589.2L63.7,589.9L66.4,591.6L67.3,593.5L67.5,594.2L67.3,596.2L66.7,597.9L64.0,600.4L62.0,601.4L58.3,602.3Z' fill='#b8b8b8' stroke='#0a0a0a' stroke-width='1.3'/>
<path d='M59.3,600.9L56.0,601.1L54.7,600.8L53.0,599.8L51.3,598.2L51.1,597.9L51.0,596.2L51.3,594.6L51.9,593.6L53.7,592.0L55.7,591.3L56.7,590.6L60.3,590.4L61.3,590.8L63.0,591.1L64.9,592.6L65.6,593.9L65.7,594.9L65.5,596.2L65.0,597.6L62.7,599.6L61.3,600.3L59.3,600.9Z' fill='#c8c8c8' stroke='#333' stroke-width='0.55'/>
<path d='M58.0,600.1L56.7,600.1L53.5,598.9L52.3,596.9L52.1,595.9L52.7,594.9L53.0,594.0L54.1,593.2L54.7,592.4L55.7,592.1L56.7,591.5L59.7,591.4L62.7,592.1L63.3,592.9L63.7,593.6L64.3,594.2L64.4,595.2L64.0,596.9L62.0,599.0L60.7,599.3L60.0,599.8L58.7,599.7L58.0,600.1Z' fill='#c8c8c8' stroke='#444' stroke-width='0.5'/>
<path d='M58.0,599.3L57.3,599.0L56.7,599.3L56.0,599.0L55.1,598.6L53.9,597.6L53.6,597.2L53.2,595.9L53.6,594.9L55.3,593.0L57.0,592.5L58.0,591.9L59.7,592.0L61.0,592.6L61.8,592.6L62.2,593.6L63.3,594.6L63.4,595.6L63.1,596.2L62.4,597.6L61.6,598.2L59.3,599.2L58.0,599.3Z' fill='#d4d4d4' stroke='#555' stroke-width='0.45'/>
<path d='M59.0,598.8L58.3,598.7L57.7,598.2L55.7,598.3L55.6,597.9L54.5,597.2L54.4,596.9L54.8,596.2L55.0,594.9L56.3,593.7L57.5,593.2L58.0,592.6L60.7,593.1L62.5,594.6L62.6,594.9L62.3,596.2L61.3,597.6L60.0,598.1L59.0,598.8Z' fill='#e0e0e0' stroke='#666' stroke-width='0.4'/>
<path d='M58.7,597.9L56.9,597.2L56.3,596.6L56.8,595.6L56.1,595.2L56.2,594.9L56.7,594.2L58.0,593.9L58.7,594.0L59.1,593.6L59.7,593.4L60.1,593.6L60.2,594.2L61.0,594.9L61.2,595.6L60.3,597.0L59.3,597.4L58.7,597.9Z' fill='#eeeeee' stroke='#777' stroke-width='0.35'/>
</g>
<path d='M42.0,555.9 L101.2,555.9 L101.2,615.1999999999999' fill='none' stroke='#8f8f8f' stroke-width='0.9'/>
<path d='M42.0,555.9 L42.0,615.1999999999999 L101.2,615.1999999999999' fill='none' stroke='#b0b0b0' stroke-width='0.8' stroke-dasharray='0.8,0.7'/>
<line x1='41.1' y1='559.9' x2='42.9' y2='559.9' stroke='#777' stroke-width='0.6' />
<line x1='41.1' y1='572.725' x2='42.9' y2='572.725' stroke='#777' stroke-width='0.6' />
<line x1='41.1' y1='585.55' x2='42.9' y2='585.55' stroke='#777' stroke-width='0.6' />
<line x1='41.1' y1='598.375' x2='42.9' y2='598.375' stroke='#777' stroke-width='0.6' />
<line x1='41.1' y1='611.1999999999999' x2='42.9' y2='611.1999999999999' stroke='#777' stroke-width='0.6' />
<line x1='46.0' y1='614.3' x2='46.0' y2='616.0999999999999' stroke='#777' stroke-width='0.6' />
<line x1='58.8' y1='614.3' x2='58.8' y2='616.0999999999999' stroke='#777' stroke-width='0.6' />
<line x1='71.6' y1='614.3' x2='71.6' y2='616.0999999999999' stroke='#777' stroke-width='0.6' />
<line x1='84.4' y1='614.3' x2='84.4' y2='616.0999999999999' stroke='#777' stroke-width='0.6' />
<line x1='97.2' y1='614.3' x2='97.2' y2='616.0999999999999' stroke='#777' stroke-width='0.6' />
<line x1='42.0' y1='603.3399999999999' x2='42.0' y2='605.54' stroke='#111' stroke-width='1.2' />
<line x1='46.144' y1='615.1999999999999' x2='53.84' y2='615.1999999999999' stroke='#555' stroke-width='1.0' />
<clipPath id='c33'><rect x='103.4' y='555.9' width='59.2' height='59.3'/></clipPath>
<g clip-path='url(#c33)'>
<radialGradient id='h34'><stop offset='0.000' stop-color='#000' stop-opacity='0.412'/><stop offset='0.125' stop-color='#000' stop-opacity='0.390'/><stop offset='0.250' stop-color='#000' stop-opacity='0.330'/><stop offset='0.375' stop-color='#000' stop-opacity='0.246'/><stop offset='0.500' stop-color='#000' stop-opacity='0.158'/><stop offset='0.625' stop-color='#000' stop-opacity='0.087'/><stop offset='0.750' stop-color='#000' stop-opacity='0.041'/><stop offset='0.875' stop-color='#000' stop-opacity='0.017'/><stop offset='1.000' stop-color='#000' stop-opacity='0.006'/></radialGradient>
<ellipse transform='translate(133.4,587.9) rotate(-20)' rx='18.0' ry='15.0' fill='url(#h34)'/>
<radialGradient id='h35'><stop offset='0.000' stop-color='#000' stop-opacity='0.198'/><stop offset='0.125' stop-color='#000' stop-opacity='0.186'/><stop offset='0.250' stop-color='#000' stop-opacity='0.154'/><stop offset='0.375' stop-color='#000' stop-opacity='0.111'/><stop offset='0.500' stop-color='#000' stop-opacity='0.069'/><stop offset='0.625' stop-color='#000' stop-opacity='0.037'/><stop offset='0.750' stop-color='#000' stop-opacity='0.017'/><stop offset='0.875' stop-color='#000' stop-opacity='0.007'/><stop offset='1.000' stop-color='#000' stop-opacity='0.002'/></radialGradient>
<ellipse transform='translate(123.4,595.9) rotate(-20)' rx='27.0' ry='18.0' fill='url(#h35)'/>
<radialGradient id='h36'><stop offset='0.000' stop-color='#000' stop-opacity='0.180'/><stop offset='0.125' stop-color='#000' stop-opacity='0.169'/><stop offset='0.250' stop-color='#000' stop-opacity='0.139'/><stop offset='0.375' stop-color='#000' stop-opacity='0.100'/><stop offset='0.500' stop-color='#000' stop-opacity='0.063'/><stop offset='0.625' stop-color='#000' stop-opacity='0.034'/><stop offset='0.750' stop-color='#000' stop-opacity='0.016'/><stop offset='0.875' stop-color='#000' stop-opacity='0.006'/><stop offset='1.000' stop-color='#000' stop-opacity='0.002'/></radialGradient>
<ellipse transform='translate(123.4,605.9) rotate(0)' rx='30.0' ry='12.0' fill='url(#h36)'/>
<radialGradient id='h37'><stop offset='0.000' stop-color='#000' stop-opacity='0.025'/><stop offset='0.125' stop-color='#000' stop-opacity='0.023'/><stop offset='0.250' stop-color='#000' stop-opacity='0.019'/><stop offset='0.375' stop-color='#000' stop-opacity='0.013'/><stop offset='0.500' stop-color='#000' stop-opacity='0.008'/><stop offset='0.625' stop-color='#000' stop-opacity='0.004'/><stop offset='0.750' stop-color='#000' stop-opacity='0.002'/><stop offset='0.875' stop-color='#000' stop-opacity='0.001'/><stop offset='1.000' stop-color='#000' stop-opacity='0.000'/></radialGradient>
<ellipse transform='translate(133.4,589.9) rotate(0)' rx='51.0' ry='42.0' fill='url(#h37)'/>
<path transform='translate(103.4,555.9) scale(0.25)' d='M113 80h0M93 168h0M80 146h0M93 126h0M119 130h0M82 148h0M149 172h0M105 119h0M121 135h0M98 123h0M105 112h0M112 128h0M48 177h0M136 115h0M118 118h0M105 130h0M152 98h0M112 82h0M138 112h0M90 99h0M135 120h0M119 121h0M113 144h0M125 110h0M129 157h0M71 138h0M112 113h0M117 114h0M146 119h0M159 159h0M96 162h0M129 122h0M79 178h0M110 144h0M129 98h0M110 96h0M75 127h0M144 126h0M119 134h0M113 122h0M121 100h0M140 116h0M108 107h0M146 160h0M97 118h0M113 113h0M136 164h0M123 115h0M126 129h0M101 134h0M154 146h0M141 153h0M102 157h0M89 116h0M119 88h0M134 172h0M140 97h0M142 93h0M126 151h0M92 145h0M128 118h0M127 115h0M137 134h0M103 148h0M107 116h0M149 131h0M133 95h0M140 69h0M75 136h0M106 165h0M112 124h0M72 141h0M95 96h0M124 144h0M99 121h0M93 108h0M115 116h0M124 79h0M128 116h0M99 117h0M135 123h0M88 90h0M118 137h0M93 104h0M121 106h0M121 119h0M76 138h0M99 146h0M92 110h0M92 140h0M138 123h0M139 123h0M121 136h0M161 114h0M128 140h0M115 138h0M158 109h0M118 101h0M142 113h0M123 151h0M95 132h0M125 154h0M123 146h0M104 170h0M134 90h0M57 169h0M113 104h0M132 136h0M116 129h0M124 116h0M155 122h0M115 122h0M103 138h0M115 133h0M157 81h0M165 142h0M71 109h0M126 102h0M103 111h0M168 96h0M134 71h0M89 177h0M151 122h0M86 119h0M105 116h0M92 142h0M121 133h0M122 130h0M93 126h0M112 136h0M93 119h0M155 83h0M161 160h0M102 138h0M102 129h0M126 137h0M97 151h0M138 107h0M105 158h0M126 114h0M115 132h0M141 104h0M156 156h0M111 95h0M107 133h0M97 125h0M155 133h0M137 149h0M146 149h0M117 123h0M94 140h0M133 144h0M123 124h0M124 140h0M113 193h0M89 105h0M90 136h0M129 135h0M107 113h0M109 151h0M125 108h0M102 123h0M170 115h0M119 136h0M158 148h0M103 158h0M108 133h0M151 152h0M86 127h0M103 136h0M132 124h0M101 127h0M123 95h0M139 145h0M107 113h0M92 145h0M140 126h0M129 111h0M100 132h0M119 135h0M123 150h0M94 126h0M86 152h0M77 159h0M58 175h0M89 146h0M47 206h0M82 173h0M77 141h0M92 157h0M45 158h0M55 171h0M120 107h0M24 198h0M87 153h0M65 162h0M56 149h0M181 138h0M82 144h0M83 210h0M159 95h0M83 181h0M139 136h0M90 168h0M98 160h0M56 158h0M145 110h0M80 186h0M88 173h0M134 167h0M118 182h0M53 166h0M29 150h0M13 186h0M101 158h0M80 160h0M73 157h0M107 173h0M132 140h0M71 142h0M152 204h0M71 154h0M75 176h0M164 108h0M84 158h0M57 179h0M83 149h0M42 195h0M77 152h0M56 154h0M88 163h0M129 179h0M16 212h0M60 173h0M97 178h0M78 153h0M55 139h0M132 155h0M107 136h0M59 178h0M63 168h0M36 172h0M73 129h0M82 172h0M80 162h0M131 156h0M104 184h0M122 153h0M90 171h0M91 144h0M95 153h0M107 136h0M81 150h0M78 199h0M73 160h0M58 170h0M43 139h0M71 186h0M74 143h0M25 146h0M94 174h0M79 137h0M143 154h0M111 172h0M132 156h0M75 160h0M128 187h0M114 160h0M34 148h0M55 140h0M67 126h0M72 132h0M99 169h0M84 148h0M60 193h0M72 158h0M73 162h0M31 175h0M100 153h0M106 129h0M74 155h0M115 147h0M85 153h0M43 152h0M77 160h0M87 185h0M77 205h0M125 136h0M75 208h0M44 176h0M74 171h0M57 144h0M36 189h0M141 172h0M122 150h0M134 177h0M53 171h0M6 166h0M83 154h0M62 185h0M51 137h0M60 136h0M79 173h0M79 156h0M62 173h0M64 151h0M89 162h0M74 155h0M83 149h0M62 202h0M149 99h0M59 199h0M150 95h0M123 128h0M38 127h0M117 144h0M151 178h0M9 201h0M23 195h0M147 186h0M69 181h0M76 185h0M41 205h0M48 218h0M153 189h0M82 192h0M102 187h0M54 218h0M32 177h0M109 189h0M42 220h0M146 212h0M112 202h0M151 199h0M122 206h0M101 225h0M148 187h0M86 214h0M98 215h0M110 225h0M135 198h0M35 196h0M114 204h0M122 205h0M58 217h0M148 201h0M7 201h0M86 213h0M54 186h0M86 205h0M68 215h0M162 200h0M169 209h0M70 213h0M131 196h0M68 217h0M127 195h0M97 215h0M82 180h0M97 188h0M147 227h0M70 196h0M91 192h0M36 198h0M77 197h0M91 201h0M81 207h0M48 214h0M116 205h0M52 177h0M72 212h0M72 182h0M114 227h0M54 202h0M134 208h0M92 209h0M99 193h0M39 168h0M90 212h0M125 194h0M7 195h0M83 219h0M74 169h0M103 185h0M118 208h0M105 214h0M106 198h0M29 193h0M61 192h0M160 170h0M58 195h0M143 207h0M105 192h0M80 220h0M110 186h0M150 212h0M40 210h0M66 195h0M79 210h0M46 196h0M99 224h0M121 201h0M83 218h0M104 191h0M94 217h0M106 98h0M12 159h0M111 147h0M161 102h0M173 194h0M102 151h0M130 161h0M60 149h0M162 91h0M42 135h0M96 153h0M199 130h0M109 160h0M114 232h0M16 78h0M161 84h0M114 139h0M164 113h0M71 137h0M90 88h0M144 111h0M224 66h0M185 46h0M151 155h0M57 126h0M140 59h0M97 135h0M227 116h0M53 106h0M130 175h0M228 116h0M91 197h0M70 199h0M121 141h0M209 69h0M177 50h0M120 178h0M189 53h0M206 102h0M153 150h0M103 146h0M132 62h0M191 116h0M69 105h0M60 115h0M138 185h0M150 183h0M175 171h0M63 118h0M93 123h0M150 218h0M137 91h0M179 160h0M121 121h0M97 190h0M94 195h0M188 195h0M147 197h0M126 114h0M92 60h0M133 85h0M17 144h0' stroke='#000' stroke-opacity='0.6' stroke-width='2.2' stroke-linecap='square' fill='none'/>
<path d='M120.4,602.6L119.4,602.8L118.1,602.6L117.1,602.8L115.7,602.6L114.4,602.0L113.7,602.0L112.7,601.4L111.5,600.2L110.7,599.2L110.7,598.6L110.1,597.9L110.0,597.2L110.3,596.6L110.5,595.2L112.0,592.9L113.4,591.4L116.4,589.4L120.4,587.8L124.4,586.8L129.4,586.9L132.7,588.5L133.7,590.0L134.1,592.2L134.0,593.6L132.1,596.9L131.4,597.3L130.2,598.6L129.4,598.9L129.1,599.4L127.4,600.4L125.6,600.9L124.1,601.8L123.1,602.0L121.7,602.5L120.4,602.6Z' fill='none' stroke='#000' stroke-opacity='0.6' stroke-width='2.6' filter='url(#blr)'/>
<path d='M120.4,602.6L119.4,602.8L118.1,602.6L117.1,602.8L115.7,602.6L114.4,602.0L113.7,602.0L112.7,601.4L111.5,600.2L110.7,599.2L110.7,598.6L110.1,597.9L110.0,597.2L110.3,596.6L110.5,595.2L112.0,592.9L113.4,591.4L116.4,589.4L120.4,587.8L124.4,586.8L129.4,586.9L132.7,588.5L133.7,590.0L134.1,592.2L134.0,593.6L132.1,596.9L131.4,597.3L130.2,598.6L129.4,598.9L129.1,599.4L127.4,600.4L125.6,600.9L124.1,601.8L123.1,602.0L121.7,602.5L120.4,602.6Z' fill='#b8b8b8' stroke='#0a0a0a' stroke-width='1.3'/>
<path d='M120.4,601.2L119.4,601.4L115.7,600.9L115.0,600.2L113.6,599.6L112.8,598.9L112.4,597.6L112.0,596.9L112.1,595.2L113.6,592.9L116.1,591.1L121.4,588.7L122.4,588.7L123.4,588.3L124.7,588.5L126.4,588.2L129.4,588.9L130.4,589.6L131.7,591.2L131.8,592.9L131.3,594.2L131.1,595.4L130.3,595.9L128.1,598.3L127.1,598.9L124.4,600.2L122.1,600.8L121.4,601.2L120.4,601.2Z' fill='#c8c8c8' stroke='#333' stroke-width='0.55'/>
<path d='M121.1,600.1L119.4,600.2L117.7,600.0L117.4,599.8L116.7,599.8L115.7,599.0L115.1,599.2L114.6,598.9L114.2,598.2L113.6,597.9L113.6,597.2L113.2,596.6L113.2,595.6L114.0,594.2L115.4,592.8L117.9,591.2L122.4,589.7L125.4,589.3L127.1,590.2L128.4,590.0L129.1,590.9L129.7,591.1L129.9,591.6L129.6,591.9L130.0,592.6L130.2,593.6L129.4,594.5L129.2,595.2L128.3,596.2L127.8,597.2L126.7,597.7L126.1,598.3L125.4,598.2L124.7,598.8L122.1,599.7L121.4,599.7L121.1,600.1Z' fill='#c8c8c8' stroke='#444' stroke-width='0.5'/>
<path d='M121.7,598.9L120.7,599.1L118.1,599.0L116.7,598.8L115.1,598.0L114.5,597.2L114.2,595.9L114.7,594.6L115.4,594.1L116.0,593.2L117.1,592.6L121.7,590.7L124.4,590.6L125.1,590.2L125.2,590.6L126.7,591.0L127.4,591.6L128.4,591.5L128.4,592.0L128.1,592.2L127.4,592.1L127.4,592.2L128.4,592.5L128.7,592.9L128.7,593.2L128.1,593.9L128.3,594.9L128.2,595.2L127.4,595.7L126.4,596.7L125.1,597.3L124.6,597.9L121.7,598.9Z' fill='#d4d4d4' stroke='#555' stroke-width='0.45'/>
<path d='M121.1,598.4L120.7,598.5L120.1,598.1L119.1,598.4L117.4,598.3L116.7,598.0L115.7,597.2L115.3,596.6L115.2,595.6L116.4,593.7L117.7,592.9L119.4,592.5L120.5,591.9L121.4,591.7L122.7,591.8L123.7,591.3L124.7,591.3L126.4,591.9L126.6,592.9L127.1,593.6L126.4,594.2L126.8,595.2L126.7,595.6L125.1,596.6L124.1,597.6L123.1,597.5L122.1,598.1L121.4,598.0L121.1,598.4Z' fill='#e0e0e0' stroke='#666' stroke-width='0.4'/>
<path d='M118.4,597.6L117.7,597.8L117.3,597.6L116.5,596.6L116.3,595.9L116.7,594.9L117.4,594.2L117.7,593.5L119.4,593.3L120.4,593.4L121.4,592.5L122.7,592.8L123.7,592.3L124.1,592.6L123.5,592.9L123.7,593.2L125.2,593.6L125.4,593.9L124.8,594.6L125.0,595.6L124.7,596.0L121.7,597.2L119.4,596.8L118.4,597.6Z' fill='#eeeeee' stroke='#777' stroke-width='0.35'/>
</g>
<path d='M103.4,555.9 L162.60000000000002,555.9 L162.60000000000002,615.1999999999999' fill='none' stroke='#8f8f8f' stroke-width='0.9'/>
<path d='M103.4,555.9 L103.4,615.1999999999999 L162.60000000000002,615.1999999999999' fill='none' stroke='#b0b0b0' stroke-width='0.8' stroke-dasharray='0.8,0.7'/>
<line x1='102.5' y1='559.9' x2='104.30000000000001' y2='559.9' stroke='#777' stroke-width='0.6' />
<line x1='102.5' y1='572.725' x2='104.30000000000001' y2='572.725' stroke='#777' stroke-width='0.6' />
<line x1='102.5' y1='585.55' x2='104.30000000000001' y2='585.55' stroke='#777' stroke-width='0.6' />
<line x1='102.5' y1='598.375' x2='104.30000000000001' y2='598.375' stroke='#777' stroke-width='0.6' />
<line x1='102.5' y1='611.1999999999999' x2='104.30000000000001' y2='611.1999999999999' stroke='#777' stroke-width='0.6' />
<line x1='107.4' y1='614.3' x2='107.4' y2='616.0999999999999' stroke='#777' stroke-width='0.6' />
<line x1='120.2' y1='614.3' x2='120.2' y2='616.0999999999999' stroke='#777' stroke-width='0.6' />
<line x1='133.0' y1='614.3' x2='133.0' y2='616.0999999999999' stroke='#777' stroke-width='0.6' />
<line x1='145.8' y1='614.3' x2='145.8' y2='616.0999999999999' stroke='#777' stroke-width='0.6' />
<line x1='158.60000000000002' y1='614.3' x2='158.60000000000002' y2='616.0999999999999' stroke='#777' stroke-width='0.6' />
<line x1='103.4' y1='603.3399999999999' x2='103.4' y2='605.54' stroke='#111' stroke-width='1.2' />
<line x1='107.54400000000001' y1='615.1999999999999' x2='115.24000000000001' y2='615.1999999999999' stroke='#555' stroke-width='1.0' />
<clipPath id='c38'><rect x='164.8' y='555.9' width='59.2' height='59.3'/></clipPath>
<g clip-path='url(#c38)'>
<radialGradient id='h39'><stop offset='0.000' stop-color='#000' stop-opacity='0.225'/><stop offset='0.125' stop-color='#000' stop-opacity='0.212'/><stop offset='0.250' stop-color='#000' stop-opacity='0.175'/><stop offset='0.375' stop-color='#000' stop-opacity='0.127'/><stop offset='0.500' stop-color='#000' stop-opacity='0.079'/><stop offset='0.625' stop-color='#000' stop-opacity='0.043'/><stop offset='0.750' stop-color='#000' stop-opacity='0.020'/><stop offset='0.875' stop-color='#000' stop-opacity='0.008'/><stop offset='1.000' stop-color='#000' stop-opacity='0.003'/></radialGradient>
<ellipse transform='translate(190.8,583.9) rotate(-38)' rx='36.0' ry='19.5' fill='url(#h39)'/>
<radialGradient id='h40'><stop offset='0.000' stop-color='#000' stop-opacity='0.117'/><stop offset='0.125' stop-color='#000' stop-opacity='0.109'/><stop offset='0.250' stop-color='#000' stop-opacity='0.090'/><stop offset='0.375' stop-color='#000' stop-opacity='0.064'/><stop offset='0.500' stop-color='#000' stop-opacity='0.040'/><stop offset='0.625' stop-color='#000' stop-opacity='0.021'/><stop offset='0.750' stop-color='#000' stop-opacity='0.010'/><stop offset='0.875' stop-color='#000' stop-opacity='0.004'/><stop offset='1.000' stop-color='#000' stop-opacity='0.001'/></radialGradient>
<ellipse transform='translate(186.8,599.9) rotate(0)' rx='30.0' ry='24.0' fill='url(#h40)'/>
<radialGradient id='h41'><stop offset='0.000' stop-color='#000' stop-opacity='0.031'/><stop offset='0.125' stop-color='#000' stop-opacity='0.029'/><stop offset='0.250' stop-color='#000' stop-opacity='0.023'/><stop offset='0.375' stop-color='#000' stop-opacity='0.016'/><stop offset='0.500' stop-color='#000' stop-opacity='0.010'/><stop offset='0.625' stop-color='#000' stop-opacity='0.005'/><stop offset='0.750' stop-color='#000' stop-opacity='0.002'/><stop offset='0.875' stop-color='#000' stop-opacity='0.001'/><stop offset='1.000' stop-color='#000' stop-opacity='0.000'/></radialGradient>
<ellipse transform='translate(192.8,591.9) rotate(0)' rx='51.0' ry='45.0' fill='url(#h41)'/>
<path transform='translate(164.8,555.9) scale(0.25)' d='M130 147h0M89 144h0M4 171h0M89 108h0M105 147h0M184 79h0M198 122h0M135 105h0M198 48h0M153 55h0M144 126h0M79 154h0M136 147h0M46 132h0M136 73h0M88 115h0M103 102h0M45 88h0M156 53h0M97 166h0M141 119h0M176 80h0M143 88h0M76 163h0M126 98h0M55 132h0M139 75h0M105 136h0M73 148h0M90 97h0M111 67h0M115 133h0M65 128h0M114 118h0M116 84h0M73 86h0M150 60h0M39 117h0M107 117h0M87 107h0M106 139h0M139 89h0M36 141h0M112 99h0M118 114h0M104 125h0M17 187h0M34 166h0M43 119h0M131 88h0M100 118h0M68 126h0M45 151h0M47 151h0M35 185h0M104 123h0M97 117h0M66 132h0M161 131h0M91 100h0M96 161h0M58 171h0M95 105h0M71 126h0M139 65h0M95 137h0M27 155h0M120 124h0M83 153h0M66 151h0M160 117h0M18 122h0M55 85h0M73 144h0M91 152h0M121 100h0M158 92h0M125 129h0M142 103h0M86 141h0M53 146h0M34 132h0M136 75h0M105 112h0M93 123h0M77 105h0M149 100h0M143 144h0M91 92h0M107 137h0M39 141h0M126 50h0M136 107h0M111 128h0M126 91h0M88 109h0M133 117h0M116 114h0M97 105h0M102 94h0M141 127h0M127 104h0M121 90h0M129 66h0M100 165h0M105 138h0M78 132h0M166 95h0M153 159h0M68 92h0M87 155h0M122 46h0M124 47h0M51 118h0M119 121h0M101 70h0M81 111h0M166 19h0M101 82h0M109 148h0M117 110h0M88 50h0M157 72h0M125 91h0M112 148h0M85 88h0M102 91h0M110 102h0M114 143h0M105 134h0M93 76h0M99 76h0M137 56h0M160 61h0M80 123h0M76 167h0M110 135h0M18 144h0M118 70h0M107 110h0M163 56h0M98 103h0M109 125h0M75 140h0M97 97h0M113 97h0M20 202h0M94 124h0M108 111h0M114 108h0M42 127h0M95 119h0M139 127h0M105 110h0M77 116h0M157 37h0M131 146h0M112 116h0M136 76h0M113 125h0M104 64h0M124 134h0M91 107h0M132 69h0M72 189h0M85 105h0M144 86h0M103 108h0M62 87h0M124 145h0M84 162h0M97 84h0M103 197h0M97 177h0M96 111h0M117 130h0M78 93h0M88 117h0M120 128h0M150 158h0M144 125h0M122 103h0M137 129h0M67 126h0M117 133h0M136 85h0M32 81h0M51 97h0M73 156h0M139 72h0M114 82h0M132 110h0M43 158h0M104 86h0M123 220h0M170 102h0M99 135h0M129 59h0M113 88h0M88 201h0M88 118h0M115 155h0M72 124h0M82 86h0M83 170h0M105 85h0M90 140h0M82 115h0M113 116h0M87 82h0M135 114h0M101 140h0M107 162h0M90 167h0M218 82h0M148 100h0M81 96h0M165 80h0M71 125h0M80 164h0M160 132h0M145 61h0M89 126h0M171 35h0M99 74h0M101 184h0M85 130h0M133 125h0M132 73h0M85 64h0M86 158h0M43 155h0M120 101h0M121 134h0M77 96h0M69 158h0M106 106h0M170 158h0M49 116h0M75 107h0M89 74h0M167 32h0M82 122h0M56 161h0M130 136h0M73 125h0M77 88h0M176 104h0M142 120h0M108 140h0M115 84h0M63 112h0M143 63h0M107 139h0M172 58h0M114 132h0M57 205h0M45 160h0M27 162h0M72 102h0M98 75h0M98 93h0M131 65h0M121 50h0M82 144h0M98 130h0M102 48h0M85 119h0M94 104h0M107 80h0M66 122h0M92 97h0M173 111h0M100 133h0M53 195h0M87 165h0M149 185h0M31 234h0M149 167h0M125 162h0M78 154h0M53 192h0M63 170h0M68 227h0M93 212h0M21 124h0M29 209h0M101 208h0M38 185h0M129 161h0M85 173h0M97 168h0M114 170h0M131 195h0M89 150h0M89 171h0M131 210h0M68 226h0M29 164h0M120 215h0M86 167h0M131 170h0M132 135h0M97 212h0M101 193h0M65 176h0M34 226h0M114 197h0M128 217h0M81 220h0M112 155h0M107 175h0M107 142h0M50 188h0M110 151h0M50 231h0M76 179h0M58 183h0M126 131h0M86 127h0M89 185h0M117 182h0M100 120h0M71 198h0M49 197h0M101 182h0M92 218h0M106 163h0M166 208h0M119 135h0M25 208h0M53 223h0M94 137h0M105 152h0M163 207h0M141 159h0M99 148h0M105 204h0M142 173h0M40 196h0M43 130h0M77 193h0M48 226h0M81 195h0M69 228h0M117 202h0M76 115h0M55 221h0M54 143h0M147 184h0M138 218h0M89 202h0M111 178h0M53 210h0M74 167h0M51 204h0M82 198h0M85 184h0M13 163h0M92 222h0M76 123h0M154 222h0M29 181h0M94 149h0M97 167h0M102 125h0M118 210h0M90 110h0M38 203h0M72 177h0M72 144h0M98 224h0M81 206h0M31 138h0M131 119h0M156 154h0M122 155h0M131 159h0M74 175h0M100 196h0M160 152h0M107 228h0M103 189h0M123 173h0M125 167h0M31 208h0M109 183h0M87 157h0M53 180h0M61 208h0M127 132h0M161 164h0M110 162h0M59 206h0M64 219h0M53 159h0M86 195h0M113 160h0M132 211h0M175 149h0M69 155h0M37 175h0M118 196h0M88 132h0M134 150h0M107 203h0M55 178h0M90 103h0M104 102h0M69 158h0M160 85h0M15 182h0M114 198h0M163 117h0M93 101h0M73 76h0M83 189h0M77 163h0M96 173h0M135 80h0M141 135h0M37 163h0M138 149h0M113 161h0M85 89h0M133 133h0M152 97h0M44 186h0M115 104h0M78 166h0M36 161h0M72 83h0M169 151h0M58 189h0M104 139h0M51 229h0M93 203h0M3 77h0M132 91h0M138 66h0M184 158h0M127 131h0M98 225h0M77 179h0M160 146h0M144 125h0M105 224h0M131 112h0M102 180h0M230 129h0M31 157h0M93 211h0M77 124h0M177 177h0M163 70h0M80 146h0M83 118h0M79 116h0M71 191h0M116 86h0M75 172h0M183 133h0M144 163h0M71 153h0M55 188h0M174 110h0M154 120h0M112 69h0M15 182h0M127 162h0M142 124h0M103 91h0M128 122h0M55 19h0M193 89h0M58 147h0M56 150h0M146 205h0M105 79h0M114 71h0M44 144h0M153 116h0M75 143h0M118 151h0M43 98h0M160 197h0M111 233h0M183 196h0M161 49h0M133 85h0M132 201h0M119 37h0M223 160h0M194 115h0M20 126h0M147 36h0M159 196h0M71 204h0M20 100h0M29 33h0M149 202h0M102 125h0' stroke='#000' stroke-opacity='0.6' stroke-width='2.2' stroke-linecap='square' fill='none'/>
<path d='M180.1,599.0L179.1,599.1L177.1,598.8L175.1,597.7L174.1,596.3L173.4,594.6L173.3,592.6L174.0,589.9L175.3,587.2L176.0,584.9L176.8,584.2L177.1,583.5L178.0,582.6L182.5,579.0L187.8,575.3L189.3,574.9L190.7,573.9L194.1,572.5L195.5,571.7L197.1,571.4L198.1,571.6L201.1,571.1L202.5,571.3L204.1,572.4L205.0,573.6L205.5,574.9L205.5,576.6L205.0,578.2L204.2,579.6L204.1,580.6L202.5,583.7L200.1,585.9L198.9,587.6L198.1,588.1L196.4,589.9L189.1,594.4L182.1,598.4L181.5,598.7L180.1,599.0Z' fill='none' stroke='#000' stroke-opacity='0.35' stroke-width='2.0' filter='url(#blr)'/>
<path d='M180.1,599.0L179.1,599.1L177.1,598.8L175.1,597.7L174.1,596.3L173.4,594.6L173.3,592.6L174.0,589.9L175.3,587.2L176.0,584.9L176.8,584.2L177.1,583.5L178.0,582.6L182.5,579.0L187.8,575.3L189.3,574.9L190.7,573.9L194.1,572.5L195.5,571.7L197.1,571.4L198.1,571.6L201.1,571.1L202.5,571.3L204.1,572.4L205.0,573.6L205.5,574.9L205.5,576.6L205.0,578.2L204.2,579.6L204.1,580.6L202.5,583.7L200.1,585.9L198.9,587.6L198.1,588.1L196.4,589.9L189.1,594.4L182.1,598.4L181.5,598.7L180.1,599.0Z' fill='#d6d6d6' stroke='#222' stroke-width='0.9'/>
<path d='M186.8,587.0L186.1,586.8L185.9,586.6L185.9,586.2L186.8,585.9L188.1,584.9L187.5,583.9L187.8,583.4L188.5,583.5L188.6,583.2L188.5,582.5L189.1,582.5L189.6,582.2L189.8,581.9L189.5,581.2L189.8,580.9L191.0,580.6L191.5,579.6L191.8,579.7L192.1,578.9L193.1,578.4L194.8,578.6L195.2,578.2L195.3,577.2L195.5,577.0L196.1,577.7L196.8,577.4L197.0,577.6L196.8,577.9L196.2,578.2L195.8,579.2L196.3,579.9L196.4,580.6L196.1,580.8L195.1,580.9L194.7,581.9L193.5,582.2L193.4,582.9L193.1,583.1L192.5,583.1L192.3,583.9L191.4,584.6L190.5,584.5L189.2,585.2L189.1,585.6L189.2,586.2L188.8,586.6L188.5,586.7L187.8,586.4L186.8,587.0ZM185.8,584.9L185.7,584.6L186.5,583.8L186.8,583.8L187.3,584.2L186.8,584.8L185.8,584.9ZM180.1,597.9L177.5,597.7L176.0,596.6L175.1,595.2L174.9,593.2L175.1,592.2L175.8,591.2L176.8,590.8L177.5,589.9L178.5,589.9L179.1,590.3L179.8,589.8L181.5,589.8L182.4,590.2L182.5,591.0L183.1,591.2L183.8,591.9L183.8,592.9L184.3,593.6L184.0,594.6L182.1,596.9L180.1,597.9Z' fill='#e6e6e6' stroke='#666' stroke-width='0.45'/>
<path d='M179.8,597.2L178.8,597.3L177.8,597.0L177.0,596.6L176.0,595.6L176.0,594.6L175.7,593.9L175.6,593.2L176.8,591.6L177.5,591.6L178.5,591.0L180.1,591.1L181.2,591.9L182.0,592.2L182.6,595.2L181.5,596.5L179.8,597.2Z' fill='#c8c8c8' stroke='#111' stroke-width='1.0'/>
<path d='M179.8,596.3L178.8,596.5L178.1,596.4L176.8,595.2L176.4,593.6L177.1,592.7L177.8,592.6L178.5,592.0L180.5,592.4L181.5,594.1L181.1,594.9L181.1,595.6L179.8,596.3Z' fill='#b8b8b8' stroke='#222' stroke-width='0.7'/>
<path d='M179.1,595.7L178.8,595.8L177.7,595.2L177.6,593.9L178.1,593.1L178.5,593.0L179.1,593.5L180.1,593.1L180.4,593.6L180.6,594.2L180.2,595.2L179.5,595.4L179.1,595.7Z' fill='#ececec' stroke='#444' stroke-width='0.5'/>
</g>
<path d='M164.8,555.9 L224.0,555.9 L224.0,615.1999999999999' fill='none' stroke='#8f8f8f' stroke-width='0.9'/>
<path d='M164.8,555.9 L164.8,615.1999999999999 L224.0,615.1999999999999' fill='none' stroke='#b0b0b0' stroke-width='0.8' stroke-dasharray='0.8,0.7'/>
<line x1='163.9' y1='559.9' x2='165.70000000000002' y2='559.9' stroke='#777' stroke-width='0.6' />
<line x1='163.9' y1='572.725' x2='165.70000000000002' y2='572.725' stroke='#777' stroke-width='0.6' />
<line x1='163.9' y1='585.55' x2='165.70000000000002' y2='585.55' stroke='#777' stroke-width='0.6' />
<line x1='163.9' y1='598.375' x2='165.70000000000002' y2='598.375' stroke='#777' stroke-width='0.6' />
<line x1='163.9' y1='611.1999999999999' x2='165.70000000000002' y2='611.1999999999999' stroke='#777' stroke-width='0.6' />
<line x1='168.8' y1='614.3' x2='168.8' y2='616.0999999999999' stroke='#777' stroke-width='0.6' />
<line x1='181.60000000000002' y1='614.3' x2='181.60000000000002' y2='616.0999999999999' stroke='#777' stroke-width='0.6' />
<line x1='194.4' y1='614.3' x2='194.4' y2='616.0999999999999' stroke='#777' stroke-width='0.6' />
<line x1='207.20000000000002' y1='614.3' x2='207.20000000000002' y2='616.0999999999999' stroke='#777' stroke-width='0.6' />
<line x1='220.0' y1='614.3' x2='220.0' y2='616.0999999999999' stroke='#777' stroke-width='0.6' />
<line x1='164.8' y1='603.3399999999999' x2='164.8' y2='605.54' stroke='#111' stroke-width='1.2' />
<line x1='168.94400000000002' y1='615.1999999999999' x2='176.64000000000001' y2='615.1999999999999' stroke='#555' stroke-width='1.0' />
<clipPath id='c42'><rect x='226.0' y='555.9' width='59.2' height='59.3'/></clipPath>
<g clip-path='url(#c42)'>
<radialGradient id='h43'><stop offset='0.000' stop-color='#000' stop-opacity='0.225'/><stop offset='0.125' stop-color='#000' stop-opacity='0.212'/><stop offset='0.250' stop-color='#000' stop-opacity='0.175'/><stop offset='0.375' stop-color='#000' stop-opacity='0.127'/><stop offset='0.500' stop-color='#000' stop-opacity='0.079'/><stop offset='0.625' stop-color='#000' stop-opacity='0.043'/><stop offset='0.750' stop-color='#000' stop-opacity='0.020'/><stop offset='0.875' stop-color='#000' stop-opacity='0.008'/><stop offset='1.000' stop-color='#000' stop-opacity='0.003'/></radialGradient>
<ellipse transform='translate(253.0,582.9) rotate(-35)' rx='36.0' ry='19.5' fill='url(#h43)'/>
<radialGradient id='h44'><stop offset='0.000' stop-color='#000' stop-opacity='0.117'/><stop offset='0.125' stop-color='#000' stop-opacity='0.109'/><stop offset='0.250' stop-color='#000' stop-opacity='0.090'/><stop offset='0.375' stop-color='#000' stop-opacity='0.064'/><stop offset='0.500' stop-color='#000' stop-opacity='0.040'/><stop offset='0.625' stop-color='#000' stop-opacity='0.021'/><stop offset='0.750' stop-color='#000' stop-opacity='0.010'/><stop offset='0.875' stop-color='#000' stop-opacity='0.004'/><stop offset='1.000' stop-color='#000' stop-opacity='0.001'/></radialGradient>
<ellipse transform='translate(250.0,599.9) rotate(0)' rx='30.0' ry='24.0' fill='url(#h44)'/>
<radialGradient id='h45'><stop offset='0.000' stop-color='#000' stop-opacity='0.031'/><stop offset='0.125' stop-color='#000' stop-opacity='0.029'/><stop offset='0.250' stop-color='#000' stop-opacity='0.023'/><stop offset='0.375' stop-color='#000' stop-opacity='0.016'/><stop offset='0.500' stop-color='#000' stop-opacity='0.010'/><stop offset='0.625' stop-color='#000' stop-opacity='0.005'/><stop offset='0.750' stop-color='#000' stop-opacity='0.002'/><stop offset='0.875' stop-color='#000' stop-opacity='0.001'/><stop offset='1.000' stop-color='#000' stop-opacity='0.000'/></radialGradient>
<ellipse transform='translate(254.0,591.9) rotate(0)' rx='51.0' ry='45.0' fill='url(#h45)'/>
<path transform='translate(226.0,555.9) scale(0.25)' d='M72 120h0M71 92h0M55 105h0M128 117h0M90 140h0M160 46h0M78 153h0M58 121h0M44 126h0M113 81h0M80 166h0M156 87h0M68 116h0M151 108h0M193 68h0M70 119h0M115 65h0M116 66h0M109 114h0M109 109h0M163 88h0M29 132h0M95 91h0M216 109h0M96 138h0M133 149h0M107 115h0M149 78h0M41 146h0M101 130h0M179 137h0M157 70h0M60 136h0M129 99h0M81 84h0M119 86h0M163 57h0M53 156h0M86 146h0M114 139h0M27 165h0M50 169h0M102 117h0M122 75h0M86 62h0M96 130h0M103 98h0M126 91h0M130 104h0M46 139h0M55 160h0M149 94h0M53 174h0M146 86h0M112 58h0M71 113h0M127 127h0M138 96h0M109 139h0M107 172h0M148 109h0M131 92h0M162 93h0M55 118h0M145 134h0M111 113h0M128 55h0M110 136h0M67 137h0M138 124h0M39 151h0M67 134h0M110 126h0M179 112h0M34 123h0M83 112h0M89 118h0M33 169h0M100 65h0M80 119h0M101 124h0M110 96h0M65 152h0M48 125h0M173 88h0M111 119h0M145 72h0M165 71h0M131 110h0M47 102h0M184 63h0M75 81h0M103 149h0M138 118h0M127 61h0M140 109h0M97 125h0M143 81h0M82 133h0M124 97h0M74 80h0M94 166h0M115 59h0M111 71h0M106 148h0M60 87h0M107 95h0M139 69h0M154 53h0M85 113h0M138 92h0M144 70h0M50 113h0M122 133h0M45 137h0M111 118h0M126 73h0M133 114h0M155 97h0M120 115h0M53 122h0M119 124h0M166 65h0M68 150h0M202 55h0M113 119h0M103 107h0M54 104h0M181 85h0M104 56h0M166 64h0M117 107h0M110 84h0M200 68h0M53 132h0M126 62h0M71 123h0M99 92h0M162 75h0M92 145h0M126 100h0M25 76h0M125 138h0M126 82h0M127 88h0M103 127h0M86 88h0M142 137h0M75 86h0M81 120h0M206 62h0M121 103h0M70 126h0M153 104h0M115 152h0M120 104h0M73 86h0M161 72h0M166 78h0M29 131h0M75 152h0M130 127h0M70 127h0M121 137h0M134 150h0M179 94h0M151 46h0M165 102h0M71 136h0M104 120h0M73 104h0M100 80h0M105 87h0M101 109h0M145 87h0M131 112h0M72 112h0M153 117h0M95 73h0M129 107h0M134 94h0M99 110h0M153 90h0M109 151h0M202 35h0M149 76h0M142 60h0M95 156h0M133 110h0M81 148h0M75 126h0M161 125h0M175 61h0M115 79h0M100 38h0M85 142h0M25 170h0M186 56h0M54 137h0M85 131h0M101 99h0M53 196h0M50 161h0M81 67h0M69 143h0M97 118h0M103 39h0M111 104h0M92 91h0M119 95h0M33 154h0M90 123h0M204 62h0M140 58h0M70 76h0M3 100h0M105 139h0M134 106h0M88 168h0M178 65h0M73 137h0M95 122h0M122 144h0M157 144h0M102 120h0M211 32h0M35 138h0M103 51h0M151 128h0M47 140h0M114 160h0M87 170h0M85 171h0M119 121h0M161 81h0M71 128h0M126 104h0M99 124h0M44 159h0M90 128h0M108 131h0M169 8h0M109 104h0M74 91h0M126 104h0M153 94h0M118 125h0M106 60h0M18 198h0M65 128h0M69 142h0M88 101h0M120 134h0M110 90h0M98 111h0M74 63h0M79 110h0M131 101h0M109 140h0M36 144h0M135 82h0M72 98h0M155 101h0M136 167h0M108 145h0M75 109h0M29 148h0M134 101h0M189 52h0M92 143h0M100 90h0M99 198h0M63 190h0M108 128h0M120 194h0M66 195h0M32 167h0M96 146h0M86 180h0M107 138h0M128 174h0M67 192h0M148 198h0M149 212h0M84 164h0M46 196h0M93 154h0M81 222h0M129 196h0M105 145h0M134 143h0M92 135h0M105 157h0M67 186h0M40 180h0M152 195h0M103 216h0M43 235h0M73 190h0M114 198h0M82 140h0M114 95h0M102 188h0M135 142h0M103 164h0M159 189h0M78 206h0M140 123h0M98 230h0M94 177h0M106 163h0M45 209h0M129 206h0M60 178h0M86 192h0M90 148h0M139 173h0M116 176h0M159 204h0M155 163h0M59 164h0M74 99h0M57 221h0M121 140h0M44 163h0M34 192h0M30 174h0M97 233h0M86 222h0M122 94h0M87 176h0M74 170h0M114 130h0M95 150h0M73 159h0M148 188h0M47 207h0M110 188h0M112 195h0M110 146h0M85 166h0M158 176h0M70 177h0M82 193h0M98 189h0M97 223h0M107 148h0M117 192h0M128 206h0M104 152h0M107 212h0M58 152h0M119 166h0M116 156h0M121 193h0M87 222h0M20 156h0M194 231h0M107 150h0M119 169h0M146 182h0M73 206h0M90 112h0M62 182h0M123 139h0M69 205h0M148 138h0M126 190h0M142 153h0M19 217h0M121 138h0M58 148h0M124 181h0M115 148h0M91 138h0M90 182h0M58 176h0M128 148h0M126 179h0M118 197h0M99 143h0M93 134h0M140 188h0M49 184h0M71 192h0M76 169h0M97 176h0M101 197h0M25 152h0M103 194h0M88 178h0M74 185h0M93 164h0M60 169h0M44 180h0M159 175h0M135 164h0M144 160h0M35 179h0M133 126h0M62 206h0M113 230h0M111 199h0M181 99h0M222 226h0M148 162h0M129 81h0M109 61h0M96 221h0M171 208h0M234 163h0M55 197h0M140 184h0M69 226h0M134 124h0M137 73h0M55 166h0M175 151h0M96 117h0M210 117h0M83 162h0M104 67h0M109 134h0M136 175h0M115 88h0M68 107h0M86 49h0M112 25h0M92 99h0M208 98h0M34 157h0M217 169h0M72 165h0M106 169h0M190 80h0M73 170h0M195 74h0M129 50h0M104 145h0M119 150h0M123 124h0M128 151h0M135 119h0M91 101h0M104 130h0M155 207h0M7 132h0M33 191h0M96 161h0M94 96h0M161 55h0M49 138h0M201 128h0M115 186h0M148 144h0M12 112h0M177 149h0M138 174h0M131 191h0M77 136h0M105 19h0M168 124h0M99 120h0M178 156h0M179 167h0M163 156h0M133 142h0M49 169h0M170 57h0M45 63h0M81 31h0M171 171h0M6 175h0M154 45h0M96 175h0M124 120h0M101 178h0M91 172h0M111 150h0M170 184h0M24 122h0M135 189h0M116 153h0M136 144h0M59 54h0M61 89h0M211 115h0M129 68h0M169 83h0M156 118h0M91 194h0M93 87h0M186 37h0M132 66h0' stroke='#000' stroke-opacity='0.6' stroke-width='2.2' stroke-linecap='square' fill='none'/>
<path d='M243.7,597.6L241.7,597.8L240.7,597.7L239.0,597.1L237.1,595.6L236.2,594.6L235.9,593.9L235.2,590.9L235.1,588.6L235.2,587.2L236.2,583.9L237.3,581.2L238.3,579.9L240.7,577.8L247.7,573.3L250.7,572.1L251.6,571.9L252.3,571.5L253.7,571.2L254.3,570.8L255.7,570.5L256.7,569.9L259.3,569.5L261.3,569.5L263.0,569.9L264.0,569.9L265.3,570.5L267.0,571.8L267.8,573.2L268.1,574.2L268.1,576.9L266.9,579.9L267.0,580.9L266.3,582.6L265.1,584.6L262.0,588.9L260.0,591.1L258.9,591.6L258.1,592.2L255.3,593.7L254.5,593.9L252.7,595.0L249.7,596.2L248.7,596.3L247.0,596.9L246.0,596.8L245.0,597.4L243.7,597.6Z' fill='none' stroke='#000' stroke-opacity='0.35' stroke-width='2.0' filter='url(#blr)'/>
<path d='M243.7,597.6L241.7,597.8L240.7,597.7L239.0,597.1L237.1,595.6L236.2,594.6L235.9,593.9L235.2,590.9L235.1,588.6L235.2,587.2L236.2,583.9L237.3,581.2L238.3,579.9L240.7,577.8L247.7,573.3L250.7,572.1L251.6,571.9L252.3,571.5L253.7,571.2L254.3,570.8L255.7,570.5L256.7,569.9L259.3,569.5L261.3,569.5L263.0,569.9L264.0,569.9L265.3,570.5L267.0,571.8L267.8,573.2L268.1,574.2L268.1,576.9L266.9,579.9L267.0,580.9L266.3,582.6L265.1,584.6L262.0,588.9L260.0,591.1L258.9,591.6L258.1,592.2L255.3,593.7L254.5,593.9L252.7,595.0L249.7,596.2L248.7,596.3L247.0,596.9L246.0,596.8L245.0,597.4L243.7,597.6Z' fill='#d6d6d6' stroke='#222' stroke-width='0.9'/>
<path d='M249.7,584.9L249.3,585.1L248.9,584.9L249.1,584.6L249.9,584.2L250.2,583.2L249.7,582.6L250.0,581.5L250.5,580.9L251.3,580.5L252.3,581.1L252.7,581.1L253.0,580.9L252.6,580.2L253.0,580.1L253.6,580.2L254.0,580.8L254.3,580.6L254.8,579.9L254.5,579.2L254.7,578.7L254.1,578.2L255.0,577.6L255.7,577.6L255.7,577.2L256.0,577.0L256.3,576.9L257.0,577.9L257.7,577.9L258.0,578.2L258.1,579.2L257.7,579.6L257.3,581.1L256.8,581.2L256.3,580.5L256.0,580.8L255.3,580.8L255.3,582.2L255.0,582.5L254.3,582.7L253.7,583.1L252.7,583.0L252.5,583.6L251.6,583.9L251.8,584.6L251.7,584.7L250.7,584.3L249.7,584.9ZM243.0,596.3L241.7,596.5L240.3,596.2L238.2,594.9L237.4,593.9L236.9,591.9L237.4,589.6L238.0,588.8L239.0,588.7L239.3,588.1L239.7,587.9L241.0,588.1L241.7,587.9L243.0,588.0L244.0,587.7L244.3,588.0L244.5,588.6L245.3,589.1L246.2,590.6L246.7,592.9L246.3,594.2L245.7,594.6L244.7,595.6L243.0,596.3Z' fill='#e6e6e6' stroke='#666' stroke-width='0.45'/>
<path d='M242.3,595.7L240.7,595.6L239.7,595.2L238.7,594.5L238.0,593.6L237.8,591.9L237.9,590.9L238.4,590.2L239.7,589.4L241.3,589.2L242.3,589.4L243.3,589.8L244.1,590.6L244.9,591.9L244.8,593.9L244.0,594.3L243.3,595.2L242.3,595.7Z' fill='#c8c8c8' stroke='#111' stroke-width='1.0'/>
<path d='M242.0,594.7L240.3,594.8L239.0,593.9L238.8,593.6L238.7,592.2L239.4,590.9L240.0,590.3L240.7,590.1L241.3,590.2L243.3,591.1L243.7,591.6L243.6,592.2L244.0,592.9L243.9,593.2L243.0,594.2L242.0,594.7Z' fill='#b8b8b8' stroke='#222' stroke-width='0.7'/>
<path d='M242.7,593.6L242.0,593.8L240.7,593.8L240.0,593.6L239.6,593.2L239.4,592.2L240.0,591.1L240.7,591.0L242.3,591.6L242.9,593.2L242.7,593.6Z' fill='#ececec' stroke='#444' stroke-width='0.5'/>
</g>
<path d='M226.0,555.9 L285.2,555.9 L285.2,615.1999999999999' fill='none' stroke='#8f8f8f' stroke-width='0.9'/>
<path d='M226.0,555.9 L226.0,615.1999999999999 L285.2,615.1999999999999' fill='none' stroke='#b0b0b0' stroke-width='0.8' stroke-dasharray='0.8,0.7'/>
<line x1='225.1' y1='559.9' x2='226.9' y2='559.9' stroke='#777' stroke-width='0.6' />
<line x1='225.1' y1='572.725' x2='226.9' y2='572.725' stroke='#777' stroke-width='0.6' />
<line x1='225.1' y1='585.55' x2='226.9' y2='585.55' stroke='#777' stroke-width='0.6' />
<line x1='225.1' y1='598.375' x2='226.9' y2='598.375' stroke='#777' stroke-width='0.6' />
<line x1='225.1' y1='611.1999999999999' x2='226.9' y2='611.1999999999999' stroke='#777' stroke-width='0.6' />
<line x1='230.0' y1='614.3' x2='230.0' y2='616.0999999999999' stroke='#777' stroke-width='0.6' />
<line x1='242.8' y1='614.3' x2='242.8' y2='616.0999999999999' stroke='#777' stroke-width='0.6' />
<line x1='255.6' y1='614.3' x2='255.6' y2='616.0999999999999' stroke='#777' stroke-width='0.6' />
<line x1='268.4' y1='614.3' x2='268.4' y2='616.0999999999999' stroke='#777' stroke-width='0.6' />
<line x1='281.2' y1='614.3' x2='281.2' y2='616.0999999999999' stroke='#777' stroke-width='0.6' />
<line x1='226.0' y1='603.3399999999999' x2='226.0' y2='605.54' stroke='#111' stroke-width='1.2' />
<line x1='230.144' y1='615.1999999999999' x2='237.84' y2='615.1999999999999' stroke='#555' stroke-width='1.0' />
<path d='M60.6,578 L67.3,573.3 L77,569.8 L82.7,571.3 L84,576.2 L81.7,583.8 L75,592 Z' fill='none' stroke='#e06060' stroke-width='0.9' stroke-linejoin='round'/>
<path d='M122.3,577.7 L129.2,571.5 L138.5,569.7 L144.6,570.8 L145.8,577.7 L143,584.6 L136.2,592.3 Z' fill='none' stroke='#e06060' stroke-width='0.9' stroke-linejoin='round'/>
<path d='M183.3,578 L189.5,573.7 L198.7,569.6 L204.2,570 L206.7,574.3 L206,580.5 L203.6,586.6 L198.1,592.8 Z' fill='none' stroke='#e06060' stroke-width='0.9' stroke-linejoin='round'/>
<path d='M245.6,577.7 L252,573 L261,569.5 L267,569.8 L269.5,574 L268.8,580.5 L266,586.5 L261.8,592.3 Z' fill='none' stroke='#e06060' stroke-width='0.9' stroke-linejoin='round'/>
<text x='80' y='344.0' font-size='7.6' text-anchor='middle' fill='#1a1a1a'>0.14</text>
<text x='139.2' y='344.0' font-size='7.6' text-anchor='middle' fill='#1a1a1a'>0.21</text>
<text x='201.8' y='344.0' font-size='7.6' text-anchor='middle' fill='#1a1a1a'>6.85</text>
<text x='261.8' y='344.0' font-size='7.6' text-anchor='middle' fill='#1a1a1a'>11.7</text>
<text x='83.8' y='432.0' font-size='7.6' text-anchor='middle' fill='#1a1a1a'>0.13</text>
<text x='145.5' y='432.0' font-size='7.6' text-anchor='middle' fill='#1a1a1a'>0.46</text>
<text x='205.5' y='432.0' font-size='7.6' text-anchor='middle' fill='#1a1a1a'>0.80</text>
<text x='266.2' y='432.0' font-size='7.6' text-anchor='middle' fill='#1a1a1a'>1.52</text>
<text x='57.3' y='564.6' font-size='7.6' text-anchor='middle' fill='#1a1a1a'>1.19</text>
<text x='120.8' y='564.7' font-size='7.6' text-anchor='middle' fill='#1a1a1a'>2.08</text>
<text x='184.2' y='564.6' font-size='7.6' text-anchor='middle' fill='#1a1a1a'>31.6</text>
<text x='247.5' y='564.6' font-size='7.6' text-anchor='middle' fill='#1a1a1a'>32.8</text>
</svg></body></html>
